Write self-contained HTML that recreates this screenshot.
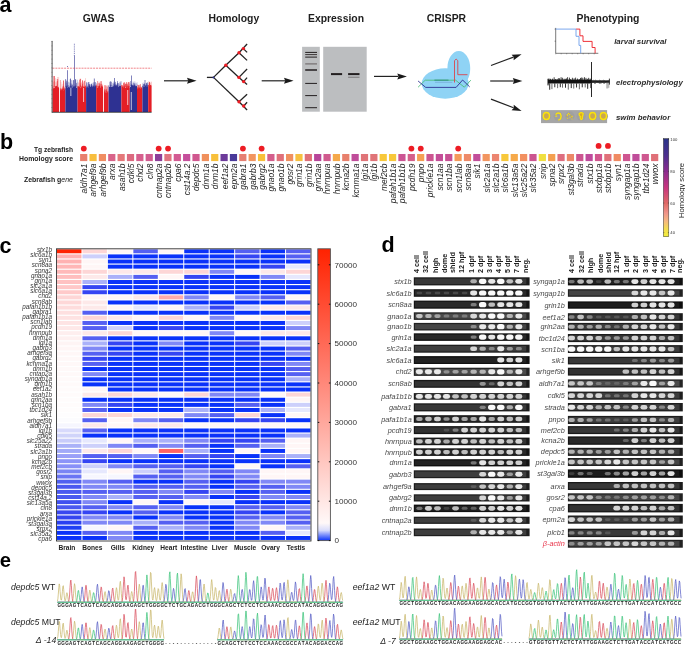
<!DOCTYPE html>
<html><head><meta charset="utf-8"><style>
html,body{margin:0;padding:0;background:#fff;}
body{width:685px;height:645px;overflow:hidden;}
svg{display:block;font-family:"Liberation Sans", sans-serif;will-change:transform;}
</style></head><body>
<svg width="685" height="645" viewBox="0 0 685 645">
<text x="-0.50" y="11.60" font-size="21.5" font-weight="bold" font-style="normal" fill="#000" text-anchor="start" >a</text>
<text x="0.00" y="148.60" font-size="21.5" font-weight="bold" font-style="normal" fill="#000" text-anchor="start" >b</text>
<text x="-0.50" y="252.60" font-size="21.5" font-weight="bold" font-style="normal" fill="#000" text-anchor="start" >c</text>
<text x="381.40" y="252.30" font-size="21.5" font-weight="bold" font-style="normal" fill="#000" text-anchor="start" >d</text>
<text x="-0.30" y="567.20" font-size="20.3" font-weight="bold" font-style="normal" fill="#000" text-anchor="start" >e</text>
<text x="98.50" y="21.70" font-size="10.4" font-weight="bold" font-style="normal" fill="#1e1e1e" text-anchor="middle" >GWAS</text>
<text x="233.80" y="21.70" font-size="10.4" font-weight="bold" font-style="normal" fill="#1e1e1e" text-anchor="middle" >Homology</text>
<text x="336.00" y="21.70" font-size="10.4" font-weight="bold" font-style="normal" fill="#1e1e1e" text-anchor="middle" >Expression</text>
<text x="446.50" y="21.70" font-size="10.4" font-weight="bold" font-style="normal" fill="#1e1e1e" text-anchor="middle" >CRISPR</text>
<text x="608.00" y="21.70" font-size="10.4" font-weight="bold" font-style="normal" fill="#1e1e1e" text-anchor="middle" >Phenotyping</text>
<line x1="164.00" y1="80.80" x2="188.00" y2="80.80" stroke="#222" stroke-width="1.2"/>
<polygon points="196.60,80.80 187.00,83.80 188.20,80.80 187.00,77.80" fill="#1a1a1a"/>
<line x1="261.70" y1="80.80" x2="285.00" y2="80.80" stroke="#222" stroke-width="1.2"/>
<polygon points="293.60,80.80 284.00,83.80 285.20,80.80 284.00,77.80" fill="#1a1a1a"/>
<line x1="374.00" y1="76.40" x2="398.30" y2="76.40" stroke="#222" stroke-width="1.2"/>
<polygon points="406.90,76.40 397.30,79.40 398.50,76.40 397.30,73.40" fill="#1a1a1a"/>
<line x1="491.00" y1="65.50" x2="513.53" y2="57.18" stroke="#222" stroke-width="1.2"/>
<polygon points="521.60,54.20 513.63,60.34 513.72,57.11 511.56,54.71" fill="#1a1a1a"/>
<line x1="490.20" y1="81.00" x2="513.80" y2="81.00" stroke="#222" stroke-width="1.2"/>
<polygon points="522.40,81.00 512.80,84.00 514.00,81.00 512.80,78.00" fill="#1a1a1a"/>
<line x1="491.00" y1="99.10" x2="513.58" y2="107.81" stroke="#222" stroke-width="1.2"/>
<polygon points="521.60,110.90 511.56,110.25 513.76,107.88 513.72,104.65" fill="#1a1a1a"/>
<rect x="52.60" y="80.75" width="0.45" height="6.75" fill="#f7a3a3"/>
<rect x="53.10" y="81.88" width="0.45" height="5.62" fill="#f7a3a3"/>
<rect x="53.60" y="85.70" width="0.45" height="1.80" fill="#f7a3a3"/>
<rect x="54.10" y="80.89" width="0.45" height="6.61" fill="#f7a3a3"/>
<rect x="54.60" y="81.33" width="0.45" height="6.17" fill="#f7a3a3"/>
<rect x="55.10" y="82.17" width="0.45" height="5.33" fill="#f7a3a3"/>
<rect x="55.60" y="77.94" width="0.45" height="9.56" fill="#f7a3a3"/>
<rect x="56.10" y="81.38" width="0.45" height="6.12" fill="#f7a3a3"/>
<rect x="56.60" y="82.61" width="0.45" height="4.89" fill="#f7a3a3"/>
<rect x="57.10" y="84.33" width="0.45" height="3.17" fill="#f7a3a3"/>
<rect x="57.60" y="76.99" width="0.45" height="10.51" fill="#f7a3a3"/>
<rect x="58.10" y="79.19" width="0.45" height="8.31" fill="#f7a3a3"/>
<rect x="58.60" y="76.95" width="0.45" height="10.55" fill="#f7a3a3"/>
<rect x="59.10" y="84.50" width="0.45" height="3.00" fill="#f7a3a3"/>
<rect x="53.05" y="76.00" width="0.4" height="11.50" fill="#e41e26"/>
<rect x="54.85" y="86.45" width="0.4" height="1.05" fill="#e41e26"/>
<rect x="55.75" y="85.87" width="0.4" height="1.63" fill="#e41e26"/>
<rect x="56.20" y="86.41" width="0.4" height="1.09" fill="#e41e26"/>
<rect x="57.10" y="80.96" width="0.4" height="6.54" fill="#e41e26"/>
<polygon points="52.60,112.00 52.60,86.67 53.07,86.13 53.54,88.29 54.01,88.29 54.49,87.82 54.96,87.42 55.43,86.25 55.90,85.99 56.37,86.17 56.84,85.51 57.31,87.60 57.79,86.50 58.26,87.84 58.73,86.46 59.20,88.17 59.20,112.00" fill="#e41e26"/>
<rect x="54.30" y="76.00" width="0.6" height="11.50" fill="#e41e26"/>
<rect x="56.90" y="79.00" width="0.6" height="8.50" fill="#e41e26"/>
<rect x="59.80" y="87.63" width="0.45" height="2.37" fill="#f7a3a3"/>
<rect x="60.30" y="80.00" width="0.45" height="10.00" fill="#f7a3a3"/>
<rect x="60.80" y="81.89" width="0.45" height="8.11" fill="#f7a3a3"/>
<rect x="61.30" y="88.19" width="0.45" height="1.81" fill="#f7a3a3"/>
<rect x="61.80" y="84.23" width="0.45" height="5.77" fill="#f7a3a3"/>
<rect x="62.30" y="88.82" width="0.45" height="1.18" fill="#f7a3a3"/>
<rect x="62.80" y="83.58" width="0.45" height="6.42" fill="#f7a3a3"/>
<rect x="63.30" y="80.66" width="0.45" height="9.34" fill="#f7a3a3"/>
<rect x="63.80" y="85.67" width="0.45" height="4.33" fill="#f7a3a3"/>
<rect x="64.30" y="87.01" width="0.45" height="2.99" fill="#f7a3a3"/>
<rect x="64.80" y="82.43" width="0.45" height="7.57" fill="#f7a3a3"/>
<rect x="65.30" y="80.78" width="0.45" height="9.22" fill="#f7a3a3"/>
<rect x="59.80" y="80.00" width="0.4" height="10.00" fill="#e41e26"/>
<rect x="60.70" y="88.15" width="0.4" height="1.85" fill="#e41e26"/>
<rect x="61.15" y="88.81" width="0.4" height="1.19" fill="#e41e26"/>
<rect x="62.05" y="86.54" width="0.4" height="3.46" fill="#e41e26"/>
<rect x="62.50" y="88.37" width="0.4" height="1.63" fill="#e41e26"/>
<rect x="63.40" y="85.90" width="0.4" height="4.10" fill="#e41e26"/>
<rect x="63.85" y="87.36" width="0.4" height="2.64" fill="#e41e26"/>
<rect x="64.30" y="88.06" width="0.4" height="1.94" fill="#e41e26"/>
<polygon points="59.80,112.00 59.80,88.71 60.27,90.45 60.73,88.43 61.20,88.98 61.67,90.36 62.13,89.73 62.60,88.10 63.07,90.77 63.53,88.44 64.00,88.57 64.47,90.12 64.93,88.79 65.40,88.69 65.40,112.00" fill="#e41e26"/>
<rect x="63.20" y="80.50" width="0.6" height="9.50" fill="#e41e26"/>
<rect x="65.40" y="79.51" width="0.45" height="7.49" fill="#9b9dcc"/>
<rect x="65.90" y="79.63" width="0.45" height="7.37" fill="#9b9dcc"/>
<rect x="66.40" y="83.08" width="0.45" height="3.92" fill="#9b9dcc"/>
<rect x="66.90" y="80.70" width="0.45" height="6.30" fill="#9b9dcc"/>
<rect x="67.40" y="83.21" width="0.45" height="3.79" fill="#9b9dcc"/>
<rect x="67.90" y="81.60" width="0.45" height="5.40" fill="#9b9dcc"/>
<rect x="68.40" y="82.17" width="0.45" height="4.83" fill="#9b9dcc"/>
<rect x="68.90" y="85.71" width="0.45" height="1.29" fill="#9b9dcc"/>
<rect x="69.40" y="82.39" width="0.45" height="4.61" fill="#9b9dcc"/>
<rect x="69.90" y="83.02" width="0.45" height="3.98" fill="#9b9dcc"/>
<rect x="70.40" y="85.07" width="0.45" height="1.93" fill="#9b9dcc"/>
<rect x="70.90" y="80.28" width="0.45" height="6.72" fill="#9b9dcc"/>
<rect x="71.40" y="80.08" width="0.45" height="6.92" fill="#9b9dcc"/>
<rect x="71.90" y="85.36" width="0.45" height="1.64" fill="#9b9dcc"/>
<rect x="72.40" y="84.72" width="0.45" height="2.28" fill="#9b9dcc"/>
<rect x="72.90" y="80.75" width="0.45" height="6.25" fill="#9b9dcc"/>
<rect x="73.40" y="80.33" width="0.45" height="6.67" fill="#9b9dcc"/>
<rect x="73.90" y="84.18" width="0.45" height="2.82" fill="#9b9dcc"/>
<rect x="74.40" y="85.58" width="0.45" height="1.42" fill="#9b9dcc"/>
<rect x="74.90" y="80.38" width="0.45" height="6.62" fill="#9b9dcc"/>
<rect x="75.40" y="85.65" width="0.45" height="1.35" fill="#9b9dcc"/>
<rect x="75.90" y="85.18" width="0.45" height="1.82" fill="#9b9dcc"/>
<rect x="76.40" y="83.22" width="0.45" height="3.78" fill="#9b9dcc"/>
<rect x="76.90" y="81.95" width="0.45" height="5.05" fill="#9b9dcc"/>
<rect x="77.40" y="79.73" width="0.45" height="7.27" fill="#9b9dcc"/>
<rect x="65.40" y="79.00" width="0.4" height="8.00" fill="#2e3192"/>
<rect x="65.85" y="82.34" width="0.4" height="4.66" fill="#2e3192"/>
<rect x="66.30" y="80.79" width="0.4" height="6.21" fill="#2e3192"/>
<rect x="67.20" y="85.42" width="0.4" height="1.58" fill="#2e3192"/>
<rect x="68.10" y="85.22" width="0.4" height="1.78" fill="#2e3192"/>
<rect x="69.90" y="79.00" width="0.4" height="8.00" fill="#2e3192"/>
<rect x="70.35" y="85.95" width="0.4" height="1.05" fill="#2e3192"/>
<rect x="70.80" y="84.23" width="0.4" height="2.77" fill="#2e3192"/>
<rect x="71.25" y="85.42" width="0.4" height="1.58" fill="#2e3192"/>
<rect x="71.70" y="83.45" width="0.4" height="3.55" fill="#2e3192"/>
<rect x="72.15" y="84.65" width="0.4" height="2.35" fill="#2e3192"/>
<rect x="74.85" y="85.89" width="0.4" height="1.11" fill="#2e3192"/>
<rect x="75.30" y="79.00" width="0.4" height="8.00" fill="#2e3192"/>
<rect x="76.65" y="82.97" width="0.4" height="4.03" fill="#2e3192"/>
<polygon points="65.40,112.00 65.40,85.76 65.85,87.80 66.30,85.03 66.76,86.44 67.21,87.01 67.66,87.50 68.11,87.01 68.56,86.91 69.01,87.18 69.47,87.55 69.92,85.86 70.37,86.86 70.82,87.50 71.27,87.41 71.73,86.05 72.18,87.17 72.63,87.39 73.08,86.52 73.53,86.67 73.99,85.95 74.44,86.55 74.89,86.63 75.34,85.04 75.79,86.72 76.24,87.78 76.70,87.44 77.15,86.98 77.60,85.97 77.60,112.00" fill="#2e3192"/>
<rect x="67.20" y="70.20" width="0.6" height="16.80" fill="#2e3192"/>
<rect x="70.30" y="78.50" width="0.6" height="8.50" fill="#2e3192"/>
<rect x="72.90" y="80.00" width="0.6" height="7.00" fill="#2e3192"/>
<rect x="74.00" y="56.00" width="0.6" height="31.00" fill="#2e3192"/>
<rect x="75.50" y="79.50" width="0.6" height="7.50" fill="#2e3192"/>
<rect x="77.60" y="84.25" width="0.45" height="3.25" fill="#f7a3a3"/>
<rect x="78.10" y="82.94" width="0.45" height="4.56" fill="#f7a3a3"/>
<rect x="78.60" y="81.74" width="0.45" height="5.76" fill="#f7a3a3"/>
<rect x="79.10" y="85.13" width="0.45" height="2.37" fill="#f7a3a3"/>
<rect x="79.60" y="78.71" width="0.45" height="8.79" fill="#f7a3a3"/>
<rect x="80.10" y="84.38" width="0.45" height="3.12" fill="#f7a3a3"/>
<rect x="80.60" y="78.25" width="0.45" height="9.25" fill="#f7a3a3"/>
<rect x="81.10" y="83.11" width="0.45" height="4.39" fill="#f7a3a3"/>
<rect x="81.60" y="82.09" width="0.45" height="5.41" fill="#f7a3a3"/>
<rect x="82.10" y="79.96" width="0.45" height="7.54" fill="#f7a3a3"/>
<rect x="82.60" y="83.94" width="0.45" height="3.56" fill="#f7a3a3"/>
<rect x="83.10" y="82.23" width="0.45" height="5.27" fill="#f7a3a3"/>
<rect x="83.60" y="83.22" width="0.45" height="4.28" fill="#f7a3a3"/>
<rect x="84.10" y="85.82" width="0.45" height="1.68" fill="#f7a3a3"/>
<rect x="84.60" y="80.17" width="0.45" height="7.33" fill="#f7a3a3"/>
<rect x="85.10" y="78.10" width="0.45" height="9.40" fill="#f7a3a3"/>
<rect x="85.60" y="80.56" width="0.45" height="6.94" fill="#f7a3a3"/>
<rect x="78.05" y="85.94" width="0.4" height="1.56" fill="#e41e26"/>
<rect x="79.40" y="79.83" width="0.4" height="7.67" fill="#e41e26"/>
<rect x="79.85" y="83.21" width="0.4" height="4.29" fill="#e41e26"/>
<rect x="80.30" y="84.81" width="0.4" height="2.69" fill="#e41e26"/>
<rect x="82.10" y="83.88" width="0.4" height="3.62" fill="#e41e26"/>
<rect x="82.55" y="86.06" width="0.4" height="1.44" fill="#e41e26"/>
<rect x="85.25" y="85.94" width="0.4" height="1.56" fill="#e41e26"/>
<polygon points="77.60,112.00 77.60,86.13 78.07,85.94 78.54,86.54 79.02,87.18 79.49,86.78 79.96,86.25 80.43,87.82 80.91,88.25 81.38,86.66 81.85,85.52 82.32,85.39 82.79,87.92 83.27,85.42 83.74,87.43 84.21,87.01 84.68,86.23 85.16,87.67 85.63,85.36 86.10,85.71 86.10,112.00" fill="#e41e26"/>
<rect x="80.20" y="79.00" width="0.6" height="8.50" fill="#e41e26"/>
<rect x="82.20" y="80.50" width="0.6" height="7.00" fill="#e41e26"/>
<rect x="83.90" y="81.00" width="0.6" height="6.50" fill="#e41e26"/>
<rect x="86.10" y="83.82" width="0.45" height="3.18" fill="#9b9dcc"/>
<rect x="86.60" y="82.10" width="0.45" height="4.90" fill="#9b9dcc"/>
<rect x="87.10" y="85.32" width="0.45" height="1.68" fill="#9b9dcc"/>
<rect x="87.60" y="82.95" width="0.45" height="4.05" fill="#9b9dcc"/>
<rect x="88.10" y="82.56" width="0.45" height="4.44" fill="#9b9dcc"/>
<rect x="88.60" y="82.19" width="0.45" height="4.81" fill="#9b9dcc"/>
<rect x="89.10" y="84.52" width="0.45" height="2.48" fill="#9b9dcc"/>
<rect x="89.60" y="83.79" width="0.45" height="3.21" fill="#9b9dcc"/>
<rect x="90.10" y="84.52" width="0.45" height="2.48" fill="#9b9dcc"/>
<rect x="90.60" y="84.62" width="0.45" height="2.38" fill="#9b9dcc"/>
<rect x="91.10" y="85.23" width="0.45" height="1.77" fill="#9b9dcc"/>
<rect x="91.60" y="85.83" width="0.45" height="1.17" fill="#9b9dcc"/>
<rect x="92.10" y="84.74" width="0.45" height="2.26" fill="#9b9dcc"/>
<rect x="92.60" y="82.80" width="0.45" height="4.20" fill="#9b9dcc"/>
<rect x="93.10" y="83.90" width="0.45" height="3.10" fill="#9b9dcc"/>
<rect x="93.60" y="82.71" width="0.45" height="4.29" fill="#9b9dcc"/>
<rect x="94.10" y="82.04" width="0.45" height="4.96" fill="#9b9dcc"/>
<rect x="94.60" y="83.89" width="0.45" height="3.11" fill="#9b9dcc"/>
<rect x="95.10" y="84.86" width="0.45" height="2.14" fill="#9b9dcc"/>
<rect x="95.60" y="82.72" width="0.45" height="4.28" fill="#9b9dcc"/>
<rect x="96.10" y="83.09" width="0.45" height="3.91" fill="#9b9dcc"/>
<rect x="86.10" y="82.41" width="0.4" height="4.59" fill="#2e3192"/>
<rect x="87.90" y="82.00" width="0.4" height="5.00" fill="#2e3192"/>
<rect x="88.80" y="82.00" width="0.4" height="5.00" fill="#2e3192"/>
<rect x="89.70" y="84.19" width="0.4" height="2.81" fill="#2e3192"/>
<rect x="91.05" y="83.48" width="0.4" height="3.52" fill="#2e3192"/>
<rect x="93.75" y="82.16" width="0.4" height="4.84" fill="#2e3192"/>
<rect x="95.55" y="82.00" width="0.4" height="5.00" fill="#2e3192"/>
<polygon points="86.10,112.00 86.10,87.73 86.56,86.41 87.02,87.17 87.48,85.76 87.94,87.53 88.40,87.37 88.85,85.85 89.31,85.05 89.77,86.12 90.23,86.45 90.69,87.10 91.15,86.26 91.61,84.89 92.07,87.23 92.53,84.99 92.99,87.20 93.45,85.32 93.90,85.81 94.36,87.16 94.82,85.22 95.28,85.25 95.74,86.35 96.20,86.97 96.20,112.00" fill="#2e3192"/>
<rect x="88.70" y="84.00" width="0.6" height="3.00" fill="#2e3192"/>
<rect x="91.20" y="84.00" width="0.6" height="3.00" fill="#2e3192"/>
<rect x="93.90" y="78.50" width="0.6" height="8.50" fill="#2e3192"/>
<rect x="96.20" y="85.20" width="0.45" height="1.80" fill="#f7a3a3"/>
<rect x="96.70" y="84.45" width="0.45" height="2.55" fill="#f7a3a3"/>
<rect x="97.20" y="85.73" width="0.45" height="1.27" fill="#f7a3a3"/>
<rect x="97.70" y="83.46" width="0.45" height="3.54" fill="#f7a3a3"/>
<rect x="98.20" y="85.75" width="0.45" height="1.25" fill="#f7a3a3"/>
<rect x="98.70" y="81.43" width="0.45" height="5.57" fill="#f7a3a3"/>
<rect x="99.20" y="82.11" width="0.45" height="4.89" fill="#f7a3a3"/>
<rect x="99.70" y="83.63" width="0.45" height="3.37" fill="#f7a3a3"/>
<rect x="100.20" y="82.45" width="0.45" height="4.55" fill="#f7a3a3"/>
<rect x="100.70" y="84.64" width="0.45" height="2.36" fill="#f7a3a3"/>
<rect x="101.20" y="84.19" width="0.45" height="2.81" fill="#f7a3a3"/>
<rect x="101.70" y="83.61" width="0.45" height="3.39" fill="#f7a3a3"/>
<rect x="102.20" y="85.22" width="0.45" height="1.78" fill="#f7a3a3"/>
<rect x="102.70" y="83.80" width="0.45" height="3.20" fill="#f7a3a3"/>
<rect x="96.20" y="84.56" width="0.4" height="2.44" fill="#e41e26"/>
<rect x="97.55" y="81.00" width="0.4" height="6.00" fill="#e41e26"/>
<rect x="99.35" y="83.70" width="0.4" height="3.30" fill="#e41e26"/>
<rect x="100.70" y="81.00" width="0.4" height="6.00" fill="#e41e26"/>
<rect x="101.60" y="81.16" width="0.4" height="5.84" fill="#e41e26"/>
<polygon points="96.20,112.00 96.20,85.00 96.67,86.42 97.13,86.04 97.60,87.67 98.07,87.57 98.53,85.61 99.00,86.22 99.47,85.18 99.93,86.10 100.40,87.25 100.87,87.50 101.33,86.23 101.80,85.75 102.27,85.37 102.73,86.65 103.20,87.58 103.20,112.00" fill="#e41e26"/>
<rect x="98.70" y="83.00" width="0.6" height="4.00" fill="#e41e26"/>
<rect x="100.70" y="84.00" width="0.6" height="3.00" fill="#e41e26"/>
<rect x="103.80" y="85.78" width="0.45" height="6.22" fill="#f7a3a3"/>
<rect x="104.30" y="89.68" width="0.45" height="2.32" fill="#f7a3a3"/>
<rect x="104.80" y="85.14" width="0.45" height="6.86" fill="#f7a3a3"/>
<rect x="105.30" y="86.16" width="0.45" height="5.84" fill="#f7a3a3"/>
<rect x="105.80" y="86.36" width="0.45" height="5.64" fill="#f7a3a3"/>
<rect x="106.30" y="89.12" width="0.45" height="2.88" fill="#f7a3a3"/>
<rect x="106.80" y="86.93" width="0.45" height="5.07" fill="#f7a3a3"/>
<rect x="107.30" y="87.13" width="0.45" height="4.87" fill="#f7a3a3"/>
<rect x="107.80" y="88.72" width="0.45" height="3.28" fill="#f7a3a3"/>
<rect x="108.30" y="85.63" width="0.45" height="6.37" fill="#f7a3a3"/>
<rect x="104.25" y="88.86" width="0.4" height="3.14" fill="#e41e26"/>
<rect x="104.70" y="90.34" width="0.4" height="1.66" fill="#e41e26"/>
<rect x="105.60" y="89.59" width="0.4" height="2.41" fill="#e41e26"/>
<rect x="106.05" y="88.74" width="0.4" height="3.26" fill="#e41e26"/>
<rect x="106.50" y="90.31" width="0.4" height="1.69" fill="#e41e26"/>
<polygon points="103.80,112.00 103.80,91.64 104.28,92.37 104.76,90.50 105.24,92.02 105.72,92.23 106.20,92.51 106.68,90.75 107.16,90.74 107.64,92.57 108.12,90.45 108.60,92.80 108.60,112.00" fill="#e41e26"/>
<rect x="104.70" y="85.00" width="0.6" height="7.00" fill="#e41e26"/>
<rect x="106.70" y="85.50" width="0.6" height="6.50" fill="#e41e26"/>
<rect x="108.60" y="84.99" width="0.45" height="1.51" fill="#9b9dcc"/>
<rect x="109.10" y="81.60" width="0.45" height="4.90" fill="#9b9dcc"/>
<rect x="109.60" y="82.08" width="0.45" height="4.42" fill="#9b9dcc"/>
<rect x="110.10" y="84.27" width="0.45" height="2.23" fill="#9b9dcc"/>
<rect x="110.60" y="82.17" width="0.45" height="4.33" fill="#9b9dcc"/>
<rect x="111.10" y="81.44" width="0.45" height="5.06" fill="#9b9dcc"/>
<rect x="111.60" y="84.74" width="0.45" height="1.76" fill="#9b9dcc"/>
<rect x="112.10" y="82.90" width="0.45" height="3.60" fill="#9b9dcc"/>
<rect x="112.60" y="84.55" width="0.45" height="1.95" fill="#9b9dcc"/>
<rect x="113.10" y="81.57" width="0.45" height="4.93" fill="#9b9dcc"/>
<rect x="113.60" y="82.81" width="0.45" height="3.69" fill="#9b9dcc"/>
<rect x="114.10" y="84.08" width="0.45" height="2.42" fill="#9b9dcc"/>
<rect x="114.60" y="81.08" width="0.45" height="5.42" fill="#9b9dcc"/>
<rect x="115.10" y="81.90" width="0.45" height="4.60" fill="#9b9dcc"/>
<rect x="115.60" y="84.07" width="0.45" height="2.43" fill="#9b9dcc"/>
<rect x="116.10" y="85.10" width="0.45" height="1.40" fill="#9b9dcc"/>
<rect x="116.60" y="85.36" width="0.45" height="1.14" fill="#9b9dcc"/>
<rect x="117.10" y="81.52" width="0.45" height="4.98" fill="#9b9dcc"/>
<rect x="117.60" y="83.28" width="0.45" height="3.22" fill="#9b9dcc"/>
<rect x="118.10" y="84.41" width="0.45" height="2.09" fill="#9b9dcc"/>
<rect x="118.60" y="83.26" width="0.45" height="3.24" fill="#9b9dcc"/>
<rect x="119.10" y="84.09" width="0.45" height="2.41" fill="#9b9dcc"/>
<rect x="119.60" y="81.85" width="0.45" height="4.65" fill="#9b9dcc"/>
<rect x="120.10" y="81.32" width="0.45" height="5.18" fill="#9b9dcc"/>
<rect x="120.60" y="81.48" width="0.45" height="5.02" fill="#9b9dcc"/>
<rect x="121.10" y="81.17" width="0.45" height="5.33" fill="#9b9dcc"/>
<rect x="109.95" y="84.89" width="0.4" height="1.61" fill="#2e3192"/>
<rect x="110.40" y="81.00" width="0.4" height="5.50" fill="#2e3192"/>
<rect x="111.75" y="85.31" width="0.4" height="1.19" fill="#2e3192"/>
<rect x="113.55" y="83.61" width="0.4" height="2.89" fill="#2e3192"/>
<rect x="114.45" y="82.74" width="0.4" height="3.76" fill="#2e3192"/>
<rect x="114.90" y="81.88" width="0.4" height="4.62" fill="#2e3192"/>
<rect x="115.80" y="83.68" width="0.4" height="2.82" fill="#2e3192"/>
<rect x="116.70" y="84.85" width="0.4" height="1.65" fill="#2e3192"/>
<rect x="117.15" y="83.34" width="0.4" height="3.16" fill="#2e3192"/>
<rect x="117.60" y="81.00" width="0.4" height="5.50" fill="#2e3192"/>
<rect x="119.85" y="82.75" width="0.4" height="3.75" fill="#2e3192"/>
<polygon points="108.60,112.00 108.60,85.07 109.06,87.03 109.51,86.53 109.97,86.63 110.43,86.74 110.89,85.52 111.34,86.99 111.80,86.94 112.26,86.38 112.71,86.60 113.17,86.60 113.63,85.52 114.09,86.47 114.54,84.51 115.00,85.33 115.46,85.71 115.91,84.33 116.37,85.37 116.83,86.22 117.29,86.17 117.74,85.00 118.20,87.13 118.66,86.30 119.11,85.31 119.57,86.28 120.03,86.01 120.49,85.90 120.94,85.47 121.40,87.30 121.40,112.00" fill="#2e3192"/>
<rect x="110.70" y="82.00" width="0.6" height="4.50" fill="#2e3192"/>
<rect x="114.30" y="78.00" width="0.6" height="8.50" fill="#2e3192"/>
<rect x="117.70" y="83.00" width="0.6" height="3.50" fill="#2e3192"/>
<rect x="121.40" y="84.57" width="0.45" height="2.43" fill="#f7a3a3"/>
<rect x="121.90" y="84.81" width="0.45" height="2.19" fill="#f7a3a3"/>
<rect x="122.40" y="85.05" width="0.45" height="1.95" fill="#f7a3a3"/>
<rect x="122.90" y="85.92" width="0.45" height="1.08" fill="#f7a3a3"/>
<rect x="123.40" y="82.09" width="0.45" height="4.91" fill="#f7a3a3"/>
<rect x="123.90" y="84.46" width="0.45" height="2.54" fill="#f7a3a3"/>
<rect x="124.40" y="84.96" width="0.45" height="2.04" fill="#f7a3a3"/>
<rect x="124.90" y="83.03" width="0.45" height="3.97" fill="#f7a3a3"/>
<rect x="125.40" y="83.61" width="0.45" height="3.39" fill="#f7a3a3"/>
<rect x="125.90" y="82.20" width="0.45" height="4.80" fill="#f7a3a3"/>
<rect x="126.40" y="82.78" width="0.45" height="4.22" fill="#f7a3a3"/>
<rect x="126.90" y="83.50" width="0.45" height="3.50" fill="#f7a3a3"/>
<rect x="127.40" y="82.39" width="0.45" height="4.61" fill="#f7a3a3"/>
<rect x="127.90" y="83.00" width="0.45" height="4.00" fill="#f7a3a3"/>
<rect x="128.40" y="85.62" width="0.45" height="1.38" fill="#f7a3a3"/>
<rect x="128.90" y="84.20" width="0.45" height="2.80" fill="#f7a3a3"/>
<rect x="129.40" y="84.03" width="0.45" height="2.97" fill="#f7a3a3"/>
<rect x="123.65" y="83.27" width="0.4" height="3.73" fill="#e41e26"/>
<rect x="124.55" y="82.00" width="0.4" height="5.00" fill="#e41e26"/>
<rect x="125.00" y="84.09" width="0.4" height="2.91" fill="#e41e26"/>
<rect x="125.45" y="83.95" width="0.4" height="3.05" fill="#e41e26"/>
<rect x="126.35" y="82.00" width="0.4" height="5.00" fill="#e41e26"/>
<rect x="126.80" y="83.76" width="0.4" height="3.24" fill="#e41e26"/>
<rect x="127.70" y="84.99" width="0.4" height="2.01" fill="#e41e26"/>
<rect x="129.05" y="82.22" width="0.4" height="4.78" fill="#e41e26"/>
<rect x="129.50" y="85.96" width="0.4" height="1.04" fill="#e41e26"/>
<polygon points="121.40,112.00 121.40,85.54 121.87,84.93 122.33,85.27 122.80,87.06 123.27,85.97 123.73,87.49 124.20,87.05 124.67,84.95 125.13,87.77 125.60,87.63 126.07,85.02 126.53,87.52 127.00,86.09 127.47,86.23 127.93,87.72 128.40,85.53 128.87,86.37 129.33,87.61 129.80,86.97 129.80,112.00" fill="#e41e26"/>
<rect x="123.70" y="83.00" width="0.6" height="4.00" fill="#e41e26"/>
<rect x="126.70" y="84.00" width="0.6" height="3.00" fill="#e41e26"/>
<rect x="128.20" y="82.00" width="0.6" height="5.00" fill="#e41e26"/>
<rect x="129.80" y="83.11" width="0.45" height="3.39" fill="#9b9dcc"/>
<rect x="130.30" y="85.40" width="0.45" height="1.10" fill="#9b9dcc"/>
<rect x="130.80" y="84.68" width="0.45" height="1.82" fill="#9b9dcc"/>
<rect x="131.30" y="83.72" width="0.45" height="2.78" fill="#9b9dcc"/>
<rect x="131.80" y="81.52" width="0.45" height="4.98" fill="#9b9dcc"/>
<rect x="132.30" y="83.81" width="0.45" height="2.69" fill="#9b9dcc"/>
<rect x="132.80" y="83.05" width="0.45" height="3.45" fill="#9b9dcc"/>
<rect x="133.30" y="81.92" width="0.45" height="4.58" fill="#9b9dcc"/>
<rect x="133.80" y="81.23" width="0.45" height="5.27" fill="#9b9dcc"/>
<rect x="134.30" y="83.38" width="0.45" height="3.12" fill="#9b9dcc"/>
<rect x="134.80" y="81.56" width="0.45" height="4.94" fill="#9b9dcc"/>
<rect x="135.30" y="82.99" width="0.45" height="3.51" fill="#9b9dcc"/>
<rect x="135.80" y="84.01" width="0.45" height="2.49" fill="#9b9dcc"/>
<rect x="136.30" y="83.05" width="0.45" height="3.45" fill="#9b9dcc"/>
<rect x="136.80" y="82.18" width="0.45" height="4.32" fill="#9b9dcc"/>
<rect x="130.25" y="81.00" width="0.4" height="5.50" fill="#2e3192"/>
<rect x="132.50" y="85.14" width="0.4" height="1.36" fill="#2e3192"/>
<rect x="134.30" y="84.55" width="0.4" height="1.95" fill="#2e3192"/>
<rect x="137.00" y="84.64" width="0.4" height="1.86" fill="#2e3192"/>
<polygon points="129.80,112.00 129.80,87.24 130.28,87.05 130.76,86.94 131.24,84.42 131.72,84.48 132.20,85.11 132.68,85.58 133.16,86.17 133.64,84.61 134.12,85.92 134.60,84.52 135.08,84.56 135.56,86.33 136.04,85.95 136.52,86.19 137.00,85.42 137.00,112.00" fill="#2e3192"/>
<rect x="131.20" y="75.50" width="0.6" height="11.00" fill="#2e3192"/>
<rect x="133.70" y="83.00" width="0.6" height="3.50" fill="#2e3192"/>
<rect x="137.00" y="85.91" width="0.45" height="3.09" fill="#f7a3a3"/>
<rect x="137.50" y="84.84" width="0.45" height="4.16" fill="#f7a3a3"/>
<rect x="138.00" y="85.37" width="0.45" height="3.63" fill="#f7a3a3"/>
<rect x="138.50" y="86.98" width="0.45" height="2.02" fill="#f7a3a3"/>
<rect x="139.00" y="87.35" width="0.45" height="1.65" fill="#f7a3a3"/>
<rect x="139.50" y="84.30" width="0.45" height="4.70" fill="#f7a3a3"/>
<rect x="140.00" y="84.48" width="0.45" height="4.52" fill="#f7a3a3"/>
<rect x="140.50" y="87.24" width="0.45" height="1.76" fill="#f7a3a3"/>
<rect x="141.00" y="86.49" width="0.45" height="2.51" fill="#f7a3a3"/>
<rect x="141.50" y="87.08" width="0.45" height="1.92" fill="#f7a3a3"/>
<rect x="142.00" y="84.85" width="0.45" height="4.15" fill="#f7a3a3"/>
<rect x="137.00" y="87.10" width="0.4" height="1.90" fill="#e41e26"/>
<rect x="137.90" y="84.82" width="0.4" height="4.18" fill="#e41e26"/>
<rect x="138.80" y="85.61" width="0.4" height="3.39" fill="#e41e26"/>
<rect x="140.15" y="86.62" width="0.4" height="2.38" fill="#e41e26"/>
<rect x="140.60" y="84.00" width="0.4" height="5.00" fill="#e41e26"/>
<rect x="141.05" y="87.74" width="0.4" height="1.26" fill="#e41e26"/>
<polygon points="137.00,112.00 137.00,87.70 137.45,89.13 137.90,87.03 138.35,87.44 138.80,88.79 139.25,87.05 139.70,87.71 140.15,88.97 140.60,88.88 141.05,87.65 141.50,87.23 141.95,87.87 142.40,88.98 142.40,112.00" fill="#e41e26"/>
<rect x="138.70" y="85.00" width="0.6" height="4.00" fill="#e41e26"/>
<rect x="142.40" y="83.28" width="0.45" height="3.22" fill="#9b9dcc"/>
<rect x="142.90" y="82.41" width="0.45" height="4.09" fill="#9b9dcc"/>
<rect x="143.40" y="84.48" width="0.45" height="2.02" fill="#9b9dcc"/>
<rect x="143.90" y="83.99" width="0.45" height="2.51" fill="#9b9dcc"/>
<rect x="144.40" y="85.21" width="0.45" height="1.29" fill="#9b9dcc"/>
<rect x="144.90" y="85.29" width="0.45" height="1.21" fill="#9b9dcc"/>
<rect x="145.40" y="85.20" width="0.45" height="1.30" fill="#9b9dcc"/>
<rect x="145.90" y="83.53" width="0.45" height="2.97" fill="#9b9dcc"/>
<rect x="146.40" y="84.81" width="0.45" height="1.69" fill="#9b9dcc"/>
<rect x="146.90" y="83.07" width="0.45" height="3.43" fill="#9b9dcc"/>
<rect x="147.40" y="83.11" width="0.45" height="3.39" fill="#9b9dcc"/>
<rect x="147.90" y="83.40" width="0.45" height="3.10" fill="#9b9dcc"/>
<rect x="143.30" y="84.15" width="0.4" height="2.35" fill="#2e3192"/>
<rect x="143.75" y="84.15" width="0.4" height="2.35" fill="#2e3192"/>
<rect x="144.20" y="84.03" width="0.4" height="2.47" fill="#2e3192"/>
<rect x="144.65" y="83.01" width="0.4" height="3.49" fill="#2e3192"/>
<rect x="146.90" y="82.00" width="0.4" height="4.50" fill="#2e3192"/>
<rect x="147.80" y="85.43" width="0.4" height="1.07" fill="#2e3192"/>
<polygon points="142.40,112.00 142.40,85.85 142.88,85.93 143.37,86.00 143.85,87.20 144.33,86.25 144.82,86.71 145.30,84.49 145.78,85.94 146.27,86.66 146.75,84.55 147.23,84.55 147.72,86.51 148.20,87.00 148.20,112.00" fill="#2e3192"/>
<rect x="144.70" y="80.00" width="0.6" height="6.50" fill="#2e3192"/>
<rect x="146.20" y="83.00" width="0.6" height="3.50" fill="#2e3192"/>
<rect x="148.20" y="81.25" width="0.45" height="3.75" fill="#f7a3a3"/>
<rect x="148.70" y="82.90" width="0.45" height="2.10" fill="#f7a3a3"/>
<rect x="149.20" y="81.43" width="0.45" height="3.57" fill="#f7a3a3"/>
<rect x="149.70" y="83.24" width="0.45" height="1.76" fill="#f7a3a3"/>
<rect x="150.20" y="82.95" width="0.45" height="2.05" fill="#f7a3a3"/>
<rect x="150.70" y="81.74" width="0.45" height="3.26" fill="#f7a3a3"/>
<rect x="151.20" y="81.66" width="0.45" height="3.34" fill="#f7a3a3"/>
<rect x="149.55" y="82.76" width="0.4" height="2.24" fill="#e41e26"/>
<polygon points="148.20,112.00 148.20,84.96 148.69,84.92 149.17,85.54 149.66,84.03 150.14,85.28 150.63,84.80 151.11,85.36 151.60,85.22 151.60,112.00" fill="#e41e26"/>
<rect x="149.20" y="82.00" width="0.6" height="3.00" fill="#e41e26"/>
<rect x="73.90" y="43.80" width="0.8" height="0.8" fill="#2e3192"/>
<rect x="73.90" y="45.70" width="0.8" height="0.8" fill="#2e3192"/>
<rect x="73.90" y="47.60" width="0.8" height="0.8" fill="#2e3192"/>
<rect x="73.90" y="49.50" width="0.8" height="0.8" fill="#2e3192"/>
<rect x="73.90" y="51.40" width="0.8" height="0.8" fill="#2e3192"/>
<rect x="73.90" y="53.30" width="0.8" height="0.8" fill="#2e3192"/>
<rect x="73.90" y="55.20" width="0.8" height="0.8" fill="#2e3192"/>
<rect x="67.10" y="66.0" width="0.8" height="0.8" fill="#2e3192"/>
<rect x="59.15" y="80" width="0.7" height="32" fill="#fff"/>
<rect x="103.15" y="84" width="0.7" height="28" fill="#fff"/>
<rect x="70.55" y="88" width="0.7" height="8" fill="#fff"/>
<rect x="83.35" y="88" width="0.7" height="14" fill="#fff"/>
<rect x="127.45" y="90" width="0.7" height="15" fill="#fff"/>
<rect x="130.85" y="92" width="0.7" height="18" fill="#fff"/>
<line x1="52.5" y1="68.2" x2="151.6" y2="68.2" stroke="#e8323a" stroke-width="0.6" stroke-dasharray="2.0,0.9"/>
<line x1="52.1" y1="40.9" x2="52.1" y2="112.3" stroke="#222" stroke-width="0.8"/>
<line x1="51.7" y1="112.3" x2="151.6" y2="112.3" stroke="#222" stroke-width="0.8"/>
<line x1="51.4" y1="41.50" x2="52.4" y2="41.50" stroke="#444" stroke-width="0.4"/>
<line x1="51.4" y1="45.90" x2="52.4" y2="45.90" stroke="#444" stroke-width="0.4"/>
<line x1="51.4" y1="50.30" x2="52.4" y2="50.30" stroke="#444" stroke-width="0.4"/>
<line x1="51.4" y1="54.70" x2="52.4" y2="54.70" stroke="#444" stroke-width="0.4"/>
<line x1="51.4" y1="59.10" x2="52.4" y2="59.10" stroke="#444" stroke-width="0.4"/>
<line x1="51.4" y1="63.50" x2="52.4" y2="63.50" stroke="#444" stroke-width="0.4"/>
<line x1="51.4" y1="67.90" x2="52.4" y2="67.90" stroke="#444" stroke-width="0.4"/>
<line x1="51.4" y1="72.30" x2="52.4" y2="72.30" stroke="#444" stroke-width="0.4"/>
<line x1="51.4" y1="76.70" x2="52.4" y2="76.70" stroke="#444" stroke-width="0.4"/>
<line x1="51.4" y1="81.10" x2="52.4" y2="81.10" stroke="#444" stroke-width="0.4"/>
<line x1="51.4" y1="85.50" x2="52.4" y2="85.50" stroke="#444" stroke-width="0.4"/>
<line x1="51.4" y1="89.90" x2="52.4" y2="89.90" stroke="#444" stroke-width="0.4"/>
<line x1="51.4" y1="94.30" x2="52.4" y2="94.30" stroke="#444" stroke-width="0.4"/>
<line x1="51.4" y1="98.70" x2="52.4" y2="98.70" stroke="#444" stroke-width="0.4"/>
<line x1="51.4" y1="103.10" x2="52.4" y2="103.10" stroke="#444" stroke-width="0.4"/>
<line x1="51.4" y1="107.50" x2="52.4" y2="107.50" stroke="#444" stroke-width="0.4"/>
<line x1="206.9" y1="77.4" x2="213.5" y2="77.4" stroke="#222" stroke-width="1.3" stroke-linecap="butt"/>
<line x1="213.5" y1="77.4" x2="225.8" y2="65.2" stroke="#222" stroke-width="1.3" stroke-linecap="butt"/>
<line x1="213.5" y1="77.4" x2="239.0" y2="101.7" stroke="#222" stroke-width="1.3" stroke-linecap="butt"/>
<line x1="225.8" y1="65.2" x2="239.0" y2="52.7" stroke="#222" stroke-width="1.3" stroke-linecap="butt"/>
<line x1="225.8" y1="65.2" x2="238.9" y2="77.4" stroke="#222" stroke-width="1.3" stroke-linecap="butt"/>
<line x1="239.0" y1="52.7" x2="247.1" y2="44.0" stroke="#222" stroke-width="1.3" stroke-linecap="butt"/>
<line x1="243.4" y1="48.6" x2="247.1" y2="52.4" stroke="#222" stroke-width="1.3" stroke-linecap="butt"/>
<line x1="239.0" y1="52.7" x2="247.1" y2="60.4" stroke="#222" stroke-width="1.3" stroke-linecap="butt"/>
<line x1="238.9" y1="77.4" x2="247.1" y2="69.0" stroke="#222" stroke-width="1.3" stroke-linecap="butt"/>
<line x1="238.9" y1="77.4" x2="247.1" y2="84.5" stroke="#222" stroke-width="1.3" stroke-linecap="butt"/>
<line x1="243.6" y1="81.6" x2="247.1" y2="77.6" stroke="#222" stroke-width="1.3" stroke-linecap="butt"/>
<line x1="239.0" y1="101.7" x2="247.1" y2="94.3" stroke="#222" stroke-width="1.3" stroke-linecap="butt"/>
<line x1="239.0" y1="101.7" x2="247.1" y2="110.0" stroke="#222" stroke-width="1.3" stroke-linecap="butt"/>
<line x1="243.7" y1="106.0" x2="247.1" y2="102.3" stroke="#222" stroke-width="1.3" stroke-linecap="butt"/>
<circle cx="225.8" cy="65.2" r="1.7" fill="#ec1c24"/>
<circle cx="239.0" cy="52.7" r="1.7" fill="#ec1c24"/>
<circle cx="243.4" cy="48.6" r="1.7" fill="#ec1c24"/>
<circle cx="238.9" cy="77.4" r="1.7" fill="#ec1c24"/>
<circle cx="243.6" cy="81.6" r="1.7" fill="#ec1c24"/>
<circle cx="239.0" cy="101.7" r="1.7" fill="#ec1c24"/>
<circle cx="243.7" cy="106.0" r="1.7" fill="#ec1c24"/>
<circle cx="213.5" cy="77.4" r="1.0" fill="#2e3192"/>
<rect x="302.1" y="46.8" width="17.7" height="64.9" fill="#bcbec0"/>
<rect x="323.2" y="46.8" width="43.5" height="64.9" fill="#bcbec0"/>
<rect x="305.2" y="51.90" width="11.8" height="1.0" fill="#231f20"/>
<rect x="305.2" y="54.10" width="11.8" height="1.0" fill="#3a3536"/>
<rect x="305.2" y="56.60" width="11.8" height="1.0" fill="#231f20"/>
<rect x="305.2" y="63.35" width="11.8" height="1.1" fill="#6d6869"/>
<rect x="305.2" y="69.25" width="11.8" height="1.5" fill="#231f20"/>
<rect x="305.2" y="82.90" width="11.8" height="1.0" fill="#231f20"/>
<rect x="305.2" y="95.10" width="11.8" height="1.0" fill="#231f20"/>
<rect x="305.2" y="107.20" width="11.8" height="1.0" fill="#231f20"/>
<rect x="331.0" y="73.1" width="11.1" height="2.0" fill="#231f20"/>
<rect x="348.1" y="73.1" width="11.4" height="2.0" fill="#231f20"/>
<rect x="348.1" y="76.8" width="11.4" height="0.7" fill="#5d5859"/>
<ellipse cx="445.2" cy="83.5" rx="23.5" ry="15.2" fill="#8fd3f5"/>
<ellipse cx="458.8" cy="68.5" rx="11.4" ry="17.6" fill="#8fd3f5"/>
<polyline points="418.1,87.2 425.2,80.2 455.6,80.2 464.3,87.2 470.8,80.2" fill="none" stroke="#4dbe7a" stroke-width="0.9"/>
<line x1="434.4" y1="80.2" x2="448.5" y2="80.2" stroke="#3a9a8a" stroke-width="1.2"/>
<polyline points="418.1,81.0 425.7,87.4 456.1,87.4 462.6,80.0 469.7,86.9" fill="none" stroke="#2e3192" stroke-width="0.9"/>
<line x1="435" y1="82.3" x2="452.3" y2="82.3" stroke="#5d7fc0" stroke-width="0.4"/>
<path d="M454.5,82.5 L454.5,60.6 Q456.15,57.6 457.8,60.6 L457.8,74.7 L467.5,74.7" fill="none" stroke="#d9454f" stroke-width="0.9"/>
<line x1="555.7" y1="27.9" x2="555.7" y2="53.3" stroke="#222" stroke-width="0.6"/>
<line x1="555.7" y1="53.3" x2="598.3" y2="53.3" stroke="#222" stroke-width="0.6"/>
<line x1="554.6" y1="29.1" x2="555.7" y2="29.1" stroke="#222" stroke-width="0.5"/>
<line x1="554.6" y1="41.2" x2="555.7" y2="41.2" stroke="#222" stroke-width="0.5"/>
<line x1="555.70" y1="53.3" x2="555.70" y2="54.3" stroke="#222" stroke-width="0.4"/>
<line x1="561.20" y1="53.3" x2="561.20" y2="54.3" stroke="#222" stroke-width="0.4"/>
<line x1="566.70" y1="53.3" x2="566.70" y2="54.3" stroke="#222" stroke-width="0.4"/>
<line x1="572.20" y1="53.3" x2="572.20" y2="54.3" stroke="#222" stroke-width="0.4"/>
<line x1="577.70" y1="53.3" x2="577.70" y2="54.3" stroke="#222" stroke-width="0.4"/>
<line x1="583.20" y1="53.3" x2="583.20" y2="54.3" stroke="#222" stroke-width="0.4"/>
<line x1="588.70" y1="53.3" x2="588.70" y2="54.3" stroke="#222" stroke-width="0.4"/>
<line x1="594.20" y1="53.3" x2="594.20" y2="54.3" stroke="#222" stroke-width="0.4"/>
<polyline points="576,29.1 579.9,29.1 579.9,35.8 583,35.8 583,41.4 592.1,41.4 592.1,47.5 595.1,47.5 595.1,53.3" fill="none" stroke="#ed1c24" stroke-width="0.9"/>
<polyline points="555.7,29.1 576,29.1 576,36.3 579,36.3 579,45.4 580.7,45.4 580.7,53.3" fill="none" stroke="#6d9eeb" stroke-width="0.9"/>
<rect x="548.0" y="79.6" width="43.5" height="3.9" fill="#111"/>
<rect x="591.5" y="80.4" width="18.1" height="2.4" fill="#151515"/>
<rect x="547.5" y="78.8" width="1.1" height="6.6" fill="#151515"/>
<rect x="548.60" y="78.45" width="0.8" height="1.55" fill="#1a1a1a"/>
<rect x="550.22" y="78.79" width="0.8" height="1.21" fill="#1a1a1a"/>
<rect x="551.98" y="78.68" width="0.8" height="1.32" fill="#1a1a1a"/>
<rect x="553.72" y="77.26" width="0.8" height="2.74" fill="#1a1a1a"/>
<rect x="555.15" y="79.09" width="0.8" height="0.91" fill="#1a1a1a"/>
<rect x="556.70" y="79.00" width="0.8" height="1.00" fill="#1a1a1a"/>
<rect x="557.88" y="78.14" width="0.8" height="1.86" fill="#1a1a1a"/>
<rect x="559.16" y="78.29" width="0.8" height="1.71" fill="#1a1a1a"/>
<rect x="560.66" y="77.23" width="0.8" height="2.77" fill="#1a1a1a"/>
<rect x="561.91" y="77.76" width="0.8" height="2.24" fill="#1a1a1a"/>
<rect x="563.65" y="78.73" width="0.8" height="1.27" fill="#1a1a1a"/>
<rect x="564.86" y="78.79" width="0.8" height="1.21" fill="#1a1a1a"/>
<rect x="566.06" y="78.43" width="0.8" height="1.57" fill="#1a1a1a"/>
<rect x="567.25" y="77.20" width="0.8" height="2.80" fill="#1a1a1a"/>
<rect x="568.96" y="77.62" width="0.8" height="2.38" fill="#1a1a1a"/>
<rect x="570.21" y="79.16" width="0.8" height="0.84" fill="#1a1a1a"/>
<rect x="571.92" y="77.78" width="0.8" height="2.22" fill="#1a1a1a"/>
<rect x="573.69" y="78.28" width="0.8" height="1.72" fill="#1a1a1a"/>
<rect x="575.27" y="77.61" width="0.8" height="2.39" fill="#1a1a1a"/>
<rect x="577.03" y="78.58" width="0.8" height="1.42" fill="#1a1a1a"/>
<rect x="578.80" y="78.99" width="0.8" height="1.01" fill="#1a1a1a"/>
<rect x="580.11" y="77.92" width="0.8" height="2.08" fill="#1a1a1a"/>
<rect x="581.33" y="77.49" width="0.8" height="2.51" fill="#1a1a1a"/>
<rect x="582.47" y="77.80" width="0.8" height="2.20" fill="#1a1a1a"/>
<rect x="584.00" y="77.21" width="0.8" height="2.79" fill="#1a1a1a"/>
<rect x="585.57" y="77.88" width="0.8" height="2.12" fill="#1a1a1a"/>
<rect x="586.89" y="78.84" width="0.8" height="1.16" fill="#1a1a1a"/>
<rect x="588.32" y="77.83" width="0.8" height="2.17" fill="#1a1a1a"/>
<rect x="589.76" y="78.61" width="0.8" height="1.39" fill="#1a1a1a"/>
<rect x="549.20" y="83.3" width="1.0" height="6.44" fill="#2a2a2a"/>
<rect x="551.42" y="83.3" width="1.0" height="5.85" fill="#6a6a6a"/>
<rect x="554.29" y="83.3" width="1.0" height="3.95" fill="#2a2a2a"/>
<rect x="557.12" y="83.3" width="1.0" height="4.85" fill="#6a6a6a"/>
<rect x="559.79" y="83.3" width="1.0" height="3.92" fill="#2a2a2a"/>
<rect x="562.02" y="83.3" width="1.0" height="4.37" fill="#6a6a6a"/>
<rect x="564.99" y="83.3" width="1.0" height="4.41" fill="#2a2a2a"/>
<rect x="567.79" y="83.3" width="1.0" height="6.32" fill="#6a6a6a"/>
<rect x="570.75" y="83.3" width="1.0" height="4.80" fill="#2a2a2a"/>
<rect x="573.23" y="83.3" width="1.0" height="5.26" fill="#6a6a6a"/>
<rect x="576.05" y="83.3" width="1.0" height="4.18" fill="#2a2a2a"/>
<rect x="578.85" y="83.3" width="1.0" height="5.97" fill="#6a6a6a"/>
<rect x="581.74" y="83.3" width="1.0" height="4.00" fill="#2a2a2a"/>
<rect x="584.69" y="83.3" width="1.0" height="4.14" fill="#6a6a6a"/>
<rect x="587.17" y="83.3" width="1.0" height="5.49" fill="#2a2a2a"/>
<rect x="590.10" y="83.3" width="1.0" height="4.78" fill="#6a6a6a"/>
<rect x="592.50" y="80.15" width="0.5" height="2.89" fill="#333"/>
<rect x="593.55" y="79.78" width="0.5" height="2.93" fill="#333"/>
<rect x="594.47" y="80.29" width="0.5" height="3.71" fill="#333"/>
<rect x="595.40" y="79.65" width="0.5" height="4.33" fill="#333"/>
<rect x="596.63" y="80.01" width="0.5" height="2.93" fill="#333"/>
<rect x="597.90" y="80.43" width="0.5" height="2.81" fill="#333"/>
<rect x="599.04" y="79.66" width="0.5" height="4.23" fill="#333"/>
<rect x="599.87" y="80.09" width="0.5" height="3.68" fill="#333"/>
<rect x="600.77" y="80.33" width="0.5" height="3.60" fill="#333"/>
<rect x="602.08" y="80.39" width="0.5" height="2.36" fill="#333"/>
<rect x="603.22" y="79.75" width="0.5" height="4.03" fill="#333"/>
<rect x="604.26" y="80.05" width="0.5" height="3.95" fill="#333"/>
<rect x="605.74" y="80.58" width="0.5" height="2.66" fill="#333"/>
<rect x="606.93" y="80.33" width="0.5" height="2.94" fill="#333"/>
<rect x="607.96" y="80.00" width="0.5" height="2.80" fill="#333"/>
<rect x="606.6" y="82.5" width="0.6" height="5.98" fill="#777"/>
<rect x="607.6" y="82.5" width="0.6" height="5.92" fill="#777"/>
<rect x="608.6" y="82.5" width="0.6" height="5.25" fill="#777"/>
<rect x="608.9" y="78.6" width="0.9" height="6.0" fill="#222"/>
<rect x="591.05" y="62.0" width="0.9" height="35.0" fill="#111"/>
<rect x="541" y="110.1" width="66.1" height="13.0" fill="#a6a6a6"/>
<circle cx="546.4" cy="116.2" r="4.6" fill="#a0a0a0"/>
<circle cx="558.2" cy="116.2" r="4.6" fill="#a0a0a0"/>
<circle cx="569.9" cy="116.2" r="4.6" fill="#a0a0a0"/>
<circle cx="581.2" cy="116.2" r="4.6" fill="#a0a0a0"/>
<circle cx="592.6" cy="116.2" r="4.6" fill="#a0a0a0"/>
<circle cx="603.4" cy="116.2" r="4.6" fill="#a0a0a0"/>
<ellipse cx="546.4" cy="116.0" rx="3.1" ry="3.5" fill="#c9a850" stroke="#fbe30a" stroke-width="1.5"/>
<ellipse cx="592.6" cy="116.0" rx="3.1" ry="3.5" fill="#c9a850" stroke="#fbe30a" stroke-width="1.5"/>
<ellipse cx="603.4" cy="116.0" rx="3.1" ry="3.5" fill="#c9a850" stroke="#fbe30a" stroke-width="1.5"/>
<path d="M555.6,114.6 Q557.5,111.8 560.3,113.6 Q562.0,116.2 560.6,118.8 Q559.2,120.2 558.4,119.4" fill="none" stroke="#fbe30a" stroke-width="1.4"/>
<path d="M555.4,116.4 L557.2,116.0" fill="none" stroke="#fbe30a" stroke-width="1.2"/>
<circle cx="567.98" cy="116.70" r="0.55" fill="#d9a826"/>
<circle cx="572.00" cy="118.94" r="0.55" fill="#fbe30a"/>
<circle cx="572.21" cy="116.30" r="0.55" fill="#fbe30a"/>
<circle cx="570.87" cy="115.40" r="0.55" fill="#d9a826"/>
<circle cx="567.45" cy="115.25" r="0.55" fill="#fbe30a"/>
<circle cx="571.82" cy="116.75" r="0.55" fill="#fbe30a"/>
<circle cx="569.27" cy="113.91" r="0.55" fill="#d9a826"/>
<circle cx="569.68" cy="114.67" r="0.55" fill="#fbe30a"/>
<circle cx="570.00" cy="117.61" r="0.55" fill="#fbe30a"/>
<circle cx="566.50" cy="116.06" r="0.55" fill="#d9a826"/>
<circle cx="567.36" cy="114.42" r="0.55" fill="#fbe30a"/>
<circle cx="567.71" cy="118.36" r="0.55" fill="#fbe30a"/>
<circle cx="571.31" cy="117.35" r="0.55" fill="#d9a826"/>
<circle cx="568.57" cy="113.38" r="0.55" fill="#fbe30a"/>
<path d="M579.0,113.8 Q581.0,111.6 583.2,113.4 Q583.0,115.6 582.2,117.0 Q583.0,119.0 581.0,119.6 Q579.6,118.4 580.4,116.6 Q579.0,115.4 579.0,113.8 Z" fill="#d9a826" stroke="#fbe30a" stroke-width="1.2"/>
<text x="614.20" y="44.10" font-size="7.85" font-weight="bold" font-style="italic" fill="#2a2a2a" text-anchor="start" >larval survival</text>
<text x="616.00" y="85.00" font-size="7.8" font-weight="bold" font-style="italic" fill="#2a2a2a" text-anchor="start" >electrophysiology</text>
<text x="616.00" y="120.00" font-size="7.8" font-weight="bold" font-style="italic" fill="#2a2a2a" text-anchor="start" >swim behavior</text>
<rect x="80.10" y="154.0" width="7.2" height="7.1" fill="#e8806e"/>
<circle cx="83.80" cy="148.6" r="2.9" fill="#ed1c24"/>
<text transform="translate(87.10,163.6) rotate(-90)" font-size="8.4" font-style="italic" fill="#222" text-anchor="end">aldh7a1</text>
<rect x="89.46" y="154.0" width="7.2" height="7.1" fill="#f8be3e"/>
<text transform="translate(96.46,163.6) rotate(-90)" font-size="8.4" font-style="italic" fill="#222" text-anchor="end">arhgef9a</text>
<rect x="98.82" y="154.0" width="7.2" height="7.1" fill="#f08d62"/>
<text transform="translate(105.82,163.6) rotate(-90)" font-size="8.4" font-style="italic" fill="#222" text-anchor="end">arhgef9b</text>
<rect x="108.18" y="154.0" width="7.2" height="7.1" fill="#d9648a"/>
<text transform="translate(115.18,163.6) rotate(-90)" font-size="8.4" font-style="italic" fill="#222" text-anchor="end">arxa</text>
<rect x="117.54" y="154.0" width="7.2" height="7.1" fill="#e4787a"/>
<text transform="translate(124.54,163.6) rotate(-90)" font-size="8.4" font-style="italic" fill="#222" text-anchor="end">asah1b</text>
<rect x="126.90" y="154.0" width="7.2" height="7.1" fill="#dc6a80"/>
<text transform="translate(133.90,163.6) rotate(-90)" font-size="8.4" font-style="italic" fill="#222" text-anchor="end">cdkl5</text>
<rect x="136.26" y="154.0" width="7.2" height="7.1" fill="#d65f8d"/>
<text transform="translate(143.26,163.6) rotate(-90)" font-size="8.4" font-style="italic" fill="#222" text-anchor="end">chd2</text>
<rect x="145.62" y="154.0" width="7.2" height="7.1" fill="#d25c90"/>
<text transform="translate(152.62,163.6) rotate(-90)" font-size="8.4" font-style="italic" fill="#222" text-anchor="end">cln8</text>
<rect x="154.98" y="154.0" width="7.2" height="7.1" fill="#8d3e9a"/>
<circle cx="158.68" cy="148.6" r="2.9" fill="#ed1c24"/>
<text transform="translate(161.98,163.6) rotate(-90)" font-size="8.4" font-style="italic" fill="#222" text-anchor="end">cntnap2a</text>
<rect x="164.34" y="154.0" width="7.2" height="7.1" fill="#e07480"/>
<circle cx="168.04" cy="148.6" r="2.9" fill="#ed1c24"/>
<text transform="translate(171.34,163.6) rotate(-90)" font-size="8.4" font-style="italic" fill="#222" text-anchor="end">cntnap2b</text>
<rect x="173.70" y="154.0" width="7.2" height="7.1" fill="#d35a92"/>
<text transform="translate(180.70,163.6) rotate(-90)" font-size="8.4" font-style="italic" fill="#222" text-anchor="end">cpa6</text>
<rect x="183.06" y="154.0" width="7.2" height="7.1" fill="#c54f9b"/>
<text transform="translate(190.06,163.6) rotate(-90)" font-size="8.4" font-style="italic" fill="#222" text-anchor="end">cst14a.2</text>
<rect x="192.42" y="154.0" width="7.2" height="7.1" fill="#d0578f"/>
<text transform="translate(199.42,163.6) rotate(-90)" font-size="8.4" font-style="italic" fill="#222" text-anchor="end">depdc5</text>
<rect x="201.78" y="154.0" width="7.2" height="7.1" fill="#f0905c"/>
<text transform="translate(208.78,163.6) rotate(-90)" font-size="8.4" font-style="italic" fill="#222" text-anchor="end">dnm1a</text>
<rect x="211.14" y="154.0" width="7.2" height="7.1" fill="#f8c03a"/>
<text transform="translate(218.14,163.6) rotate(-90)" font-size="8.4" font-style="italic" fill="#222" text-anchor="end">dnm1b</text>
<rect x="220.50" y="154.0" width="7.2" height="7.1" fill="#6c3a9a"/>
<text transform="translate(227.50,163.6) rotate(-90)" font-size="8.4" font-style="italic" fill="#222" text-anchor="end">eef1a2</text>
<rect x="229.86" y="154.0" width="7.2" height="7.1" fill="#4a3a9a"/>
<text transform="translate(236.86,163.6) rotate(-90)" font-size="8.4" font-style="italic" fill="#222" text-anchor="end">epm2a</text>
<rect x="239.22" y="154.0" width="7.2" height="7.1" fill="#e67f72"/>
<circle cx="242.92" cy="148.6" r="2.9" fill="#ed1c24"/>
<text transform="translate(246.22,163.6) rotate(-90)" font-size="8.4" font-style="italic" fill="#222" text-anchor="end">gabra1</text>
<rect x="248.58" y="154.0" width="7.2" height="7.1" fill="#f29560"/>
<text transform="translate(255.58,163.6) rotate(-90)" font-size="8.4" font-style="italic" fill="#222" text-anchor="end">gabrb3</text>
<rect x="257.94" y="154.0" width="7.2" height="7.1" fill="#f8c03a"/>
<circle cx="261.64" cy="148.6" r="2.9" fill="#ed1c24"/>
<text transform="translate(264.94,163.6) rotate(-90)" font-size="8.4" font-style="italic" fill="#222" text-anchor="end">gabrg2</text>
<rect x="267.30" y="154.0" width="7.2" height="7.1" fill="#d45e8c"/>
<text transform="translate(274.30,163.6) rotate(-90)" font-size="8.4" font-style="italic" fill="#222" text-anchor="end">gnao1a</text>
<rect x="276.66" y="154.0" width="7.2" height="7.1" fill="#e0707a"/>
<text transform="translate(283.66,163.6) rotate(-90)" font-size="8.4" font-style="italic" fill="#222" text-anchor="end">gnao1b</text>
<rect x="286.02" y="154.0" width="7.2" height="7.1" fill="#f09060"/>
<text transform="translate(293.02,163.6) rotate(-90)" font-size="8.4" font-style="italic" fill="#222" text-anchor="end">gosr2</text>
<rect x="295.38" y="154.0" width="7.2" height="7.1" fill="#f7c040"/>
<text transform="translate(302.38,163.6) rotate(-90)" font-size="8.4" font-style="italic" fill="#222" text-anchor="end">grin1a</text>
<rect x="304.74" y="154.0" width="7.2" height="7.1" fill="#e07078"/>
<text transform="translate(311.74,163.6) rotate(-90)" font-size="8.4" font-style="italic" fill="#222" text-anchor="end">grin1b</text>
<rect x="314.10" y="154.0" width="7.2" height="7.1" fill="#b8459a"/>
<text transform="translate(321.10,163.6) rotate(-90)" font-size="8.4" font-style="italic" fill="#222" text-anchor="end">grin2aa</text>
<rect x="323.46" y="154.0" width="7.2" height="7.1" fill="#d05a8e"/>
<text transform="translate(330.46,163.6) rotate(-90)" font-size="8.4" font-style="italic" fill="#222" text-anchor="end">hnrnpua</text>
<rect x="332.82" y="154.0" width="7.2" height="7.1" fill="#f5a84a"/>
<text transform="translate(339.82,163.6) rotate(-90)" font-size="8.4" font-style="italic" fill="#222" text-anchor="end">hnrnpub</text>
<rect x="342.18" y="154.0" width="7.2" height="7.1" fill="#e8806c"/>
<text transform="translate(349.18,163.6) rotate(-90)" font-size="8.4" font-style="italic" fill="#222" text-anchor="end">kcna2b</text>
<rect x="351.54" y="154.0" width="7.2" height="7.1" fill="#c04d9a"/>
<text transform="translate(358.54,163.6) rotate(-90)" font-size="8.4" font-style="italic" fill="#222" text-anchor="end">kcnma1a</text>
<rect x="360.90" y="154.0" width="7.2" height="7.1" fill="#e07478"/>
<text transform="translate(367.90,163.6) rotate(-90)" font-size="8.4" font-style="italic" fill="#222" text-anchor="end">lgi1a</text>
<rect x="370.26" y="154.0" width="7.2" height="7.1" fill="#e07478"/>
<text transform="translate(377.26,163.6) rotate(-90)" font-size="8.4" font-style="italic" fill="#222" text-anchor="end">lgi1b</text>
<rect x="379.62" y="154.0" width="7.2" height="7.1" fill="#f8c83a"/>
<text transform="translate(386.62,163.6) rotate(-90)" font-size="8.4" font-style="italic" fill="#222" text-anchor="end">mef2cb</text>
<rect x="388.98" y="154.0" width="7.2" height="7.1" fill="#f8c83a"/>
<text transform="translate(395.98,163.6) rotate(-90)" font-size="8.4" font-style="italic" fill="#222" text-anchor="end">pafah1b1a</text>
<rect x="398.34" y="154.0" width="7.2" height="7.1" fill="#cc5594"/>
<text transform="translate(405.34,163.6) rotate(-90)" font-size="8.4" font-style="italic" fill="#222" text-anchor="end">pafah1b1b</text>
<rect x="407.70" y="154.0" width="7.2" height="7.1" fill="#d5608a"/>
<circle cx="411.40" cy="148.6" r="2.9" fill="#ed1c24"/>
<text transform="translate(414.70,163.6) rotate(-90)" font-size="8.4" font-style="italic" fill="#222" text-anchor="end">pcdh19</text>
<rect x="417.06" y="154.0" width="7.2" height="7.1" fill="#f5a055"/>
<circle cx="420.76" cy="148.6" r="2.9" fill="#ed1c24"/>
<text transform="translate(424.06,163.6) rotate(-90)" font-size="8.4" font-style="italic" fill="#222" text-anchor="end">pnpo</text>
<rect x="426.42" y="154.0" width="7.2" height="7.1" fill="#cc5590"/>
<text transform="translate(433.42,163.6) rotate(-90)" font-size="8.4" font-style="italic" fill="#222" text-anchor="end">prickle1a</text>
<rect x="435.78" y="154.0" width="7.2" height="7.1" fill="#c44e98"/>
<text transform="translate(442.78,163.6) rotate(-90)" font-size="8.4" font-style="italic" fill="#222" text-anchor="end">scn1aa</text>
<rect x="445.14" y="154.0" width="7.2" height="7.1" fill="#c85094"/>
<text transform="translate(452.14,163.6) rotate(-90)" font-size="8.4" font-style="italic" fill="#222" text-anchor="end">scn1ba</text>
<rect x="454.50" y="154.0" width="7.2" height="7.1" fill="#f59a5a"/>
<circle cx="458.20" cy="148.6" r="2.9" fill="#ed1c24"/>
<text transform="translate(461.50,163.6) rotate(-90)" font-size="8.4" font-style="italic" fill="#222" text-anchor="end">scn1lab</text>
<rect x="463.86" y="154.0" width="7.2" height="7.1" fill="#ee8a68"/>
<text transform="translate(470.86,163.6) rotate(-90)" font-size="8.4" font-style="italic" fill="#222" text-anchor="end">scn8aa</text>
<rect x="473.22" y="154.0" width="7.2" height="7.1" fill="#c24e9a"/>
<text transform="translate(480.22,163.6) rotate(-90)" font-size="8.4" font-style="italic" fill="#222" text-anchor="end">sik1</text>
<rect x="482.58" y="154.0" width="7.2" height="7.1" fill="#f29560"/>
<text transform="translate(489.58,163.6) rotate(-90)" font-size="8.4" font-style="italic" fill="#222" text-anchor="end">slc2a1a</text>
<rect x="491.94" y="154.0" width="7.2" height="7.1" fill="#ec8570"/>
<text transform="translate(498.94,163.6) rotate(-90)" font-size="8.4" font-style="italic" fill="#222" text-anchor="end">slc2a1b</text>
<rect x="501.30" y="154.0" width="7.2" height="7.1" fill="#f8c83a"/>
<text transform="translate(508.30,163.6) rotate(-90)" font-size="8.4" font-style="italic" fill="#222" text-anchor="end">slc6a1b</text>
<rect x="510.66" y="154.0" width="7.2" height="7.1" fill="#f6aa4a"/>
<text transform="translate(517.66,163.6) rotate(-90)" font-size="8.4" font-style="italic" fill="#222" text-anchor="end">slc13a5a</text>
<rect x="520.02" y="154.0" width="7.2" height="7.1" fill="#f29060"/>
<text transform="translate(527.02,163.6) rotate(-90)" font-size="8.4" font-style="italic" fill="#222" text-anchor="end">slc25a22</text>
<rect x="529.38" y="154.0" width="7.2" height="7.1" fill="#cc5590"/>
<text transform="translate(536.38,163.6) rotate(-90)" font-size="8.4" font-style="italic" fill="#222" text-anchor="end">slc35a2</text>
<rect x="538.74" y="154.0" width="7.2" height="7.1" fill="#f0e040"/>
<text transform="translate(545.74,163.6) rotate(-90)" font-size="8.4" font-style="italic" fill="#222" text-anchor="end">snip</text>
<rect x="548.10" y="154.0" width="7.2" height="7.1" fill="#f4a050"/>
<text transform="translate(555.10,163.6) rotate(-90)" font-size="8.4" font-style="italic" fill="#222" text-anchor="end">spna2</text>
<rect x="557.46" y="154.0" width="7.2" height="7.1" fill="#de6e80"/>
<text transform="translate(564.46,163.6) rotate(-90)" font-size="8.4" font-style="italic" fill="#222" text-anchor="end">srpx2</text>
<rect x="566.82" y="154.0" width="7.2" height="7.1" fill="#ec8868"/>
<text transform="translate(573.82,163.6) rotate(-90)" font-size="8.4" font-style="italic" fill="#222" text-anchor="end">st3gal3b</text>
<rect x="576.18" y="154.0" width="7.2" height="7.1" fill="#cc5590"/>
<text transform="translate(583.18,163.6) rotate(-90)" font-size="8.4" font-style="italic" fill="#222" text-anchor="end">strada</text>
<rect x="585.54" y="154.0" width="7.2" height="7.1" fill="#bf4a9c"/>
<text transform="translate(592.54,163.6) rotate(-90)" font-size="8.4" font-style="italic" fill="#222" text-anchor="end">stx1b</text>
<rect x="594.90" y="154.0" width="7.2" height="7.1" fill="#d2568e"/>
<circle cx="598.60" cy="145.9" r="2.9" fill="#ed1c24"/>
<text transform="translate(601.90,163.6) rotate(-90)" font-size="8.4" font-style="italic" fill="#222" text-anchor="end">stxbp1a</text>
<rect x="604.26" y="154.0" width="7.2" height="7.1" fill="#e0707a"/>
<circle cx="607.96" cy="145.9" r="2.9" fill="#ed1c24"/>
<text transform="translate(611.26,163.6) rotate(-90)" font-size="8.4" font-style="italic" fill="#222" text-anchor="end">stxbp1b</text>
<rect x="613.62" y="154.0" width="7.2" height="7.1" fill="#f08a62"/>
<text transform="translate(620.62,163.6) rotate(-90)" font-size="8.4" font-style="italic" fill="#222" text-anchor="end">syn1</text>
<rect x="622.98" y="154.0" width="7.2" height="7.1" fill="#cf5690"/>
<text transform="translate(629.98,163.6) rotate(-90)" font-size="8.4" font-style="italic" fill="#222" text-anchor="end">syngap1a</text>
<rect x="632.34" y="154.0" width="7.2" height="7.1" fill="#c04d9a"/>
<text transform="translate(639.34,163.6) rotate(-90)" font-size="8.4" font-style="italic" fill="#222" text-anchor="end">syngap1b</text>
<rect x="641.70" y="154.0" width="7.2" height="7.1" fill="#cf5890"/>
<text transform="translate(648.70,163.6) rotate(-90)" font-size="8.4" font-style="italic" fill="#222" text-anchor="end">tbc1d24</text>
<rect x="651.06" y="154.0" width="7.2" height="7.1" fill="#e07078"/>
<text transform="translate(658.06,163.6) rotate(-90)" font-size="8.4" font-style="italic" fill="#222" text-anchor="end">wwox</text>
<text x="73.1" y="151.5" font-size="7.2" font-weight="bold" fill="#222" text-anchor="end" textLength="39.1" lengthAdjust="spacingAndGlyphs">Tg zebrafish</text>
<text x="73.1" y="160.5" font-size="7.2" font-weight="bold" fill="#222" text-anchor="end" textLength="54.1" lengthAdjust="spacingAndGlyphs">Homology score</text>
<text x="24.0" y="181.7" font-size="7.2" font-weight="bold" fill="#222" textLength="48.9" lengthAdjust="spacingAndGlyphs">Zebrafish g<tspan font-style="italic" font-weight="normal">ene</tspan></text>
<defs><linearGradient id="hgrad" x1="0" y1="0" x2="0" y2="1"><stop offset="0" stop-color="#2a3389"/><stop offset="0.17" stop-color="#4b2f8e"/><stop offset="0.33" stop-color="#8a2b8f"/><stop offset="0.5" stop-color="#c8357f"/><stop offset="0.66" stop-color="#e06a66"/><stop offset="0.76" stop-color="#f0948a"/><stop offset="0.84" stop-color="#f6b880"/><stop offset="0.92" stop-color="#f3dc50"/><stop offset="1" stop-color="#f2ef3a"/></linearGradient></defs>
<rect x="663.4" y="138.6" width="5.4" height="98.1" fill="url(#hgrad)" stroke="#333" stroke-width="0.5"/>
<line x1="663.4" y1="139.5" x2="664.3" y2="139.5" stroke="#222" stroke-width="0.5"/>
<line x1="667.9" y1="139.5" x2="668.8" y2="139.5" stroke="#222" stroke-width="0.5"/>
<text x="670.30" y="141.00" font-size="4.2" font-weight="normal" font-style="normal" fill="#333" text-anchor="start" >100</text>
<line x1="663.4" y1="171.3" x2="664.3" y2="171.3" stroke="#222" stroke-width="0.5"/>
<line x1="667.9" y1="171.3" x2="668.8" y2="171.3" stroke="#222" stroke-width="0.5"/>
<text x="670.30" y="172.80" font-size="4.2" font-weight="normal" font-style="normal" fill="#333" text-anchor="start" >80</text>
<line x1="663.4" y1="203.0" x2="664.3" y2="203.0" stroke="#222" stroke-width="0.5"/>
<line x1="667.9" y1="203.0" x2="668.8" y2="203.0" stroke="#222" stroke-width="0.5"/>
<text x="670.30" y="204.50" font-size="4.2" font-weight="normal" font-style="normal" fill="#333" text-anchor="start" >60</text>
<line x1="663.4" y1="232.6" x2="664.3" y2="232.6" stroke="#222" stroke-width="0.5"/>
<line x1="667.9" y1="232.6" x2="668.8" y2="232.6" stroke="#222" stroke-width="0.5"/>
<text x="670.30" y="234.10" font-size="4.2" font-weight="normal" font-style="normal" fill="#333" text-anchor="start" >40</text>
<text transform="translate(683.8,190.5) rotate(-90)" font-size="7.6" fill="#222" text-anchor="middle">Homology score</text>
<rect x="56.5" y="248.8" width="254.50" height="292.20" fill="#fff"/>
<rect x="57.00" y="249.30" width="24.45" height="3.97" fill="#ff2200"/>
<rect x="82.45" y="249.30" width="24.45" height="3.97" fill="#fdd6d6"/>
<rect x="107.90" y="249.30" width="24.45" height="3.97" fill="#fff6f6"/>
<rect x="133.35" y="249.30" width="24.45" height="3.97" fill="#5560f2"/>
<rect x="158.80" y="249.30" width="24.45" height="3.97" fill="#fff6f6"/>
<rect x="184.25" y="249.30" width="24.45" height="3.97" fill="#0a32fa"/>
<rect x="209.70" y="249.30" width="24.45" height="3.97" fill="#0a32fa"/>
<rect x="235.15" y="249.30" width="24.45" height="3.97" fill="#5560f2"/>
<rect x="260.60" y="249.30" width="24.45" height="3.97" fill="#0a32fa"/>
<rect x="286.05" y="249.30" width="24.45" height="3.97" fill="#5560f2"/>
<text x="52.00" y="251.90" font-size="6.3" font-weight="normal" font-style="italic" fill="#333" text-anchor="end" >stx1b</text>
<rect x="57.00" y="254.42" width="24.45" height="3.97" fill="#ffb0b0"/>
<rect x="82.45" y="254.42" width="24.45" height="3.97" fill="#cdd0fb"/>
<rect x="107.90" y="254.42" width="24.45" height="3.97" fill="#0a32fa"/>
<rect x="133.35" y="254.42" width="24.45" height="3.97" fill="#0a32fa"/>
<rect x="158.80" y="254.42" width="24.45" height="3.97" fill="#0a32fa"/>
<rect x="184.25" y="254.42" width="24.45" height="3.97" fill="#0a32fa"/>
<rect x="209.70" y="254.42" width="24.45" height="3.97" fill="#0a32fa"/>
<rect x="235.15" y="254.42" width="24.45" height="3.97" fill="#3545f3"/>
<rect x="260.60" y="254.42" width="24.45" height="3.97" fill="#0a32fa"/>
<rect x="286.05" y="254.42" width="24.45" height="3.97" fill="#5560f2"/>
<text x="52.00" y="257.07" font-size="6.3" font-weight="normal" font-style="italic" fill="#333" text-anchor="end" >slc6a1b</text>
<rect x="57.00" y="259.54" width="24.45" height="3.97" fill="#ffb2b2"/>
<rect x="82.45" y="259.54" width="24.45" height="3.97" fill="#fff6f6"/>
<rect x="107.90" y="259.54" width="24.45" height="3.97" fill="#0a32fa"/>
<rect x="133.35" y="259.54" width="24.45" height="3.97" fill="#0a32fa"/>
<rect x="158.80" y="259.54" width="24.45" height="3.97" fill="#0a32fa"/>
<rect x="184.25" y="259.54" width="24.45" height="3.97" fill="#0a32fa"/>
<rect x="209.70" y="259.54" width="24.45" height="3.97" fill="#0a32fa"/>
<rect x="235.15" y="259.54" width="24.45" height="3.97" fill="#0a32fa"/>
<rect x="260.60" y="259.54" width="24.45" height="3.97" fill="#0a32fa"/>
<rect x="286.05" y="259.54" width="24.45" height="3.97" fill="#0a32fa"/>
<text x="52.00" y="262.24" font-size="6.3" font-weight="normal" font-style="italic" fill="#333" text-anchor="end" >syn1</text>
<rect x="57.00" y="264.66" width="24.45" height="3.97" fill="#ffb6b6"/>
<rect x="82.45" y="264.66" width="24.45" height="3.97" fill="#fff6f6"/>
<rect x="107.90" y="264.66" width="24.45" height="3.97" fill="#0a32fa"/>
<rect x="133.35" y="264.66" width="24.45" height="3.97" fill="#0a32fa"/>
<rect x="158.80" y="264.66" width="24.45" height="3.97" fill="#0a32fa"/>
<rect x="184.25" y="264.66" width="24.45" height="3.97" fill="#0a32fa"/>
<rect x="209.70" y="264.66" width="24.45" height="3.97" fill="#0a32fa"/>
<rect x="235.15" y="264.66" width="24.45" height="3.97" fill="#0a32fa"/>
<rect x="260.60" y="264.66" width="24.45" height="3.97" fill="#3545f3"/>
<rect x="286.05" y="264.66" width="24.45" height="3.97" fill="#e6e8fd"/>
<text x="52.00" y="267.41" font-size="6.3" font-weight="normal" font-style="italic" fill="#333" text-anchor="end" >scn8aa</text>
<rect x="57.00" y="269.78" width="24.45" height="3.97" fill="#ffbaba"/>
<rect x="82.45" y="269.78" width="24.45" height="3.97" fill="#fdd6d6"/>
<rect x="107.90" y="269.78" width="24.45" height="3.97" fill="#fde9e9"/>
<rect x="133.35" y="269.78" width="24.45" height="3.97" fill="#fde9e9"/>
<rect x="158.80" y="269.78" width="24.45" height="3.97" fill="#fdd6d6"/>
<rect x="184.25" y="269.78" width="24.45" height="3.97" fill="#fdd6d6"/>
<rect x="209.70" y="269.78" width="24.45" height="3.97" fill="#8088f6"/>
<rect x="235.15" y="269.78" width="24.45" height="3.97" fill="#fff6f6"/>
<rect x="260.60" y="269.78" width="24.45" height="3.97" fill="#fde9e9"/>
<rect x="286.05" y="269.78" width="24.45" height="3.97" fill="#fdd6d6"/>
<text x="52.00" y="272.58" font-size="6.3" font-weight="normal" font-style="italic" fill="#333" text-anchor="end" >spna2</text>
<rect x="57.00" y="274.90" width="24.45" height="3.97" fill="#ffbebe"/>
<rect x="82.45" y="274.90" width="24.45" height="3.97" fill="#fde9e9"/>
<rect x="107.90" y="274.90" width="24.45" height="3.97" fill="#aab1f9"/>
<rect x="133.35" y="274.90" width="24.45" height="3.97" fill="#5560f2"/>
<rect x="158.80" y="274.90" width="24.45" height="3.97" fill="#fff6f6"/>
<rect x="184.25" y="274.90" width="24.45" height="3.97" fill="#3545f3"/>
<rect x="209.70" y="274.90" width="24.45" height="3.97" fill="#0a32fa"/>
<rect x="235.15" y="274.90" width="24.45" height="3.97" fill="#0a32fa"/>
<rect x="260.60" y="274.90" width="24.45" height="3.97" fill="#8088f6"/>
<rect x="286.05" y="274.90" width="24.45" height="3.97" fill="#e6e8fd"/>
<text x="52.00" y="277.75" font-size="6.3" font-weight="normal" font-style="italic" fill="#333" text-anchor="end" >gnao1a</text>
<rect x="57.00" y="280.02" width="24.45" height="3.97" fill="#ffc2c2"/>
<rect x="82.45" y="280.02" width="24.45" height="3.97" fill="#aab1f9"/>
<rect x="107.90" y="280.02" width="24.45" height="3.97" fill="#0a32fa"/>
<rect x="133.35" y="280.02" width="24.45" height="3.97" fill="#0a32fa"/>
<rect x="158.80" y="280.02" width="24.45" height="3.97" fill="#0a32fa"/>
<rect x="184.25" y="280.02" width="24.45" height="3.97" fill="#0a32fa"/>
<rect x="209.70" y="280.02" width="24.45" height="3.97" fill="#0a32fa"/>
<rect x="235.15" y="280.02" width="24.45" height="3.97" fill="#0a32fa"/>
<rect x="260.60" y="280.02" width="24.45" height="3.97" fill="#0a32fa"/>
<rect x="286.05" y="280.02" width="24.45" height="3.97" fill="#0a32fa"/>
<text x="52.00" y="282.92" font-size="6.3" font-weight="normal" font-style="italic" fill="#333" text-anchor="end" >grin1a</text>
<rect x="57.00" y="285.14" width="24.45" height="3.97" fill="#ffc8c8"/>
<rect x="82.45" y="285.14" width="24.45" height="3.97" fill="#3545f3"/>
<rect x="107.90" y="285.14" width="24.45" height="3.97" fill="#0a32fa"/>
<rect x="133.35" y="285.14" width="24.45" height="3.97" fill="#0a32fa"/>
<rect x="158.80" y="285.14" width="24.45" height="3.97" fill="#0a32fa"/>
<rect x="184.25" y="285.14" width="24.45" height="3.97" fill="#0a32fa"/>
<rect x="209.70" y="285.14" width="24.45" height="3.97" fill="#0a32fa"/>
<rect x="235.15" y="285.14" width="24.45" height="3.97" fill="#0a32fa"/>
<rect x="260.60" y="285.14" width="24.45" height="3.97" fill="#0a32fa"/>
<rect x="286.05" y="285.14" width="24.45" height="3.97" fill="#0a32fa"/>
<text x="52.00" y="288.09" font-size="6.3" font-weight="normal" font-style="italic" fill="#333" text-anchor="end" >slc2a1a</text>
<rect x="57.00" y="290.25" width="24.45" height="3.97" fill="#ffcaca"/>
<rect x="82.45" y="290.25" width="24.45" height="3.97" fill="#3545f3"/>
<rect x="107.90" y="290.25" width="24.45" height="3.97" fill="#0a32fa"/>
<rect x="133.35" y="290.25" width="24.45" height="3.97" fill="#0a32fa"/>
<rect x="158.80" y="290.25" width="24.45" height="3.97" fill="#0a32fa"/>
<rect x="184.25" y="290.25" width="24.45" height="3.97" fill="#0a32fa"/>
<rect x="209.70" y="290.25" width="24.45" height="3.97" fill="#0a32fa"/>
<rect x="235.15" y="290.25" width="24.45" height="3.97" fill="#0a32fa"/>
<rect x="260.60" y="290.25" width="24.45" height="3.97" fill="#0a32fa"/>
<rect x="286.05" y="290.25" width="24.45" height="3.97" fill="#0a32fa"/>
<text x="52.00" y="293.26" font-size="6.3" font-weight="normal" font-style="italic" fill="#333" text-anchor="end" >slc6a1a</text>
<rect x="57.00" y="295.37" width="24.45" height="3.97" fill="#fed6d6"/>
<rect x="82.45" y="295.37" width="24.45" height="3.97" fill="#fff6f6"/>
<rect x="107.90" y="295.37" width="24.45" height="3.97" fill="#fff6f6"/>
<rect x="133.35" y="295.37" width="24.45" height="3.97" fill="#fde9e9"/>
<rect x="158.80" y="295.37" width="24.45" height="3.97" fill="#ffaaaa"/>
<rect x="184.25" y="295.37" width="24.45" height="3.97" fill="#8088f6"/>
<rect x="209.70" y="295.37" width="24.45" height="3.97" fill="#fff6f6"/>
<rect x="235.15" y="295.37" width="24.45" height="3.97" fill="#8088f6"/>
<rect x="260.60" y="295.37" width="24.45" height="3.97" fill="#5560f2"/>
<rect x="286.05" y="295.37" width="24.45" height="3.97" fill="#fff6f6"/>
<text x="52.00" y="298.43" font-size="6.3" font-weight="normal" font-style="italic" fill="#333" text-anchor="end" >chd2</text>
<rect x="57.00" y="300.49" width="24.45" height="3.97" fill="#fed8d8"/>
<rect x="82.45" y="300.49" width="24.45" height="3.97" fill="#fde9e9"/>
<rect x="107.90" y="300.49" width="24.45" height="3.97" fill="#0a32fa"/>
<rect x="133.35" y="300.49" width="24.45" height="3.97" fill="#0a32fa"/>
<rect x="158.80" y="300.49" width="24.45" height="3.97" fill="#0a32fa"/>
<rect x="184.25" y="300.49" width="24.45" height="3.97" fill="#0a32fa"/>
<rect x="209.70" y="300.49" width="24.45" height="3.97" fill="#0a32fa"/>
<rect x="235.15" y="300.49" width="24.45" height="3.97" fill="#0a32fa"/>
<rect x="260.60" y="300.49" width="24.45" height="3.97" fill="#0a32fa"/>
<rect x="286.05" y="300.49" width="24.45" height="3.97" fill="#5560f2"/>
<text x="52.00" y="303.60" font-size="6.3" font-weight="normal" font-style="italic" fill="#333" text-anchor="end" >scn8ab</text>
<rect x="57.00" y="305.61" width="24.45" height="3.97" fill="#fedcdc"/>
<rect x="82.45" y="305.61" width="24.45" height="3.97" fill="#fde9e9"/>
<rect x="107.90" y="305.61" width="24.45" height="3.97" fill="#fff6f6"/>
<rect x="133.35" y="305.61" width="24.45" height="3.97" fill="#e6e8fd"/>
<rect x="158.80" y="305.61" width="24.45" height="3.97" fill="#fff6f6"/>
<rect x="184.25" y="305.61" width="24.45" height="3.97" fill="#aab1f9"/>
<rect x="209.70" y="305.61" width="24.45" height="3.97" fill="#3545f3"/>
<rect x="235.15" y="305.61" width="24.45" height="3.97" fill="#cdd0fb"/>
<rect x="260.60" y="305.61" width="24.45" height="3.97" fill="#fde9e9"/>
<rect x="286.05" y="305.61" width="24.45" height="3.97" fill="#fde9e9"/>
<text x="52.00" y="308.77" font-size="6.3" font-weight="normal" font-style="italic" fill="#333" text-anchor="end" >pafah1b1b</text>
<rect x="57.00" y="310.73" width="24.45" height="3.97" fill="#fee0e0"/>
<rect x="82.45" y="310.73" width="24.45" height="3.97" fill="#5560f2"/>
<rect x="107.90" y="310.73" width="24.45" height="3.97" fill="#0a32fa"/>
<rect x="133.35" y="310.73" width="24.45" height="3.97" fill="#0a32fa"/>
<rect x="158.80" y="310.73" width="24.45" height="3.97" fill="#0a32fa"/>
<rect x="184.25" y="310.73" width="24.45" height="3.97" fill="#0a32fa"/>
<rect x="209.70" y="310.73" width="24.45" height="3.97" fill="#0a32fa"/>
<rect x="235.15" y="310.73" width="24.45" height="3.97" fill="#0a32fa"/>
<rect x="260.60" y="310.73" width="24.45" height="3.97" fill="#0a32fa"/>
<rect x="286.05" y="310.73" width="24.45" height="3.97" fill="#0a32fa"/>
<text x="52.00" y="313.94" font-size="6.3" font-weight="normal" font-style="italic" fill="#333" text-anchor="end" >gabra1</text>
<rect x="57.00" y="315.85" width="24.45" height="3.97" fill="#fee2e2"/>
<rect x="82.45" y="315.85" width="24.45" height="3.97" fill="#fdd6d6"/>
<rect x="107.90" y="315.85" width="24.45" height="3.97" fill="#fde9e9"/>
<rect x="133.35" y="315.85" width="24.45" height="3.97" fill="#fff6f6"/>
<rect x="158.80" y="315.85" width="24.45" height="3.97" fill="#fdd6d6"/>
<rect x="184.25" y="315.85" width="24.45" height="3.97" fill="#fff6f6"/>
<rect x="209.70" y="315.85" width="24.45" height="3.97" fill="#8088f6"/>
<rect x="235.15" y="315.85" width="24.45" height="3.97" fill="#fff6f6"/>
<rect x="260.60" y="315.85" width="24.45" height="3.97" fill="#fde9e9"/>
<rect x="286.05" y="315.85" width="24.45" height="3.97" fill="#fdd6d6"/>
<text x="52.00" y="319.11" font-size="6.3" font-weight="normal" font-style="italic" fill="#333" text-anchor="end" >pafah1b1a</text>
<rect x="57.00" y="320.97" width="24.45" height="3.97" fill="#fee4e4"/>
<rect x="82.45" y="320.97" width="24.45" height="3.97" fill="#5560f2"/>
<rect x="107.90" y="320.97" width="24.45" height="3.97" fill="#0a32fa"/>
<rect x="133.35" y="320.97" width="24.45" height="3.97" fill="#0a32fa"/>
<rect x="158.80" y="320.97" width="24.45" height="3.97" fill="#0a32fa"/>
<rect x="184.25" y="320.97" width="24.45" height="3.97" fill="#0a32fa"/>
<rect x="209.70" y="320.97" width="24.45" height="3.97" fill="#0a32fa"/>
<rect x="235.15" y="320.97" width="24.45" height="3.97" fill="#0a32fa"/>
<rect x="260.60" y="320.97" width="24.45" height="3.97" fill="#0a32fa"/>
<rect x="286.05" y="320.97" width="24.45" height="3.97" fill="#cdd0fb"/>
<text x="52.00" y="324.28" font-size="6.3" font-weight="normal" font-style="italic" fill="#333" text-anchor="end" >scn1lab</text>
<rect x="57.00" y="326.09" width="24.45" height="3.97" fill="#fee8e8"/>
<rect x="82.45" y="326.09" width="24.45" height="3.97" fill="#5560f2"/>
<rect x="107.90" y="326.09" width="24.45" height="3.97" fill="#cdd0fb"/>
<rect x="133.35" y="326.09" width="24.45" height="3.97" fill="#0a32fa"/>
<rect x="158.80" y="326.09" width="24.45" height="3.97" fill="#3545f3"/>
<rect x="184.25" y="326.09" width="24.45" height="3.97" fill="#0a32fa"/>
<rect x="209.70" y="326.09" width="24.45" height="3.97" fill="#0a32fa"/>
<rect x="235.15" y="326.09" width="24.45" height="3.97" fill="#0a32fa"/>
<rect x="260.60" y="326.09" width="24.45" height="3.97" fill="#0a32fa"/>
<rect x="286.05" y="326.09" width="24.45" height="3.97" fill="#8088f6"/>
<text x="52.00" y="329.45" font-size="6.3" font-weight="normal" font-style="italic" fill="#333" text-anchor="end" >pcdh19</text>
<rect x="57.00" y="331.21" width="24.45" height="3.97" fill="#feeeee"/>
<rect x="82.45" y="331.21" width="24.45" height="3.97" fill="#fde9e9"/>
<rect x="107.90" y="331.21" width="24.45" height="3.97" fill="#fdd6d6"/>
<rect x="133.35" y="331.21" width="24.45" height="3.97" fill="#fff6f6"/>
<rect x="158.80" y="331.21" width="24.45" height="3.97" fill="#fff6f6"/>
<rect x="184.25" y="331.21" width="24.45" height="3.97" fill="#fff6f6"/>
<rect x="209.70" y="331.21" width="24.45" height="3.97" fill="#8088f6"/>
<rect x="235.15" y="331.21" width="24.45" height="3.97" fill="#fff6f6"/>
<rect x="260.60" y="331.21" width="24.45" height="3.97" fill="#fde9e9"/>
<rect x="286.05" y="331.21" width="24.45" height="3.97" fill="#fde9e9"/>
<text x="52.00" y="334.62" font-size="6.3" font-weight="normal" font-style="italic" fill="#333" text-anchor="end" >hnrnpub</text>
<rect x="57.00" y="336.33" width="24.45" height="3.97" fill="#fef0f0"/>
<rect x="82.45" y="336.33" width="24.45" height="3.97" fill="#5560f2"/>
<rect x="107.90" y="336.33" width="24.45" height="3.97" fill="#0a32fa"/>
<rect x="133.35" y="336.33" width="24.45" height="3.97" fill="#0a32fa"/>
<rect x="158.80" y="336.33" width="24.45" height="3.97" fill="#0a32fa"/>
<rect x="184.25" y="336.33" width="24.45" height="3.97" fill="#0a32fa"/>
<rect x="209.70" y="336.33" width="24.45" height="3.97" fill="#0a32fa"/>
<rect x="235.15" y="336.33" width="24.45" height="3.97" fill="#0a32fa"/>
<rect x="260.60" y="336.33" width="24.45" height="3.97" fill="#0a32fa"/>
<rect x="286.05" y="336.33" width="24.45" height="3.97" fill="#0a32fa"/>
<text x="52.00" y="339.79" font-size="6.3" font-weight="normal" font-style="italic" fill="#333" text-anchor="end" >dnm1a</text>
<rect x="57.00" y="341.45" width="24.45" height="3.97" fill="#fef4f4"/>
<rect x="82.45" y="341.45" width="24.45" height="3.97" fill="#aab1f9"/>
<rect x="107.90" y="341.45" width="24.45" height="3.97" fill="#3545f3"/>
<rect x="133.35" y="341.45" width="24.45" height="3.97" fill="#0a32fa"/>
<rect x="158.80" y="341.45" width="24.45" height="3.97" fill="#8088f6"/>
<rect x="184.25" y="341.45" width="24.45" height="3.97" fill="#0a32fa"/>
<rect x="209.70" y="341.45" width="24.45" height="3.97" fill="#0a32fa"/>
<rect x="235.15" y="341.45" width="24.45" height="3.97" fill="#3545f3"/>
<rect x="260.60" y="341.45" width="24.45" height="3.97" fill="#cdd0fb"/>
<rect x="286.05" y="341.45" width="24.45" height="3.97" fill="#cdd0fb"/>
<text x="52.00" y="344.96" font-size="6.3" font-weight="normal" font-style="italic" fill="#333" text-anchor="end" >lgi1a</text>
<rect x="57.00" y="346.57" width="24.45" height="3.97" fill="#fff6f6"/>
<rect x="82.45" y="346.57" width="24.45" height="3.97" fill="#8088f6"/>
<rect x="107.90" y="346.57" width="24.45" height="3.97" fill="#0a32fa"/>
<rect x="133.35" y="346.57" width="24.45" height="3.97" fill="#0a32fa"/>
<rect x="158.80" y="346.57" width="24.45" height="3.97" fill="#0a32fa"/>
<rect x="184.25" y="346.57" width="24.45" height="3.97" fill="#0a32fa"/>
<rect x="209.70" y="346.57" width="24.45" height="3.97" fill="#0a32fa"/>
<rect x="235.15" y="346.57" width="24.45" height="3.97" fill="#0a32fa"/>
<rect x="260.60" y="346.57" width="24.45" height="3.97" fill="#0a32fa"/>
<rect x="286.05" y="346.57" width="24.45" height="3.97" fill="#5560f2"/>
<text x="52.00" y="350.13" font-size="6.3" font-weight="normal" font-style="italic" fill="#333" text-anchor="end" >gabrb3</text>
<rect x="57.00" y="351.69" width="24.45" height="3.97" fill="#fff7f7"/>
<rect x="82.45" y="351.69" width="24.45" height="3.97" fill="#5560f2"/>
<rect x="107.90" y="351.69" width="24.45" height="3.97" fill="#3545f3"/>
<rect x="133.35" y="351.69" width="24.45" height="3.97" fill="#0a32fa"/>
<rect x="158.80" y="351.69" width="24.45" height="3.97" fill="#3545f3"/>
<rect x="184.25" y="351.69" width="24.45" height="3.97" fill="#0a32fa"/>
<rect x="209.70" y="351.69" width="24.45" height="3.97" fill="#0a32fa"/>
<rect x="235.15" y="351.69" width="24.45" height="3.97" fill="#0a32fa"/>
<rect x="260.60" y="351.69" width="24.45" height="3.97" fill="#0a32fa"/>
<rect x="286.05" y="351.69" width="24.45" height="3.97" fill="#8088f6"/>
<text x="52.00" y="355.30" font-size="6.3" font-weight="normal" font-style="italic" fill="#333" text-anchor="end" >arhgef9a</text>
<rect x="57.00" y="356.81" width="24.45" height="3.97" fill="#fff8f8"/>
<rect x="82.45" y="356.81" width="24.45" height="3.97" fill="#3545f3"/>
<rect x="107.90" y="356.81" width="24.45" height="3.97" fill="#0a32fa"/>
<rect x="133.35" y="356.81" width="24.45" height="3.97" fill="#0a32fa"/>
<rect x="158.80" y="356.81" width="24.45" height="3.97" fill="#0a32fa"/>
<rect x="184.25" y="356.81" width="24.45" height="3.97" fill="#0a32fa"/>
<rect x="209.70" y="356.81" width="24.45" height="3.97" fill="#0a32fa"/>
<rect x="235.15" y="356.81" width="24.45" height="3.97" fill="#0a32fa"/>
<rect x="260.60" y="356.81" width="24.45" height="3.97" fill="#0a32fa"/>
<rect x="286.05" y="356.81" width="24.45" height="3.97" fill="#0a32fa"/>
<text x="52.00" y="360.47" font-size="6.3" font-weight="normal" font-style="italic" fill="#333" text-anchor="end" >gabrg2</text>
<rect x="57.00" y="361.92" width="24.45" height="3.97" fill="#fff8f8"/>
<rect x="82.45" y="361.92" width="24.45" height="3.97" fill="#5560f2"/>
<rect x="107.90" y="361.92" width="24.45" height="3.97" fill="#0a32fa"/>
<rect x="133.35" y="361.92" width="24.45" height="3.97" fill="#0a32fa"/>
<rect x="158.80" y="361.92" width="24.45" height="3.97" fill="#0a32fa"/>
<rect x="184.25" y="361.92" width="24.45" height="3.97" fill="#0a32fa"/>
<rect x="209.70" y="361.92" width="24.45" height="3.97" fill="#0a32fa"/>
<rect x="235.15" y="361.92" width="24.45" height="3.97" fill="#0a32fa"/>
<rect x="260.60" y="361.92" width="24.45" height="3.97" fill="#3545f3"/>
<rect x="286.05" y="361.92" width="24.45" height="3.97" fill="#8088f6"/>
<text x="52.00" y="365.64" font-size="6.3" font-weight="normal" font-style="italic" fill="#333" text-anchor="end" >kcnma1a</text>
<rect x="57.00" y="367.04" width="24.45" height="3.97" fill="#fff9f9"/>
<rect x="82.45" y="367.04" width="24.45" height="3.97" fill="#0a32fa"/>
<rect x="107.90" y="367.04" width="24.45" height="3.97" fill="#0a32fa"/>
<rect x="133.35" y="367.04" width="24.45" height="3.97" fill="#0a32fa"/>
<rect x="158.80" y="367.04" width="24.45" height="3.97" fill="#0a32fa"/>
<rect x="184.25" y="367.04" width="24.45" height="3.97" fill="#0a32fa"/>
<rect x="209.70" y="367.04" width="24.45" height="3.97" fill="#0a32fa"/>
<rect x="235.15" y="367.04" width="24.45" height="3.97" fill="#0a32fa"/>
<rect x="260.60" y="367.04" width="24.45" height="3.97" fill="#0a32fa"/>
<rect x="286.05" y="367.04" width="24.45" height="3.97" fill="#5560f2"/>
<text x="52.00" y="370.81" font-size="6.3" font-weight="normal" font-style="italic" fill="#333" text-anchor="end" >dnm1b</text>
<rect x="57.00" y="372.16" width="24.45" height="3.97" fill="#fff9f9"/>
<rect x="82.45" y="372.16" width="24.45" height="3.97" fill="#8088f6"/>
<rect x="107.90" y="372.16" width="24.45" height="3.97" fill="#0a32fa"/>
<rect x="133.35" y="372.16" width="24.45" height="3.97" fill="#0a32fa"/>
<rect x="158.80" y="372.16" width="24.45" height="3.97" fill="#0a32fa"/>
<rect x="184.25" y="372.16" width="24.45" height="3.97" fill="#0a32fa"/>
<rect x="209.70" y="372.16" width="24.45" height="3.97" fill="#0a32fa"/>
<rect x="235.15" y="372.16" width="24.45" height="3.97" fill="#0a32fa"/>
<rect x="260.60" y="372.16" width="24.45" height="3.97" fill="#0a32fa"/>
<rect x="286.05" y="372.16" width="24.45" height="3.97" fill="#5560f2"/>
<text x="52.00" y="375.98" font-size="6.3" font-weight="normal" font-style="italic" fill="#333" text-anchor="end" >cntap2a</text>
<rect x="57.00" y="377.28" width="24.45" height="3.97" fill="#fffafa"/>
<rect x="82.45" y="377.28" width="24.45" height="3.97" fill="#0a32fa"/>
<rect x="107.90" y="377.28" width="24.45" height="3.97" fill="#0a32fa"/>
<rect x="133.35" y="377.28" width="24.45" height="3.97" fill="#0a32fa"/>
<rect x="158.80" y="377.28" width="24.45" height="3.97" fill="#0a32fa"/>
<rect x="184.25" y="377.28" width="24.45" height="3.97" fill="#0a32fa"/>
<rect x="209.70" y="377.28" width="24.45" height="3.97" fill="#0a32fa"/>
<rect x="235.15" y="377.28" width="24.45" height="3.97" fill="#0a32fa"/>
<rect x="260.60" y="377.28" width="24.45" height="3.97" fill="#0a32fa"/>
<rect x="286.05" y="377.28" width="24.45" height="3.97" fill="#aab1f9"/>
<text x="52.00" y="381.15" font-size="6.3" font-weight="normal" font-style="italic" fill="#333" text-anchor="end" >syngap1a</text>
<rect x="57.00" y="382.40" width="24.45" height="3.97" fill="#fffafa"/>
<rect x="82.45" y="382.40" width="24.45" height="3.97" fill="#0a32fa"/>
<rect x="107.90" y="382.40" width="24.45" height="3.97" fill="#0a32fa"/>
<rect x="133.35" y="382.40" width="24.45" height="3.97" fill="#0a32fa"/>
<rect x="158.80" y="382.40" width="24.45" height="3.97" fill="#0a32fa"/>
<rect x="184.25" y="382.40" width="24.45" height="3.97" fill="#0a32fa"/>
<rect x="209.70" y="382.40" width="24.45" height="3.97" fill="#0a32fa"/>
<rect x="235.15" y="382.40" width="24.45" height="3.97" fill="#0a32fa"/>
<rect x="260.60" y="382.40" width="24.45" height="3.97" fill="#0a32fa"/>
<rect x="286.05" y="382.40" width="24.45" height="3.97" fill="#0a32fa"/>
<text x="52.00" y="386.32" font-size="6.3" font-weight="normal" font-style="italic" fill="#333" text-anchor="end" >grin1b</text>
<rect x="57.00" y="387.52" width="24.45" height="3.97" fill="#fffbfb"/>
<rect x="82.45" y="387.52" width="24.45" height="3.97" fill="#fff6f6"/>
<rect x="107.90" y="387.52" width="24.45" height="3.97" fill="#0a32fa"/>
<rect x="133.35" y="387.52" width="24.45" height="3.97" fill="#0a32fa"/>
<rect x="158.80" y="387.52" width="24.45" height="3.97" fill="#0a32fa"/>
<rect x="184.25" y="387.52" width="24.45" height="3.97" fill="#0a32fa"/>
<rect x="209.70" y="387.52" width="24.45" height="3.97" fill="#0a32fa"/>
<rect x="235.15" y="387.52" width="24.45" height="3.97" fill="#0a32fa"/>
<rect x="260.60" y="387.52" width="24.45" height="3.97" fill="#0a32fa"/>
<rect x="286.05" y="387.52" width="24.45" height="3.97" fill="#0a32fa"/>
<text x="52.00" y="391.49" font-size="6.3" font-weight="normal" font-style="italic" fill="#333" text-anchor="end" >eef1a2</text>
<rect x="57.00" y="392.64" width="24.45" height="3.97" fill="#fffbfb"/>
<rect x="82.45" y="392.64" width="24.45" height="3.97" fill="#fde9e9"/>
<rect x="107.90" y="392.64" width="24.45" height="3.97" fill="#fdd6d6"/>
<rect x="133.35" y="392.64" width="24.45" height="3.97" fill="#fde9e9"/>
<rect x="158.80" y="392.64" width="24.45" height="3.97" fill="#fff6f6"/>
<rect x="184.25" y="392.64" width="24.45" height="3.97" fill="#fdd6d6"/>
<rect x="209.70" y="392.64" width="24.45" height="3.97" fill="#8088f6"/>
<rect x="235.15" y="392.64" width="24.45" height="3.97" fill="#8088f6"/>
<rect x="260.60" y="392.64" width="24.45" height="3.97" fill="#fff6f6"/>
<rect x="286.05" y="392.64" width="24.45" height="3.97" fill="#fdd6d6"/>
<text x="52.00" y="396.66" font-size="6.3" font-weight="normal" font-style="italic" fill="#333" text-anchor="end" >asah1b</text>
<rect x="57.00" y="397.76" width="24.45" height="3.97" fill="#fffcfc"/>
<rect x="82.45" y="397.76" width="24.45" height="3.97" fill="#0a32fa"/>
<rect x="107.90" y="397.76" width="24.45" height="3.97" fill="#0a32fa"/>
<rect x="133.35" y="397.76" width="24.45" height="3.97" fill="#0a32fa"/>
<rect x="158.80" y="397.76" width="24.45" height="3.97" fill="#0a32fa"/>
<rect x="184.25" y="397.76" width="24.45" height="3.97" fill="#0a32fa"/>
<rect x="209.70" y="397.76" width="24.45" height="3.97" fill="#0a32fa"/>
<rect x="235.15" y="397.76" width="24.45" height="3.97" fill="#0a32fa"/>
<rect x="260.60" y="397.76" width="24.45" height="3.97" fill="#0a32fa"/>
<rect x="286.05" y="397.76" width="24.45" height="3.97" fill="#fff6f6"/>
<text x="52.00" y="401.83" font-size="6.3" font-weight="normal" font-style="italic" fill="#333" text-anchor="end" >grin2aa</text>
<rect x="57.00" y="402.88" width="24.45" height="3.97" fill="#fffcfc"/>
<rect x="82.45" y="402.88" width="24.45" height="3.97" fill="#8088f6"/>
<rect x="107.90" y="402.88" width="24.45" height="3.97" fill="#3545f3"/>
<rect x="133.35" y="402.88" width="24.45" height="3.97" fill="#0a32fa"/>
<rect x="158.80" y="402.88" width="24.45" height="3.97" fill="#0a32fa"/>
<rect x="184.25" y="402.88" width="24.45" height="3.97" fill="#0a32fa"/>
<rect x="209.70" y="402.88" width="24.45" height="3.97" fill="#0a32fa"/>
<rect x="235.15" y="402.88" width="24.45" height="3.97" fill="#5560f2"/>
<rect x="260.60" y="402.88" width="24.45" height="3.97" fill="#0a32fa"/>
<rect x="286.05" y="402.88" width="24.45" height="3.97" fill="#cdd0fb"/>
<text x="52.00" y="407.00" font-size="6.3" font-weight="normal" font-style="italic" fill="#333" text-anchor="end" >scn1ba</text>
<rect x="57.00" y="408.00" width="24.45" height="3.97" fill="#fffdfd"/>
<rect x="82.45" y="408.00" width="24.45" height="3.97" fill="#5560f2"/>
<rect x="107.90" y="408.00" width="24.45" height="3.97" fill="#0a32fa"/>
<rect x="133.35" y="408.00" width="24.45" height="3.97" fill="#0a32fa"/>
<rect x="158.80" y="408.00" width="24.45" height="3.97" fill="#0a32fa"/>
<rect x="184.25" y="408.00" width="24.45" height="3.97" fill="#aab1f9"/>
<rect x="209.70" y="408.00" width="24.45" height="3.97" fill="#0a32fa"/>
<rect x="235.15" y="408.00" width="24.45" height="3.97" fill="#0a32fa"/>
<rect x="260.60" y="408.00" width="24.45" height="3.97" fill="#aab1f9"/>
<rect x="286.05" y="408.00" width="24.45" height="3.97" fill="#e6e8fd"/>
<text x="52.00" y="412.17" font-size="6.3" font-weight="normal" font-style="italic" fill="#333" text-anchor="end" >tbc1d24</text>
<rect x="57.00" y="413.12" width="24.45" height="3.97" fill="#fefdfe"/>
<rect x="82.45" y="413.12" width="24.45" height="3.97" fill="#fdd6d6"/>
<rect x="107.90" y="413.12" width="24.45" height="3.97" fill="#fdd6d6"/>
<rect x="133.35" y="413.12" width="24.45" height="3.97" fill="#fde9e9"/>
<rect x="158.80" y="413.12" width="24.45" height="3.97" fill="#fde9e9"/>
<rect x="184.25" y="413.12" width="24.45" height="3.97" fill="#8088f6"/>
<rect x="209.70" y="413.12" width="24.45" height="3.97" fill="#5560f2"/>
<rect x="235.15" y="413.12" width="24.45" height="3.97" fill="#fdd6d6"/>
<rect x="260.60" y="413.12" width="24.45" height="3.97" fill="#0a32fa"/>
<rect x="286.05" y="413.12" width="24.45" height="3.97" fill="#fff6f6"/>
<text x="52.00" y="417.34" font-size="6.3" font-weight="normal" font-style="italic" fill="#333" text-anchor="end" >sik1</text>
<rect x="57.00" y="418.24" width="24.45" height="3.97" fill="#fcfcfe"/>
<rect x="82.45" y="418.24" width="24.45" height="3.97" fill="#5560f2"/>
<rect x="107.90" y="418.24" width="24.45" height="3.97" fill="#fff6f6"/>
<rect x="133.35" y="418.24" width="24.45" height="3.97" fill="#8088f6"/>
<rect x="158.80" y="418.24" width="24.45" height="3.97" fill="#5560f2"/>
<rect x="184.25" y="418.24" width="24.45" height="3.97" fill="#0a32fa"/>
<rect x="209.70" y="418.24" width="24.45" height="3.97" fill="#0a32fa"/>
<rect x="235.15" y="418.24" width="24.45" height="3.97" fill="#3545f3"/>
<rect x="260.60" y="418.24" width="24.45" height="3.97" fill="#3545f3"/>
<rect x="286.05" y="418.24" width="24.45" height="3.97" fill="#0a32fa"/>
<text x="52.00" y="422.51" font-size="6.3" font-weight="normal" font-style="italic" fill="#333" text-anchor="end" >arhgef9b</text>
<rect x="57.00" y="423.36" width="24.45" height="3.97" fill="#f6f6fe"/>
<rect x="82.45" y="423.36" width="24.45" height="3.97" fill="#fde9e9"/>
<rect x="107.90" y="423.36" width="24.45" height="3.97" fill="#fff6f6"/>
<rect x="133.35" y="423.36" width="24.45" height="3.97" fill="#fde9e9"/>
<rect x="158.80" y="423.36" width="24.45" height="3.97" fill="#fde9e9"/>
<rect x="184.25" y="423.36" width="24.45" height="3.97" fill="#fff6f6"/>
<rect x="209.70" y="423.36" width="24.45" height="3.97" fill="#fff6f6"/>
<rect x="235.15" y="423.36" width="24.45" height="3.97" fill="#fff6f6"/>
<rect x="260.60" y="423.36" width="24.45" height="3.97" fill="#fff6f6"/>
<rect x="286.05" y="423.36" width="24.45" height="3.97" fill="#fff6f6"/>
<text x="52.00" y="427.68" font-size="6.3" font-weight="normal" font-style="italic" fill="#333" text-anchor="end" >aldh7a1</text>
<rect x="57.00" y="428.48" width="24.45" height="3.97" fill="#d8dafc"/>
<rect x="82.45" y="428.48" width="24.45" height="3.97" fill="#5560f2"/>
<rect x="107.90" y="428.48" width="24.45" height="3.97" fill="#0a32fa"/>
<rect x="133.35" y="428.48" width="24.45" height="3.97" fill="#0a32fa"/>
<rect x="158.80" y="428.48" width="24.45" height="3.97" fill="#0a32fa"/>
<rect x="184.25" y="428.48" width="24.45" height="3.97" fill="#0a32fa"/>
<rect x="209.70" y="428.48" width="24.45" height="3.97" fill="#0a32fa"/>
<rect x="235.15" y="428.48" width="24.45" height="3.97" fill="#0a32fa"/>
<rect x="260.60" y="428.48" width="24.45" height="3.97" fill="#0a32fa"/>
<rect x="286.05" y="428.48" width="24.45" height="3.97" fill="#0a32fa"/>
<text x="52.00" y="432.85" font-size="6.3" font-weight="normal" font-style="italic" fill="#333" text-anchor="end" >lgi1b</text>
<rect x="57.00" y="433.59" width="24.45" height="3.97" fill="#d0d4fa"/>
<rect x="82.45" y="433.59" width="24.45" height="3.97" fill="#0a32fa"/>
<rect x="107.90" y="433.59" width="24.45" height="3.97" fill="#0a32fa"/>
<rect x="133.35" y="433.59" width="24.45" height="3.97" fill="#0a32fa"/>
<rect x="158.80" y="433.59" width="24.45" height="3.97" fill="#0a32fa"/>
<rect x="184.25" y="433.59" width="24.45" height="3.97" fill="#0a32fa"/>
<rect x="209.70" y="433.59" width="24.45" height="3.97" fill="#0a32fa"/>
<rect x="235.15" y="433.59" width="24.45" height="3.97" fill="#0a32fa"/>
<rect x="260.60" y="433.59" width="24.45" height="3.97" fill="#0a32fa"/>
<rect x="286.05" y="433.59" width="24.45" height="3.97" fill="#aab1f9"/>
<text x="52.00" y="438.02" font-size="6.3" font-weight="normal" font-style="italic" fill="#333" text-anchor="end" >cdkl5</text>
<rect x="57.00" y="438.71" width="24.45" height="3.97" fill="#c8ccfa"/>
<rect x="82.45" y="438.71" width="24.45" height="3.97" fill="#e6e8fd"/>
<rect x="107.90" y="438.71" width="24.45" height="3.97" fill="#fff6f6"/>
<rect x="133.35" y="438.71" width="24.45" height="3.97" fill="#aab1f9"/>
<rect x="158.80" y="438.71" width="24.45" height="3.97" fill="#aab1f9"/>
<rect x="184.25" y="438.71" width="24.45" height="3.97" fill="#8088f6"/>
<rect x="209.70" y="438.71" width="24.45" height="3.97" fill="#3545f3"/>
<rect x="235.15" y="438.71" width="24.45" height="3.97" fill="#3545f3"/>
<rect x="260.60" y="438.71" width="24.45" height="3.97" fill="#5560f2"/>
<rect x="286.05" y="438.71" width="24.45" height="3.97" fill="#fff6f6"/>
<text x="52.00" y="443.19" font-size="6.3" font-weight="normal" font-style="italic" fill="#333" text-anchor="end" >slc25a22</text>
<rect x="57.00" y="443.83" width="24.45" height="3.97" fill="#aab2f8"/>
<rect x="82.45" y="443.83" width="24.45" height="3.97" fill="#cdd0fb"/>
<rect x="107.90" y="443.83" width="24.45" height="3.97" fill="#8088f6"/>
<rect x="133.35" y="443.83" width="24.45" height="3.97" fill="#5560f2"/>
<rect x="158.80" y="443.83" width="24.45" height="3.97" fill="#8088f6"/>
<rect x="184.25" y="443.83" width="24.45" height="3.97" fill="#5560f2"/>
<rect x="209.70" y="443.83" width="24.45" height="3.97" fill="#0a32fa"/>
<rect x="235.15" y="443.83" width="24.45" height="3.97" fill="#5560f2"/>
<rect x="260.60" y="443.83" width="24.45" height="3.97" fill="#aab1f9"/>
<rect x="286.05" y="443.83" width="24.45" height="3.97" fill="#fff6f6"/>
<text x="52.00" y="448.36" font-size="6.3" font-weight="normal" font-style="italic" fill="#333" text-anchor="end" >strada</text>
<rect x="57.00" y="448.95" width="24.45" height="3.97" fill="#a2aaf8"/>
<rect x="82.45" y="448.95" width="24.45" height="3.97" fill="#fde9e9"/>
<rect x="107.90" y="448.95" width="24.45" height="3.97" fill="#fdd6d6"/>
<rect x="133.35" y="448.95" width="24.45" height="3.97" fill="#fff6f6"/>
<rect x="158.80" y="448.95" width="24.45" height="3.97" fill="#ff6464"/>
<rect x="184.25" y="448.95" width="24.45" height="3.97" fill="#aab1f9"/>
<rect x="209.70" y="448.95" width="24.45" height="3.97" fill="#0a32fa"/>
<rect x="235.15" y="448.95" width="24.45" height="3.97" fill="#fff6f6"/>
<rect x="260.60" y="448.95" width="24.45" height="3.97" fill="#0a32fa"/>
<rect x="286.05" y="448.95" width="24.45" height="3.97" fill="#fff6f6"/>
<text x="52.00" y="453.53" font-size="6.3" font-weight="normal" font-style="italic" fill="#333" text-anchor="end" >slc2a1b</text>
<rect x="57.00" y="454.07" width="24.45" height="3.97" fill="#9aa0f8"/>
<rect x="82.45" y="454.07" width="24.45" height="3.97" fill="#5560f2"/>
<rect x="107.90" y="454.07" width="24.45" height="3.97" fill="#5560f2"/>
<rect x="133.35" y="454.07" width="24.45" height="3.97" fill="#8088f6"/>
<rect x="158.80" y="454.07" width="24.45" height="3.97" fill="#0a32fa"/>
<rect x="184.25" y="454.07" width="24.45" height="3.97" fill="#5560f2"/>
<rect x="209.70" y="454.07" width="24.45" height="3.97" fill="#3545f3"/>
<rect x="235.15" y="454.07" width="24.45" height="3.97" fill="#0a32fa"/>
<rect x="260.60" y="454.07" width="24.45" height="3.97" fill="#8088f6"/>
<rect x="286.05" y="454.07" width="24.45" height="3.97" fill="#aab1f9"/>
<text x="52.00" y="458.70" font-size="6.3" font-weight="normal" font-style="italic" fill="#333" text-anchor="end" >pnpo</text>
<rect x="57.00" y="459.19" width="24.45" height="3.97" fill="#8c94f8"/>
<rect x="82.45" y="459.19" width="24.45" height="3.97" fill="#3545f3"/>
<rect x="107.90" y="459.19" width="24.45" height="3.97" fill="#0a32fa"/>
<rect x="133.35" y="459.19" width="24.45" height="3.97" fill="#0a32fa"/>
<rect x="158.80" y="459.19" width="24.45" height="3.97" fill="#0a32fa"/>
<rect x="184.25" y="459.19" width="24.45" height="3.97" fill="#0a32fa"/>
<rect x="209.70" y="459.19" width="24.45" height="3.97" fill="#0a32fa"/>
<rect x="235.15" y="459.19" width="24.45" height="3.97" fill="#0a32fa"/>
<rect x="260.60" y="459.19" width="24.45" height="3.97" fill="#0a32fa"/>
<rect x="286.05" y="459.19" width="24.45" height="3.97" fill="#0a32fa"/>
<text x="52.00" y="463.87" font-size="6.3" font-weight="normal" font-style="italic" fill="#333" text-anchor="end" >kcna2b</text>
<rect x="57.00" y="464.31" width="24.45" height="3.97" fill="#8890f8"/>
<rect x="82.45" y="464.31" width="24.45" height="3.97" fill="#cdd0fb"/>
<rect x="107.90" y="464.31" width="24.45" height="3.97" fill="#8088f6"/>
<rect x="133.35" y="464.31" width="24.45" height="3.97" fill="#5560f2"/>
<rect x="158.80" y="464.31" width="24.45" height="3.97" fill="#5560f2"/>
<rect x="184.25" y="464.31" width="24.45" height="3.97" fill="#3545f3"/>
<rect x="209.70" y="464.31" width="24.45" height="3.97" fill="#0a32fa"/>
<rect x="235.15" y="464.31" width="24.45" height="3.97" fill="#fff6f6"/>
<rect x="260.60" y="464.31" width="24.45" height="3.97" fill="#0a32fa"/>
<rect x="286.05" y="464.31" width="24.45" height="3.97" fill="#5560f2"/>
<text x="52.00" y="469.04" font-size="6.3" font-weight="normal" font-style="italic" fill="#333" text-anchor="end" >mef2cb</text>
<rect x="57.00" y="469.43" width="24.45" height="3.97" fill="#7a85f4"/>
<rect x="82.45" y="469.43" width="24.45" height="3.97" fill="#e6e8fd"/>
<rect x="107.90" y="469.43" width="24.45" height="3.97" fill="#fff6f6"/>
<rect x="133.35" y="469.43" width="24.45" height="3.97" fill="#cdd0fb"/>
<rect x="158.80" y="469.43" width="24.45" height="3.97" fill="#5560f2"/>
<rect x="184.25" y="469.43" width="24.45" height="3.97" fill="#8088f6"/>
<rect x="209.70" y="469.43" width="24.45" height="3.97" fill="#5560f2"/>
<rect x="235.15" y="469.43" width="24.45" height="3.97" fill="#8088f6"/>
<rect x="260.60" y="469.43" width="24.45" height="3.97" fill="#fff6f6"/>
<rect x="286.05" y="469.43" width="24.45" height="3.97" fill="#fff6f6"/>
<text x="52.00" y="474.21" font-size="6.3" font-weight="normal" font-style="italic" fill="#333" text-anchor="end" >gosr2</text>
<rect x="57.00" y="474.55" width="24.45" height="3.97" fill="#6a75f4"/>
<rect x="82.45" y="474.55" width="24.45" height="3.97" fill="#f6f6fe"/>
<rect x="107.90" y="474.55" width="24.45" height="3.97" fill="#f6f6fe"/>
<rect x="133.35" y="474.55" width="24.45" height="3.97" fill="#5560f2"/>
<rect x="158.80" y="474.55" width="24.45" height="3.97" fill="#5560f2"/>
<rect x="184.25" y="474.55" width="24.45" height="3.97" fill="#8088f6"/>
<rect x="209.70" y="474.55" width="24.45" height="3.97" fill="#3545f3"/>
<rect x="235.15" y="474.55" width="24.45" height="3.97" fill="#8088f6"/>
<rect x="260.60" y="474.55" width="24.45" height="3.97" fill="#fff6f6"/>
<rect x="286.05" y="474.55" width="24.45" height="3.97" fill="#fff6f6"/>
<text x="52.00" y="479.38" font-size="6.3" font-weight="normal" font-style="italic" fill="#333" text-anchor="end" >snip</text>
<rect x="57.00" y="479.67" width="24.45" height="3.97" fill="#5060f0"/>
<rect x="82.45" y="479.67" width="24.45" height="3.97" fill="#8088f6"/>
<rect x="107.90" y="479.67" width="24.45" height="3.97" fill="#5560f2"/>
<rect x="133.35" y="479.67" width="24.45" height="3.97" fill="#0a32fa"/>
<rect x="158.80" y="479.67" width="24.45" height="3.97" fill="#0a32fa"/>
<rect x="184.25" y="479.67" width="24.45" height="3.97" fill="#5560f2"/>
<rect x="209.70" y="479.67" width="24.45" height="3.97" fill="#0a32fa"/>
<rect x="235.15" y="479.67" width="24.45" height="3.97" fill="#3545f3"/>
<rect x="260.60" y="479.67" width="24.45" height="3.97" fill="#8088f6"/>
<rect x="286.05" y="479.67" width="24.45" height="3.97" fill="#8088f6"/>
<text x="52.00" y="484.55" font-size="6.3" font-weight="normal" font-style="italic" fill="#333" text-anchor="end" >wwox</text>
<rect x="57.00" y="484.79" width="24.45" height="3.97" fill="#4a58f0"/>
<rect x="82.45" y="484.79" width="24.45" height="3.97" fill="#8088f6"/>
<rect x="107.90" y="484.79" width="24.45" height="3.97" fill="#8088f6"/>
<rect x="133.35" y="484.79" width="24.45" height="3.97" fill="#5560f2"/>
<rect x="158.80" y="484.79" width="24.45" height="3.97" fill="#5560f2"/>
<rect x="184.25" y="484.79" width="24.45" height="3.97" fill="#5560f2"/>
<rect x="209.70" y="484.79" width="24.45" height="3.97" fill="#0a32fa"/>
<rect x="235.15" y="484.79" width="24.45" height="3.97" fill="#5560f2"/>
<rect x="260.60" y="484.79" width="24.45" height="3.97" fill="#5560f2"/>
<rect x="286.05" y="484.79" width="24.45" height="3.97" fill="#8088f6"/>
<text x="52.00" y="489.72" font-size="6.3" font-weight="normal" font-style="italic" fill="#333" text-anchor="end" >depdc5</text>
<rect x="57.00" y="489.91" width="24.45" height="3.97" fill="#4a58f0"/>
<rect x="82.45" y="489.91" width="24.45" height="3.97" fill="#5560f2"/>
<rect x="107.90" y="489.91" width="24.45" height="3.97" fill="#5560f2"/>
<rect x="133.35" y="489.91" width="24.45" height="3.97" fill="#5560f2"/>
<rect x="158.80" y="489.91" width="24.45" height="3.97" fill="#8088f6"/>
<rect x="184.25" y="489.91" width="24.45" height="3.97" fill="#3545f3"/>
<rect x="209.70" y="489.91" width="24.45" height="3.97" fill="#8088f6"/>
<rect x="235.15" y="489.91" width="24.45" height="3.97" fill="#0a32fa"/>
<rect x="260.60" y="489.91" width="24.45" height="3.97" fill="#5560f2"/>
<rect x="286.05" y="489.91" width="24.45" height="3.97" fill="#0a32fa"/>
<text x="52.00" y="494.89" font-size="6.3" font-weight="normal" font-style="italic" fill="#333" text-anchor="end" >st3gal3b</text>
<rect x="57.00" y="495.03" width="24.45" height="3.97" fill="#4a58f0"/>
<rect x="82.45" y="495.03" width="24.45" height="3.97" fill="#8088f6"/>
<rect x="107.90" y="495.03" width="24.45" height="3.97" fill="#aab1f9"/>
<rect x="133.35" y="495.03" width="24.45" height="3.97" fill="#5560f2"/>
<rect x="158.80" y="495.03" width="24.45" height="3.97" fill="#5560f2"/>
<rect x="184.25" y="495.03" width="24.45" height="3.97" fill="#8088f6"/>
<rect x="209.70" y="495.03" width="24.45" height="3.97" fill="#0a32fa"/>
<rect x="235.15" y="495.03" width="24.45" height="3.97" fill="#3545f3"/>
<rect x="260.60" y="495.03" width="24.45" height="3.97" fill="#8088f6"/>
<rect x="286.05" y="495.03" width="24.45" height="3.97" fill="#8088f6"/>
<text x="52.00" y="500.06" font-size="6.3" font-weight="normal" font-style="italic" fill="#333" text-anchor="end" >cst14a.2</text>
<rect x="57.00" y="500.15" width="24.45" height="3.97" fill="#4050f0"/>
<rect x="82.45" y="500.15" width="24.45" height="3.97" fill="#8088f6"/>
<rect x="107.90" y="500.15" width="24.45" height="3.97" fill="#0a32fa"/>
<rect x="133.35" y="500.15" width="24.45" height="3.97" fill="#fff6f6"/>
<rect x="158.80" y="500.15" width="24.45" height="3.97" fill="#0a32fa"/>
<rect x="184.25" y="500.15" width="24.45" height="3.97" fill="#fff6f6"/>
<rect x="209.70" y="500.15" width="24.45" height="3.97" fill="#e6e8fd"/>
<rect x="235.15" y="500.15" width="24.45" height="3.97" fill="#0a32fa"/>
<rect x="260.60" y="500.15" width="24.45" height="3.97" fill="#0a32fa"/>
<rect x="286.05" y="500.15" width="24.45" height="3.97" fill="#0a32fa"/>
<text x="52.00" y="505.23" font-size="6.3" font-weight="normal" font-style="italic" fill="#333" text-anchor="end" >slc13a5a</text>
<rect x="57.00" y="505.26" width="24.45" height="3.97" fill="#4a58f0"/>
<rect x="82.45" y="505.26" width="24.45" height="3.97" fill="#5560f2"/>
<rect x="107.90" y="505.26" width="24.45" height="3.97" fill="#8088f6"/>
<rect x="133.35" y="505.26" width="24.45" height="3.97" fill="#5560f2"/>
<rect x="158.80" y="505.26" width="24.45" height="3.97" fill="#8088f6"/>
<rect x="184.25" y="505.26" width="24.45" height="3.97" fill="#0a32fa"/>
<rect x="209.70" y="505.26" width="24.45" height="3.97" fill="#0a32fa"/>
<rect x="235.15" y="505.26" width="24.45" height="3.97" fill="#5560f2"/>
<rect x="260.60" y="505.26" width="24.45" height="3.97" fill="#5560f2"/>
<rect x="286.05" y="505.26" width="24.45" height="3.97" fill="#8088f6"/>
<text x="52.00" y="510.40" font-size="6.3" font-weight="normal" font-style="italic" fill="#333" text-anchor="end" >cln8</text>
<rect x="57.00" y="510.38" width="24.45" height="3.97" fill="#3a48f0"/>
<rect x="82.45" y="510.38" width="24.45" height="3.97" fill="#3545f3"/>
<rect x="107.90" y="510.38" width="24.45" height="3.97" fill="#0a32fa"/>
<rect x="133.35" y="510.38" width="24.45" height="3.97" fill="#5560f2"/>
<rect x="158.80" y="510.38" width="24.45" height="3.97" fill="#0a32fa"/>
<rect x="184.25" y="510.38" width="24.45" height="3.97" fill="#0a32fa"/>
<rect x="209.70" y="510.38" width="24.45" height="3.97" fill="#0a32fa"/>
<rect x="235.15" y="510.38" width="24.45" height="3.97" fill="#3545f3"/>
<rect x="260.60" y="510.38" width="24.45" height="3.97" fill="#0a32fa"/>
<rect x="286.05" y="510.38" width="24.45" height="3.97" fill="#5560f2"/>
<text x="52.00" y="515.57" font-size="6.3" font-weight="normal" font-style="italic" fill="#333" text-anchor="end" >arxa</text>
<rect x="57.00" y="515.50" width="24.45" height="3.97" fill="#3545f0"/>
<rect x="82.45" y="515.50" width="24.45" height="3.97" fill="#8088f6"/>
<rect x="107.90" y="515.50" width="24.45" height="3.97" fill="#8088f6"/>
<rect x="133.35" y="515.50" width="24.45" height="3.97" fill="#0a32fa"/>
<rect x="158.80" y="515.50" width="24.45" height="3.97" fill="#8088f6"/>
<rect x="184.25" y="515.50" width="24.45" height="3.97" fill="#0a32fa"/>
<rect x="209.70" y="515.50" width="24.45" height="3.97" fill="#0a32fa"/>
<rect x="235.15" y="515.50" width="24.45" height="3.97" fill="#5560f2"/>
<rect x="260.60" y="515.50" width="24.45" height="3.97" fill="#8088f6"/>
<rect x="286.05" y="515.50" width="24.45" height="3.97" fill="#5560f2"/>
<text x="52.00" y="520.74" font-size="6.3" font-weight="normal" font-style="italic" fill="#333" text-anchor="end" >prickle1a</text>
<rect x="57.00" y="520.62" width="24.45" height="3.97" fill="#2a40f2"/>
<rect x="82.45" y="520.62" width="24.45" height="3.97" fill="#8088f6"/>
<rect x="107.90" y="520.62" width="24.45" height="3.97" fill="#8088f6"/>
<rect x="133.35" y="520.62" width="24.45" height="3.97" fill="#aab1f9"/>
<rect x="158.80" y="520.62" width="24.45" height="3.97" fill="#5560f2"/>
<rect x="184.25" y="520.62" width="24.45" height="3.97" fill="#5560f2"/>
<rect x="209.70" y="520.62" width="24.45" height="3.97" fill="#0a32fa"/>
<rect x="235.15" y="520.62" width="24.45" height="3.97" fill="#8088f6"/>
<rect x="260.60" y="520.62" width="24.45" height="3.97" fill="#8088f6"/>
<rect x="286.05" y="520.62" width="24.45" height="3.97" fill="#5560f2"/>
<text x="52.00" y="525.91" font-size="6.3" font-weight="normal" font-style="italic" fill="#333" text-anchor="end" >st3gal3a</text>
<rect x="57.00" y="525.74" width="24.45" height="3.97" fill="#2040f4"/>
<rect x="82.45" y="525.74" width="24.45" height="3.97" fill="#f6f6fe"/>
<rect x="107.90" y="525.74" width="24.45" height="3.97" fill="#fff6f6"/>
<rect x="133.35" y="525.74" width="24.45" height="3.97" fill="#5560f2"/>
<rect x="158.80" y="525.74" width="24.45" height="3.97" fill="#aab1f9"/>
<rect x="184.25" y="525.74" width="24.45" height="3.97" fill="#8088f6"/>
<rect x="209.70" y="525.74" width="24.45" height="3.97" fill="#0a32fa"/>
<rect x="235.15" y="525.74" width="24.45" height="3.97" fill="#8088f6"/>
<rect x="260.60" y="525.74" width="24.45" height="3.97" fill="#fff6f6"/>
<rect x="286.05" y="525.74" width="24.45" height="3.97" fill="#aab1f9"/>
<text x="52.00" y="531.08" font-size="6.3" font-weight="normal" font-style="italic" fill="#333" text-anchor="end" >srpx2</text>
<rect x="57.00" y="530.86" width="24.45" height="3.97" fill="#0a32fa"/>
<rect x="82.45" y="530.86" width="24.45" height="3.97" fill="#5560f2"/>
<rect x="107.90" y="530.86" width="24.45" height="3.97" fill="#8088f6"/>
<rect x="133.35" y="530.86" width="24.45" height="3.97" fill="#0a32fa"/>
<rect x="158.80" y="530.86" width="24.45" height="3.97" fill="#0a32fa"/>
<rect x="184.25" y="530.86" width="24.45" height="3.97" fill="#0a32fa"/>
<rect x="209.70" y="530.86" width="24.45" height="3.97" fill="#0a32fa"/>
<rect x="235.15" y="530.86" width="24.45" height="3.97" fill="#0a32fa"/>
<rect x="260.60" y="530.86" width="24.45" height="3.97" fill="#5560f2"/>
<rect x="286.05" y="530.86" width="24.45" height="3.97" fill="#e6e8fd"/>
<text x="52.00" y="536.25" font-size="6.3" font-weight="normal" font-style="italic" fill="#333" text-anchor="end" >slc35a2</text>
<rect x="57.00" y="535.98" width="24.45" height="3.97" fill="#0a32fa"/>
<rect x="82.45" y="535.98" width="24.45" height="3.97" fill="#0a32fa"/>
<rect x="107.90" y="535.98" width="24.45" height="3.97" fill="#8088f6"/>
<rect x="133.35" y="535.98" width="24.45" height="3.97" fill="#0a32fa"/>
<rect x="158.80" y="535.98" width="24.45" height="3.97" fill="#0a32fa"/>
<rect x="184.25" y="535.98" width="24.45" height="3.97" fill="#0a32fa"/>
<rect x="209.70" y="535.98" width="24.45" height="3.97" fill="#0a32fa"/>
<rect x="235.15" y="535.98" width="24.45" height="3.97" fill="#0a32fa"/>
<rect x="260.60" y="535.98" width="24.45" height="3.97" fill="#0a32fa"/>
<rect x="286.05" y="535.98" width="24.45" height="3.97" fill="#0a32fa"/>
<text x="52.00" y="541.42" font-size="6.3" font-weight="normal" font-style="italic" fill="#333" text-anchor="end" >cpa6</text>
<rect x="56.5" y="248.8" width="254.50" height="292.20" fill="none" stroke="#333" stroke-width="0.9"/>
<text x="66.92" y="549.80" font-size="6.6" font-weight="bold" font-style="normal" fill="#222" text-anchor="middle" >Brain</text>
<text x="92.38" y="549.80" font-size="6.6" font-weight="bold" font-style="normal" fill="#222" text-anchor="middle" >Bones</text>
<text x="117.83" y="549.80" font-size="6.6" font-weight="bold" font-style="normal" fill="#222" text-anchor="middle" >Gills</text>
<text x="143.27" y="549.80" font-size="6.6" font-weight="bold" font-style="normal" fill="#222" text-anchor="middle" >Kidney</text>
<text x="168.72" y="549.80" font-size="6.6" font-weight="bold" font-style="normal" fill="#222" text-anchor="middle" >Heart</text>
<text x="194.17" y="549.80" font-size="6.6" font-weight="bold" font-style="normal" fill="#222" text-anchor="middle" >Intestine</text>
<text x="219.62" y="549.80" font-size="6.6" font-weight="bold" font-style="normal" fill="#222" text-anchor="middle" >Liver</text>
<text x="245.07" y="549.80" font-size="6.6" font-weight="bold" font-style="normal" fill="#222" text-anchor="middle" >Muscle</text>
<text x="270.52" y="549.80" font-size="6.6" font-weight="bold" font-style="normal" fill="#222" text-anchor="middle" >Ovary</text>
<text x="295.97" y="549.80" font-size="6.6" font-weight="bold" font-style="normal" fill="#222" text-anchor="middle" >Testis</text>
<defs><linearGradient id="cgrad" x1="0" y1="0" x2="0" y2="1"><stop offset="0" stop-color="#ff2200"/><stop offset="0.4" stop-color="#ff7a6a"/><stop offset="0.7" stop-color="#ffc0b8"/><stop offset="0.94" stop-color="#fff8f8"/><stop offset="0.965" stop-color="#d8dcfc"/><stop offset="1" stop-color="#0a32fa"/></linearGradient></defs>
<rect x="317.8" y="248.8" width="12.6" height="291.8" fill="url(#cgrad)" stroke="#555" stroke-width="0.9"/>
<line x1="317.8" y1="540.60" x2="319.3" y2="540.60" stroke="#111" stroke-width="1"/>
<line x1="328.9" y1="540.60" x2="330.4" y2="540.60" stroke="#111" stroke-width="1"/>
<text x="334.60" y="543.30" font-size="8.1" font-weight="normal" font-style="normal" fill="#333" text-anchor="start" >0</text>
<line x1="317.8" y1="501.20" x2="319.3" y2="501.20" stroke="#111" stroke-width="1"/>
<line x1="328.9" y1="501.20" x2="330.4" y2="501.20" stroke="#111" stroke-width="1"/>
<text x="334.60" y="503.90" font-size="8.1" font-weight="normal" font-style="normal" fill="#333" text-anchor="start" >10000</text>
<line x1="317.8" y1="461.80" x2="319.3" y2="461.80" stroke="#111" stroke-width="1"/>
<line x1="328.9" y1="461.80" x2="330.4" y2="461.80" stroke="#111" stroke-width="1"/>
<text x="334.60" y="464.50" font-size="8.1" font-weight="normal" font-style="normal" fill="#333" text-anchor="start" >20000</text>
<line x1="317.8" y1="422.40" x2="319.3" y2="422.40" stroke="#111" stroke-width="1"/>
<line x1="328.9" y1="422.40" x2="330.4" y2="422.40" stroke="#111" stroke-width="1"/>
<text x="334.60" y="425.10" font-size="8.1" font-weight="normal" font-style="normal" fill="#333" text-anchor="start" >30000</text>
<line x1="317.8" y1="383.00" x2="319.3" y2="383.00" stroke="#111" stroke-width="1"/>
<line x1="328.9" y1="383.00" x2="330.4" y2="383.00" stroke="#111" stroke-width="1"/>
<text x="334.60" y="385.70" font-size="8.1" font-weight="normal" font-style="normal" fill="#333" text-anchor="start" >40000</text>
<line x1="317.8" y1="343.60" x2="319.3" y2="343.60" stroke="#111" stroke-width="1"/>
<line x1="328.9" y1="343.60" x2="330.4" y2="343.60" stroke="#111" stroke-width="1"/>
<text x="334.60" y="346.30" font-size="8.1" font-weight="normal" font-style="normal" fill="#333" text-anchor="start" >50000</text>
<line x1="317.8" y1="304.20" x2="319.3" y2="304.20" stroke="#111" stroke-width="1"/>
<line x1="328.9" y1="304.20" x2="330.4" y2="304.20" stroke="#111" stroke-width="1"/>
<text x="334.60" y="306.90" font-size="8.1" font-weight="normal" font-style="normal" fill="#333" text-anchor="start" >60000</text>
<line x1="317.8" y1="264.80" x2="319.3" y2="264.80" stroke="#111" stroke-width="1"/>
<line x1="328.9" y1="264.80" x2="330.4" y2="264.80" stroke="#111" stroke-width="1"/>
<text x="334.60" y="267.50" font-size="8.1" font-weight="normal" font-style="normal" fill="#333" text-anchor="start" >70000</text>
<defs><filter id="gb" x="-50%" y="-80%" width="200%" height="260%"><feGaussianBlur stdDeviation="0.7"/></filter><filter id="gb2" x="-20%" y="-50%" width="140%" height="200%"><feGaussianBlur stdDeviation="0.35"/></filter></defs>
<rect x="413.8" y="277.3" width="115.80" height="8.10" fill="rgb(27,27,27)"/>
<rect x="415.0" y="278.60" width="111.30" height="5.50" fill="rgb(55,55,55)" filter="url(#gb2)"/>
<rect x="470.38" y="279.37" width="6.51" height="3.96" rx="1.98" fill="rgb(173,173,173)" filter="url(#gb)"/>
<rect x="478.98" y="278.75" width="7.40" height="5.20" rx="2.60" fill="rgb(250,250,250)" filter="url(#gb)"/>
<rect x="488.13" y="278.91" width="7.18" height="4.89" rx="2.44" fill="rgb(231,231,231)" filter="url(#gb)"/>
<rect x="497.06" y="278.75" width="7.40" height="5.20" rx="2.60" fill="rgb(250,250,250)" filter="url(#gb)"/>
<rect x="506.43" y="279.22" width="6.73" height="4.27" rx="2.13" fill="rgb(193,193,193)" filter="url(#gb)"/>
<rect x="515.25" y="278.91" width="7.18" height="4.89" rx="2.44" fill="rgb(231,231,231)" filter="url(#gb)"/>
<text x="411.70" y="283.85" font-size="7.3" font-weight="normal" font-style="italic" fill="#4a4a4a" text-anchor="end" >stx1b</text>
<rect x="413.8" y="289.2" width="115.80" height="7.60" fill="rgb(20,20,20)"/>
<rect x="415.0" y="290.50" width="111.30" height="5.00" fill="rgb(41,41,41)" filter="url(#gb2)"/>
<rect x="416.59" y="291.64" width="5.62" height="2.71" rx="1.36" fill="rgb(73,73,73)" filter="url(#gb)"/>
<rect x="425.63" y="291.64" width="5.62" height="2.71" rx="1.36" fill="rgb(73,73,73)" filter="url(#gb)"/>
<rect x="434.67" y="291.64" width="5.62" height="2.71" rx="1.36" fill="rgb(73,73,73)" filter="url(#gb)"/>
<rect x="443.71" y="291.64" width="5.62" height="2.71" rx="1.36" fill="rgb(73,73,73)" filter="url(#gb)"/>
<rect x="452.75" y="291.64" width="5.62" height="2.71" rx="1.36" fill="rgb(73,73,73)" filter="url(#gb)"/>
<rect x="461.79" y="291.64" width="5.62" height="2.71" rx="1.36" fill="rgb(73,73,73)" filter="url(#gb)"/>
<rect x="470.05" y="290.56" width="7.18" height="4.89" rx="2.44" fill="rgb(230,230,230)" filter="url(#gb)"/>
<rect x="478.98" y="290.40" width="7.40" height="5.20" rx="2.60" fill="rgb(250,250,250)" filter="url(#gb)"/>
<rect x="488.02" y="290.40" width="7.40" height="5.20" rx="2.60" fill="rgb(250,250,250)" filter="url(#gb)"/>
<rect x="497.06" y="290.40" width="7.40" height="5.20" rx="2.60" fill="rgb(250,250,250)" filter="url(#gb)"/>
<rect x="506.10" y="290.40" width="7.40" height="5.20" rx="2.60" fill="rgb(250,250,250)" filter="url(#gb)"/>
<rect x="515.14" y="290.40" width="7.40" height="5.20" rx="2.60" fill="rgb(250,250,250)" filter="url(#gb)"/>
<text x="411.70" y="295.50" font-size="7.3" font-weight="normal" font-style="italic" fill="#4a4a4a" text-anchor="end" >slc6a1b</text>
<rect x="413.8" y="300.6" width="115.80" height="8.10" fill="rgb(20,20,20)"/>
<rect x="415.0" y="301.90" width="111.30" height="5.50" fill="rgb(41,41,41)" filter="url(#gb2)"/>
<rect x="470.61" y="302.98" width="6.07" height="3.33" rx="1.67" fill="rgb(123,123,123)" filter="url(#gb)"/>
<rect x="478.98" y="302.05" width="7.40" height="5.20" rx="2.60" fill="rgb(250,250,250)" filter="url(#gb)"/>
<rect x="488.35" y="302.52" width="6.73" height="4.27" rx="2.13" fill="rgb(189,189,189)" filter="url(#gb)"/>
<rect x="497.17" y="302.21" width="7.18" height="4.89" rx="2.44" fill="rgb(230,230,230)" filter="url(#gb)"/>
<rect x="506.21" y="302.21" width="7.18" height="4.89" rx="2.44" fill="rgb(230,230,230)" filter="url(#gb)"/>
<rect x="515.25" y="302.21" width="7.18" height="4.89" rx="2.44" fill="rgb(230,230,230)" filter="url(#gb)"/>
<text x="411.70" y="307.15" font-size="7.3" font-weight="normal" font-style="italic" fill="#4a4a4a" text-anchor="end" >scn8aa</text>
<rect x="413.8" y="312.3" width="115.80" height="7.60" fill="rgb(37,37,37)"/>
<rect x="415.0" y="313.60" width="111.30" height="5.00" fill="rgb(75,75,75)" filter="url(#gb2)"/>
<rect x="416.03" y="313.97" width="6.73" height="4.27" rx="2.13" fill="rgb(198,198,198)" filter="url(#gb)"/>
<rect x="425.18" y="314.12" width="6.51" height="3.96" rx="1.98" fill="rgb(181,181,181)" filter="url(#gb)"/>
<rect x="434.34" y="314.28" width="6.29" height="3.64" rx="1.82" fill="rgb(162,162,162)" filter="url(#gb)"/>
<rect x="443.60" y="314.59" width="5.84" height="3.02" rx="1.51" fill="rgb(123,123,123)" filter="url(#gb)"/>
<rect x="452.64" y="314.59" width="5.84" height="3.02" rx="1.51" fill="rgb(123,123,123)" filter="url(#gb)"/>
<rect x="461.68" y="314.59" width="5.84" height="3.02" rx="1.51" fill="rgb(123,123,123)" filter="url(#gb)"/>
<rect x="470.16" y="313.81" width="6.96" height="4.58" rx="2.29" fill="rgb(216,216,216)" filter="url(#gb)"/>
<rect x="479.09" y="313.66" width="7.18" height="4.89" rx="2.44" fill="rgb(233,233,233)" filter="url(#gb)"/>
<rect x="488.02" y="313.50" width="7.40" height="5.20" rx="2.60" fill="rgb(250,250,250)" filter="url(#gb)"/>
<rect x="497.06" y="313.50" width="7.40" height="5.20" rx="2.60" fill="rgb(250,250,250)" filter="url(#gb)"/>
<rect x="506.54" y="314.12" width="6.51" height="3.96" rx="1.98" fill="rgb(181,181,181)" filter="url(#gb)"/>
<rect x="515.25" y="313.66" width="7.18" height="4.89" rx="2.44" fill="rgb(233,233,233)" filter="url(#gb)"/>
<text x="411.70" y="318.60" font-size="7.3" font-weight="normal" font-style="italic" fill="#4a4a4a" text-anchor="end" >gnao1a</text>
<rect x="413.8" y="322.9" width="115.80" height="7.60" fill="rgb(34,34,34)"/>
<rect x="415.0" y="324.20" width="111.30" height="5.00" fill="rgb(69,69,69)" filter="url(#gb2)"/>
<rect x="470.61" y="325.03" width="6.07" height="3.33" rx="1.67" fill="rgb(140,140,140)" filter="url(#gb)"/>
<rect x="479.09" y="324.26" width="7.18" height="4.89" rx="2.44" fill="rgb(232,232,232)" filter="url(#gb)"/>
<rect x="488.13" y="324.26" width="7.18" height="4.89" rx="2.44" fill="rgb(232,232,232)" filter="url(#gb)"/>
<rect x="497.06" y="324.10" width="7.40" height="5.20" rx="2.60" fill="rgb(250,250,250)" filter="url(#gb)"/>
<rect x="506.54" y="324.72" width="6.51" height="3.96" rx="1.98" fill="rgb(178,178,178)" filter="url(#gb)"/>
<rect x="515.25" y="324.26" width="7.18" height="4.89" rx="2.44" fill="rgb(232,232,232)" filter="url(#gb)"/>
<text x="411.70" y="329.20" font-size="7.3" font-weight="normal" font-style="italic" fill="#4a4a4a" text-anchor="end" >gnao1b</text>
<rect x="413.8" y="333.3" width="115.80" height="7.60" fill="rgb(20,20,20)"/>
<rect x="415.0" y="334.60" width="111.30" height="5.00" fill="rgb(41,41,41)" filter="url(#gb2)"/>
<rect x="470.61" y="335.43" width="6.07" height="3.33" rx="1.67" fill="rgb(123,123,123)" filter="url(#gb)"/>
<rect x="478.98" y="334.50" width="7.40" height="5.20" rx="2.60" fill="rgb(250,250,250)" filter="url(#gb)"/>
<rect x="488.13" y="334.66" width="7.18" height="4.89" rx="2.44" fill="rgb(230,230,230)" filter="url(#gb)"/>
<rect x="497.06" y="334.50" width="7.40" height="5.20" rx="2.60" fill="rgb(250,250,250)" filter="url(#gb)"/>
<rect x="506.10" y="334.50" width="7.40" height="5.20" rx="2.60" fill="rgb(250,250,250)" filter="url(#gb)"/>
<rect x="515.14" y="334.50" width="7.40" height="5.20" rx="2.60" fill="rgb(250,250,250)" filter="url(#gb)"/>
<text x="411.70" y="339.60" font-size="7.3" font-weight="normal" font-style="italic" fill="#4a4a4a" text-anchor="end" >grin1a</text>
<rect x="413.8" y="344.7" width="115.80" height="8.00" fill="rgb(30,30,30)"/>
<rect x="415.0" y="346.00" width="111.30" height="5.40" fill="rgb(62,62,62)" filter="url(#gb2)"/>
<rect x="470.16" y="346.41" width="6.96" height="4.58" rx="2.29" fill="rgb(213,213,213)" filter="url(#gb)"/>
<rect x="479.42" y="346.72" width="6.51" height="3.96" rx="1.98" fill="rgb(176,176,176)" filter="url(#gb)"/>
<rect x="488.69" y="347.03" width="6.07" height="3.33" rx="1.67" fill="rgb(135,135,135)" filter="url(#gb)"/>
<rect x="497.17" y="346.26" width="7.18" height="4.89" rx="2.44" fill="rgb(232,232,232)" filter="url(#gb)"/>
<rect x="506.66" y="346.88" width="6.29" height="3.64" rx="1.82" fill="rgb(156,156,156)" filter="url(#gb)"/>
<rect x="515.81" y="347.03" width="6.07" height="3.33" rx="1.67" fill="rgb(135,135,135)" filter="url(#gb)"/>
<text x="411.70" y="351.20" font-size="7.3" font-weight="normal" font-style="italic" fill="#4a4a4a" text-anchor="end" >slc2a1a</text>
<rect x="413.8" y="356.1" width="115.80" height="7.90" fill="rgb(17,17,17)"/>
<rect x="415.0" y="357.40" width="111.30" height="5.30" fill="rgb(34,34,34)" filter="url(#gb2)"/>
<rect x="497.17" y="357.61" width="7.18" height="4.89" rx="2.44" fill="rgb(229,229,229)" filter="url(#gb)"/>
<rect x="506.32" y="357.76" width="6.96" height="4.58" rx="2.29" fill="rgb(208,208,208)" filter="url(#gb)"/>
<rect x="515.25" y="357.61" width="7.18" height="4.89" rx="2.44" fill="rgb(229,229,229)" filter="url(#gb)"/>
<text x="411.70" y="362.55" font-size="7.3" font-weight="normal" font-style="italic" fill="#4a4a4a" text-anchor="end" >slc6a1a</text>
<rect x="413.8" y="367.7" width="115.80" height="8.20" fill="rgb(37,37,37)"/>
<rect x="415.0" y="369.00" width="111.30" height="5.60" fill="rgb(75,75,75)" filter="url(#gb2)"/>
<rect x="415.81" y="369.36" width="7.18" height="4.89" rx="2.44" fill="rgb(233,233,233)" filter="url(#gb)"/>
<rect x="424.85" y="369.36" width="7.18" height="4.89" rx="2.44" fill="rgb(233,233,233)" filter="url(#gb)"/>
<rect x="433.89" y="369.36" width="7.18" height="4.89" rx="2.44" fill="rgb(233,233,233)" filter="url(#gb)"/>
<rect x="443.49" y="370.13" width="6.07" height="3.33" rx="1.67" fill="rgb(143,143,143)" filter="url(#gb)"/>
<rect x="452.42" y="369.98" width="6.29" height="3.64" rx="1.82" fill="rgb(162,162,162)" filter="url(#gb)"/>
<rect x="461.46" y="369.98" width="6.29" height="3.64" rx="1.82" fill="rgb(162,162,162)" filter="url(#gb)"/>
<rect x="470.38" y="369.82" width="6.51" height="3.96" rx="1.98" fill="rgb(181,181,181)" filter="url(#gb)"/>
<rect x="479.42" y="369.82" width="6.51" height="3.96" rx="1.98" fill="rgb(181,181,181)" filter="url(#gb)"/>
<rect x="488.13" y="369.36" width="7.18" height="4.89" rx="2.44" fill="rgb(233,233,233)" filter="url(#gb)"/>
<rect x="497.06" y="369.20" width="7.40" height="5.20" rx="2.60" fill="rgb(250,250,250)" filter="url(#gb)"/>
<rect x="506.54" y="369.82" width="6.51" height="3.96" rx="1.98" fill="rgb(181,181,181)" filter="url(#gb)"/>
<rect x="515.25" y="369.36" width="7.18" height="4.89" rx="2.44" fill="rgb(233,233,233)" filter="url(#gb)"/>
<text x="411.70" y="374.30" font-size="7.3" font-weight="normal" font-style="italic" fill="#4a4a4a" text-anchor="end" >chd2</text>
<rect x="413.8" y="379.9" width="115.80" height="7.90" fill="rgb(23,23,23)"/>
<rect x="415.0" y="381.20" width="111.30" height="5.30" fill="rgb(48,48,48)" filter="url(#gb2)"/>
<rect x="479.54" y="382.03" width="6.29" height="3.64" rx="1.82" fill="rgb(149,149,149)" filter="url(#gb)"/>
<rect x="488.80" y="382.34" width="5.84" height="3.02" rx="1.51" fill="rgb(104,104,104)" filter="url(#gb)"/>
<rect x="497.28" y="381.56" width="6.96" height="4.58" rx="2.29" fill="rgb(211,211,211)" filter="url(#gb)"/>
<rect x="506.43" y="381.72" width="6.73" height="4.27" rx="2.13" fill="rgb(191,191,191)" filter="url(#gb)"/>
<rect x="515.36" y="381.56" width="6.96" height="4.58" rx="2.29" fill="rgb(211,211,211)" filter="url(#gb)"/>
<text x="411.70" y="386.35" font-size="7.3" font-weight="normal" font-style="italic" fill="#4a4a4a" text-anchor="end" >scn8ab</text>
<rect x="413.8" y="393.1" width="115.80" height="6.60" fill="rgb(27,27,27)"/>
<rect x="415.0" y="394.40" width="111.30" height="4.00" fill="rgb(55,55,55)" filter="url(#gb2)"/>
<rect x="415.81" y="393.96" width="7.18" height="4.89" rx="2.44" fill="rgb(231,231,231)" filter="url(#gb)"/>
<rect x="424.85" y="393.96" width="7.18" height="4.89" rx="2.44" fill="rgb(231,231,231)" filter="url(#gb)"/>
<rect x="433.89" y="393.96" width="7.18" height="4.89" rx="2.44" fill="rgb(231,231,231)" filter="url(#gb)"/>
<rect x="442.93" y="393.96" width="7.18" height="4.89" rx="2.44" fill="rgb(231,231,231)" filter="url(#gb)"/>
<rect x="452.19" y="394.27" width="6.73" height="4.27" rx="2.13" fill="rgb(193,193,193)" filter="url(#gb)"/>
<rect x="461.23" y="394.27" width="6.73" height="4.27" rx="2.13" fill="rgb(193,193,193)" filter="url(#gb)"/>
<rect x="470.16" y="394.11" width="6.96" height="4.58" rx="2.29" fill="rgb(212,212,212)" filter="url(#gb)"/>
<rect x="479.20" y="394.11" width="6.96" height="4.58" rx="2.29" fill="rgb(212,212,212)" filter="url(#gb)"/>
<rect x="488.24" y="394.11" width="6.96" height="4.58" rx="2.29" fill="rgb(212,212,212)" filter="url(#gb)"/>
<rect x="497.28" y="394.11" width="6.96" height="4.58" rx="2.29" fill="rgb(212,212,212)" filter="url(#gb)"/>
<rect x="506.32" y="394.11" width="6.96" height="4.58" rx="2.29" fill="rgb(212,212,212)" filter="url(#gb)"/>
<rect x="515.36" y="394.11" width="6.96" height="4.58" rx="2.29" fill="rgb(212,212,212)" filter="url(#gb)"/>
<text x="411.70" y="398.90" font-size="7.3" font-weight="normal" font-style="italic" fill="#4a4a4a" text-anchor="end" >pafa1b1b</text>
<rect x="413.8" y="403.3" width="115.80" height="8.10" fill="rgb(27,27,27)"/>
<rect x="415.0" y="404.60" width="111.30" height="5.50" fill="rgb(55,55,55)" filter="url(#gb2)"/>
<rect x="479.65" y="405.68" width="6.07" height="3.33" rx="1.67" fill="rgb(131,131,131)" filter="url(#gb)"/>
<rect x="488.02" y="404.75" width="7.40" height="5.20" rx="2.60" fill="rgb(250,250,250)" filter="url(#gb)"/>
<rect x="497.06" y="404.75" width="7.40" height="5.20" rx="2.60" fill="rgb(250,250,250)" filter="url(#gb)"/>
<rect x="506.54" y="405.37" width="6.51" height="3.96" rx="1.98" fill="rgb(173,173,173)" filter="url(#gb)"/>
<rect x="515.14" y="404.75" width="7.40" height="5.20" rx="2.60" fill="rgb(250,250,250)" filter="url(#gb)"/>
<text x="411.70" y="409.85" font-size="7.3" font-weight="normal" font-style="italic" fill="#4a4a4a" text-anchor="end" >gabra1</text>
<rect x="413.8" y="415.2" width="115.80" height="7.60" fill="rgb(20,20,20)"/>
<rect x="415.0" y="416.50" width="111.30" height="5.00" fill="rgb(41,41,41)" filter="url(#gb2)"/>
<rect x="416.14" y="417.02" width="6.51" height="3.96" rx="1.98" fill="rgb(167,167,167)" filter="url(#gb)"/>
<rect x="425.07" y="416.87" width="6.73" height="4.27" rx="2.13" fill="rgb(189,189,189)" filter="url(#gb)"/>
<rect x="434.00" y="416.71" width="6.96" height="4.58" rx="2.29" fill="rgb(209,209,209)" filter="url(#gb)"/>
<rect x="443.38" y="417.18" width="6.29" height="3.64" rx="1.82" fill="rgb(145,145,145)" filter="url(#gb)"/>
<rect x="452.08" y="416.71" width="6.96" height="4.58" rx="2.29" fill="rgb(209,209,209)" filter="url(#gb)"/>
<rect x="461.34" y="417.02" width="6.51" height="3.96" rx="1.98" fill="rgb(167,167,167)" filter="url(#gb)"/>
<rect x="470.38" y="417.02" width="6.51" height="3.96" rx="1.98" fill="rgb(167,167,167)" filter="url(#gb)"/>
<rect x="479.09" y="416.56" width="7.18" height="4.89" rx="2.44" fill="rgb(230,230,230)" filter="url(#gb)"/>
<rect x="488.46" y="417.02" width="6.51" height="3.96" rx="1.98" fill="rgb(167,167,167)" filter="url(#gb)"/>
<rect x="497.28" y="416.71" width="6.96" height="4.58" rx="2.29" fill="rgb(209,209,209)" filter="url(#gb)"/>
<rect x="506.43" y="416.87" width="6.73" height="4.27" rx="2.13" fill="rgb(189,189,189)" filter="url(#gb)"/>
<rect x="515.36" y="416.71" width="6.96" height="4.58" rx="2.29" fill="rgb(209,209,209)" filter="url(#gb)"/>
<text x="411.70" y="421.50" font-size="7.3" font-weight="normal" font-style="italic" fill="#4a4a4a" text-anchor="end" >pafa1b1a</text>
<rect x="413.8" y="426.1" width="115.80" height="8.00" fill="rgb(23,23,23)"/>
<rect x="415.0" y="427.40" width="111.30" height="5.40" fill="rgb(48,48,48)" filter="url(#gb2)"/>
<rect x="443.71" y="428.74" width="5.62" height="2.71" rx="1.36" fill="rgb(79,79,79)" filter="url(#gb)"/>
<rect x="452.53" y="428.43" width="6.07" height="3.33" rx="1.67" fill="rgb(127,127,127)" filter="url(#gb)"/>
<rect x="461.12" y="427.81" width="6.96" height="4.58" rx="2.29" fill="rgb(211,211,211)" filter="url(#gb)"/>
<rect x="470.16" y="427.81" width="6.96" height="4.58" rx="2.29" fill="rgb(211,211,211)" filter="url(#gb)"/>
<rect x="479.20" y="427.81" width="6.96" height="4.58" rx="2.29" fill="rgb(211,211,211)" filter="url(#gb)"/>
<rect x="488.24" y="427.81" width="6.96" height="4.58" rx="2.29" fill="rgb(211,211,211)" filter="url(#gb)"/>
<rect x="497.28" y="427.81" width="6.96" height="4.58" rx="2.29" fill="rgb(211,211,211)" filter="url(#gb)"/>
<rect x="506.43" y="427.97" width="6.73" height="4.27" rx="2.13" fill="rgb(191,191,191)" filter="url(#gb)"/>
<rect x="515.47" y="427.97" width="6.73" height="4.27" rx="2.13" fill="rgb(191,191,191)" filter="url(#gb)"/>
<text x="411.70" y="432.60" font-size="7.3" font-weight="normal" font-style="italic" fill="#4a4a4a" text-anchor="end" >pcdh19</text>
<rect x="413.8" y="437.6" width="115.80" height="7.60" fill="rgb(23,23,23)"/>
<rect x="415.0" y="438.90" width="111.30" height="5.00" fill="rgb(48,48,48)" filter="url(#gb2)"/>
<rect x="416.03" y="439.27" width="6.73" height="4.27" rx="2.13" fill="rgb(191,191,191)" filter="url(#gb)"/>
<rect x="424.96" y="439.11" width="6.96" height="4.58" rx="2.29" fill="rgb(211,211,211)" filter="url(#gb)"/>
<rect x="434.00" y="439.11" width="6.96" height="4.58" rx="2.29" fill="rgb(211,211,211)" filter="url(#gb)"/>
<rect x="443.26" y="439.42" width="6.51" height="3.96" rx="1.98" fill="rgb(170,170,170)" filter="url(#gb)"/>
<rect x="452.08" y="439.11" width="6.96" height="4.58" rx="2.29" fill="rgb(211,211,211)" filter="url(#gb)"/>
<rect x="461.12" y="439.11" width="6.96" height="4.58" rx="2.29" fill="rgb(211,211,211)" filter="url(#gb)"/>
<rect x="470.27" y="439.27" width="6.73" height="4.27" rx="2.13" fill="rgb(191,191,191)" filter="url(#gb)"/>
<rect x="479.20" y="439.11" width="6.96" height="4.58" rx="2.29" fill="rgb(211,211,211)" filter="url(#gb)"/>
<rect x="488.35" y="439.27" width="6.73" height="4.27" rx="2.13" fill="rgb(191,191,191)" filter="url(#gb)"/>
<rect x="497.28" y="439.11" width="6.96" height="4.58" rx="2.29" fill="rgb(211,211,211)" filter="url(#gb)"/>
<rect x="506.43" y="439.27" width="6.73" height="4.27" rx="2.13" fill="rgb(191,191,191)" filter="url(#gb)"/>
<rect x="515.36" y="439.11" width="6.96" height="4.58" rx="2.29" fill="rgb(211,211,211)" filter="url(#gb)"/>
<text x="411.70" y="443.90" font-size="7.3" font-weight="normal" font-style="italic" fill="#4a4a4a" text-anchor="end" >hnrnpua</text>
<rect x="413.8" y="448.3" width="115.80" height="7.60" fill="rgb(20,20,20)"/>
<rect x="415.0" y="449.60" width="111.30" height="5.00" fill="rgb(41,41,41)" filter="url(#gb2)"/>
<rect x="415.92" y="449.81" width="6.96" height="4.58" rx="2.29" fill="rgb(209,209,209)" filter="url(#gb)"/>
<rect x="424.96" y="449.81" width="6.96" height="4.58" rx="2.29" fill="rgb(209,209,209)" filter="url(#gb)"/>
<rect x="434.00" y="449.81" width="6.96" height="4.58" rx="2.29" fill="rgb(209,209,209)" filter="url(#gb)"/>
<rect x="443.15" y="449.97" width="6.73" height="4.27" rx="2.13" fill="rgb(189,189,189)" filter="url(#gb)"/>
<rect x="452.08" y="449.81" width="6.96" height="4.58" rx="2.29" fill="rgb(209,209,209)" filter="url(#gb)"/>
<rect x="461.23" y="449.97" width="6.73" height="4.27" rx="2.13" fill="rgb(189,189,189)" filter="url(#gb)"/>
<rect x="470.16" y="449.81" width="6.96" height="4.58" rx="2.29" fill="rgb(209,209,209)" filter="url(#gb)"/>
<rect x="479.20" y="449.81" width="6.96" height="4.58" rx="2.29" fill="rgb(209,209,209)" filter="url(#gb)"/>
<rect x="488.24" y="449.81" width="6.96" height="4.58" rx="2.29" fill="rgb(209,209,209)" filter="url(#gb)"/>
<rect x="497.39" y="449.97" width="6.73" height="4.27" rx="2.13" fill="rgb(189,189,189)" filter="url(#gb)"/>
<rect x="506.32" y="449.81" width="6.96" height="4.58" rx="2.29" fill="rgb(209,209,209)" filter="url(#gb)"/>
<rect x="515.36" y="449.81" width="6.96" height="4.58" rx="2.29" fill="rgb(209,209,209)" filter="url(#gb)"/>
<text x="411.70" y="454.60" font-size="7.3" font-weight="normal" font-style="italic" fill="#4a4a4a" text-anchor="end" >hnrnpub</text>
<rect x="413.8" y="459.2" width="115.80" height="7.20" fill="rgb(17,17,17)"/>
<rect x="415.0" y="460.50" width="111.30" height="4.60" fill="rgb(34,34,34)" filter="url(#gb2)"/>
<rect x="470.61" y="461.13" width="6.07" height="3.33" rx="1.67" fill="rgb(118,118,118)" filter="url(#gb)"/>
<rect x="479.09" y="460.36" width="7.18" height="4.89" rx="2.44" fill="rgb(229,229,229)" filter="url(#gb)"/>
<rect x="488.24" y="460.51" width="6.96" height="4.58" rx="2.29" fill="rgb(208,208,208)" filter="url(#gb)"/>
<rect x="497.28" y="460.51" width="6.96" height="4.58" rx="2.29" fill="rgb(208,208,208)" filter="url(#gb)"/>
<rect x="506.32" y="460.51" width="6.96" height="4.58" rx="2.29" fill="rgb(208,208,208)" filter="url(#gb)"/>
<rect x="515.36" y="460.51" width="6.96" height="4.58" rx="2.29" fill="rgb(208,208,208)" filter="url(#gb)"/>
<text x="411.70" y="465.30" font-size="7.3" font-weight="normal" font-style="italic" fill="#4a4a4a" text-anchor="end" >dnm1a</text>
<rect x="413.8" y="470.3" width="115.80" height="7.90" fill="rgb(30,30,30)"/>
<rect x="415.0" y="471.60" width="111.30" height="5.30" fill="rgb(62,62,62)" filter="url(#gb2)"/>
<rect x="479.20" y="471.96" width="6.96" height="4.58" rx="2.29" fill="rgb(213,213,213)" filter="url(#gb)"/>
<rect x="488.02" y="471.65" width="7.40" height="5.20" rx="2.60" fill="rgb(250,250,250)" filter="url(#gb)"/>
<rect x="497.17" y="471.81" width="7.18" height="4.89" rx="2.44" fill="rgb(232,232,232)" filter="url(#gb)"/>
<rect x="506.66" y="472.43" width="6.29" height="3.64" rx="1.82" fill="rgb(156,156,156)" filter="url(#gb)"/>
<rect x="515.25" y="471.81" width="7.18" height="4.89" rx="2.44" fill="rgb(232,232,232)" filter="url(#gb)"/>
<text x="411.70" y="476.75" font-size="7.3" font-weight="normal" font-style="italic" fill="#4a4a4a" text-anchor="end" >gabrb3</text>
<rect x="413.8" y="483.1" width="115.80" height="7.00" fill="rgb(30,30,30)"/>
<rect x="415.0" y="484.40" width="111.30" height="4.40" fill="rgb(62,62,62)" filter="url(#gb2)"/>
<rect x="470.83" y="485.24" width="5.62" height="2.71" rx="1.36" fill="rgb(91,91,91)" filter="url(#gb)"/>
<rect x="479.31" y="484.47" width="6.73" height="4.27" rx="2.13" fill="rgb(195,195,195)" filter="url(#gb)"/>
<rect x="488.24" y="484.31" width="6.96" height="4.58" rx="2.29" fill="rgb(213,213,213)" filter="url(#gb)"/>
<rect x="497.17" y="484.16" width="7.18" height="4.89" rx="2.44" fill="rgb(232,232,232)" filter="url(#gb)"/>
<rect x="506.54" y="484.62" width="6.51" height="3.96" rx="1.98" fill="rgb(176,176,176)" filter="url(#gb)"/>
<rect x="515.25" y="484.16" width="7.18" height="4.89" rx="2.44" fill="rgb(232,232,232)" filter="url(#gb)"/>
<text x="411.70" y="489.10" font-size="7.3" font-weight="normal" font-style="italic" fill="#4a4a4a" text-anchor="end" >arhgef9a</text>
<rect x="413.8" y="494.3" width="115.80" height="7.20" fill="rgb(30,30,30)"/>
<rect x="415.0" y="495.60" width="111.30" height="4.60" fill="rgb(62,62,62)" filter="url(#gb2)"/>
<rect x="479.20" y="495.61" width="6.96" height="4.58" rx="2.29" fill="rgb(213,213,213)" filter="url(#gb)"/>
<rect x="488.02" y="495.30" width="7.40" height="5.20" rx="2.60" fill="rgb(250,250,250)" filter="url(#gb)"/>
<rect x="497.17" y="495.46" width="7.18" height="4.89" rx="2.44" fill="rgb(232,232,232)" filter="url(#gb)"/>
<rect x="506.66" y="496.08" width="6.29" height="3.64" rx="1.82" fill="rgb(156,156,156)" filter="url(#gb)"/>
<rect x="515.25" y="495.46" width="7.18" height="4.89" rx="2.44" fill="rgb(232,232,232)" filter="url(#gb)"/>
<text x="411.70" y="500.40" font-size="7.3" font-weight="normal" font-style="italic" fill="#4a4a4a" text-anchor="end" >gabrg2</text>
<rect x="413.8" y="504.6" width="115.80" height="7.50" fill="rgb(17,17,17)"/>
<rect x="415.0" y="505.90" width="111.30" height="4.90" fill="rgb(34,34,34)" filter="url(#gb2)"/>
<rect x="416.37" y="506.68" width="6.07" height="3.33" rx="1.67" fill="rgb(118,118,118)" filter="url(#gb)"/>
<rect x="424.96" y="506.06" width="6.96" height="4.58" rx="2.29" fill="rgb(208,208,208)" filter="url(#gb)"/>
<rect x="434.11" y="506.22" width="6.73" height="4.27" rx="2.13" fill="rgb(187,187,187)" filter="url(#gb)"/>
<rect x="443.71" y="506.99" width="5.62" height="2.71" rx="1.36" fill="rgb(67,67,67)" filter="url(#gb)"/>
<rect x="452.19" y="506.22" width="6.73" height="4.27" rx="2.13" fill="rgb(187,187,187)" filter="url(#gb)"/>
<rect x="461.68" y="506.84" width="5.84" height="3.02" rx="1.51" fill="rgb(94,94,94)" filter="url(#gb)"/>
<rect x="470.72" y="506.84" width="5.84" height="3.02" rx="1.51" fill="rgb(94,94,94)" filter="url(#gb)"/>
<rect x="479.20" y="506.06" width="6.96" height="4.58" rx="2.29" fill="rgb(208,208,208)" filter="url(#gb)"/>
<rect x="488.24" y="506.06" width="6.96" height="4.58" rx="2.29" fill="rgb(208,208,208)" filter="url(#gb)"/>
<rect x="497.17" y="505.91" width="7.18" height="4.89" rx="2.44" fill="rgb(229,229,229)" filter="url(#gb)"/>
<rect x="506.32" y="506.06" width="6.96" height="4.58" rx="2.29" fill="rgb(208,208,208)" filter="url(#gb)"/>
<rect x="515.25" y="505.91" width="7.18" height="4.89" rx="2.44" fill="rgb(229,229,229)" filter="url(#gb)"/>
<text x="411.70" y="510.85" font-size="7.3" font-weight="normal" font-style="italic" fill="#4a4a4a" text-anchor="end" >dnm1b</text>
<rect x="413.8" y="516.7" width="115.80" height="7.20" fill="rgb(30,30,30)"/>
<rect x="415.0" y="518.00" width="111.30" height="4.60" fill="rgb(62,62,62)" filter="url(#gb2)"/>
<rect x="470.83" y="518.94" width="5.62" height="2.71" rx="1.36" fill="rgb(91,91,91)" filter="url(#gb)"/>
<rect x="479.20" y="518.01" width="6.96" height="4.58" rx="2.29" fill="rgb(213,213,213)" filter="url(#gb)"/>
<rect x="488.13" y="517.86" width="7.18" height="4.89" rx="2.44" fill="rgb(232,232,232)" filter="url(#gb)"/>
<rect x="497.17" y="517.86" width="7.18" height="4.89" rx="2.44" fill="rgb(232,232,232)" filter="url(#gb)"/>
<rect x="506.43" y="518.17" width="6.73" height="4.27" rx="2.13" fill="rgb(195,195,195)" filter="url(#gb)"/>
<rect x="515.25" y="517.86" width="7.18" height="4.89" rx="2.44" fill="rgb(232,232,232)" filter="url(#gb)"/>
<text x="411.70" y="522.80" font-size="7.3" font-weight="normal" font-style="italic" fill="#4a4a4a" text-anchor="end" >cntnap2a</text>
<rect x="413.8" y="528.5" width="115.80" height="7.70" fill="rgb(30,30,30)"/>
<rect x="415.0" y="529.80" width="111.30" height="5.10" fill="rgb(62,62,62)" filter="url(#gb2)"/>
<rect x="470.38" y="530.37" width="6.51" height="3.96" rx="1.98" fill="rgb(176,176,176)" filter="url(#gb)"/>
<rect x="479.09" y="529.91" width="7.18" height="4.89" rx="2.44" fill="rgb(232,232,232)" filter="url(#gb)"/>
<rect x="488.13" y="529.91" width="7.18" height="4.89" rx="2.44" fill="rgb(232,232,232)" filter="url(#gb)"/>
<rect x="497.17" y="529.91" width="7.18" height="4.89" rx="2.44" fill="rgb(232,232,232)" filter="url(#gb)"/>
<rect x="506.66" y="530.53" width="6.29" height="3.64" rx="1.82" fill="rgb(156,156,156)" filter="url(#gb)"/>
<rect x="515.25" y="529.91" width="7.18" height="4.89" rx="2.44" fill="rgb(232,232,232)" filter="url(#gb)"/>
<text x="411.70" y="534.85" font-size="7.3" font-weight="normal" font-style="italic" fill="#4a4a4a" text-anchor="end" >cntnap2b</text>
<text transform="translate(418.90,273.0) rotate(-90)" font-size="7.2" font-weight="bold" fill="#222">4 cell</text>
<text transform="translate(428.40,273.0) rotate(-90)" font-size="7.2" font-weight="bold" fill="#222">32 cell</text>
<text transform="translate(437.90,273.0) rotate(-90)" font-size="7.2" font-weight="bold" fill="#222">high</text>
<text transform="translate(446.90,273.0) rotate(-90)" font-size="7.2" font-weight="bold" fill="#222">dome</text>
<text transform="translate(455.00,273.0) rotate(-90)" font-size="7.2" font-weight="bold" fill="#222">shield</text>
<text transform="translate(464.00,273.0) rotate(-90)" font-size="7.2" font-weight="bold" fill="#222">12 hpf</text>
<text transform="translate(473.60,273.0) rotate(-90)" font-size="7.2" font-weight="bold" fill="#222">1 dpf</text>
<text transform="translate(482.90,273.0) rotate(-90)" font-size="7.2" font-weight="bold" fill="#222">2 dpf</text>
<text transform="translate(492.10,273.0) rotate(-90)" font-size="7.2" font-weight="bold" fill="#222">3 dpf</text>
<text transform="translate(501.30,273.0) rotate(-90)" font-size="7.2" font-weight="bold" fill="#222">4 dpf</text>
<text transform="translate(510.30,273.0) rotate(-90)" font-size="7.2" font-weight="bold" fill="#222">5 dpf</text>
<text transform="translate(519.10,273.0) rotate(-90)" font-size="7.2" font-weight="bold" fill="#222">7 dpf</text>
<text transform="translate(527.90,273.0) rotate(-90)" font-size="7.2" font-weight="bold" fill="#222">neg.</text>
<rect x="567.9" y="277.8" width="114.90" height="7.60" fill="rgb(17,17,17)"/>
<rect x="569.1" y="279.10" width="110.40" height="5.00" fill="rgb(34,34,34)" filter="url(#gb2)"/>
<rect x="568.57" y="279.93" width="6.07" height="3.33" rx="1.67" fill="rgb(118,118,118)" filter="url(#gb)"/>
<rect x="577.27" y="279.47" width="6.73" height="4.27" rx="2.13" fill="rgb(187,187,187)" filter="url(#gb)"/>
<rect x="586.31" y="279.47" width="6.73" height="4.27" rx="2.13" fill="rgb(187,187,187)" filter="url(#gb)"/>
<rect x="595.91" y="280.24" width="5.62" height="2.71" rx="1.36" fill="rgb(67,67,67)" filter="url(#gb)"/>
<rect x="604.39" y="279.47" width="6.73" height="4.27" rx="2.13" fill="rgb(187,187,187)" filter="url(#gb)"/>
<rect x="613.77" y="279.93" width="6.07" height="3.33" rx="1.67" fill="rgb(118,118,118)" filter="url(#gb)"/>
<rect x="622.81" y="279.93" width="6.07" height="3.33" rx="1.67" fill="rgb(118,118,118)" filter="url(#gb)"/>
<rect x="631.29" y="279.16" width="7.18" height="4.89" rx="2.44" fill="rgb(229,229,229)" filter="url(#gb)"/>
<rect x="640.44" y="279.31" width="6.96" height="4.58" rx="2.29" fill="rgb(208,208,208)" filter="url(#gb)"/>
<rect x="649.37" y="279.16" width="7.18" height="4.89" rx="2.44" fill="rgb(229,229,229)" filter="url(#gb)"/>
<rect x="658.41" y="279.16" width="7.18" height="4.89" rx="2.44" fill="rgb(229,229,229)" filter="url(#gb)"/>
<rect x="667.45" y="279.16" width="7.18" height="4.89" rx="2.44" fill="rgb(229,229,229)" filter="url(#gb)"/>
<text x="564.80" y="284.10" font-size="7.3" font-weight="normal" font-style="italic" fill="#4a4a4a" text-anchor="end" >syngap1a</text>
<rect x="567.9" y="289.2" width="114.90" height="7.60" fill="rgb(34,34,34)"/>
<rect x="569.1" y="290.50" width="110.40" height="5.00" fill="rgb(69,69,69)" filter="url(#gb2)"/>
<rect x="631.40" y="290.71" width="6.96" height="4.58" rx="2.29" fill="rgb(215,215,215)" filter="url(#gb)"/>
<rect x="640.33" y="290.56" width="7.18" height="4.89" rx="2.44" fill="rgb(232,232,232)" filter="url(#gb)"/>
<rect x="649.37" y="290.56" width="7.18" height="4.89" rx="2.44" fill="rgb(232,232,232)" filter="url(#gb)"/>
<rect x="658.63" y="290.87" width="6.73" height="4.27" rx="2.13" fill="rgb(197,197,197)" filter="url(#gb)"/>
<rect x="667.45" y="290.56" width="7.18" height="4.89" rx="2.44" fill="rgb(232,232,232)" filter="url(#gb)"/>
<text x="564.80" y="295.50" font-size="7.3" font-weight="normal" font-style="italic" fill="#4a4a4a" text-anchor="end" >syngap1b</text>
<rect x="567.9" y="301.4" width="114.90" height="7.30" fill="rgb(13,13,13)"/>
<rect x="569.1" y="302.70" width="110.40" height="4.70" fill="rgb(27,27,27)" filter="url(#gb2)"/>
<rect x="631.40" y="302.76" width="6.96" height="4.58" rx="2.29" fill="rgb(207,207,207)" filter="url(#gb)"/>
<rect x="640.44" y="302.76" width="6.96" height="4.58" rx="2.29" fill="rgb(207,207,207)" filter="url(#gb)"/>
<rect x="649.37" y="302.61" width="7.18" height="4.89" rx="2.44" fill="rgb(228,228,228)" filter="url(#gb)"/>
<rect x="658.41" y="302.61" width="7.18" height="4.89" rx="2.44" fill="rgb(228,228,228)" filter="url(#gb)"/>
<rect x="667.45" y="302.61" width="7.18" height="4.89" rx="2.44" fill="rgb(228,228,228)" filter="url(#gb)"/>
<text x="564.80" y="307.55" font-size="7.3" font-weight="normal" font-style="italic" fill="#4a4a4a" text-anchor="end" >grin1b</text>
<rect x="567.9" y="313.2" width="114.90" height="7.60" fill="rgb(27,27,27)"/>
<rect x="569.1" y="314.50" width="110.40" height="5.00" fill="rgb(55,55,55)" filter="url(#gb2)"/>
<rect x="568.57" y="315.33" width="6.07" height="3.33" rx="1.67" fill="rgb(131,131,131)" filter="url(#gb)"/>
<rect x="577.27" y="314.87" width="6.73" height="4.27" rx="2.13" fill="rgb(193,193,193)" filter="url(#gb)"/>
<rect x="586.65" y="315.33" width="6.07" height="3.33" rx="1.67" fill="rgb(131,131,131)" filter="url(#gb)"/>
<rect x="595.91" y="315.64" width="5.62" height="2.71" rx="1.36" fill="rgb(85,85,85)" filter="url(#gb)"/>
<rect x="604.95" y="315.64" width="5.62" height="2.71" rx="1.36" fill="rgb(85,85,85)" filter="url(#gb)"/>
<rect x="613.99" y="315.64" width="5.62" height="2.71" rx="1.36" fill="rgb(85,85,85)" filter="url(#gb)"/>
<rect x="623.03" y="315.64" width="5.62" height="2.71" rx="1.36" fill="rgb(85,85,85)" filter="url(#gb)"/>
<rect x="631.62" y="315.02" width="6.51" height="3.96" rx="1.98" fill="rgb(173,173,173)" filter="url(#gb)"/>
<rect x="640.55" y="314.87" width="6.73" height="4.27" rx="2.13" fill="rgb(193,193,193)" filter="url(#gb)"/>
<rect x="649.37" y="314.56" width="7.18" height="4.89" rx="2.44" fill="rgb(231,231,231)" filter="url(#gb)"/>
<rect x="658.52" y="314.71" width="6.96" height="4.58" rx="2.29" fill="rgb(212,212,212)" filter="url(#gb)"/>
<rect x="667.56" y="314.71" width="6.96" height="4.58" rx="2.29" fill="rgb(212,212,212)" filter="url(#gb)"/>
<text x="564.80" y="319.50" font-size="7.3" font-weight="normal" font-style="italic" fill="#4a4a4a" text-anchor="end" >eef1a2</text>
<rect x="567.9" y="322.9" width="114.90" height="7.60" fill="rgb(30,30,30)"/>
<rect x="569.1" y="324.20" width="110.40" height="5.00" fill="rgb(62,62,62)" filter="url(#gb2)"/>
<rect x="568.34" y="324.72" width="6.51" height="3.96" rx="1.98" fill="rgb(176,176,176)" filter="url(#gb)"/>
<rect x="577.38" y="324.72" width="6.51" height="3.96" rx="1.98" fill="rgb(176,176,176)" filter="url(#gb)"/>
<rect x="586.54" y="324.88" width="6.29" height="3.64" rx="1.82" fill="rgb(156,156,156)" filter="url(#gb)"/>
<rect x="595.46" y="324.72" width="6.51" height="3.96" rx="1.98" fill="rgb(176,176,176)" filter="url(#gb)"/>
<rect x="604.73" y="325.03" width="6.07" height="3.33" rx="1.67" fill="rgb(135,135,135)" filter="url(#gb)"/>
<rect x="613.88" y="325.19" width="5.84" height="3.02" rx="1.51" fill="rgb(114,114,114)" filter="url(#gb)"/>
<rect x="622.58" y="324.72" width="6.51" height="3.96" rx="1.98" fill="rgb(176,176,176)" filter="url(#gb)"/>
<rect x="631.40" y="324.41" width="6.96" height="4.58" rx="2.29" fill="rgb(213,213,213)" filter="url(#gb)"/>
<rect x="640.44" y="324.41" width="6.96" height="4.58" rx="2.29" fill="rgb(213,213,213)" filter="url(#gb)"/>
<rect x="649.37" y="324.26" width="7.18" height="4.89" rx="2.44" fill="rgb(232,232,232)" filter="url(#gb)"/>
<rect x="658.63" y="324.57" width="6.73" height="4.27" rx="2.13" fill="rgb(195,195,195)" filter="url(#gb)"/>
<rect x="667.45" y="324.26" width="7.18" height="4.89" rx="2.44" fill="rgb(232,232,232)" filter="url(#gb)"/>
<text x="564.80" y="329.20" font-size="7.3" font-weight="normal" font-style="italic" fill="#4a4a4a" text-anchor="end" >grin2aa</text>
<rect x="567.9" y="334.0" width="114.90" height="8.10" fill="rgb(27,27,27)"/>
<rect x="569.1" y="335.30" width="110.40" height="5.50" fill="rgb(55,55,55)" filter="url(#gb2)"/>
<rect x="568.12" y="335.76" width="6.96" height="4.58" rx="2.29" fill="rgb(212,212,212)" filter="url(#gb)"/>
<rect x="577.16" y="335.76" width="6.96" height="4.58" rx="2.29" fill="rgb(212,212,212)" filter="url(#gb)"/>
<rect x="586.20" y="335.76" width="6.96" height="4.58" rx="2.29" fill="rgb(212,212,212)" filter="url(#gb)"/>
<rect x="595.35" y="335.92" width="6.73" height="4.27" rx="2.13" fill="rgb(193,193,193)" filter="url(#gb)"/>
<rect x="604.62" y="336.23" width="6.29" height="3.64" rx="1.82" fill="rgb(152,152,152)" filter="url(#gb)"/>
<rect x="613.66" y="336.23" width="6.29" height="3.64" rx="1.82" fill="rgb(152,152,152)" filter="url(#gb)"/>
<rect x="622.70" y="336.23" width="6.29" height="3.64" rx="1.82" fill="rgb(152,152,152)" filter="url(#gb)"/>
<rect x="631.40" y="335.76" width="6.96" height="4.58" rx="2.29" fill="rgb(212,212,212)" filter="url(#gb)"/>
<rect x="640.44" y="335.76" width="6.96" height="4.58" rx="2.29" fill="rgb(212,212,212)" filter="url(#gb)"/>
<rect x="649.48" y="335.76" width="6.96" height="4.58" rx="2.29" fill="rgb(212,212,212)" filter="url(#gb)"/>
<rect x="658.74" y="336.07" width="6.51" height="3.96" rx="1.98" fill="rgb(173,173,173)" filter="url(#gb)"/>
<rect x="667.67" y="335.92" width="6.73" height="4.27" rx="2.13" fill="rgb(193,193,193)" filter="url(#gb)"/>
<text x="564.80" y="340.55" font-size="7.3" font-weight="normal" font-style="italic" fill="#4a4a4a" text-anchor="end" >tbc1d24</text>
<rect x="567.9" y="345.1" width="114.90" height="7.90" fill="rgb(30,30,30)"/>
<rect x="569.1" y="346.40" width="110.40" height="5.30" fill="rgb(62,62,62)" filter="url(#gb2)"/>
<rect x="567.90" y="346.45" width="7.40" height="5.20" rx="2.60" fill="rgb(250,250,250)" filter="url(#gb)"/>
<rect x="576.94" y="346.45" width="7.40" height="5.20" rx="2.60" fill="rgb(250,250,250)" filter="url(#gb)"/>
<rect x="585.98" y="346.45" width="7.40" height="5.20" rx="2.60" fill="rgb(250,250,250)" filter="url(#gb)"/>
<rect x="595.02" y="346.45" width="7.40" height="5.20" rx="2.60" fill="rgb(250,250,250)" filter="url(#gb)"/>
<rect x="604.06" y="346.45" width="7.40" height="5.20" rx="2.60" fill="rgb(250,250,250)" filter="url(#gb)"/>
<rect x="613.43" y="346.92" width="6.73" height="4.27" rx="2.13" fill="rgb(195,195,195)" filter="url(#gb)"/>
<rect x="622.25" y="346.61" width="7.18" height="4.89" rx="2.44" fill="rgb(232,232,232)" filter="url(#gb)"/>
<rect x="631.29" y="346.61" width="7.18" height="4.89" rx="2.44" fill="rgb(232,232,232)" filter="url(#gb)"/>
<rect x="640.33" y="346.61" width="7.18" height="4.89" rx="2.44" fill="rgb(232,232,232)" filter="url(#gb)"/>
<rect x="649.37" y="346.61" width="7.18" height="4.89" rx="2.44" fill="rgb(232,232,232)" filter="url(#gb)"/>
<rect x="658.41" y="346.61" width="7.18" height="4.89" rx="2.44" fill="rgb(232,232,232)" filter="url(#gb)"/>
<rect x="667.67" y="346.92" width="6.73" height="4.27" rx="2.13" fill="rgb(195,195,195)" filter="url(#gb)"/>
<text x="564.80" y="351.55" font-size="7.3" font-weight="normal" font-style="italic" fill="#4a4a4a" text-anchor="end" >scn1ba</text>
<rect x="567.9" y="356.8" width="114.90" height="7.60" fill="rgb(27,27,27)"/>
<rect x="569.1" y="358.10" width="110.40" height="5.00" fill="rgb(55,55,55)" filter="url(#gb2)"/>
<rect x="631.96" y="359.09" width="5.84" height="3.02" rx="1.51" fill="rgb(109,109,109)" filter="url(#gb)"/>
<rect x="640.89" y="358.93" width="6.07" height="3.33" rx="1.67" fill="rgb(131,131,131)" filter="url(#gb)"/>
<rect x="649.82" y="358.78" width="6.29" height="3.64" rx="1.82" fill="rgb(152,152,152)" filter="url(#gb)"/>
<rect x="658.97" y="358.93" width="6.07" height="3.33" rx="1.67" fill="rgb(131,131,131)" filter="url(#gb)"/>
<rect x="667.90" y="358.78" width="6.29" height="3.64" rx="1.82" fill="rgb(152,152,152)" filter="url(#gb)"/>
<text x="564.80" y="363.10" font-size="7.3" font-weight="normal" font-style="italic" fill="#4a4a4a" text-anchor="end" >sik1</text>
<rect x="567.9" y="367.7" width="114.90" height="7.90" fill="rgb(23,23,23)"/>
<rect x="569.1" y="369.00" width="110.40" height="5.30" fill="rgb(48,48,48)" filter="url(#gb2)"/>
<rect x="622.47" y="369.52" width="6.73" height="4.27" rx="2.13" fill="rgb(191,191,191)" filter="url(#gb)"/>
<rect x="631.51" y="369.52" width="6.73" height="4.27" rx="2.13" fill="rgb(191,191,191)" filter="url(#gb)"/>
<rect x="640.55" y="369.52" width="6.73" height="4.27" rx="2.13" fill="rgb(191,191,191)" filter="url(#gb)"/>
<rect x="649.48" y="369.36" width="6.96" height="4.58" rx="2.29" fill="rgb(211,211,211)" filter="url(#gb)"/>
<rect x="658.63" y="369.52" width="6.73" height="4.27" rx="2.13" fill="rgb(191,191,191)" filter="url(#gb)"/>
<rect x="667.56" y="369.36" width="6.96" height="4.58" rx="2.29" fill="rgb(211,211,211)" filter="url(#gb)"/>
<text x="564.80" y="374.15" font-size="7.3" font-weight="normal" font-style="italic" fill="#4a4a4a" text-anchor="end" >arhgef9b</text>
<rect x="567.9" y="379.4" width="114.90" height="8.10" fill="rgb(37,37,37)"/>
<rect x="569.1" y="380.70" width="110.40" height="5.50" fill="rgb(75,75,75)" filter="url(#gb2)"/>
<rect x="568.23" y="381.32" width="6.73" height="4.27" rx="2.13" fill="rgb(198,198,198)" filter="url(#gb)"/>
<rect x="577.27" y="381.32" width="6.73" height="4.27" rx="2.13" fill="rgb(198,198,198)" filter="url(#gb)"/>
<rect x="586.31" y="381.32" width="6.73" height="4.27" rx="2.13" fill="rgb(198,198,198)" filter="url(#gb)"/>
<rect x="595.80" y="381.94" width="5.84" height="3.02" rx="1.51" fill="rgb(123,123,123)" filter="url(#gb)"/>
<rect x="604.95" y="382.09" width="5.62" height="2.71" rx="1.36" fill="rgb(102,102,102)" filter="url(#gb)"/>
<rect x="613.99" y="382.09" width="5.62" height="2.71" rx="1.36" fill="rgb(102,102,102)" filter="url(#gb)"/>
<rect x="622.92" y="381.94" width="5.84" height="3.02" rx="1.51" fill="rgb(123,123,123)" filter="url(#gb)"/>
<rect x="631.74" y="381.63" width="6.29" height="3.64" rx="1.82" fill="rgb(162,162,162)" filter="url(#gb)"/>
<rect x="640.33" y="381.01" width="7.18" height="4.89" rx="2.44" fill="rgb(233,233,233)" filter="url(#gb)"/>
<rect x="649.26" y="380.85" width="7.40" height="5.20" rx="2.60" fill="rgb(250,250,250)" filter="url(#gb)"/>
<rect x="658.86" y="381.63" width="6.29" height="3.64" rx="1.82" fill="rgb(162,162,162)" filter="url(#gb)"/>
<rect x="667.45" y="381.01" width="7.18" height="4.89" rx="2.44" fill="rgb(233,233,233)" filter="url(#gb)"/>
<text x="564.80" y="385.95" font-size="7.3" font-weight="normal" font-style="italic" fill="#4a4a4a" text-anchor="end" >aldh7a1</text>
<rect x="567.9" y="391.6" width="114.90" height="8.10" fill="rgb(30,30,30)"/>
<rect x="569.1" y="392.90" width="110.40" height="5.50" fill="rgb(62,62,62)" filter="url(#gb2)"/>
<rect x="568.12" y="393.36" width="6.96" height="4.58" rx="2.29" fill="rgb(213,213,213)" filter="url(#gb)"/>
<rect x="577.16" y="393.36" width="6.96" height="4.58" rx="2.29" fill="rgb(213,213,213)" filter="url(#gb)"/>
<rect x="586.20" y="393.36" width="6.96" height="4.58" rx="2.29" fill="rgb(213,213,213)" filter="url(#gb)"/>
<rect x="595.24" y="393.36" width="6.96" height="4.58" rx="2.29" fill="rgb(213,213,213)" filter="url(#gb)"/>
<rect x="604.84" y="394.14" width="5.84" height="3.02" rx="1.51" fill="rgb(114,114,114)" filter="url(#gb)"/>
<rect x="613.88" y="394.14" width="5.84" height="3.02" rx="1.51" fill="rgb(114,114,114)" filter="url(#gb)"/>
<rect x="622.92" y="394.14" width="5.84" height="3.02" rx="1.51" fill="rgb(114,114,114)" filter="url(#gb)"/>
<rect x="631.40" y="393.36" width="6.96" height="4.58" rx="2.29" fill="rgb(213,213,213)" filter="url(#gb)"/>
<rect x="640.33" y="393.21" width="7.18" height="4.89" rx="2.44" fill="rgb(232,232,232)" filter="url(#gb)"/>
<rect x="649.37" y="393.21" width="7.18" height="4.89" rx="2.44" fill="rgb(232,232,232)" filter="url(#gb)"/>
<rect x="658.52" y="393.36" width="6.96" height="4.58" rx="2.29" fill="rgb(213,213,213)" filter="url(#gb)"/>
<rect x="667.56" y="393.36" width="6.96" height="4.58" rx="2.29" fill="rgb(213,213,213)" filter="url(#gb)"/>
<text x="564.80" y="398.15" font-size="7.3" font-weight="normal" font-style="italic" fill="#4a4a4a" text-anchor="end" >cdkl5</text>
<rect x="567.9" y="403.0" width="114.90" height="8.40" fill="rgb(30,30,30)"/>
<rect x="569.1" y="404.30" width="110.40" height="5.80" fill="rgb(62,62,62)" filter="url(#gb2)"/>
<rect x="568.01" y="404.76" width="7.18" height="4.89" rx="2.44" fill="rgb(232,232,232)" filter="url(#gb)"/>
<rect x="577.16" y="404.91" width="6.96" height="4.58" rx="2.29" fill="rgb(213,213,213)" filter="url(#gb)"/>
<rect x="586.20" y="404.91" width="6.96" height="4.58" rx="2.29" fill="rgb(213,213,213)" filter="url(#gb)"/>
<rect x="595.46" y="405.22" width="6.51" height="3.96" rx="1.98" fill="rgb(176,176,176)" filter="url(#gb)"/>
<rect x="604.39" y="405.07" width="6.73" height="4.27" rx="2.13" fill="rgb(195,195,195)" filter="url(#gb)"/>
<rect x="613.43" y="405.07" width="6.73" height="4.27" rx="2.13" fill="rgb(195,195,195)" filter="url(#gb)"/>
<rect x="622.81" y="405.53" width="6.07" height="3.33" rx="1.67" fill="rgb(135,135,135)" filter="url(#gb)"/>
<rect x="631.40" y="404.91" width="6.96" height="4.58" rx="2.29" fill="rgb(213,213,213)" filter="url(#gb)"/>
<rect x="640.44" y="404.91" width="6.96" height="4.58" rx="2.29" fill="rgb(213,213,213)" filter="url(#gb)"/>
<rect x="649.48" y="404.91" width="6.96" height="4.58" rx="2.29" fill="rgb(213,213,213)" filter="url(#gb)"/>
<rect x="658.97" y="405.53" width="6.07" height="3.33" rx="1.67" fill="rgb(135,135,135)" filter="url(#gb)"/>
<rect x="667.56" y="404.91" width="6.96" height="4.58" rx="2.29" fill="rgb(213,213,213)" filter="url(#gb)"/>
<text x="564.80" y="409.70" font-size="7.3" font-weight="normal" font-style="italic" fill="#4a4a4a" text-anchor="end" >strada</text>
<rect x="567.9" y="415.9" width="114.90" height="8.10" fill="rgb(30,30,30)"/>
<rect x="569.1" y="417.20" width="110.40" height="5.50" fill="rgb(62,62,62)" filter="url(#gb2)"/>
<rect x="568.34" y="417.97" width="6.51" height="3.96" rx="1.98" fill="rgb(176,176,176)" filter="url(#gb)"/>
<rect x="577.38" y="417.97" width="6.51" height="3.96" rx="1.98" fill="rgb(176,176,176)" filter="url(#gb)"/>
<rect x="586.54" y="418.13" width="6.29" height="3.64" rx="1.82" fill="rgb(156,156,156)" filter="url(#gb)"/>
<rect x="595.80" y="418.44" width="5.84" height="3.02" rx="1.51" fill="rgb(114,114,114)" filter="url(#gb)"/>
<rect x="604.84" y="418.44" width="5.84" height="3.02" rx="1.51" fill="rgb(114,114,114)" filter="url(#gb)"/>
<rect x="613.99" y="418.59" width="5.62" height="2.71" rx="1.36" fill="rgb(91,91,91)" filter="url(#gb)"/>
<rect x="623.03" y="418.59" width="5.62" height="2.71" rx="1.36" fill="rgb(91,91,91)" filter="url(#gb)"/>
<rect x="631.74" y="418.13" width="6.29" height="3.64" rx="1.82" fill="rgb(156,156,156)" filter="url(#gb)"/>
<rect x="640.55" y="417.82" width="6.73" height="4.27" rx="2.13" fill="rgb(195,195,195)" filter="url(#gb)"/>
<rect x="649.59" y="417.82" width="6.73" height="4.27" rx="2.13" fill="rgb(195,195,195)" filter="url(#gb)"/>
<rect x="658.97" y="418.28" width="6.07" height="3.33" rx="1.67" fill="rgb(135,135,135)" filter="url(#gb)"/>
<rect x="667.78" y="417.97" width="6.51" height="3.96" rx="1.98" fill="rgb(176,176,176)" filter="url(#gb)"/>
<text x="564.80" y="422.45" font-size="7.3" font-weight="normal" font-style="italic" fill="#4a4a4a" text-anchor="end" >pnpo</text>
<rect x="567.9" y="426.1" width="114.90" height="8.00" fill="rgb(27,27,27)"/>
<rect x="569.1" y="427.40" width="110.40" height="5.40" fill="rgb(55,55,55)" filter="url(#gb2)"/>
<rect x="613.88" y="428.59" width="5.84" height="3.02" rx="1.51" fill="rgb(109,109,109)" filter="url(#gb)"/>
<rect x="622.81" y="428.43" width="6.07" height="3.33" rx="1.67" fill="rgb(131,131,131)" filter="url(#gb)"/>
<rect x="631.62" y="428.12" width="6.51" height="3.96" rx="1.98" fill="rgb(173,173,173)" filter="url(#gb)"/>
<rect x="640.44" y="427.81" width="6.96" height="4.58" rx="2.29" fill="rgb(212,212,212)" filter="url(#gb)"/>
<rect x="649.37" y="427.66" width="7.18" height="4.89" rx="2.44" fill="rgb(231,231,231)" filter="url(#gb)"/>
<rect x="658.63" y="427.97" width="6.73" height="4.27" rx="2.13" fill="rgb(193,193,193)" filter="url(#gb)"/>
<rect x="667.45" y="427.66" width="7.18" height="4.89" rx="2.44" fill="rgb(231,231,231)" filter="url(#gb)"/>
<text x="564.80" y="432.60" font-size="7.3" font-weight="normal" font-style="italic" fill="#4a4a4a" text-anchor="end" >mef2cb</text>
<rect x="567.9" y="436.4" width="114.90" height="8.40" fill="rgb(20,20,20)"/>
<rect x="569.1" y="437.70" width="110.40" height="5.80" fill="rgb(41,41,41)" filter="url(#gb2)"/>
<rect x="622.92" y="439.09" width="5.84" height="3.02" rx="1.51" fill="rgb(99,99,99)" filter="url(#gb)"/>
<rect x="631.40" y="438.31" width="6.96" height="4.58" rx="2.29" fill="rgb(209,209,209)" filter="url(#gb)"/>
<rect x="640.89" y="438.93" width="6.07" height="3.33" rx="1.67" fill="rgb(123,123,123)" filter="url(#gb)"/>
<rect x="649.48" y="438.31" width="6.96" height="4.58" rx="2.29" fill="rgb(209,209,209)" filter="url(#gb)"/>
<rect x="658.63" y="438.47" width="6.73" height="4.27" rx="2.13" fill="rgb(189,189,189)" filter="url(#gb)"/>
<rect x="667.56" y="438.31" width="6.96" height="4.58" rx="2.29" fill="rgb(209,209,209)" filter="url(#gb)"/>
<text x="564.80" y="443.10" font-size="7.3" font-weight="normal" font-style="italic" fill="#4a4a4a" text-anchor="end" >kcna2b</text>
<rect x="567.9" y="447.8" width="114.90" height="8.10" fill="rgb(30,30,30)"/>
<rect x="569.1" y="449.10" width="110.40" height="5.50" fill="rgb(62,62,62)" filter="url(#gb2)"/>
<rect x="568.34" y="449.87" width="6.51" height="3.96" rx="1.98" fill="rgb(176,176,176)" filter="url(#gb)"/>
<rect x="577.38" y="449.87" width="6.51" height="3.96" rx="1.98" fill="rgb(176,176,176)" filter="url(#gb)"/>
<rect x="586.42" y="449.87" width="6.51" height="3.96" rx="1.98" fill="rgb(176,176,176)" filter="url(#gb)"/>
<rect x="595.58" y="450.03" width="6.29" height="3.64" rx="1.82" fill="rgb(156,156,156)" filter="url(#gb)"/>
<rect x="604.62" y="450.03" width="6.29" height="3.64" rx="1.82" fill="rgb(156,156,156)" filter="url(#gb)"/>
<rect x="613.43" y="449.72" width="6.73" height="4.27" rx="2.13" fill="rgb(195,195,195)" filter="url(#gb)"/>
<rect x="622.58" y="449.87" width="6.51" height="3.96" rx="1.98" fill="rgb(176,176,176)" filter="url(#gb)"/>
<rect x="631.51" y="449.72" width="6.73" height="4.27" rx="2.13" fill="rgb(195,195,195)" filter="url(#gb)"/>
<rect x="640.55" y="449.72" width="6.73" height="4.27" rx="2.13" fill="rgb(195,195,195)" filter="url(#gb)"/>
<rect x="649.59" y="449.72" width="6.73" height="4.27" rx="2.13" fill="rgb(195,195,195)" filter="url(#gb)"/>
<rect x="658.74" y="449.87" width="6.51" height="3.96" rx="1.98" fill="rgb(176,176,176)" filter="url(#gb)"/>
<rect x="667.78" y="449.87" width="6.51" height="3.96" rx="1.98" fill="rgb(176,176,176)" filter="url(#gb)"/>
<text x="564.80" y="454.35" font-size="7.3" font-weight="normal" font-style="italic" fill="#4a4a4a" text-anchor="end" >depdc5</text>
<rect x="567.9" y="458.0" width="114.90" height="8.00" fill="rgb(34,34,34)"/>
<rect x="569.1" y="459.30" width="110.40" height="5.40" fill="rgb(69,69,69)" filter="url(#gb2)"/>
<rect x="568.23" y="459.87" width="6.73" height="4.27" rx="2.13" fill="rgb(197,197,197)" filter="url(#gb)"/>
<rect x="577.27" y="459.87" width="6.73" height="4.27" rx="2.13" fill="rgb(197,197,197)" filter="url(#gb)"/>
<rect x="586.31" y="459.87" width="6.73" height="4.27" rx="2.13" fill="rgb(197,197,197)" filter="url(#gb)"/>
<rect x="595.35" y="459.87" width="6.73" height="4.27" rx="2.13" fill="rgb(197,197,197)" filter="url(#gb)"/>
<rect x="604.28" y="459.71" width="6.96" height="4.58" rx="2.29" fill="rgb(215,215,215)" filter="url(#gb)"/>
<rect x="613.21" y="459.56" width="7.18" height="4.89" rx="2.44" fill="rgb(232,232,232)" filter="url(#gb)"/>
<rect x="622.47" y="459.87" width="6.73" height="4.27" rx="2.13" fill="rgb(197,197,197)" filter="url(#gb)"/>
<rect x="631.51" y="459.87" width="6.73" height="4.27" rx="2.13" fill="rgb(197,197,197)" filter="url(#gb)"/>
<rect x="640.55" y="459.87" width="6.73" height="4.27" rx="2.13" fill="rgb(197,197,197)" filter="url(#gb)"/>
<rect x="649.59" y="459.87" width="6.73" height="4.27" rx="2.13" fill="rgb(197,197,197)" filter="url(#gb)"/>
<rect x="658.86" y="460.18" width="6.29" height="3.64" rx="1.82" fill="rgb(159,159,159)" filter="url(#gb)"/>
<rect x="667.67" y="459.87" width="6.73" height="4.27" rx="2.13" fill="rgb(197,197,197)" filter="url(#gb)"/>
<text x="564.80" y="464.50" font-size="7.3" font-weight="normal" font-style="italic" fill="#4a4a4a" text-anchor="end" >prickle1a</text>
<rect x="567.9" y="469.4" width="114.90" height="8.40" fill="rgb(13,13,13)"/>
<rect x="569.1" y="470.70" width="110.40" height="5.80" fill="rgb(27,27,27)" filter="url(#gb2)"/>
<rect x="568.79" y="472.24" width="5.62" height="2.71" rx="1.36" fill="rgb(61,61,61)" filter="url(#gb)"/>
<rect x="577.61" y="471.93" width="6.07" height="3.33" rx="1.67" fill="rgb(114,114,114)" filter="url(#gb)"/>
<rect x="586.76" y="472.09" width="5.84" height="3.02" rx="1.51" fill="rgb(89,89,89)" filter="url(#gb)"/>
<rect x="604.73" y="471.93" width="6.07" height="3.33" rx="1.67" fill="rgb(114,114,114)" filter="url(#gb)"/>
<rect x="613.66" y="471.78" width="6.29" height="3.64" rx="1.82" fill="rgb(138,138,138)" filter="url(#gb)"/>
<rect x="622.58" y="471.62" width="6.51" height="3.96" rx="1.98" fill="rgb(162,162,162)" filter="url(#gb)"/>
<rect x="631.40" y="471.31" width="6.96" height="4.58" rx="2.29" fill="rgb(207,207,207)" filter="url(#gb)"/>
<rect x="640.66" y="471.62" width="6.51" height="3.96" rx="1.98" fill="rgb(162,162,162)" filter="url(#gb)"/>
<rect x="649.48" y="471.31" width="6.96" height="4.58" rx="2.29" fill="rgb(207,207,207)" filter="url(#gb)"/>
<rect x="658.74" y="471.62" width="6.51" height="3.96" rx="1.98" fill="rgb(162,162,162)" filter="url(#gb)"/>
<rect x="667.45" y="471.16" width="7.18" height="4.89" rx="2.44" fill="rgb(228,228,228)" filter="url(#gb)"/>
<text x="564.80" y="476.10" font-size="7.3" font-weight="normal" font-style="italic" fill="#4a4a4a" text-anchor="end" >st3gal3b</text>
<rect x="567.9" y="482.0" width="114.90" height="8.00" fill="rgb(27,27,27)"/>
<rect x="569.1" y="483.30" width="110.40" height="5.40" fill="rgb(55,55,55)" filter="url(#gb2)"/>
<rect x="613.54" y="484.02" width="6.51" height="3.96" rx="1.98" fill="rgb(173,173,173)" filter="url(#gb)"/>
<rect x="622.47" y="483.87" width="6.73" height="4.27" rx="2.13" fill="rgb(193,193,193)" filter="url(#gb)"/>
<rect x="631.51" y="483.87" width="6.73" height="4.27" rx="2.13" fill="rgb(193,193,193)" filter="url(#gb)"/>
<rect x="640.55" y="483.87" width="6.73" height="4.27" rx="2.13" fill="rgb(193,193,193)" filter="url(#gb)"/>
<rect x="649.59" y="483.87" width="6.73" height="4.27" rx="2.13" fill="rgb(193,193,193)" filter="url(#gb)"/>
<rect x="658.63" y="483.87" width="6.73" height="4.27" rx="2.13" fill="rgb(193,193,193)" filter="url(#gb)"/>
<rect x="667.67" y="483.87" width="6.73" height="4.27" rx="2.13" fill="rgb(193,193,193)" filter="url(#gb)"/>
<text x="564.80" y="488.50" font-size="7.3" font-weight="normal" font-style="italic" fill="#4a4a4a" text-anchor="end" >arxa</text>
<rect x="567.9" y="493.3" width="114.90" height="8.10" fill="rgb(34,34,34)"/>
<rect x="569.1" y="494.60" width="110.40" height="5.50" fill="rgb(69,69,69)" filter="url(#gb2)"/>
<rect x="568.23" y="495.22" width="6.73" height="4.27" rx="2.13" fill="rgb(197,197,197)" filter="url(#gb)"/>
<rect x="577.27" y="495.22" width="6.73" height="4.27" rx="2.13" fill="rgb(197,197,197)" filter="url(#gb)"/>
<rect x="586.31" y="495.22" width="6.73" height="4.27" rx="2.13" fill="rgb(197,197,197)" filter="url(#gb)"/>
<rect x="595.69" y="495.68" width="6.07" height="3.33" rx="1.67" fill="rgb(140,140,140)" filter="url(#gb)"/>
<rect x="604.84" y="495.84" width="5.84" height="3.02" rx="1.51" fill="rgb(119,119,119)" filter="url(#gb)"/>
<rect x="613.88" y="495.84" width="5.84" height="3.02" rx="1.51" fill="rgb(119,119,119)" filter="url(#gb)"/>
<rect x="622.81" y="495.68" width="6.07" height="3.33" rx="1.67" fill="rgb(140,140,140)" filter="url(#gb)"/>
<rect x="631.74" y="495.53" width="6.29" height="3.64" rx="1.82" fill="rgb(159,159,159)" filter="url(#gb)"/>
<rect x="640.78" y="495.53" width="6.29" height="3.64" rx="1.82" fill="rgb(159,159,159)" filter="url(#gb)"/>
<rect x="649.82" y="495.53" width="6.29" height="3.64" rx="1.82" fill="rgb(159,159,159)" filter="url(#gb)"/>
<rect x="658.97" y="495.68" width="6.07" height="3.33" rx="1.67" fill="rgb(140,140,140)" filter="url(#gb)"/>
<rect x="667.78" y="495.37" width="6.51" height="3.96" rx="1.98" fill="rgb(178,178,178)" filter="url(#gb)"/>
<text x="564.80" y="499.85" font-size="7.3" font-weight="normal" font-style="italic" fill="#4a4a4a" text-anchor="end" >gosr2</text>
<rect x="567.9" y="503.9" width="114.90" height="8.50" fill="rgb(23,23,23)"/>
<rect x="569.1" y="505.20" width="110.40" height="5.90" fill="rgb(48,48,48)" filter="url(#gb2)"/>
<rect x="613.32" y="505.86" width="6.96" height="4.58" rx="2.29" fill="rgb(211,211,211)" filter="url(#gb)"/>
<rect x="622.36" y="505.86" width="6.96" height="4.58" rx="2.29" fill="rgb(211,211,211)" filter="url(#gb)"/>
<rect x="631.40" y="505.86" width="6.96" height="4.58" rx="2.29" fill="rgb(211,211,211)" filter="url(#gb)"/>
<rect x="640.55" y="506.02" width="6.73" height="4.27" rx="2.13" fill="rgb(191,191,191)" filter="url(#gb)"/>
<rect x="649.48" y="505.86" width="6.96" height="4.58" rx="2.29" fill="rgb(211,211,211)" filter="url(#gb)"/>
<rect x="658.74" y="506.17" width="6.51" height="3.96" rx="1.98" fill="rgb(170,170,170)" filter="url(#gb)"/>
<rect x="667.67" y="506.02" width="6.73" height="4.27" rx="2.13" fill="rgb(191,191,191)" filter="url(#gb)"/>
<text x="564.80" y="510.65" font-size="7.3" font-weight="normal" font-style="italic" fill="#4a4a4a" text-anchor="end" >cpa6</text>
<rect x="567.9" y="515.5" width="114.90" height="8.20" fill="rgb(30,30,30)"/>
<rect x="569.1" y="516.80" width="110.40" height="5.60" fill="rgb(62,62,62)" filter="url(#gb2)"/>
<rect x="568.12" y="517.31" width="6.96" height="4.58" rx="2.29" fill="rgb(213,213,213)" filter="url(#gb)"/>
<rect x="577.27" y="517.47" width="6.73" height="4.27" rx="2.13" fill="rgb(195,195,195)" filter="url(#gb)"/>
<rect x="586.31" y="517.47" width="6.73" height="4.27" rx="2.13" fill="rgb(195,195,195)" filter="url(#gb)"/>
<rect x="595.35" y="517.47" width="6.73" height="4.27" rx="2.13" fill="rgb(195,195,195)" filter="url(#gb)"/>
<rect x="604.95" y="518.24" width="5.62" height="2.71" rx="1.36" fill="rgb(91,91,91)" filter="url(#gb)"/>
<rect x="613.99" y="518.24" width="5.62" height="2.71" rx="1.36" fill="rgb(91,91,91)" filter="url(#gb)"/>
<rect x="623.03" y="518.24" width="5.62" height="2.71" rx="1.36" fill="rgb(91,91,91)" filter="url(#gb)"/>
<rect x="631.74" y="517.78" width="6.29" height="3.64" rx="1.82" fill="rgb(156,156,156)" filter="url(#gb)"/>
<rect x="640.78" y="517.78" width="6.29" height="3.64" rx="1.82" fill="rgb(156,156,156)" filter="url(#gb)"/>
<rect x="649.59" y="517.47" width="6.73" height="4.27" rx="2.13" fill="rgb(195,195,195)" filter="url(#gb)"/>
<rect x="658.86" y="517.78" width="6.29" height="3.64" rx="1.82" fill="rgb(156,156,156)" filter="url(#gb)"/>
<rect x="667.78" y="517.62" width="6.51" height="3.96" rx="1.98" fill="rgb(176,176,176)" filter="url(#gb)"/>
<text x="564.80" y="522.10" font-size="7.3" font-weight="normal" font-style="italic" fill="#4a4a4a" text-anchor="end" >epm2a</text>
<rect x="567.9" y="528.7" width="114.90" height="8.40" fill="rgb(27,27,27)"/>
<rect x="569.1" y="530.00" width="110.40" height="5.80" fill="rgb(55,55,55)" filter="url(#gb2)"/>
<rect x="568.57" y="531.23" width="6.07" height="3.33" rx="1.67" fill="rgb(131,131,131)" filter="url(#gb)"/>
<rect x="577.61" y="531.23" width="6.07" height="3.33" rx="1.67" fill="rgb(131,131,131)" filter="url(#gb)"/>
<rect x="586.65" y="531.23" width="6.07" height="3.33" rx="1.67" fill="rgb(131,131,131)" filter="url(#gb)"/>
<rect x="595.69" y="531.23" width="6.07" height="3.33" rx="1.67" fill="rgb(131,131,131)" filter="url(#gb)"/>
<rect x="604.95" y="531.54" width="5.62" height="2.71" rx="1.36" fill="rgb(85,85,85)" filter="url(#gb)"/>
<rect x="631.74" y="531.08" width="6.29" height="3.64" rx="1.82" fill="rgb(152,152,152)" filter="url(#gb)"/>
<rect x="640.44" y="530.61" width="6.96" height="4.58" rx="2.29" fill="rgb(212,212,212)" filter="url(#gb)"/>
<rect x="649.48" y="530.61" width="6.96" height="4.58" rx="2.29" fill="rgb(212,212,212)" filter="url(#gb)"/>
<rect x="658.74" y="530.92" width="6.51" height="3.96" rx="1.98" fill="rgb(173,173,173)" filter="url(#gb)"/>
<rect x="667.45" y="530.46" width="7.18" height="4.89" rx="2.44" fill="rgb(231,231,231)" filter="url(#gb)"/>
<text x="564.80" y="535.40" font-size="7.3" font-weight="normal" font-style="italic" fill="#4a4a4a" text-anchor="end" >plcb1</text>
<rect x="567.9" y="539.8" width="114.90" height="7.90" fill="rgb(34,34,34)"/>
<rect x="569.1" y="541.10" width="110.40" height="5.30" fill="rgb(69,69,69)" filter="url(#gb2)"/>
<rect x="568.57" y="542.08" width="6.07" height="3.33" rx="1.67" fill="rgb(140,140,140)" filter="url(#gb)"/>
<rect x="577.50" y="541.93" width="6.29" height="3.64" rx="1.82" fill="rgb(159,159,159)" filter="url(#gb)"/>
<rect x="586.54" y="541.93" width="6.29" height="3.64" rx="1.82" fill="rgb(159,159,159)" filter="url(#gb)"/>
<rect x="595.58" y="541.93" width="6.29" height="3.64" rx="1.82" fill="rgb(159,159,159)" filter="url(#gb)"/>
<rect x="604.39" y="541.62" width="6.73" height="4.27" rx="2.13" fill="rgb(197,197,197)" filter="url(#gb)"/>
<rect x="613.43" y="541.62" width="6.73" height="4.27" rx="2.13" fill="rgb(197,197,197)" filter="url(#gb)"/>
<rect x="622.47" y="541.62" width="6.73" height="4.27" rx="2.13" fill="rgb(197,197,197)" filter="url(#gb)"/>
<rect x="631.40" y="541.46" width="6.96" height="4.58" rx="2.29" fill="rgb(215,215,215)" filter="url(#gb)"/>
<rect x="640.55" y="541.62" width="6.73" height="4.27" rx="2.13" fill="rgb(197,197,197)" filter="url(#gb)"/>
<rect x="649.59" y="541.62" width="6.73" height="4.27" rx="2.13" fill="rgb(197,197,197)" filter="url(#gb)"/>
<rect x="658.74" y="541.77" width="6.51" height="3.96" rx="1.98" fill="rgb(178,178,178)" filter="url(#gb)"/>
<rect x="667.78" y="541.77" width="6.51" height="3.96" rx="1.98" fill="rgb(178,178,178)" filter="url(#gb)"/>
<text x="564.80" y="546.25" font-size="7.3" font-weight="normal" font-style="italic" fill="#e8344a" text-anchor="end" >&#946;-actin</text>
<text transform="translate(574.30,273.0) rotate(-90)" font-size="7.2" font-weight="bold" fill="#222">4 cell</text>
<text transform="translate(583.60,273.0) rotate(-90)" font-size="7.2" font-weight="bold" fill="#222">32 cell</text>
<text transform="translate(593.20,273.0) rotate(-90)" font-size="7.2" font-weight="bold" fill="#222">high</text>
<text transform="translate(602.70,273.0) rotate(-90)" font-size="7.2" font-weight="bold" fill="#222">dome</text>
<text transform="translate(610.60,273.0) rotate(-90)" font-size="7.2" font-weight="bold" fill="#222">shield</text>
<text transform="translate(619.40,273.0) rotate(-90)" font-size="7.2" font-weight="bold" fill="#222">12 hpf</text>
<text transform="translate(628.80,273.0) rotate(-90)" font-size="7.2" font-weight="bold" fill="#222">1 dpf</text>
<text transform="translate(637.90,273.0) rotate(-90)" font-size="7.2" font-weight="bold" fill="#222">2 dpf</text>
<text transform="translate(647.70,273.0) rotate(-90)" font-size="7.2" font-weight="bold" fill="#222">3 dpf</text>
<text transform="translate(656.90,273.0) rotate(-90)" font-size="7.2" font-weight="bold" fill="#222">4 dpf</text>
<text transform="translate(666.00,273.0) rotate(-90)" font-size="7.2" font-weight="bold" fill="#222">5 dpf</text>
<text transform="translate(675.10,273.0) rotate(-90)" font-size="7.2" font-weight="bold" fill="#222">7 dpf</text>
<text transform="translate(682.00,273.0) rotate(-90)" font-size="7.2" font-weight="bold" fill="#222">neg.</text>
<polyline points="57.4,601.2 57.9,598.9 58.3,594.1 58.8,587.8 59.2,583.9 59.7,585.5 60.1,591.3 60.6,597.0 61.0,600.0 61.5,600.0 61.9,597.1 62.4,591.7 62.8,586.7 63.3,585.7 63.7,589.6 64.2,595.3 64.6,599.4 65.1,600.9 65.5,600.2 66.0,597.8 66.4,594.6 66.9,592.7 67.3,593.8 67.8,596.8 68.2,599.7 68.7,601.4 69.1,602.0 69.6,602.2 70.0,602.2 70.5,602.2 70.9,602.2 71.4,602.2 71.8,602.2 72.3,602.0 72.7,601.1 73.2,598.4 73.6,593.3 74.1,587.0 74.5,583.7 75.0,586.1 75.4,592.1 75.9,597.7 76.3,600.7 76.8,601.9 77.2,602.1 77.7,602.2 78.1,602.2 78.6,602.2 79.0,602.2 79.5,602.2 79.9,602.2 80.4,602.2 80.8,602.2 81.3,602.2 81.7,602.2 82.2,602.2 82.6,602.2 83.1,602.2 83.5,602.2 84.0,602.2 84.4,602.2 84.9,602.2 85.3,602.2 85.8,602.2 86.2,602.2 86.7,602.2 87.1,602.2 87.6,602.0 88.0,601.3 88.5,599.4 88.9,595.8 89.4,591.8 89.8,590.1 90.3,592.1 90.7,596.2 91.2,599.6 91.6,601.4 92.1,602.0 92.5,602.2 93.0,602.2 93.4,602.2 93.9,602.2 94.3,602.2 94.8,602.2 95.2,602.2 95.7,602.2 96.1,602.2 96.6,602.2 97.0,602.2 97.5,602.2 97.9,602.2 98.4,602.2 98.8,602.2 99.3,602.2 99.7,602.2 100.2,602.2 100.6,602.2 101.1,602.2 101.5,602.2 102.0,602.2 102.4,602.2 102.9,602.0 103.3,601.3 103.8,599.4 104.2,596.0 104.7,592.6 105.1,591.6 105.6,593.7 106.0,597.3 106.5,600.2 106.9,601.6 107.4,602.1 107.8,602.2 108.3,602.2 108.7,602.2 109.2,602.2 109.6,602.2 110.1,602.2 110.5,602.2 111.0,602.2 111.4,602.2 111.9,602.2 112.3,602.2 112.8,602.2 113.2,602.2 113.7,602.2 114.1,602.0 114.6,601.4 115.0,599.6 115.5,595.8 115.9,590.8 116.4,587.7 116.8,589.0 117.3,593.6 117.7,598.1 118.2,600.3 118.6,599.7 119.1,595.8 119.5,589.0 120.0,582.6 120.4,581.3 120.9,586.3 121.3,593.5 121.8,598.8 122.2,601.2 122.7,602.0 123.1,602.2 123.6,602.2 124.0,602.2 124.5,602.2 124.9,602.2 125.4,602.2 125.8,602.2 126.3,602.2 126.7,602.2 127.2,602.2 127.6,602.2 128.1,602.2 128.5,602.2 129.0,602.2 129.4,602.1 129.9,601.5 130.3,600.0 130.8,597.0 131.2,593.4 131.7,591.5 132.1,592.9 132.6,596.4 133.0,599.6 133.5,601.4 133.9,602.0 134.4,602.2 134.8,602.2 135.3,602.2 135.7,602.2 136.2,602.2 136.6,602.2 137.1,601.9 137.5,601.0 138.0,598.3 138.4,593.1 138.9,587.1 139.3,584.2 139.8,586.8 140.2,592.8 140.7,598.1 141.1,600.9 141.6,601.9 142.0,602.2 142.5,602.2 142.9,602.2 143.4,602.2 143.8,602.2 144.3,602.2 144.7,602.2 145.2,602.2 145.6,602.2 146.0,602.2 146.5,602.2 146.9,602.2 147.4,602.2 147.8,602.2 148.3,602.0 148.7,601.0 149.2,597.8 149.6,590.6 150.1,580.3 150.5,572.4 151.0,573.2 151.4,581.9 151.9,592.0 152.3,598.3 152.8,600.1 153.2,598.4 153.7,594.1 154.1,589.4 154.6,587.6 155.0,590.3 155.5,595.2 155.9,599.2 156.4,600.7 156.8,599.9 157.3,596.7 157.7,592.0 158.2,588.6 158.6,589.2 159.1,593.3 159.5,597.8 160.0,600.3 160.4,600.1 160.9,596.9 161.3,590.9 161.8,584.6 162.2,582.6 162.7,586.6 163.1,593.3 163.6,598.5 164.0,601.1 164.5,602.0 164.9,602.2 165.4,602.2 165.8,602.2 166.3,602.2 166.7,602.2 167.2,602.2 167.6,602.2 168.1,602.2 168.5,602.2 169.0,602.2 169.4,602.2 169.9,602.2 170.3,602.2 170.8,602.2 171.2,602.2 171.7,602.2 172.1,602.2 172.6,602.2 173.0,602.2 173.5,602.2 173.9,602.2 174.4,602.2 174.8,602.2 175.3,602.2 175.7,602.2 176.2,602.2 176.6,602.2 177.1,602.2 177.5,602.2 178.0,602.2 178.4,602.1 178.9,601.9 179.3,600.6 179.8,596.8 180.2,589.0 180.7,579.4 181.1,573.8 181.6,576.9 182.0,586.0 182.5,594.8 182.9,599.8 183.4,601.6 183.8,602.1 184.3,602.2 184.7,602.2 185.2,602.2 185.6,602.2 186.1,602.2 186.5,602.2 187.0,602.2 187.4,602.2 187.9,602.2 188.3,602.2 188.8,602.2 189.2,602.2 189.7,602.2 190.1,602.1 190.6,601.9 191.0,600.9 191.5,598.6 191.9,595.0 192.4,592.0 192.8,591.8 193.3,594.6 193.7,598.2 194.2,600.7 194.6,601.8 195.1,602.1 195.5,602.2 196.0,602.2 196.4,602.2 196.9,602.2 197.3,602.2 197.8,602.2 198.2,602.2 198.7,602.2 199.1,602.2 199.6,602.2 200.0,602.2 200.5,602.2 200.9,602.2 201.4,602.2 201.8,601.9 202.3,600.9 202.7,597.9 203.2,592.6 203.6,586.6 204.1,584.0 204.5,587.0 205.0,593.1 205.4,598.3 205.9,601.0 206.3,601.9 206.8,602.2 207.2,602.2 207.7,602.2 208.1,602.2 208.6,602.2 209.0,602.1 209.5,601.8 209.9,600.4 210.4,596.6 210.8,589.7 211.3,582.4 211.7,579.6 212.2,583.8 212.6,591.4 213.1,597.6 213.5,600.2 214.0,599.6 214.4,596.2 214.9,591.1 215.3,587.5 215.8,588.2 216.2,592.6 216.7,597.5 217.1,600.3 217.6,600.8 218.0,599.0 218.5,595.5 218.9,591.7 219.4,590.6 219.8,592.9 220.3,596.9 220.7,600.0 221.2,601.6 221.6,602.1 222.1,602.2 222.5,602.2 223.0,602.2 223.4,602.2 223.9,602.2 224.3,602.2 224.8,602.2 225.2,602.2 225.7,602.2 226.1,602.2 226.6,602.2 227.0,602.2 227.5,602.2 227.9,602.2 228.4,602.1 228.8,601.5 229.3,599.9 229.7,596.4 230.2,592.0 230.6,589.2 231.1,590.4 231.5,594.5 232.0,598.6 232.4,601.0 232.9,601.9 233.3,602.1 233.8,602.2 234.2,602.2 234.7,602.2 235.1,602.2 235.6,602.2 236.0,602.2 236.5,602.2 236.9,602.2 237.4,602.2 237.8,602.2 238.3,602.2 238.7,602.2 239.2,602.2 239.6,602.2 240.1,602.2 240.5,602.2 241.0,602.2 241.4,602.2 241.9,602.2 242.3,602.2 242.8,602.2 243.2,602.2 243.7,602.2 244.1,602.2 244.6,602.2 245.0,602.2 245.5,602.2 245.9,602.2 246.4,602.2 246.8,602.2 247.3,602.2 247.7,602.2 248.2,602.2 248.6,602.2 249.1,602.2 249.5,602.2 250.0,602.2 250.4,602.2 250.9,602.2 251.3,602.2 251.8,602.2 252.2,602.2 252.7,602.2 253.1,602.2 253.6,602.2 254.0,602.2 254.5,602.2 254.9,602.2 255.4,602.2 255.8,602.2 256.3,602.2 256.7,602.2 257.2,602.2 257.6,602.2 258.1,602.2 258.5,602.2 259.0,602.2 259.4,602.2 259.9,602.2 260.3,602.2 260.8,602.2 261.2,602.2 261.7,602.2 262.1,602.2 262.6,602.2 263.0,602.2 263.5,602.2 263.9,602.2 264.4,602.2 264.8,602.2 265.3,602.2 265.7,602.2 266.2,602.2 266.6,602.2 267.1,602.2 267.5,602.2 268.0,602.2 268.4,602.2 268.9,602.2 269.3,602.2 269.8,602.2 270.2,602.2 270.7,602.2 271.1,602.2 271.6,602.2 272.0,602.2 272.5,602.2 272.9,602.2 273.4,602.2 273.8,602.2 274.3,602.2 274.7,602.2 275.2,602.2 275.6,602.2 276.1,602.2 276.5,602.2 277.0,602.2 277.4,602.2 277.9,602.2 278.3,602.2 278.8,602.2 279.2,602.2 279.7,602.2 280.1,602.2 280.6,602.2 281.0,602.2 281.5,602.2 281.9,602.2 282.4,602.2 282.8,602.2 283.3,602.2 283.7,602.2 284.2,602.2 284.6,602.2 285.1,602.2 285.5,602.0 286.0,601.0 286.4,598.2 286.9,592.3 287.3,584.6 287.8,579.8 288.2,581.8 288.7,588.8 289.1,595.9 289.6,600.1 290.0,601.7 290.5,602.1 290.9,602.2 291.4,602.2 291.8,602.2 292.3,602.2 292.7,602.2 293.2,602.2 293.6,602.2 294.1,602.2 294.5,602.2 295.0,602.2 295.4,602.2 295.9,602.2 296.3,602.2 296.8,602.2 297.2,602.2 297.7,602.2 298.1,602.2 298.6,602.2 299.0,602.2 299.5,602.2 299.9,602.2 300.4,602.2 300.8,602.2 301.3,602.2 301.7,602.2 302.2,602.2 302.6,602.2 303.1,602.2 303.5,602.2 304.0,602.2 304.4,602.2 304.9,602.2 305.3,602.2 305.8,602.2 306.2,602.2 306.7,602.2 307.1,602.2 307.6,602.2 308.0,602.2 308.5,602.2 308.9,602.2 309.4,602.2 309.8,602.2 310.3,602.2 310.7,602.2 311.2,602.2 311.6,602.2 312.1,602.2 312.5,602.2 313.0,602.2 313.4,602.2 313.9,602.2 314.3,602.2 314.8,602.2 315.2,602.2 315.7,602.2 316.1,601.9 316.6,601.0 317.0,598.4 317.5,593.7 317.9,588.4 318.4,586.1 318.8,588.8 319.3,594.1 319.7,598.6 320.2,600.4 320.6,599.2 321.1,594.7 321.5,588.1 322.0,583.1 322.4,583.6 322.9,589.2 323.3,595.7 323.8,599.9 324.2,601.6 324.7,602.1 325.1,602.2 325.6,602.2 326.0,602.2 326.5,602.2 326.9,602.2 327.4,602.2 327.8,602.2 328.3,602.2 328.7,602.2 329.2,602.2 329.6,602.2 330.1,602.2 330.5,602.2 331.0,602.2 331.4,602.2 331.9,602.2 332.3,602.2 332.8,602.2 333.2,602.2 333.7,602.2 334.1,602.2 334.6,602.2 335.0,602.2 335.5,602.2 335.9,602.2 336.4,602.2 336.8,602.2 337.3,602.2 337.7,602.2 338.2,602.2 338.6,602.2 339.1,602.0 339.5,601.3 340.0,599.4 340.4,596.3 340.9,593.3 341.3,592.5 341.8,594.6 342.2,598.0 342.7,600.5" fill="none" stroke="#c9b86e" stroke-width="0.75" stroke-linejoin="round"/>
<polyline points="57.4,602.2 57.9,602.2 58.3,602.2 58.8,602.2 59.2,602.2 59.7,602.2 60.1,602.2 60.6,602.2 61.0,602.2 61.5,602.2 61.9,602.2 62.4,602.2 62.8,602.2 63.3,602.2 63.7,602.2 64.2,602.2 64.6,602.2 65.1,602.2 65.5,602.2 66.0,602.2 66.4,602.2 66.9,602.2 67.3,602.2 67.8,602.2 68.2,602.1 68.7,601.6 69.1,599.7 69.6,595.0 70.0,587.6 70.5,581.0 70.9,580.1 71.4,585.7 71.8,593.4 72.3,598.8 72.7,601.3 73.2,602.0 73.6,602.2 74.1,602.2 74.5,602.2 75.0,602.2 75.4,602.2 75.9,602.2 76.3,602.2 76.8,602.2 77.2,602.2 77.7,602.2 78.1,602.2 78.6,602.2 79.0,602.2 79.5,602.2 79.9,602.2 80.4,602.2 80.8,602.2 81.3,602.2 81.7,602.2 82.2,602.2 82.6,602.2 83.1,602.2 83.5,602.1 84.0,601.6 84.4,599.9 84.9,596.0 85.3,590.1 85.8,585.4 86.2,585.4 86.7,590.2 87.1,596.1 87.6,600.0 88.0,601.6 88.5,602.1 88.9,602.2 89.4,602.2 89.8,602.2 90.3,602.2 90.7,602.2 91.2,602.2 91.6,602.2 92.1,602.2 92.5,602.2 93.0,602.2 93.4,602.2 93.9,602.2 94.3,602.2 94.8,602.2 95.2,602.2 95.7,602.2 96.1,602.2 96.6,602.2 97.0,602.2 97.5,602.2 97.9,602.2 98.4,602.2 98.8,602.1 99.3,601.5 99.7,599.8 100.2,596.0 100.6,590.7 101.1,586.9 101.5,587.6 102.0,592.3 102.4,597.3 102.9,600.5 103.3,601.8 103.8,602.1 104.2,602.2 104.7,602.2 105.1,602.2 105.6,602.2 106.0,602.2 106.5,602.2 106.9,602.2 107.4,602.2 107.8,602.2 108.3,602.2 108.7,602.2 109.2,602.2 109.6,602.2 110.1,602.1 110.5,601.9 111.0,600.8 111.4,598.2 111.9,593.7 112.3,589.3 112.8,588.1 113.2,591.2 113.7,596.1 114.1,599.7 114.6,601.5 115.0,602.1 115.5,602.2 115.9,602.2 116.4,602.2 116.8,602.2 117.3,602.2 117.7,602.2 118.2,602.2 118.6,602.2 119.1,602.2 119.5,602.2 120.0,602.2 120.4,602.2 120.9,602.2 121.3,602.2 121.8,601.9 122.2,600.8 122.7,597.3 123.1,590.4 123.6,581.8 124.0,576.8 124.5,579.6 124.9,587.7 125.4,595.5 125.8,599.5 126.3,599.7 126.7,596.5 127.2,590.9 127.6,585.8 128.1,585.1 128.5,589.4 129.0,595.4 129.4,599.6 129.9,601.5 130.3,602.1 130.8,602.2 131.2,602.2 131.7,602.2 132.1,602.2 132.6,602.2 133.0,602.0 133.5,601.2 133.9,598.3 134.4,591.5 134.8,581.0 135.3,572.1 135.7,571.5 136.2,579.8 136.6,590.5 137.1,597.8 137.5,601.0 138.0,602.0 138.4,602.2 138.9,602.2 139.3,602.2 139.8,602.2 140.2,602.2 140.7,602.2 141.1,602.2 141.6,602.2 142.0,602.2 142.5,602.2 142.9,602.2 143.4,602.2 143.8,602.2 144.3,602.2 144.7,602.2 145.2,602.2 145.6,602.2 146.0,602.2 146.5,602.2 146.9,602.2 147.4,602.2 147.8,602.2 148.3,602.2 148.7,602.2 149.2,602.2 149.6,602.2 150.1,602.2 150.5,602.2 151.0,602.2 151.4,602.2 151.9,602.2 152.3,602.2 152.8,602.2 153.2,602.2 153.7,602.2 154.1,602.2 154.6,602.2 155.0,602.2 155.5,602.2 155.9,602.2 156.4,602.2 156.8,602.2 157.3,602.2 157.7,602.2 158.2,602.2 158.6,602.2 159.1,602.2 159.5,602.2 160.0,602.2 160.4,602.2 160.9,602.2 161.3,602.2 161.8,602.2 162.2,602.2 162.7,602.2 163.1,602.2 163.6,602.2 164.0,602.2 164.5,602.2 164.9,602.2 165.4,602.2 165.8,602.2 166.3,602.2 166.7,602.2 167.2,602.2 167.6,602.2 168.1,602.2 168.5,602.2 169.0,602.2 169.4,602.2 169.9,602.2 170.3,602.2 170.8,602.2 171.2,602.2 171.7,602.2 172.1,602.2 172.6,602.2 173.0,602.2 173.5,602.2 173.9,602.2 174.4,602.2 174.8,602.2 175.3,602.2 175.7,602.2 176.2,602.2 176.6,602.2 177.1,602.2 177.5,602.2 178.0,602.2 178.4,602.2 178.9,602.2 179.3,602.2 179.8,602.2 180.2,602.2 180.7,602.2 181.1,602.2 181.6,602.2 182.0,602.2 182.5,602.2 182.9,602.2 183.4,602.2 183.8,602.2 184.3,602.2 184.7,602.2 185.2,602.2 185.6,602.2 186.1,602.2 186.5,602.0 187.0,601.5 187.4,599.8 187.9,596.5 188.3,592.6 188.8,590.5 189.2,592.0 189.7,595.8 190.1,599.3 190.6,601.3 191.0,602.0 191.5,602.2 191.9,602.2 192.4,602.2 192.8,602.2 193.3,602.2 193.7,602.1 194.2,601.8 194.6,600.4 195.1,596.4 195.5,588.9 196.0,580.1 196.4,575.9 196.9,579.8 197.3,588.5 197.8,596.2 198.2,600.3 198.7,601.8 199.1,602.1 199.6,602.2 200.0,602.2 200.5,602.2 200.9,602.2 201.4,602.2 201.8,602.2 202.3,602.2 202.7,602.2 203.2,602.2 203.6,602.2 204.1,602.2 204.5,602.2 205.0,602.2 205.4,602.2 205.9,602.2 206.3,602.2 206.8,602.2 207.2,602.2 207.7,602.2 208.1,602.2 208.6,602.2 209.0,602.2 209.5,602.2 209.9,602.2 210.4,602.2 210.8,602.2 211.3,602.2 211.7,602.2 212.2,602.2 212.6,602.2 213.1,602.2 213.5,602.2 214.0,602.2 214.4,602.2 214.9,602.2 215.3,602.2 215.8,602.2 216.2,602.2 216.7,602.2 217.1,602.2 217.6,602.2 218.0,602.2 218.5,602.2 218.9,602.2 219.4,602.2 219.8,602.2 220.3,602.2 220.7,602.2 221.2,602.2 221.6,602.2 222.1,602.2 222.5,602.2 223.0,602.2 223.4,602.2 223.9,602.2 224.3,602.1 224.8,601.9 225.2,600.9 225.7,598.5 226.1,594.4 226.6,590.3 227.0,589.2 227.5,592.1 227.9,596.5 228.4,599.9 228.8,601.5 229.3,602.1 229.7,602.2 230.2,602.2 230.6,602.2 231.1,602.2 231.5,602.2 232.0,602.2 232.4,602.2 232.9,602.2 233.3,602.2 233.8,602.2 234.2,602.2 234.7,602.2 235.1,602.2 235.6,602.2 236.0,602.2 236.5,602.2 236.9,602.2 237.4,602.2 237.8,602.2 238.3,602.2 238.7,602.2 239.2,602.2 239.6,602.2 240.1,602.2 240.5,602.2 241.0,602.2 241.4,602.2 241.9,602.2 242.3,602.2 242.8,602.2 243.2,602.2 243.7,602.2 244.1,602.2 244.6,602.2 245.0,602.2 245.5,602.2 245.9,602.2 246.4,602.2 246.8,602.2 247.3,602.2 247.7,602.2 248.2,602.2 248.6,602.2 249.1,602.2 249.5,602.2 250.0,602.2 250.4,602.2 250.9,602.2 251.3,602.2 251.8,602.2 252.2,602.2 252.7,602.2 253.1,602.2 253.6,602.2 254.0,602.2 254.5,602.2 254.9,602.2 255.4,602.2 255.8,602.2 256.3,602.2 256.7,602.2 257.2,602.2 257.6,602.2 258.1,602.2 258.5,602.2 259.0,602.2 259.4,602.2 259.9,602.2 260.3,602.2 260.8,602.2 261.2,602.2 261.7,602.2 262.1,602.2 262.6,602.2 263.0,602.2 263.5,602.2 263.9,602.2 264.4,602.2 264.8,602.2 265.3,602.2 265.7,602.2 266.2,602.2 266.6,601.9 267.1,601.0 267.5,598.4 268.0,593.8 268.4,588.8 268.9,586.9 269.3,589.7 269.8,594.9 270.2,599.0 270.7,600.7 271.1,599.8 271.6,596.5 272.0,591.7 272.5,588.3 272.9,588.9 273.4,593.1 273.8,597.7 274.3,600.3 274.7,600.5 275.2,598.3 275.6,593.8 276.1,589.2 276.5,587.7 277.0,590.6 277.4,595.6 277.9,599.5 278.3,601.4 278.8,602.0 279.2,602.2 279.7,602.2 280.1,602.2 280.6,602.2 281.0,602.2 281.5,602.2 281.9,602.2 282.4,602.2 282.8,602.2 283.3,602.2 283.7,602.2 284.2,602.2 284.6,602.2 285.1,602.2 285.5,602.2 286.0,602.2 286.4,602.2 286.9,602.2 287.3,602.2 287.8,602.2 288.2,602.2 288.7,602.2 289.1,602.2 289.6,602.2 290.0,602.2 290.5,602.2 290.9,602.2 291.4,602.2 291.8,602.2 292.3,602.2 292.7,602.2 293.2,602.2 293.6,602.2 294.1,602.2 294.5,602.2 295.0,602.2 295.4,602.2 295.9,602.2 296.3,602.2 296.8,602.1 297.2,601.8 297.7,600.6 298.1,597.8 298.6,593.2 299.0,589.2 299.5,588.6 299.9,592.1 300.4,596.8 300.8,600.1 301.3,601.6 301.7,602.1 302.2,602.2 302.6,602.2 303.1,602.2 303.5,602.2 304.0,602.2 304.4,602.1 304.9,601.7 305.3,600.2 305.8,596.5 306.2,591.0 306.7,586.2 307.1,585.9 307.6,590.3 308.0,596.0 308.5,599.9 308.9,601.6 309.4,602.1 309.8,602.2 310.3,602.2 310.7,602.2 311.2,602.2 311.6,602.2 312.1,602.1 312.5,601.7 313.0,600.5 313.4,597.5 313.9,593.1 314.3,589.6 314.8,589.7 315.2,593.2 315.7,597.6 316.1,600.5 316.6,601.8 317.0,602.1 317.5,602.2 317.9,602.2 318.4,602.2 318.8,602.2 319.3,602.2 319.7,602.2 320.2,602.2 320.6,602.2 321.1,602.2 321.5,602.2 322.0,602.2 322.4,602.2 322.9,602.2 323.3,602.1 323.8,601.8 324.2,600.4 324.7,596.7 325.1,590.1 325.6,583.0 326.0,580.3 326.5,584.4 326.9,591.8 327.4,597.8 327.8,600.9 328.3,601.9 328.7,602.2 329.2,602.2 329.6,602.2 330.1,602.2 330.5,602.2 331.0,602.2 331.4,602.2 331.9,602.2 332.3,602.2 332.8,602.2 333.2,602.2 333.7,602.2 334.1,602.2 334.6,602.2 335.0,602.1 335.5,601.5 335.9,599.6 336.4,595.7 336.8,590.4 337.3,586.8 337.7,587.9 338.2,592.6 338.6,597.6 339.1,600.6 339.5,601.8 340.0,602.1 340.4,602.2 340.9,602.2 341.3,602.2 341.8,602.2 342.2,602.2 342.7,602.2" fill="none" stroke="#d9505f" stroke-width="0.75" stroke-linejoin="round"/>
<polyline points="57.4,602.2 57.9,602.2 58.3,602.2 58.8,602.2 59.2,602.2 59.7,602.2 60.1,602.2 60.6,602.2 61.0,602.2 61.5,602.2 61.9,602.2 62.4,602.2 62.8,602.2 63.3,602.2 63.7,602.2 64.2,602.2 64.6,602.2 65.1,602.2 65.5,602.2 66.0,602.2 66.4,602.2 66.9,602.2 67.3,602.2 67.8,602.2 68.2,602.2 68.7,602.2 69.1,602.2 69.6,602.2 70.0,602.2 70.5,602.2 70.9,602.2 71.4,602.2 71.8,602.2 72.3,602.2 72.7,602.2 73.2,602.2 73.6,602.2 74.1,602.2 74.5,602.2 75.0,602.2 75.4,602.2 75.9,602.2 76.3,602.2 76.8,602.2 77.2,602.2 77.7,602.2 78.1,602.2 78.6,602.2 79.0,602.2 79.5,602.2 79.9,602.0 80.4,601.2 80.8,598.9 81.3,594.5 81.7,589.3 82.2,586.9 82.6,589.2 83.1,594.2 83.5,598.7 84.0,601.1 84.4,602.0 84.9,602.2 85.3,602.2 85.8,602.2 86.2,602.2 86.7,602.2 87.1,602.2 87.6,602.2 88.0,602.2 88.5,602.2 88.9,602.2 89.4,602.2 89.8,602.2 90.3,602.2 90.7,602.2 91.2,602.2 91.6,602.2 92.1,602.2 92.5,602.2 93.0,602.2 93.4,602.2 93.9,602.2 94.3,602.2 94.8,602.1 95.2,601.9 95.7,600.7 96.1,597.7 96.6,592.3 97.0,586.4 97.5,584.2 97.9,587.5 98.4,593.6 98.8,598.6 99.3,601.1 99.7,602.0 100.2,602.2 100.6,602.2 101.1,602.2 101.5,602.2 102.0,602.2 102.4,602.2 102.9,602.2 103.3,602.2 103.8,602.2 104.2,602.2 104.7,602.2 105.1,602.2 105.6,602.2 106.0,602.2 106.5,602.1 106.9,601.7 107.4,600.3 107.8,597.3 108.3,593.3 108.7,590.7 109.2,591.4 109.6,595.0 110.1,598.8 110.5,601.0 111.0,601.9 111.4,602.1 111.9,602.2 112.3,602.2 112.8,602.2 113.2,602.2 113.7,602.2 114.1,602.2 114.6,602.2 115.0,602.2 115.5,602.2 115.9,602.2 116.4,602.2 116.8,602.2 117.3,602.2 117.7,602.2 118.2,602.2 118.6,602.2 119.1,602.2 119.5,602.2 120.0,602.2 120.4,602.2 120.9,602.2 121.3,602.2 121.8,602.2 122.2,602.2 122.7,602.2 123.1,602.2 123.6,602.2 124.0,602.2 124.5,602.2 124.9,602.2 125.4,602.2 125.8,602.2 126.3,602.2 126.7,602.2 127.2,602.2 127.6,602.2 128.1,602.2 128.5,602.2 129.0,602.2 129.4,602.2 129.9,602.2 130.3,602.2 130.8,602.2 131.2,602.2 131.7,602.2 132.1,602.2 132.6,602.2 133.0,602.2 133.5,602.2 133.9,602.2 134.4,602.2 134.8,602.2 135.3,602.2 135.7,602.2 136.2,602.2 136.6,602.2 137.1,602.2 137.5,602.2 138.0,602.2 138.4,602.2 138.9,602.2 139.3,602.2 139.8,602.2 140.2,602.2 140.7,602.1 141.1,601.6 141.6,599.9 142.0,596.0 142.5,590.1 142.9,585.4 143.4,585.4 143.8,590.2 144.3,596.1 144.7,600.0 145.2,601.6 145.6,602.1 146.0,602.2 146.5,602.2 146.9,602.2 147.4,602.2 147.8,602.2 148.3,602.2 148.7,602.2 149.2,602.2 149.6,602.2 150.1,602.2 150.5,602.2 151.0,602.2 151.4,602.2 151.9,602.2 152.3,602.2 152.8,602.2 153.2,602.2 153.7,602.2 154.1,602.2 154.6,602.2 155.0,602.2 155.5,602.2 155.9,602.2 156.4,602.2 156.8,602.2 157.3,602.2 157.7,602.2 158.2,602.2 158.6,602.2 159.1,602.2 159.5,602.2 160.0,602.2 160.4,602.2 160.9,602.2 161.3,602.2 161.8,602.2 162.2,602.2 162.7,602.2 163.1,602.2 163.6,602.0 164.0,601.3 164.5,599.2 164.9,594.6 165.4,588.4 165.8,584.3 166.3,585.5 166.7,591.0 167.2,596.8 167.6,600.4 168.1,601.7 168.5,602.1 169.0,602.2 169.4,602.2 169.9,602.2 170.3,602.2 170.8,602.2 171.2,602.1 171.7,601.5 172.1,599.7 172.6,596.1 173.0,591.4 173.5,588.4 173.9,589.6 174.4,594.0 174.8,598.4 175.3,600.9 175.7,601.9 176.2,602.1 176.6,602.2 177.1,602.2 177.5,602.2 178.0,602.2 178.4,602.2 178.9,602.2 179.3,602.2 179.8,602.2 180.2,602.2 180.7,602.2 181.1,602.2 181.6,602.2 182.0,602.2 182.5,602.1 182.9,601.8 183.4,600.6 183.8,597.8 184.3,593.2 184.7,589.2 185.2,588.6 185.6,592.1 186.1,596.8 186.5,600.1 187.0,601.6 187.4,602.1 187.9,602.2 188.3,602.2 188.8,602.2 189.2,602.2 189.7,602.2 190.1,602.2 190.6,602.2 191.0,602.2 191.5,602.2 191.9,602.2 192.4,602.2 192.8,602.2 193.3,602.2 193.7,602.2 194.2,602.2 194.6,602.2 195.1,602.2 195.5,602.2 196.0,602.2 196.4,602.2 196.9,602.2 197.3,602.2 197.8,602.0 198.2,601.4 198.7,599.1 199.1,593.9 199.6,586.0 200.0,579.7 200.5,579.8 200.9,586.2 201.4,594.0 201.8,599.2 202.3,601.4 202.7,602.1 203.2,602.2 203.6,602.2 204.1,602.2 204.5,602.2 205.0,602.2 205.4,602.2 205.9,602.2 206.3,602.2 206.8,602.2 207.2,602.2 207.7,602.2 208.1,602.2 208.6,602.2 209.0,602.2 209.5,602.2 209.9,602.2 210.4,602.2 210.8,602.2 211.3,602.2 211.7,602.2 212.2,602.2 212.6,602.2 213.1,602.2 213.5,602.2 214.0,602.2 214.4,602.2 214.9,602.2 215.3,602.2 215.8,602.2 216.2,602.2 216.7,602.2 217.1,602.2 217.6,602.2 218.0,602.2 218.5,602.2 218.9,602.2 219.4,602.2 219.8,602.2 220.3,602.2 220.7,602.0 221.2,601.3 221.6,598.9 222.1,593.8 222.5,587.0 223.0,582.5 223.4,583.8 223.9,589.9 224.3,596.3 224.8,600.2 225.2,601.7 225.7,602.1 226.1,602.2 226.6,602.2 227.0,602.2 227.5,602.2 227.9,602.2 228.4,602.2 228.8,602.2 229.3,602.2 229.7,602.2 230.2,602.2 230.6,602.2 231.1,602.2 231.5,602.2 232.0,602.2 232.4,602.0 232.9,601.3 233.3,599.6 233.8,596.7 234.2,594.1 234.7,593.5 235.1,595.6 235.6,598.6 236.0,600.8 236.5,601.8 236.9,602.1 237.4,602.2 237.8,602.2 238.3,602.2 238.7,602.2 239.2,602.2 239.6,602.1 240.1,601.8 240.5,600.7 241.0,598.0 241.4,593.7 241.9,589.9 242.3,589.4 242.8,592.6 243.2,597.1 243.7,600.2 244.1,601.7 244.6,602.1 245.0,602.2 245.5,602.2 245.9,602.2 246.4,602.2 246.8,602.2 247.3,602.1 247.7,601.8 248.2,600.6 248.6,597.8 249.1,593.4 249.5,589.8 250.0,589.5 250.4,592.9 250.9,597.3 251.3,600.1 251.8,600.3 252.2,597.4 252.7,591.3 253.1,584.1 253.6,580.7 254.0,583.9 254.5,591.0 254.9,597.3 255.4,600.7 255.8,601.9 256.3,602.1 256.7,602.2 257.2,602.2 257.6,602.2 258.1,602.2 258.5,602.2 259.0,601.9 259.4,601.1 259.9,598.6 260.3,594.1 260.8,589.1 261.2,586.9 261.7,589.4 262.1,594.5 262.6,598.7 263.0,600.2 263.5,598.4 263.9,592.8 264.4,584.5 264.8,578.1 265.3,578.7 265.7,585.8 266.2,594.0 266.6,599.3 267.1,601.4 267.5,602.1 268.0,602.2 268.4,602.2 268.9,602.2 269.3,602.2 269.8,602.2 270.2,602.2 270.7,602.2 271.1,602.2 271.6,602.2 272.0,602.2 272.5,602.2 272.9,602.2 273.4,602.2 273.8,602.2 274.3,602.2 274.7,602.2 275.2,602.2 275.6,602.2 276.1,602.2 276.5,602.2 277.0,602.2 277.4,602.2 277.9,602.0 278.3,601.3 278.8,599.0 279.2,594.1 279.7,587.5 280.1,583.1 280.6,584.4 281.0,590.3 281.5,596.4 281.9,599.8 282.4,599.8 282.8,596.5 283.3,590.2 283.7,584.0 284.2,582.4 284.6,586.7 285.1,593.6 285.5,598.7 286.0,601.2 286.4,602.0 286.9,602.2 287.3,602.2 287.8,602.2 288.2,602.2 288.7,602.2 289.1,602.2 289.6,601.9 290.0,601.1 290.5,599.1 290.9,595.9 291.4,592.8 291.8,592.2 292.3,594.5 292.7,598.0 293.2,600.3 293.6,600.6 294.1,598.2 294.5,592.8 295.0,585.9 295.4,581.9 295.9,584.1 296.3,590.6 296.8,596.9 297.2,600.5 297.7,601.8 298.1,602.1 298.6,602.2 299.0,602.2 299.5,602.2 299.9,602.2 300.4,602.2 300.8,602.2 301.3,602.2 301.7,602.2 302.2,602.2 302.6,602.2 303.1,602.2 303.5,602.2 304.0,602.2 304.4,602.2 304.9,602.2 305.3,602.2 305.8,602.2 306.2,602.2 306.7,602.2 307.1,602.2 307.6,602.2 308.0,602.1 308.5,601.8 308.9,600.4 309.4,596.4 309.8,588.7 310.3,579.8 310.7,575.5 311.2,579.4 311.6,588.3 312.1,596.1 312.5,600.3 313.0,601.8 313.4,602.1 313.9,602.2 314.3,602.2 314.8,602.2 315.2,602.2 315.7,602.2 316.1,602.2 316.6,602.2 317.0,602.2 317.5,602.2 317.9,602.2 318.4,602.2 318.8,602.2 319.3,602.2 319.7,602.2 320.2,602.2 320.6,602.2 321.1,602.2 321.5,602.2 322.0,602.2 322.4,602.2 322.9,602.2 323.3,602.2 323.8,602.2 324.2,602.2 324.7,602.2 325.1,602.2 325.6,602.2 326.0,602.2 326.5,602.2 326.9,602.2 327.4,602.0 327.8,601.4 328.3,599.2 328.7,594.5 329.2,587.9 329.6,583.2 330.1,584.1 330.5,589.8 331.0,596.0 331.4,599.5 331.9,599.4 332.3,595.2 332.8,587.3 333.2,579.1 333.7,576.5 334.1,581.7 334.6,590.5 335.0,597.4 335.5,600.8 335.9,601.9 336.4,602.2 336.8,602.2 337.3,602.2 337.7,602.2 338.2,602.2 338.6,602.2 339.1,602.2 339.5,602.2 340.0,602.2 340.4,602.2 340.9,602.2 341.3,602.2 341.8,602.2 342.2,602.2 342.7,602.2" fill="none" stroke="#5a60c6" stroke-width="0.75" stroke-linejoin="round"/>
<polyline points="57.4,602.2 57.9,602.2 58.3,602.2 58.8,602.2 59.2,602.2 59.7,602.2 60.1,602.2 60.6,602.2 61.0,602.2 61.5,602.2 61.9,602.2 62.4,602.2 62.8,602.2 63.3,602.2 63.7,602.2 64.2,602.2 64.6,602.2 65.1,602.2 65.5,602.2 66.0,602.2 66.4,602.2 66.9,602.2 67.3,602.2 67.8,602.2 68.2,602.2 68.7,602.2 69.1,602.2 69.6,602.2 70.0,602.2 70.5,602.2 70.9,602.2 71.4,602.2 71.8,602.2 72.3,602.2 72.7,602.2 73.2,602.2 73.6,602.2 74.1,602.2 74.5,602.2 75.0,602.2 75.4,602.2 75.9,602.1 76.3,601.8 76.8,600.7 77.2,598.1 77.7,594.1 78.1,590.7 78.6,590.5 79.0,593.6 79.5,597.7 79.9,600.5 80.4,601.7 80.8,602.1 81.3,602.2 81.7,602.2 82.2,602.2 82.6,602.2 83.1,602.2 83.5,602.2 84.0,602.2 84.4,602.2 84.9,602.2 85.3,602.2 85.8,602.2 86.2,602.2 86.7,602.2 87.1,602.2 87.6,602.2 88.0,602.2 88.5,602.2 88.9,602.2 89.4,602.2 89.8,602.2 90.3,602.2 90.7,602.2 91.2,602.1 91.6,601.8 92.1,600.8 92.5,598.5 93.0,595.2 93.4,592.7 93.9,592.9 94.3,595.7 94.8,599.0 95.2,601.0 95.7,601.9 96.1,602.1 96.6,602.2 97.0,602.2 97.5,602.2 97.9,602.2 98.4,602.2 98.8,602.2 99.3,602.2 99.7,602.2 100.2,602.2 100.6,602.2 101.1,602.2 101.5,602.2 102.0,602.2 102.4,602.2 102.9,602.2 103.3,602.2 103.8,602.2 104.2,602.2 104.7,602.2 105.1,602.2 105.6,602.2 106.0,602.2 106.5,602.2 106.9,602.2 107.4,602.2 107.8,602.2 108.3,602.2 108.7,602.2 109.2,602.2 109.6,602.2 110.1,602.2 110.5,602.2 111.0,602.2 111.4,602.2 111.9,602.2 112.3,602.2 112.8,602.2 113.2,602.2 113.7,602.2 114.1,602.2 114.6,602.2 115.0,602.2 115.5,602.2 115.9,602.2 116.4,602.2 116.8,602.2 117.3,602.2 117.7,602.2 118.2,602.2 118.6,602.2 119.1,602.2 119.5,602.2 120.0,602.2 120.4,602.2 120.9,602.2 121.3,602.2 121.8,602.2 122.2,602.2 122.7,602.2 123.1,602.2 123.6,602.2 124.0,602.2 124.5,602.2 124.9,602.2 125.4,602.2 125.8,602.2 126.3,602.2 126.7,602.2 127.2,602.2 127.6,602.2 128.1,602.2 128.5,602.2 129.0,602.2 129.4,602.2 129.9,602.2 130.3,602.2 130.8,602.2 131.2,602.2 131.7,602.2 132.1,602.2 132.6,602.2 133.0,602.2 133.5,602.2 133.9,602.2 134.4,602.2 134.8,602.2 135.3,602.2 135.7,602.2 136.2,602.2 136.6,602.2 137.1,602.2 137.5,602.2 138.0,602.2 138.4,602.2 138.9,602.2 139.3,602.2 139.8,602.2 140.2,602.2 140.7,602.2 141.1,602.2 141.6,602.2 142.0,602.2 142.5,602.2 142.9,602.2 143.4,602.2 143.8,602.2 144.3,602.1 144.7,601.7 145.2,600.2 145.6,595.8 146.0,587.8 146.5,578.7 146.9,574.9 147.4,579.4 147.8,588.6 148.3,596.4 148.7,600.4 149.2,601.8 149.6,602.1 150.1,602.2 150.5,602.2 151.0,602.2 151.4,602.2 151.9,602.2 152.3,602.2 152.8,602.2 153.2,602.2 153.7,602.2 154.1,602.2 154.6,602.2 155.0,602.2 155.5,602.2 155.9,602.2 156.4,602.2 156.8,602.2 157.3,602.2 157.7,602.2 158.2,602.2 158.6,602.2 159.1,602.2 159.5,602.2 160.0,602.2 160.4,602.2 160.9,602.2 161.3,602.2 161.8,602.2 162.2,602.2 162.7,602.2 163.1,602.2 163.6,602.2 164.0,602.2 164.5,602.2 164.9,602.2 165.4,602.2 165.8,602.2 166.3,602.2 166.7,602.2 167.2,602.1 167.6,601.5 168.1,599.3 168.5,593.5 169.0,583.8 169.4,574.3 169.9,571.8 170.3,578.5 170.8,588.9 171.2,596.9 171.7,600.7 172.1,601.9 172.6,602.2 173.0,602.2 173.5,602.2 173.9,602.2 174.4,602.2 174.8,602.1 175.3,601.4 175.7,599.1 176.2,593.3 176.6,583.8 177.1,574.8 177.5,573.1 178.0,580.0 178.4,590.0 178.9,597.4 179.3,600.9 179.8,601.9 180.2,602.2 180.7,602.2 181.1,602.2 181.6,602.2 182.0,602.2 182.5,602.2 182.9,602.2 183.4,602.2 183.8,602.2 184.3,602.2 184.7,602.2 185.2,602.2 185.6,602.2 186.1,602.2 186.5,602.2 187.0,602.2 187.4,602.2 187.9,602.2 188.3,602.2 188.8,602.2 189.2,602.2 189.7,602.2 190.1,602.2 190.6,602.2 191.0,602.2 191.5,602.2 191.9,602.2 192.4,602.2 192.8,602.2 193.3,602.2 193.7,602.2 194.2,602.2 194.6,602.2 195.1,602.2 195.5,602.2 196.0,602.2 196.4,602.2 196.9,602.2 197.3,602.2 197.8,602.2 198.2,602.2 198.7,602.2 199.1,602.2 199.6,602.2 200.0,602.2 200.5,602.2 200.9,602.2 201.4,602.2 201.8,602.2 202.3,602.2 202.7,602.2 203.2,602.2 203.6,602.2 204.1,602.2 204.5,602.2 205.0,602.2 205.4,602.1 205.9,601.8 206.3,600.8 206.8,598.6 207.2,595.4 207.7,593.0 208.1,593.2 208.6,595.9 209.0,599.1 209.5,601.1 209.9,601.9 210.4,602.1 210.8,602.2 211.3,602.2 211.7,602.2 212.2,602.2 212.6,602.2 213.1,602.2 213.5,602.2 214.0,602.2 214.4,602.2 214.9,602.2 215.3,602.2 215.8,602.2 216.2,602.2 216.7,602.2 217.1,602.2 217.6,602.2 218.0,602.2 218.5,602.2 218.9,602.2 219.4,602.2 219.8,602.2 220.3,602.2 220.7,602.2 221.2,602.2 221.6,602.2 222.1,602.2 222.5,602.2 223.0,602.2 223.4,602.2 223.9,602.2 224.3,602.2 224.8,602.2 225.2,602.2 225.7,602.2 226.1,602.2 226.6,602.2 227.0,602.2 227.5,602.2 227.9,602.2 228.4,602.2 228.8,602.2 229.3,602.2 229.7,602.2 230.2,602.2 230.6,602.2 231.1,602.2 231.5,602.2 232.0,602.2 232.4,602.2 232.9,602.2 233.3,602.2 233.8,602.2 234.2,602.2 234.7,602.2 235.1,602.2 235.6,602.2 236.0,601.9 236.5,600.7 236.9,597.1 237.4,589.9 237.8,580.8 238.3,575.6 238.7,578.5 239.2,587.0 239.6,595.3 240.1,599.9 240.5,601.7 241.0,602.1 241.4,602.2 241.9,602.2 242.3,602.2 242.8,602.2 243.2,602.1 243.7,601.8 244.1,600.3 244.6,596.1 245.0,587.7 245.5,577.7 245.9,572.3 246.4,576.2 246.8,585.9 247.3,594.9 247.7,599.9 248.2,601.7 248.6,602.1 249.1,602.2 249.5,602.2 250.0,602.2 250.4,602.2 250.9,602.2 251.3,602.2 251.8,602.2 252.2,602.2 252.7,602.2 253.1,602.2 253.6,602.2 254.0,602.2 254.5,602.2 254.9,602.0 255.4,601.3 255.8,598.7 256.3,592.7 256.7,583.7 257.2,576.5 257.6,576.6 258.1,583.9 258.5,592.9 259.0,598.8 259.4,601.3 259.9,602.0 260.3,602.2 260.8,602.2 261.2,602.2 261.7,602.2 262.1,602.2 262.6,602.2 263.0,602.2 263.5,602.2 263.9,602.2 264.4,602.2 264.8,602.2 265.3,602.2 265.7,602.2 266.2,602.2 266.6,602.2 267.1,602.2 267.5,602.2 268.0,602.2 268.4,602.2 268.9,602.2 269.3,602.2 269.8,602.2 270.2,602.2 270.7,602.2 271.1,602.2 271.6,602.2 272.0,602.2 272.5,602.2 272.9,602.2 273.4,602.2 273.8,602.2 274.3,602.2 274.7,602.2 275.2,602.2 275.6,602.2 276.1,602.2 276.5,602.2 277.0,602.2 277.4,602.2 277.9,602.2 278.3,602.2 278.8,602.2 279.2,602.2 279.7,602.2 280.1,602.2 280.6,602.2 281.0,602.2 281.5,602.2 281.9,602.2 282.4,602.2 282.8,602.2 283.3,602.2 283.7,602.2 284.2,602.2 284.6,602.2 285.1,602.2 285.5,602.2 286.0,602.2 286.4,602.2 286.9,602.2 287.3,602.2 287.8,602.2 288.2,602.2 288.7,602.2 289.1,602.2 289.6,602.2 290.0,602.2 290.5,602.2 290.9,602.2 291.4,602.2 291.8,602.2 292.3,602.2 292.7,602.2 293.2,602.2 293.6,602.2 294.1,602.2 294.5,602.2 295.0,602.2 295.4,602.2 295.9,602.2 296.3,602.2 296.8,602.2 297.2,602.2 297.7,602.2 298.1,602.2 298.6,602.2 299.0,602.2 299.5,602.2 299.9,602.2 300.4,602.1 300.8,601.8 301.3,600.4 301.7,596.4 302.2,588.4 302.6,578.8 303.1,573.7 303.5,577.4 304.0,586.7 304.4,595.2 304.9,600.0 305.3,601.7 305.8,602.1 306.2,602.2 306.7,602.2 307.1,602.2 307.6,602.2 308.0,602.2 308.5,602.2 308.9,602.2 309.4,602.2 309.8,602.2 310.3,602.2 310.7,602.2 311.2,602.2 311.6,602.2 312.1,602.2 312.5,602.2 313.0,602.2 313.4,602.2 313.9,602.2 314.3,602.2 314.8,602.2 315.2,602.2 315.7,602.2 316.1,602.2 316.6,602.2 317.0,602.2 317.5,602.2 317.9,602.2 318.4,602.2 318.8,602.2 319.3,602.2 319.7,602.2 320.2,602.2 320.6,602.2 321.1,602.2 321.5,602.2 322.0,602.2 322.4,602.2 322.9,602.2 323.3,602.2 323.8,602.2 324.2,602.2 324.7,602.2 325.1,602.2 325.6,602.2 326.0,602.2 326.5,602.2 326.9,602.2 327.4,602.2 327.8,602.2 328.3,602.2 328.7,602.2 329.2,602.2 329.6,602.2 330.1,602.2 330.5,602.2 331.0,602.2 331.4,602.2 331.9,602.2 332.3,602.2 332.8,602.2 333.2,602.2 333.7,602.2 334.1,602.2 334.6,602.2 335.0,602.2 335.5,602.2 335.9,602.2 336.4,602.2 336.8,602.2 337.3,602.2 337.7,602.2 338.2,602.2 338.6,602.2 339.1,602.2 339.5,602.2 340.0,602.2 340.4,602.2 340.9,602.2 341.3,602.2 341.8,602.2 342.2,602.2 342.7,602.2" fill="none" stroke="#3fc47c" stroke-width="0.75" stroke-linejoin="round"/>
<line x1="57.40" y1="602.40" x2="343.14" y2="602.40" stroke="#5ccf8e" stroke-width="0.8"/>
<text x="59.30" y="607.10" font-size="4.6" font-weight="bold" fill="#222" text-anchor="middle">G</text>
<text x="63.11" y="607.10" font-size="4.6" font-weight="bold" fill="#222" text-anchor="middle">G</text>
<text x="66.92" y="607.10" font-size="4.6" font-weight="bold" fill="#222" text-anchor="middle">G</text>
<text x="70.73" y="607.10" font-size="4.6" font-weight="bold" fill="#222" text-anchor="middle">A</text>
<text x="74.54" y="607.10" font-size="4.6" font-weight="bold" fill="#222" text-anchor="middle">G</text>
<text x="78.35" y="607.10" font-size="4.6" font-weight="bold" fill="#222" text-anchor="middle">T</text>
<text x="82.16" y="607.10" font-size="4.6" font-weight="bold" fill="#222" text-anchor="middle">C</text>
<text x="85.97" y="607.10" font-size="4.6" font-weight="bold" fill="#222" text-anchor="middle">A</text>
<text x="89.78" y="607.10" font-size="4.6" font-weight="bold" fill="#222" text-anchor="middle">G</text>
<text x="93.59" y="607.10" font-size="4.6" font-weight="bold" fill="#222" text-anchor="middle">T</text>
<text x="97.40" y="607.10" font-size="4.6" font-weight="bold" fill="#222" text-anchor="middle">C</text>
<text x="101.21" y="607.10" font-size="4.6" font-weight="bold" fill="#222" text-anchor="middle">A</text>
<text x="105.02" y="607.10" font-size="4.6" font-weight="bold" fill="#222" text-anchor="middle">G</text>
<text x="108.83" y="607.10" font-size="4.6" font-weight="bold" fill="#222" text-anchor="middle">C</text>
<text x="112.64" y="607.10" font-size="4.6" font-weight="bold" fill="#222" text-anchor="middle">A</text>
<text x="116.45" y="607.10" font-size="4.6" font-weight="bold" fill="#222" text-anchor="middle">G</text>
<text x="120.26" y="607.10" font-size="4.6" font-weight="bold" fill="#222" text-anchor="middle">G</text>
<text x="124.07" y="607.10" font-size="4.6" font-weight="bold" fill="#222" text-anchor="middle">A</text>
<text x="127.88" y="607.10" font-size="4.6" font-weight="bold" fill="#222" text-anchor="middle">A</text>
<text x="131.69" y="607.10" font-size="4.6" font-weight="bold" fill="#222" text-anchor="middle">G</text>
<text x="135.50" y="607.10" font-size="4.6" font-weight="bold" fill="#222" text-anchor="middle">A</text>
<text x="139.31" y="607.10" font-size="4.6" font-weight="bold" fill="#222" text-anchor="middle">G</text>
<text x="143.12" y="607.10" font-size="4.6" font-weight="bold" fill="#222" text-anchor="middle">C</text>
<text x="146.93" y="607.10" font-size="4.6" font-weight="bold" fill="#222" text-anchor="middle">T</text>
<text x="150.74" y="607.10" font-size="4.6" font-weight="bold" fill="#222" text-anchor="middle">G</text>
<text x="154.55" y="607.10" font-size="4.6" font-weight="bold" fill="#222" text-anchor="middle">G</text>
<text x="158.36" y="607.10" font-size="4.6" font-weight="bold" fill="#222" text-anchor="middle">G</text>
<text x="162.17" y="607.10" font-size="4.6" font-weight="bold" fill="#222" text-anchor="middle">G</text>
<text x="165.98" y="607.10" font-size="4.6" font-weight="bold" fill="#222" text-anchor="middle">C</text>
<text x="169.79" y="607.10" font-size="4.6" font-weight="bold" fill="#222" text-anchor="middle">T</text>
<text x="173.60" y="607.10" font-size="4.6" font-weight="bold" fill="#222" text-anchor="middle">C</text>
<text x="177.41" y="607.10" font-size="4.6" font-weight="bold" fill="#222" text-anchor="middle">T</text>
<text x="181.22" y="607.10" font-size="4.6" font-weight="bold" fill="#222" text-anchor="middle">G</text>
<text x="185.03" y="607.10" font-size="4.6" font-weight="bold" fill="#222" text-anchor="middle">C</text>
<text x="188.84" y="607.10" font-size="4.6" font-weight="bold" fill="#222" text-anchor="middle">A</text>
<text x="192.65" y="607.10" font-size="4.6" font-weight="bold" fill="#222" text-anchor="middle">G</text>
<text x="196.46" y="607.10" font-size="4.6" font-weight="bold" fill="#222" text-anchor="middle">A</text>
<text x="200.27" y="607.10" font-size="4.6" font-weight="bold" fill="#222" text-anchor="middle">C</text>
<text x="204.08" y="607.10" font-size="4.6" font-weight="bold" fill="#222" text-anchor="middle">G</text>
<text x="207.89" y="607.10" font-size="4.6" font-weight="bold" fill="#222" text-anchor="middle">T</text>
<text x="211.70" y="607.10" font-size="4.6" font-weight="bold" fill="#222" text-anchor="middle">G</text>
<text x="215.51" y="607.10" font-size="4.6" font-weight="bold" fill="#222" text-anchor="middle">G</text>
<text x="219.32" y="607.10" font-size="4.6" font-weight="bold" fill="#222" text-anchor="middle">G</text>
<text x="223.13" y="607.10" font-size="4.6" font-weight="bold" fill="#222" text-anchor="middle">C</text>
<text x="226.94" y="607.10" font-size="4.6" font-weight="bold" fill="#222" text-anchor="middle">A</text>
<text x="230.75" y="607.10" font-size="4.6" font-weight="bold" fill="#222" text-anchor="middle">G</text>
<text x="234.56" y="607.10" font-size="4.6" font-weight="bold" fill="#222" text-anchor="middle">C</text>
<text x="238.37" y="607.10" font-size="4.6" font-weight="bold" fill="#222" text-anchor="middle">T</text>
<text x="242.18" y="607.10" font-size="4.6" font-weight="bold" fill="#222" text-anchor="middle">C</text>
<text x="245.99" y="607.10" font-size="4.6" font-weight="bold" fill="#222" text-anchor="middle">T</text>
<text x="249.80" y="607.10" font-size="4.6" font-weight="bold" fill="#222" text-anchor="middle">C</text>
<text x="253.61" y="607.10" font-size="4.6" font-weight="bold" fill="#222" text-anchor="middle">C</text>
<text x="257.42" y="607.10" font-size="4.6" font-weight="bold" fill="#222" text-anchor="middle">T</text>
<text x="261.23" y="607.10" font-size="4.6" font-weight="bold" fill="#222" text-anchor="middle">C</text>
<text x="265.04" y="607.10" font-size="4.6" font-weight="bold" fill="#222" text-anchor="middle">C</text>
<text x="268.85" y="607.10" font-size="4.6" font-weight="bold" fill="#222" text-anchor="middle">A</text>
<text x="272.66" y="607.10" font-size="4.6" font-weight="bold" fill="#222" text-anchor="middle">A</text>
<text x="276.47" y="607.10" font-size="4.6" font-weight="bold" fill="#222" text-anchor="middle">A</text>
<text x="280.28" y="607.10" font-size="4.6" font-weight="bold" fill="#222" text-anchor="middle">C</text>
<text x="284.09" y="607.10" font-size="4.6" font-weight="bold" fill="#222" text-anchor="middle">C</text>
<text x="287.90" y="607.10" font-size="4.6" font-weight="bold" fill="#222" text-anchor="middle">G</text>
<text x="291.71" y="607.10" font-size="4.6" font-weight="bold" fill="#222" text-anchor="middle">C</text>
<text x="295.52" y="607.10" font-size="4.6" font-weight="bold" fill="#222" text-anchor="middle">C</text>
<text x="299.33" y="607.10" font-size="4.6" font-weight="bold" fill="#222" text-anchor="middle">A</text>
<text x="303.14" y="607.10" font-size="4.6" font-weight="bold" fill="#222" text-anchor="middle">T</text>
<text x="306.95" y="607.10" font-size="4.6" font-weight="bold" fill="#222" text-anchor="middle">A</text>
<text x="310.76" y="607.10" font-size="4.6" font-weight="bold" fill="#222" text-anchor="middle">C</text>
<text x="314.57" y="607.10" font-size="4.6" font-weight="bold" fill="#222" text-anchor="middle">A</text>
<text x="318.38" y="607.10" font-size="4.6" font-weight="bold" fill="#222" text-anchor="middle">G</text>
<text x="322.19" y="607.10" font-size="4.6" font-weight="bold" fill="#222" text-anchor="middle">G</text>
<text x="326.00" y="607.10" font-size="4.6" font-weight="bold" fill="#222" text-anchor="middle">A</text>
<text x="329.81" y="607.10" font-size="4.6" font-weight="bold" fill="#222" text-anchor="middle">C</text>
<text x="333.62" y="607.10" font-size="4.6" font-weight="bold" fill="#222" text-anchor="middle">C</text>
<text x="337.43" y="607.10" font-size="4.6" font-weight="bold" fill="#222" text-anchor="middle">A</text>
<text x="341.24" y="607.10" font-size="4.6" font-weight="bold" fill="#222" text-anchor="middle">G</text>
<polyline points="57.4,638.7 57.9,636.4 58.3,631.6 58.8,625.3 59.2,621.4 59.7,623.0 60.1,628.8 60.6,634.5 61.0,637.5 61.5,637.5 61.9,634.6 62.4,629.2 62.8,624.2 63.3,623.2 63.7,627.1 64.2,632.8 64.6,636.9 65.1,638.4 65.5,637.7 66.0,635.3 66.4,632.1 66.9,630.2 67.3,631.3 67.8,634.3 68.2,637.2 68.7,638.9 69.1,639.5 69.6,639.7 70.0,639.7 70.5,639.7 70.9,639.7 71.4,639.7 71.8,639.7 72.3,639.5 72.7,638.6 73.2,635.9 73.6,630.8 74.1,624.5 74.5,621.2 75.0,623.6 75.4,629.6 75.9,635.2 76.3,638.2 76.8,639.4 77.2,639.6 77.7,639.7 78.1,639.7 78.6,639.7 79.0,639.7 79.5,639.7 79.9,639.7 80.4,639.7 80.8,639.7 81.3,639.7 81.7,639.7 82.2,639.7 82.6,639.7 83.1,639.7 83.5,639.7 84.0,639.7 84.4,639.7 84.9,639.7 85.3,639.7 85.8,639.7 86.2,639.7 86.7,639.7 87.1,639.7 87.6,639.5 88.0,638.8 88.5,636.9 88.9,633.3 89.4,629.3 89.8,627.6 90.3,629.6 90.7,633.7 91.2,637.1 91.6,638.9 92.1,639.5 92.5,639.7 93.0,639.7 93.4,639.7 93.9,639.7 94.3,639.7 94.8,639.7 95.2,639.7 95.7,639.7 96.1,639.7 96.6,639.7 97.0,639.7 97.5,639.7 97.9,639.7 98.4,639.7 98.8,639.7 99.3,639.7 99.7,639.7 100.2,639.7 100.6,639.7 101.1,639.7 101.5,639.7 102.0,639.7 102.4,639.7 102.9,639.5 103.3,638.8 103.8,636.9 104.2,633.5 104.7,630.1 105.1,629.1 105.6,631.2 106.0,634.8 106.5,637.7 106.9,639.1 107.4,639.6 107.8,639.7 108.3,639.7 108.7,639.7 109.2,639.7 109.6,639.7 110.1,639.7 110.5,639.7 111.0,639.7 111.4,639.7 111.9,639.7 112.3,639.7 112.8,639.7 113.2,639.7 113.7,639.7 114.1,639.5 114.6,638.9 115.0,637.1 115.5,633.3 115.9,628.3 116.4,625.2 116.8,626.5 117.3,631.1 117.7,635.6 118.2,637.8 118.6,637.2 119.1,633.3 119.5,626.5 120.0,620.1 120.4,618.8 120.9,623.8 121.3,631.0 121.8,636.3 122.2,638.7 122.7,639.5 123.1,639.7 123.6,639.7 124.0,639.7 124.5,639.7 124.9,639.7 125.4,639.7 125.8,639.7 126.3,639.7 126.7,639.7 127.2,639.7 127.6,639.7 128.1,639.7 128.5,639.7 129.0,639.7 129.4,639.6 129.9,639.0 130.3,637.5 130.8,634.5 131.2,630.9 131.7,629.0 132.1,630.4 132.6,633.9 133.0,637.1 133.5,638.9 133.9,639.5 134.4,639.7 134.8,639.7 135.3,639.7 135.7,639.7 136.2,639.7 136.6,639.7 137.1,639.4 137.5,638.5 138.0,635.8 138.4,630.6 138.9,624.6 139.3,621.7 139.8,624.3 140.2,630.3 140.7,635.6 141.1,638.4 141.6,639.4 142.0,639.7 142.5,639.7 142.9,639.7 143.4,639.7 143.8,639.7 144.3,639.7 144.7,639.7 145.2,639.7 145.6,639.7 146.0,639.7 146.5,639.7 146.9,639.7 147.4,639.7 147.8,639.7 148.3,639.5 148.7,638.5 149.2,635.3 149.6,628.1 150.1,617.8 150.5,609.9 151.0,610.7 151.4,619.4 151.9,629.5 152.3,635.8 152.8,637.6 153.2,635.9 153.7,631.6 154.1,626.9 154.6,625.1 155.0,627.8 155.5,632.7 155.9,636.7 156.4,638.2 156.8,637.4 157.3,634.2 157.7,629.5 158.2,626.1 158.6,626.7 159.1,630.8 159.5,635.3 160.0,637.8 160.4,637.6 160.9,634.4 161.3,628.4 161.8,622.1 162.2,620.1 162.7,624.1 163.1,630.8 163.6,636.0 164.0,638.6" fill="none" stroke="#c9b86e" stroke-width="0.75" stroke-linejoin="round"/>
<polyline points="57.4,639.7 57.9,639.7 58.3,639.7 58.8,639.7 59.2,639.7 59.7,639.7 60.1,639.7 60.6,639.7 61.0,639.7 61.5,639.7 61.9,639.7 62.4,639.7 62.8,639.7 63.3,639.7 63.7,639.7 64.2,639.7 64.6,639.7 65.1,639.7 65.5,639.7 66.0,639.7 66.4,639.7 66.9,639.7 67.3,639.7 67.8,639.7 68.2,639.6 68.7,639.1 69.1,637.2 69.6,632.5 70.0,625.1 70.5,618.5 70.9,617.6 71.4,623.2 71.8,630.9 72.3,636.3 72.7,638.8 73.2,639.5 73.6,639.7 74.1,639.7 74.5,639.7 75.0,639.7 75.4,639.7 75.9,639.7 76.3,639.7 76.8,639.7 77.2,639.7 77.7,639.7 78.1,639.7 78.6,639.7 79.0,639.7 79.5,639.7 79.9,639.7 80.4,639.7 80.8,639.7 81.3,639.7 81.7,639.7 82.2,639.7 82.6,639.7 83.1,639.7 83.5,639.6 84.0,639.1 84.4,637.4 84.9,633.5 85.3,627.6 85.8,622.9 86.2,622.9 86.7,627.7 87.1,633.6 87.6,637.5 88.0,639.1 88.5,639.6 88.9,639.7 89.4,639.7 89.8,639.7 90.3,639.7 90.7,639.7 91.2,639.7 91.6,639.7 92.1,639.7 92.5,639.7 93.0,639.7 93.4,639.7 93.9,639.7 94.3,639.7 94.8,639.7 95.2,639.7 95.7,639.7 96.1,639.7 96.6,639.7 97.0,639.7 97.5,639.7 97.9,639.7 98.4,639.7 98.8,639.6 99.3,639.0 99.7,637.3 100.2,633.5 100.6,628.2 101.1,624.4 101.5,625.1 102.0,629.8 102.4,634.8 102.9,638.0 103.3,639.3 103.8,639.6 104.2,639.7 104.7,639.7 105.1,639.7 105.6,639.7 106.0,639.7 106.5,639.7 106.9,639.7 107.4,639.7 107.8,639.7 108.3,639.7 108.7,639.7 109.2,639.7 109.6,639.7 110.1,639.6 110.5,639.4 111.0,638.3 111.4,635.7 111.9,631.2 112.3,626.8 112.8,625.6 113.2,628.7 113.7,633.6 114.1,637.2 114.6,639.0 115.0,639.6 115.5,639.7 115.9,639.7 116.4,639.7 116.8,639.7 117.3,639.7 117.7,639.7 118.2,639.7 118.6,639.7 119.1,639.7 119.5,639.7 120.0,639.7 120.4,639.7 120.9,639.7 121.3,639.7 121.8,639.4 122.2,638.3 122.7,634.8 123.1,627.9 123.6,619.3 124.0,614.3 124.5,617.1 124.9,625.2 125.4,633.0 125.8,637.0 126.3,637.2 126.7,634.0 127.2,628.4 127.6,623.3 128.1,622.6 128.5,626.9 129.0,632.9 129.4,637.1 129.9,639.0 130.3,639.6 130.8,639.7 131.2,639.7 131.7,639.7 132.1,639.7 132.6,639.7 133.0,639.5 133.5,638.7 133.9,635.8 134.4,629.0 134.8,618.5 135.3,609.6 135.7,609.0 136.2,617.3 136.6,628.0 137.1,635.3 137.5,638.5 138.0,639.5 138.4,639.7 138.9,639.7 139.3,639.7 139.8,639.7 140.2,639.7 140.7,639.7 141.1,639.7 141.6,639.7 142.0,639.7 142.5,639.7 142.9,639.7 143.4,639.7 143.8,639.7 144.3,639.7 144.7,639.7 145.2,639.7 145.6,639.7 146.0,639.7 146.5,639.7 146.9,639.7 147.4,639.7 147.8,639.7 148.3,639.7 148.7,639.7 149.2,639.7 149.6,639.7 150.1,639.7 150.5,639.7 151.0,639.7 151.4,639.7 151.9,639.7 152.3,639.7 152.8,639.7 153.2,639.7 153.7,639.7 154.1,639.7 154.6,639.7 155.0,639.7 155.5,639.7 155.9,639.7 156.4,639.7 156.8,639.7 157.3,639.7 157.7,639.7 158.2,639.7 158.6,639.7 159.1,639.7 159.5,639.7 160.0,639.7 160.4,639.7 160.9,639.7 161.3,639.7 161.8,639.7 162.2,639.7 162.7,639.7 163.1,639.7 163.6,639.7 164.0,639.7" fill="none" stroke="#d9505f" stroke-width="0.75" stroke-linejoin="round"/>
<polyline points="57.4,639.7 57.9,639.7 58.3,639.7 58.8,639.7 59.2,639.7 59.7,639.7 60.1,639.7 60.6,639.7 61.0,639.7 61.5,639.7 61.9,639.7 62.4,639.7 62.8,639.7 63.3,639.7 63.7,639.7 64.2,639.7 64.6,639.7 65.1,639.7 65.5,639.7 66.0,639.7 66.4,639.7 66.9,639.7 67.3,639.7 67.8,639.7 68.2,639.7 68.7,639.7 69.1,639.7 69.6,639.7 70.0,639.7 70.5,639.7 70.9,639.7 71.4,639.7 71.8,639.7 72.3,639.7 72.7,639.7 73.2,639.7 73.6,639.7 74.1,639.7 74.5,639.7 75.0,639.7 75.4,639.7 75.9,639.7 76.3,639.7 76.8,639.7 77.2,639.7 77.7,639.7 78.1,639.7 78.6,639.7 79.0,639.7 79.5,639.7 79.9,639.5 80.4,638.7 80.8,636.4 81.3,632.0 81.7,626.8 82.2,624.4 82.6,626.7 83.1,631.7 83.5,636.2 84.0,638.6 84.4,639.5 84.9,639.7 85.3,639.7 85.8,639.7 86.2,639.7 86.7,639.7 87.1,639.7 87.6,639.7 88.0,639.7 88.5,639.7 88.9,639.7 89.4,639.7 89.8,639.7 90.3,639.7 90.7,639.7 91.2,639.7 91.6,639.7 92.1,639.7 92.5,639.7 93.0,639.7 93.4,639.7 93.9,639.7 94.3,639.7 94.8,639.6 95.2,639.4 95.7,638.2 96.1,635.2 96.6,629.8 97.0,623.9 97.5,621.7 97.9,625.0 98.4,631.1 98.8,636.1 99.3,638.6 99.7,639.5 100.2,639.7 100.6,639.7 101.1,639.7 101.5,639.7 102.0,639.7 102.4,639.7 102.9,639.7 103.3,639.7 103.8,639.7 104.2,639.7 104.7,639.7 105.1,639.7 105.6,639.7 106.0,639.7 106.5,639.6 106.9,639.2 107.4,637.8 107.8,634.8 108.3,630.8 108.7,628.2 109.2,628.9 109.6,632.5 110.1,636.3 110.5,638.5 111.0,639.4 111.4,639.6 111.9,639.7 112.3,639.7 112.8,639.7 113.2,639.7 113.7,639.7 114.1,639.7 114.6,639.7 115.0,639.7 115.5,639.7 115.9,639.7 116.4,639.7 116.8,639.7 117.3,639.7 117.7,639.7 118.2,639.7 118.6,639.7 119.1,639.7 119.5,639.7 120.0,639.7 120.4,639.7 120.9,639.7 121.3,639.7 121.8,639.7 122.2,639.7 122.7,639.7 123.1,639.7 123.6,639.7 124.0,639.7 124.5,639.7 124.9,639.7 125.4,639.7 125.8,639.7 126.3,639.7 126.7,639.7 127.2,639.7 127.6,639.7 128.1,639.7 128.5,639.7 129.0,639.7 129.4,639.7 129.9,639.7 130.3,639.7 130.8,639.7 131.2,639.7 131.7,639.7 132.1,639.7 132.6,639.7 133.0,639.7 133.5,639.7 133.9,639.7 134.4,639.7 134.8,639.7 135.3,639.7 135.7,639.7 136.2,639.7 136.6,639.7 137.1,639.7 137.5,639.7 138.0,639.7 138.4,639.7 138.9,639.7 139.3,639.7 139.8,639.7 140.2,639.7 140.7,639.6 141.1,639.1 141.6,637.4 142.0,633.5 142.5,627.6 142.9,622.9 143.4,622.9 143.8,627.7 144.3,633.6 144.7,637.5 145.2,639.1 145.6,639.6 146.0,639.7 146.5,639.7 146.9,639.7 147.4,639.7 147.8,639.7 148.3,639.7 148.7,639.7 149.2,639.7 149.6,639.7 150.1,639.7 150.5,639.7 151.0,639.7 151.4,639.7 151.9,639.7 152.3,639.7 152.8,639.7 153.2,639.7 153.7,639.7 154.1,639.7 154.6,639.7 155.0,639.7 155.5,639.7 155.9,639.7 156.4,639.7 156.8,639.7 157.3,639.7 157.7,639.7 158.2,639.7 158.6,639.7 159.1,639.7 159.5,639.7 160.0,639.7 160.4,639.7 160.9,639.7 161.3,639.7 161.8,639.7 162.2,639.7 162.7,639.7 163.1,639.7 163.6,639.7 164.0,639.7" fill="none" stroke="#5a60c6" stroke-width="0.75" stroke-linejoin="round"/>
<polyline points="57.4,639.7 57.9,639.7 58.3,639.7 58.8,639.7 59.2,639.7 59.7,639.7 60.1,639.7 60.6,639.7 61.0,639.7 61.5,639.7 61.9,639.7 62.4,639.7 62.8,639.7 63.3,639.7 63.7,639.7 64.2,639.7 64.6,639.7 65.1,639.7 65.5,639.7 66.0,639.7 66.4,639.7 66.9,639.7 67.3,639.7 67.8,639.7 68.2,639.7 68.7,639.7 69.1,639.7 69.6,639.7 70.0,639.7 70.5,639.7 70.9,639.7 71.4,639.7 71.8,639.7 72.3,639.7 72.7,639.7 73.2,639.7 73.6,639.7 74.1,639.7 74.5,639.7 75.0,639.7 75.4,639.7 75.9,639.6 76.3,639.3 76.8,638.2 77.2,635.6 77.7,631.6 78.1,628.2 78.6,628.0 79.0,631.1 79.5,635.2 79.9,638.0 80.4,639.2 80.8,639.6 81.3,639.7 81.7,639.7 82.2,639.7 82.6,639.7 83.1,639.7 83.5,639.7 84.0,639.7 84.4,639.7 84.9,639.7 85.3,639.7 85.8,639.7 86.2,639.7 86.7,639.7 87.1,639.7 87.6,639.7 88.0,639.7 88.5,639.7 88.9,639.7 89.4,639.7 89.8,639.7 90.3,639.7 90.7,639.7 91.2,639.6 91.6,639.3 92.1,638.3 92.5,636.0 93.0,632.7 93.4,630.2 93.9,630.4 94.3,633.2 94.8,636.5 95.2,638.5 95.7,639.4 96.1,639.6 96.6,639.7 97.0,639.7 97.5,639.7 97.9,639.7 98.4,639.7 98.8,639.7 99.3,639.7 99.7,639.7 100.2,639.7 100.6,639.7 101.1,639.7 101.5,639.7 102.0,639.7 102.4,639.7 102.9,639.7 103.3,639.7 103.8,639.7 104.2,639.7 104.7,639.7 105.1,639.7 105.6,639.7 106.0,639.7 106.5,639.7 106.9,639.7 107.4,639.7 107.8,639.7 108.3,639.7 108.7,639.7 109.2,639.7 109.6,639.7 110.1,639.7 110.5,639.7 111.0,639.7 111.4,639.7 111.9,639.7 112.3,639.7 112.8,639.7 113.2,639.7 113.7,639.7 114.1,639.7 114.6,639.7 115.0,639.7 115.5,639.7 115.9,639.7 116.4,639.7 116.8,639.7 117.3,639.7 117.7,639.7 118.2,639.7 118.6,639.7 119.1,639.7 119.5,639.7 120.0,639.7 120.4,639.7 120.9,639.7 121.3,639.7 121.8,639.7 122.2,639.7 122.7,639.7 123.1,639.7 123.6,639.7 124.0,639.7 124.5,639.7 124.9,639.7 125.4,639.7 125.8,639.7 126.3,639.7 126.7,639.7 127.2,639.7 127.6,639.7 128.1,639.7 128.5,639.7 129.0,639.7 129.4,639.7 129.9,639.7 130.3,639.7 130.8,639.7 131.2,639.7 131.7,639.7 132.1,639.7 132.6,639.7 133.0,639.7 133.5,639.7 133.9,639.7 134.4,639.7 134.8,639.7 135.3,639.7 135.7,639.7 136.2,639.7 136.6,639.7 137.1,639.7 137.5,639.7 138.0,639.7 138.4,639.7 138.9,639.7 139.3,639.7 139.8,639.7 140.2,639.7 140.7,639.7 141.1,639.7 141.6,639.7 142.0,639.7 142.5,639.7 142.9,639.7 143.4,639.7 143.8,639.7 144.3,639.6 144.7,639.2 145.2,637.7 145.6,633.3 146.0,625.3 146.5,616.2 146.9,612.4 147.4,616.9 147.8,626.1 148.3,633.9 148.7,637.9 149.2,639.3 149.6,639.6 150.1,639.7 150.5,639.7 151.0,639.7 151.4,639.7 151.9,639.7 152.3,639.7 152.8,639.7 153.2,639.7 153.7,639.7 154.1,639.7 154.6,639.7 155.0,639.7 155.5,639.7 155.9,639.7 156.4,639.7 156.8,639.7 157.3,639.7 157.7,639.7 158.2,639.7 158.6,639.7 159.1,639.7 159.5,639.7 160.0,639.7 160.4,639.7 160.9,639.7 161.3,639.7 161.8,639.7 162.2,639.7 162.7,639.7 163.1,639.7 163.6,639.7 164.0,639.7" fill="none" stroke="#3fc47c" stroke-width="0.75" stroke-linejoin="round"/>
<line x1="57.40" y1="639.90" x2="164.07" y2="639.90" stroke="#5ccf8e" stroke-width="0.8"/>
<polyline points="217.4,639.1 217.9,637.6 218.3,634.6 218.8,630.6 219.2,628.1 219.7,629.1 220.1,632.8 220.6,636.5 221.0,638.6 221.5,639.4 221.9,639.7 222.4,639.7 222.8,639.7 223.3,639.7 223.7,639.7 224.2,639.7 224.6,639.7 225.1,639.7 225.5,639.7 226.0,639.7 226.4,639.7 226.9,639.7 227.3,639.7 227.8,639.7 228.2,639.6 228.7,639.3 229.1,638.2 229.6,635.5 230.0,631.2 230.5,627.4 230.9,626.9 231.4,630.1 231.8,634.6 232.3,637.7 232.7,639.2 233.2,639.6 233.6,639.7 234.1,639.7 234.5,639.7 235.0,639.7 235.4,639.7 235.9,639.7 236.3,639.7 236.8,639.7 237.2,639.7 237.7,639.7 238.1,639.7 238.6,639.7 239.0,639.7 239.5,639.7 239.9,639.7 240.4,639.7 240.8,639.7 241.3,639.7 241.7,639.7 242.2,639.7 242.6,639.7 243.1,639.7 243.5,639.7 244.0,639.7 244.4,639.7 244.9,639.7 245.3,639.7 245.8,639.7 246.2,639.7 246.7,639.7 247.1,639.7 247.6,639.7 248.0,639.7 248.5,639.7 248.9,639.7 249.4,639.7 249.8,639.7 250.3,639.7 250.7,639.7 251.2,639.7 251.6,639.7 252.1,639.7 252.5,639.7 253.0,639.7 253.4,639.7 253.9,639.7 254.3,639.7 254.8,639.7 255.2,639.7 255.7,639.7 256.1,639.7 256.6,639.7 257.0,639.7 257.5,639.7 257.9,639.7 258.4,639.7 258.8,639.7 259.3,639.7 259.7,639.7 260.2,639.7 260.6,639.7 261.1,639.7 261.5,639.7 262.0,639.7 262.4,639.7 262.9,639.7 263.3,639.7 263.8,639.7 264.2,639.7 264.7,639.7 265.1,639.7 265.6,639.7 266.0,639.7 266.5,639.7 266.9,639.7 267.4,639.7 267.8,639.7 268.3,639.7 268.7,639.7 269.2,639.7 269.6,639.7 270.1,639.7 270.5,639.7 271.0,639.7 271.4,639.7 271.9,639.7 272.3,639.7 272.8,639.7 273.2,639.7 273.7,639.7 274.1,639.7 274.6,639.7 275.0,639.7 275.5,639.7 275.9,639.7 276.4,639.7 276.8,639.7 277.3,639.7 277.7,639.7 278.2,639.7 278.6,639.7 279.1,639.7 279.5,639.7 280.0,639.7 280.4,639.7 280.9,639.7 281.3,639.7 281.8,639.7 282.2,639.7 282.7,639.7 283.1,639.7 283.6,639.7 284.0,639.7 284.5,639.7 284.9,639.7 285.4,639.6 285.8,639.1 286.3,637.2 286.7,632.5 287.2,625.1 287.6,618.5 288.1,617.6 288.5,623.2 289.0,630.9 289.4,636.3 289.9,638.8 290.3,639.5 290.8,639.7 291.2,639.7 291.7,639.7 292.1,639.7 292.6,639.7 293.0,639.7 293.5,639.7 293.9,639.7 294.4,639.7 294.8,639.7 295.3,639.7 295.7,639.7 296.2,639.7 296.6,639.7 297.1,639.7 297.5,639.7 298.0,639.7 298.4,639.7 298.9,639.7 299.3,639.7 299.8,639.7 300.2,639.7 300.7,639.7 301.1,639.7 301.6,639.7 302.0,639.7 302.5,639.7 302.9,639.7 303.4,639.7 303.8,639.7 304.3,639.7 304.7,639.7 305.2,639.7 305.6,639.7 306.1,639.7 306.5,639.7 307.0,639.7 307.4,639.7 307.9,639.7 308.3,639.7 308.8,639.7 309.2,639.7 309.7,639.7 310.1,639.7 310.6,639.7 311.0,639.7 311.5,639.7 311.9,639.7 312.4,639.7 312.8,639.7 313.3,639.7 313.7,639.7 314.2,639.7 314.6,639.7 315.1,639.7 315.5,639.7 316.0,639.6 316.4,639.0 316.9,637.2 317.3,633.3 317.8,627.8 318.2,623.9 318.7,624.7 319.1,629.4 319.6,634.6 320.0,637.5 320.5,637.5 320.9,634.4 321.4,628.4 321.8,622.1 322.3,620.1 322.7,624.1 323.2,630.8 323.6,636.0 324.1,638.6 324.5,639.5 325.0,639.7 325.4,639.7 325.9,639.7 326.3,639.7 326.8,639.7 327.2,639.7 327.7,639.7 328.1,639.7 328.6,639.7 329.0,639.7 329.5,639.7 329.9,639.7 330.4,639.7 330.8,639.7 331.3,639.7 331.7,639.7 332.2,639.7 332.6,639.7 333.1,639.7 333.5,639.7 334.0,639.7 334.4,639.7 334.9,639.7 335.3,639.7 335.8,639.7 336.2,639.7 336.7,639.7 337.1,639.7 337.6,639.7 338.0,639.7 338.5,639.7 338.9,639.6 339.4,639.1 339.8,637.8 340.3,635.2 340.7,631.9 341.2,629.9 341.6,631.0 342.1,634.1 342.5,637.2 343.0,638.9" fill="none" stroke="#c9b86e" stroke-width="0.75" stroke-linejoin="round"/>
<polyline points="217.4,639.7 217.9,639.7 218.3,639.7 218.8,639.7 219.2,639.7 219.7,639.7 220.1,639.7 220.6,639.7 221.0,639.7 221.5,639.7 221.9,639.7 222.4,639.7 222.8,639.7 223.3,639.7 223.7,639.7 224.2,639.7 224.6,639.5 225.1,639.0 225.5,637.2 226.0,633.7 226.4,629.2 226.9,626.7 227.3,628.1 227.8,632.3 228.2,636.3 228.7,638.6 229.1,639.4 229.6,639.7 230.0,639.7 230.5,639.7 230.9,639.7 231.4,639.7 231.8,639.7 232.3,639.7 232.7,639.7 233.2,639.7 233.6,639.7 234.1,639.7 234.5,639.7 235.0,639.7 235.4,639.7 235.9,639.7 236.3,639.7 236.8,639.7 237.2,639.7 237.7,639.7 238.1,639.7 238.6,639.7 239.0,639.7 239.5,639.7 239.9,639.7 240.4,639.7 240.8,639.7 241.3,639.7 241.7,639.7 242.2,639.7 242.6,639.7 243.1,639.7 243.5,639.7 244.0,639.7 244.4,639.7 244.9,639.7 245.3,639.7 245.8,639.7 246.2,639.7 246.7,639.7 247.1,639.7 247.6,639.7 248.0,639.7 248.5,639.7 248.9,639.7 249.4,639.7 249.8,639.7 250.3,639.7 250.7,639.7 251.2,639.7 251.6,639.7 252.1,639.7 252.5,639.7 253.0,639.7 253.4,639.7 253.9,639.7 254.3,639.7 254.8,639.7 255.2,639.7 255.7,639.7 256.1,639.7 256.6,639.7 257.0,639.7 257.5,639.7 257.9,639.7 258.4,639.7 258.8,639.7 259.3,639.7 259.7,639.7 260.2,639.7 260.6,639.7 261.1,639.7 261.5,639.7 262.0,639.7 262.4,639.7 262.9,639.7 263.3,639.7 263.8,639.7 264.2,639.7 264.7,639.7 265.1,639.7 265.6,639.7 266.0,639.7 266.5,639.6 266.9,639.0 267.4,637.2 267.8,633.3 268.3,628.1 268.7,624.6 269.2,625.6 269.6,630.3 270.1,635.1 270.5,637.8 271.0,638.0 271.4,635.6 271.9,631.2 272.3,626.8 272.8,625.6 273.2,628.7 273.7,633.5 274.1,637.1 274.6,638.2 275.0,637.0 275.5,633.3 275.9,628.3 276.4,625.2 276.8,626.5 277.3,631.1 277.7,635.7 278.2,638.3 278.6,639.4 279.1,639.6 279.5,639.7 280.0,639.7 280.4,639.7 280.9,639.7 281.3,639.7 281.8,639.7 282.2,639.7 282.7,639.7 283.1,639.7 283.6,639.7 284.0,639.7 284.5,639.7 284.9,639.7 285.4,639.7 285.8,639.7 286.3,639.7 286.7,639.7 287.2,639.7 287.6,639.7 288.1,639.7 288.5,639.7 289.0,639.7 289.4,639.7 289.9,639.7 290.3,639.7 290.8,639.7 291.2,639.7 291.7,639.7 292.1,639.7 292.6,639.7 293.0,639.7 293.5,639.7 293.9,639.7 294.4,639.7 294.8,639.7 295.3,639.7 295.7,639.7 296.2,639.7 296.6,639.7 297.1,639.5 297.5,638.8 298.0,636.7 298.4,632.7 298.9,628.0 299.3,625.8 299.8,627.8 300.2,632.5 300.7,636.5 301.1,638.7 301.6,639.5 302.0,639.7 302.5,639.7 302.9,639.7 303.4,639.7 303.8,639.7 304.3,639.7 304.7,639.4 305.2,638.5 305.6,635.8 306.1,630.8 306.5,625.3 307.0,622.9 307.4,625.7 307.9,631.3 308.3,636.1 308.8,638.6 309.2,639.5 309.7,639.7 310.1,639.7 310.6,639.7 311.0,639.7 311.5,639.7 311.9,639.7 312.4,639.5 312.8,638.6 313.3,636.4 313.7,632.5 314.2,628.2 314.6,626.6 315.1,629.0 315.5,633.5 316.0,637.1 316.4,638.9 316.9,639.5 317.3,639.7 317.8,639.7 318.2,639.7 318.7,639.7 319.1,639.7 319.6,639.7 320.0,639.7 320.5,639.7 320.9,639.7 321.4,639.7 321.8,639.7 322.3,639.7 322.7,639.7 323.2,639.7 323.6,639.5 324.1,638.7 324.5,636.1 325.0,630.5 325.4,623.1 325.9,618.1 326.3,619.6 326.8,626.2 327.2,633.3 327.7,637.5 328.1,639.2 328.6,639.6 329.0,639.7 329.5,639.7 329.9,639.7 330.4,639.7 330.8,639.7 331.3,639.7 331.7,639.7 332.2,639.7 332.6,639.7 333.1,639.7 333.5,639.7 334.0,639.7 334.4,639.7 334.9,639.6 335.3,639.3 335.8,638.1 336.2,635.0 336.7,630.0 337.1,625.3 337.6,624.3 338.0,628.0 338.5,633.3 338.9,637.2 339.4,639.0 339.8,639.6 340.3,639.7 340.7,639.7 341.2,639.7 341.6,639.7 342.1,639.7 342.5,639.7 343.0,639.7" fill="none" stroke="#d9505f" stroke-width="0.75" stroke-linejoin="round"/>
<polyline points="217.4,639.7 217.9,639.7 218.3,639.7 218.8,639.7 219.2,639.7 219.7,639.7 220.1,639.7 220.6,639.6 221.0,639.2 221.5,637.6 221.9,633.7 222.4,627.3 222.8,621.2 223.3,620.0 223.7,624.7 224.2,631.5 224.6,636.5 225.1,638.8 225.5,639.5 226.0,639.7 226.4,639.7 226.9,639.7 227.3,639.7 227.8,639.7 228.2,639.7 228.7,639.7 229.1,639.7 229.6,639.7 230.0,639.7 230.5,639.7 230.9,639.7 231.4,639.7 231.8,639.7 232.3,639.6 232.7,639.2 233.2,637.9 233.6,635.4 234.1,632.5 234.5,630.9 235.0,632.0 235.4,634.9 235.9,637.6 236.3,639.0 236.8,639.5 237.2,639.7 237.7,639.7 238.1,639.7 238.6,639.7 239.0,639.7 239.5,639.7 239.9,639.5 240.4,638.8 240.8,636.8 241.3,633.1 241.7,628.7 242.2,626.6 242.6,628.5 243.1,632.9 243.5,636.7 244.0,638.8 244.4,639.5 244.9,639.7 245.3,639.7 245.8,639.7 246.2,639.7 246.7,639.7 247.1,639.7 247.6,639.5 248.0,638.7 248.5,636.6 248.9,632.8 249.4,628.4 249.8,626.6 250.3,628.8 250.7,633.1 251.2,636.7 251.6,638.0 252.1,636.4 252.5,631.6 253.0,624.3 253.4,618.8 253.9,619.4 254.3,625.5 254.8,632.6 255.2,637.1 255.7,639.0 256.1,639.6 256.6,639.7 257.0,639.7 257.5,639.7 257.9,639.7 258.4,639.7 258.8,639.6 259.3,639.0 259.7,637.4 260.2,633.6 260.6,628.4 261.1,624.7 261.5,625.4 262.0,629.9 262.4,634.8 262.9,637.5 263.3,637.1 263.8,633.0 264.2,625.4 264.7,617.5 265.1,615.0 265.6,620.0 266.0,628.4 266.5,635.1 266.9,638.3 267.4,639.4 267.8,639.7 268.3,639.7 268.7,639.7 269.2,639.7 269.6,639.7 270.1,639.7 270.5,639.7 271.0,639.7 271.4,639.7 271.9,639.7 272.3,639.7 272.8,639.7 273.2,639.7 273.7,639.7 274.1,639.7 274.6,639.7 275.0,639.7 275.5,639.7 275.9,639.7 276.4,639.7 276.8,639.7 277.3,639.7 277.7,639.6 278.2,639.2 278.6,637.7 279.1,633.9 279.5,627.6 280.0,621.8 280.4,620.6 280.9,625.1 281.3,631.7 281.8,636.3 282.2,637.7 282.7,635.7 283.1,630.4 283.6,623.7 284.0,619.8 284.5,621.9 284.9,628.3 285.4,634.5 285.8,638.0 286.3,639.3 286.7,639.6 287.2,639.7 287.6,639.7 288.1,639.7 288.5,639.7 289.0,639.7 289.4,639.6 289.9,639.1 290.3,637.6 290.8,634.8 291.2,631.3 291.7,629.5 292.1,630.8 292.6,634.1 293.0,637.1 293.5,638.3 293.9,637.0 294.4,632.8 294.8,626.1 295.3,620.3 295.7,620.0 296.2,625.3 296.6,632.2 297.1,636.9 297.5,638.9 298.0,639.6 298.4,639.7 298.9,639.7 299.3,639.7 299.8,639.7 300.2,639.7 300.7,639.7 301.1,639.7 301.6,639.7 302.0,639.7 302.5,639.7 302.9,639.7 303.4,639.7 303.8,639.7 304.3,639.7 304.7,639.7 305.2,639.7 305.6,639.7 306.1,639.7 306.5,639.7 307.0,639.7 307.4,639.7 307.9,639.7 308.3,639.5 308.8,638.7 309.2,635.9 309.7,629.6 310.1,620.6 310.6,613.8 311.0,614.4 311.5,622.1 311.9,630.9 312.4,636.5 312.8,638.9 313.3,639.5 313.7,639.7 314.2,639.7 314.6,639.7 315.1,639.7 315.5,639.7 316.0,639.7 316.4,639.7 316.9,639.7 317.3,639.7 317.8,639.7 318.2,639.7 318.7,639.7 319.1,639.7 319.6,639.7 320.0,639.7 320.5,639.7 320.9,639.7 321.4,639.7 321.8,639.7 322.3,639.7 322.7,639.7 323.2,639.7 323.6,639.7 324.1,639.7 324.5,639.7 325.0,639.7 325.4,639.7 325.9,639.7 326.3,639.7 326.8,639.7 327.2,639.6 327.7,639.2 328.1,637.8 328.6,634.2 329.0,628.1 329.5,622.1 329.9,620.5 330.4,624.7 330.8,631.3 331.3,636.1 331.7,637.4 332.2,634.9 332.6,628.3 333.1,619.6 333.5,614.1 334.0,616.4 334.4,624.5 334.9,632.6 335.3,637.3 335.8,639.1 336.2,639.6 336.7,639.7 337.1,639.7 337.6,639.7 338.0,639.7 338.5,639.7 338.9,639.7 339.4,639.7 339.8,639.7 340.3,639.7 340.7,639.7 341.2,639.7 341.6,639.7 342.1,639.7 342.5,639.7 343.0,639.7" fill="none" stroke="#5a60c6" stroke-width="0.75" stroke-linejoin="round"/>
<polyline points="217.4,639.7 217.9,639.7 218.3,639.7 218.8,639.7 219.2,639.7 219.7,639.7 220.1,639.7 220.6,639.7 221.0,639.7 221.5,639.7 221.9,639.7 222.4,639.7 222.8,639.7 223.3,639.7 223.7,639.7 224.2,639.7 224.6,639.7 225.1,639.7 225.5,639.7 226.0,639.7 226.4,639.7 226.9,639.7 227.3,639.7 227.8,639.7 228.2,639.7 228.7,639.7 229.1,639.7 229.6,639.7 230.0,639.7 230.5,639.7 230.9,639.7 231.4,639.7 231.8,639.7 232.3,639.7 232.7,639.7 233.2,639.7 233.6,639.7 234.1,639.7 234.5,639.7 235.0,639.7 235.4,639.7 235.9,639.5 236.3,638.9 236.8,636.4 237.2,630.7 237.7,621.9 238.1,614.3 238.6,613.9 239.0,620.8 239.5,629.8 239.9,636.0 240.4,638.7 240.8,639.5 241.3,639.7 241.7,639.7 242.2,639.7 242.6,639.7 243.1,639.7 243.5,639.5 244.0,638.7 244.4,635.8 244.9,629.0 245.3,619.0 245.8,611.0 246.2,611.1 246.7,619.3 247.1,629.2 247.6,635.9 248.0,638.7 248.5,639.5 248.9,639.7 249.4,639.7 249.8,639.7 250.3,639.7 250.7,639.7 251.2,639.7 251.6,639.7 252.1,639.7 252.5,639.7 253.0,639.7 253.4,639.7 253.9,639.7 254.3,639.7 254.8,639.6 255.2,639.2 255.7,637.5 256.1,633.0 256.6,625.0 257.0,616.3 257.5,613.1 257.9,618.0 258.4,627.0 258.8,634.4 259.3,638.1 259.7,639.4 260.2,639.6 260.6,639.7 261.1,639.7 261.5,639.7 262.0,639.7 262.4,639.7 262.9,639.7 263.3,639.7 263.8,639.7 264.2,639.7 264.7,639.7 265.1,639.7 265.6,639.7 266.0,639.7 266.5,639.7 266.9,639.7 267.4,639.7 267.8,639.7 268.3,639.7 268.7,639.7 269.2,639.7 269.6,639.7 270.1,639.7 270.5,639.7 271.0,639.7 271.4,639.7 271.9,639.7 272.3,639.7 272.8,639.7 273.2,639.7 273.7,639.7 274.1,639.7 274.6,639.7 275.0,639.7 275.5,639.7 275.9,639.7 276.4,639.7 276.8,639.7 277.3,639.7 277.7,639.7 278.2,639.7 278.6,639.7 279.1,639.7 279.5,639.7 280.0,639.7 280.4,639.7 280.9,639.7 281.3,639.7 281.8,639.7 282.2,639.7 282.7,639.7 283.1,639.7 283.6,639.7 284.0,639.7 284.5,639.7 284.9,639.7 285.4,639.7 285.8,639.7 286.3,639.7 286.7,639.7 287.2,639.7 287.6,639.7 288.1,639.7 288.5,639.7 289.0,639.7 289.4,639.7 289.9,639.7 290.3,639.7 290.8,639.7 291.2,639.7 291.7,639.7 292.1,639.7 292.6,639.7 293.0,639.7 293.5,639.7 293.9,639.7 294.4,639.7 294.8,639.7 295.3,639.7 295.7,639.7 296.2,639.7 296.6,639.7 297.1,639.7 297.5,639.7 298.0,639.7 298.4,639.7 298.9,639.7 299.3,639.7 299.8,639.7 300.2,639.7 300.7,639.5 301.1,638.7 301.6,635.9 302.0,629.5 302.5,620.0 302.9,612.3 303.4,612.4 303.8,620.2 304.3,629.7 304.7,636.0 305.2,638.7 305.6,639.5 306.1,639.7 306.5,639.7 307.0,639.7 307.4,639.7 307.9,639.7 308.3,639.7 308.8,639.7 309.2,639.7 309.7,639.7 310.1,639.7 310.6,639.7 311.0,639.7 311.5,639.7 311.9,639.7 312.4,639.7 312.8,639.7 313.3,639.7 313.7,639.7 314.2,639.7 314.6,639.7 315.1,639.7 315.5,639.7 316.0,639.7 316.4,639.7 316.9,639.7 317.3,639.7 317.8,639.7 318.2,639.7 318.7,639.7 319.1,639.7 319.6,639.7 320.0,639.7 320.5,639.7 320.9,639.7 321.4,639.7 321.8,639.7 322.3,639.7 322.7,639.7 323.2,639.7 323.6,639.7 324.1,639.7 324.5,639.7 325.0,639.7 325.4,639.7 325.9,639.7 326.3,639.7 326.8,639.7 327.2,639.7 327.7,639.7 328.1,639.7 328.6,639.7 329.0,639.7 329.5,639.7 329.9,639.7 330.4,639.7 330.8,639.7 331.3,639.7 331.7,639.7 332.2,639.7 332.6,639.7 333.1,639.7 333.5,639.7 334.0,639.7 334.4,639.7 334.9,639.7 335.3,639.7 335.8,639.7 336.2,639.7 336.7,639.7 337.1,639.7 337.6,639.7 338.0,639.7 338.5,639.7 338.9,639.7 339.4,639.7 339.8,639.7 340.3,639.7 340.7,639.7 341.2,639.7 341.6,639.7 342.1,639.7 342.5,639.7 343.0,639.7" fill="none" stroke="#3fc47c" stroke-width="0.75" stroke-linejoin="round"/>
<line x1="217.42" y1="639.90" x2="343.14" y2="639.90" stroke="#5ccf8e" stroke-width="0.8"/>
<text x="59.30" y="644.60" font-size="4.6" font-weight="bold" fill="#222" text-anchor="middle">G</text>
<text x="63.11" y="644.60" font-size="4.6" font-weight="bold" fill="#222" text-anchor="middle">G</text>
<text x="66.92" y="644.60" font-size="4.6" font-weight="bold" fill="#222" text-anchor="middle">G</text>
<text x="70.73" y="644.60" font-size="4.6" font-weight="bold" fill="#222" text-anchor="middle">A</text>
<text x="74.54" y="644.60" font-size="4.6" font-weight="bold" fill="#222" text-anchor="middle">G</text>
<text x="78.35" y="644.60" font-size="4.6" font-weight="bold" fill="#222" text-anchor="middle">T</text>
<text x="82.16" y="644.60" font-size="4.6" font-weight="bold" fill="#222" text-anchor="middle">C</text>
<text x="85.97" y="644.60" font-size="4.6" font-weight="bold" fill="#222" text-anchor="middle">A</text>
<text x="89.78" y="644.60" font-size="4.6" font-weight="bold" fill="#222" text-anchor="middle">G</text>
<text x="93.59" y="644.60" font-size="4.6" font-weight="bold" fill="#222" text-anchor="middle">T</text>
<text x="97.40" y="644.60" font-size="4.6" font-weight="bold" fill="#222" text-anchor="middle">C</text>
<text x="101.21" y="644.60" font-size="4.6" font-weight="bold" fill="#222" text-anchor="middle">A</text>
<text x="105.02" y="644.60" font-size="4.6" font-weight="bold" fill="#222" text-anchor="middle">G</text>
<text x="108.83" y="644.60" font-size="4.6" font-weight="bold" fill="#222" text-anchor="middle">C</text>
<text x="112.64" y="644.60" font-size="4.6" font-weight="bold" fill="#222" text-anchor="middle">A</text>
<text x="116.45" y="644.60" font-size="4.6" font-weight="bold" fill="#222" text-anchor="middle">G</text>
<text x="120.26" y="644.60" font-size="4.6" font-weight="bold" fill="#222" text-anchor="middle">G</text>
<text x="124.07" y="644.60" font-size="4.6" font-weight="bold" fill="#222" text-anchor="middle">A</text>
<text x="127.88" y="644.60" font-size="4.6" font-weight="bold" fill="#222" text-anchor="middle">A</text>
<text x="131.69" y="644.60" font-size="4.6" font-weight="bold" fill="#222" text-anchor="middle">G</text>
<text x="135.50" y="644.60" font-size="4.6" font-weight="bold" fill="#222" text-anchor="middle">A</text>
<text x="139.31" y="644.60" font-size="4.6" font-weight="bold" fill="#222" text-anchor="middle">G</text>
<text x="143.12" y="644.60" font-size="4.6" font-weight="bold" fill="#222" text-anchor="middle">C</text>
<text x="146.93" y="644.60" font-size="4.6" font-weight="bold" fill="#222" text-anchor="middle">T</text>
<text x="150.74" y="644.60" font-size="4.6" font-weight="bold" fill="#222" text-anchor="middle">G</text>
<text x="154.55" y="644.60" font-size="4.6" font-weight="bold" fill="#222" text-anchor="middle">G</text>
<text x="158.36" y="644.60" font-size="4.6" font-weight="bold" fill="#222" text-anchor="middle">G</text>
<text x="162.17" y="644.60" font-size="4.6" font-weight="bold" fill="#222" text-anchor="middle">G</text>
<text x="165.98" y="644.60" font-size="4.6" font-weight="bold" fill="#222" text-anchor="middle">-</text>
<text x="169.79" y="644.60" font-size="4.6" font-weight="bold" fill="#222" text-anchor="middle">-</text>
<text x="173.60" y="644.60" font-size="4.6" font-weight="bold" fill="#222" text-anchor="middle">-</text>
<text x="177.41" y="644.60" font-size="4.6" font-weight="bold" fill="#222" text-anchor="middle">-</text>
<text x="181.22" y="644.60" font-size="4.6" font-weight="bold" fill="#222" text-anchor="middle">-</text>
<text x="185.03" y="644.60" font-size="4.6" font-weight="bold" fill="#222" text-anchor="middle">-</text>
<text x="188.84" y="644.60" font-size="4.6" font-weight="bold" fill="#222" text-anchor="middle">-</text>
<text x="192.65" y="644.60" font-size="4.6" font-weight="bold" fill="#222" text-anchor="middle">-</text>
<text x="196.46" y="644.60" font-size="4.6" font-weight="bold" fill="#222" text-anchor="middle">-</text>
<text x="200.27" y="644.60" font-size="4.6" font-weight="bold" fill="#222" text-anchor="middle">-</text>
<text x="204.08" y="644.60" font-size="4.6" font-weight="bold" fill="#222" text-anchor="middle">-</text>
<text x="207.89" y="644.60" font-size="4.6" font-weight="bold" fill="#222" text-anchor="middle">-</text>
<text x="211.70" y="644.60" font-size="4.6" font-weight="bold" fill="#222" text-anchor="middle">-</text>
<text x="215.51" y="644.60" font-size="4.6" font-weight="bold" fill="#222" text-anchor="middle">-</text>
<text x="219.32" y="644.60" font-size="4.6" font-weight="bold" fill="#222" text-anchor="middle">G</text>
<text x="223.13" y="644.60" font-size="4.6" font-weight="bold" fill="#222" text-anchor="middle">C</text>
<text x="226.94" y="644.60" font-size="4.6" font-weight="bold" fill="#222" text-anchor="middle">A</text>
<text x="230.75" y="644.60" font-size="4.6" font-weight="bold" fill="#222" text-anchor="middle">G</text>
<text x="234.56" y="644.60" font-size="4.6" font-weight="bold" fill="#222" text-anchor="middle">C</text>
<text x="238.37" y="644.60" font-size="4.6" font-weight="bold" fill="#222" text-anchor="middle">T</text>
<text x="242.18" y="644.60" font-size="4.6" font-weight="bold" fill="#222" text-anchor="middle">C</text>
<text x="245.99" y="644.60" font-size="4.6" font-weight="bold" fill="#222" text-anchor="middle">T</text>
<text x="249.80" y="644.60" font-size="4.6" font-weight="bold" fill="#222" text-anchor="middle">C</text>
<text x="253.61" y="644.60" font-size="4.6" font-weight="bold" fill="#222" text-anchor="middle">C</text>
<text x="257.42" y="644.60" font-size="4.6" font-weight="bold" fill="#222" text-anchor="middle">T</text>
<text x="261.23" y="644.60" font-size="4.6" font-weight="bold" fill="#222" text-anchor="middle">C</text>
<text x="265.04" y="644.60" font-size="4.6" font-weight="bold" fill="#222" text-anchor="middle">C</text>
<text x="268.85" y="644.60" font-size="4.6" font-weight="bold" fill="#222" text-anchor="middle">A</text>
<text x="272.66" y="644.60" font-size="4.6" font-weight="bold" fill="#222" text-anchor="middle">A</text>
<text x="276.47" y="644.60" font-size="4.6" font-weight="bold" fill="#222" text-anchor="middle">A</text>
<text x="280.28" y="644.60" font-size="4.6" font-weight="bold" fill="#222" text-anchor="middle">C</text>
<text x="284.09" y="644.60" font-size="4.6" font-weight="bold" fill="#222" text-anchor="middle">C</text>
<text x="287.90" y="644.60" font-size="4.6" font-weight="bold" fill="#222" text-anchor="middle">G</text>
<text x="291.71" y="644.60" font-size="4.6" font-weight="bold" fill="#222" text-anchor="middle">C</text>
<text x="295.52" y="644.60" font-size="4.6" font-weight="bold" fill="#222" text-anchor="middle">C</text>
<text x="299.33" y="644.60" font-size="4.6" font-weight="bold" fill="#222" text-anchor="middle">A</text>
<text x="303.14" y="644.60" font-size="4.6" font-weight="bold" fill="#222" text-anchor="middle">T</text>
<text x="306.95" y="644.60" font-size="4.6" font-weight="bold" fill="#222" text-anchor="middle">A</text>
<text x="310.76" y="644.60" font-size="4.6" font-weight="bold" fill="#222" text-anchor="middle">C</text>
<text x="314.57" y="644.60" font-size="4.6" font-weight="bold" fill="#222" text-anchor="middle">A</text>
<text x="318.38" y="644.60" font-size="4.6" font-weight="bold" fill="#222" text-anchor="middle">G</text>
<text x="322.19" y="644.60" font-size="4.6" font-weight="bold" fill="#222" text-anchor="middle">G</text>
<text x="326.00" y="644.60" font-size="4.6" font-weight="bold" fill="#222" text-anchor="middle">A</text>
<text x="329.81" y="644.60" font-size="4.6" font-weight="bold" fill="#222" text-anchor="middle">C</text>
<text x="333.62" y="644.60" font-size="4.6" font-weight="bold" fill="#222" text-anchor="middle">C</text>
<text x="337.43" y="644.60" font-size="4.6" font-weight="bold" fill="#222" text-anchor="middle">A</text>
<text x="341.24" y="644.60" font-size="4.6" font-weight="bold" fill="#222" text-anchor="middle">G</text>
<polyline points="399.4,599.4 399.9,597.1 400.3,592.4 400.8,586.3 401.2,582.4 401.6,584.0 402.1,589.6 402.5,595.2 403.0,598.0 403.4,597.4 403.9,592.9 404.3,585.1 404.8,577.8 405.2,576.3 405.7,582.0 406.1,590.3 406.6,596.4 407.0,599.2 407.5,600.1 407.9,600.3 408.4,600.3 408.8,600.3 409.3,600.3 409.7,600.3 410.2,600.3 410.6,600.3 411.1,600.3 411.5,600.3 412.0,600.3 412.4,600.3 412.9,600.3 413.3,600.3 413.8,600.3 414.2,600.0 414.7,598.9 415.1,595.5 415.6,589.0 416.0,581.1 416.5,576.9 416.9,579.9 417.4,587.5 417.8,594.5 418.3,598.1 418.7,598.5 419.2,596.5 419.6,592.8 420.1,589.7 420.5,589.5 421.0,592.4 421.4,596.2 421.9,598.7 422.3,599.9 422.8,600.2 423.2,600.3 423.7,600.3 424.1,600.3 424.6,600.3 425.0,600.3 425.5,600.3 425.9,600.3 426.4,600.3 426.8,600.3 427.3,600.3 427.7,600.3 428.2,600.3 428.6,600.3 429.1,600.3 429.5,600.1 430.0,599.5 430.4,597.9 430.9,594.9 431.3,591.5 431.8,590.1 432.2,591.8 432.7,595.2 433.1,598.1 433.6,599.6 434.0,600.2 434.5,600.3 434.9,600.3 435.4,600.3 435.8,600.3 436.3,600.3 436.7,600.3 437.2,600.3 437.6,600.3 438.1,600.3 438.5,600.3 439.0,600.3 439.4,600.3 439.9,600.3 440.3,600.3 440.8,600.1 441.2,599.3 441.7,596.8 442.1,591.3 442.6,583.7 443.0,578.2 443.5,579.2 443.9,585.9 444.4,593.2 444.8,597.6 445.3,598.6 445.7,596.9 446.2,593.1 446.6,589.2 447.1,588.0 447.5,590.5 448.0,594.7 448.4,598.0 448.9,599.6 449.3,600.2 449.8,600.3 450.2,600.3 450.7,600.3 451.1,600.3 451.6,600.3 452.0,600.3 452.5,600.3 452.9,600.3 453.4,600.3 453.8,600.3 454.3,600.3 454.7,600.3 455.2,600.3 455.6,600.3 456.1,600.3 456.5,600.3 457.0,600.3 457.4,600.3 457.9,600.3 458.3,600.3 458.8,600.3 459.2,600.3 459.7,600.2 460.1,599.9 460.6,598.8 461.0,595.9 461.5,591.2 461.9,586.8 462.4,585.9 462.8,589.3 463.3,594.3 463.7,597.7 464.2,598.7 464.6,596.9 465.1,592.4 465.5,586.6 466.0,583.3 466.4,585.1 466.9,590.6 467.3,595.9 467.8,598.8 468.2,600.0 468.7,600.2 469.1,600.3 469.6,600.3 470.0,600.3 470.5,600.3 470.9,600.3 471.4,600.3 471.8,600.3 472.3,600.3 472.7,600.3 473.2,600.3 473.6,600.3 474.1,600.3 474.5,600.3 475.0,600.2 475.4,599.9 475.9,598.8 476.3,596.0 476.8,591.8 477.2,588.2 477.7,588.0 478.1,591.3 478.6,595.5 479.0,598.2 479.5,598.2 479.9,595.1 480.4,588.4 480.8,580.6 481.3,576.9 481.7,580.3 482.2,588.1 482.6,595.0 483.1,598.6 483.5,599.9 484.0,600.2 484.4,600.3 484.9,600.3 485.3,600.3 485.8,600.3 486.2,600.3 486.7,600.1 487.1,599.5 487.6,597.7 488.0,594.4 488.5,590.7 488.9,589.1 489.4,591.0 489.8,594.7 490.3,597.9 490.7,599.6 491.2,600.1 491.6,600.3 492.1,600.3 492.5,600.3 493.0,600.3 493.4,600.3 493.9,600.3 494.3,600.3 494.8,600.3 495.2,600.3 495.7,600.3 496.1,600.3 496.6,600.3 497.0,600.3 497.5,600.3 497.9,600.3 498.4,600.3 498.8,600.3 499.3,600.3 499.7,600.3 500.2,600.3 500.6,600.3 501.1,600.3 501.5,600.3 502.0,600.3 502.4,600.3 502.9,600.3 503.3,600.3 503.8,600.3 504.2,600.3 504.7,600.3 505.1,600.3 505.6,600.3 506.0,600.3 506.5,600.3 506.9,600.3 507.4,600.3 507.8,600.3 508.3,600.3 508.7,600.3 509.2,600.3 509.6,600.3 510.1,600.3 510.5,600.3 511.0,600.3 511.4,600.3 511.9,600.3 512.3,600.3 512.8,600.3 513.2,600.0 513.7,599.0 514.1,595.9 514.6,589.4 515.0,581.0 515.5,575.7 515.9,577.9 516.4,585.6 516.8,593.4 517.3,598.0 517.7,599.7 518.2,600.2 518.6,600.3 519.1,600.3 519.5,600.3 520.0,600.3 520.4,600.3 520.9,600.3 521.3,600.3 521.8,600.3 522.2,600.3 522.7,600.3 523.1,600.3 523.6,600.3 524.0,600.3 524.5,600.2 524.9,599.8 525.4,598.2 525.8,594.5 526.3,588.6 526.7,583.2 527.2,582.5 527.6,587.0 528.1,593.2 528.5,597.4 529.0,598.9 529.4,597.9 529.9,595.0 530.3,591.3 530.8,589.4 531.2,590.8 531.7,594.4 532.1,597.6 532.6,599.4 533.0,600.1 533.5,600.3 533.9,600.3 534.4,600.3 534.8,600.3 535.3,600.3 535.7,600.3 536.2,600.0 536.6,599.1 537.1,596.6 537.5,591.6 538.0,585.9 538.4,583.2 538.9,585.7 539.3,591.4 539.8,596.3 540.2,598.6 540.7,598.3 541.2,595.6 541.6,591.2 542.1,587.7 542.5,587.8 543.0,591.3 543.4,595.7 543.9,598.6 544.3,599.9 544.8,600.2 545.2,600.3 545.7,600.3 546.1,600.3 546.6,600.3 547.0,600.3 547.5,600.1 547.9,599.5 548.4,597.3 548.8,592.3 549.3,585.2 549.7,579.7 550.2,580.2 550.6,586.3 551.1,593.3 551.5,597.8 552.0,599.7 552.4,600.2 552.9,600.3 553.3,600.3 553.8,600.3 554.2,600.3 554.7,600.3 555.1,600.3 555.6,600.3 556.0,600.3 556.5,600.3 556.9,600.3 557.4,600.3 557.8,600.3 558.3,600.3 558.7,600.3 559.2,600.3 559.6,600.3 560.1,600.3 560.5,600.3 561.0,600.3 561.4,600.3 561.9,600.3 562.3,600.3 562.8,600.3 563.2,600.3 563.7,600.3 564.1,600.3 564.6,600.3 565.0,600.3 565.5,600.3 565.9,600.3 566.4,600.3 566.8,600.3 567.3,600.3 567.7,600.3 568.2,600.3 568.6,600.3 569.1,600.3 569.5,600.3 570.0,600.3 570.4,600.3 570.9,600.3 571.3,600.3 571.8,600.3 572.2,600.3 572.7,600.3 573.1,600.3 573.6,600.3 574.0,600.3 574.5,600.3 574.9,600.3 575.4,600.3 575.8,600.3 576.3,600.3 576.7,600.3 577.2,600.3 577.6,600.3 578.1,600.3 578.5,600.3 579.0,600.3 579.4,600.3 579.9,600.3 580.3,600.3 580.8,600.3 581.2,600.3 581.7,600.3 582.1,600.3 582.6,600.3 583.0,600.3 583.5,600.3 583.9,600.3 584.4,600.3 584.8,600.3 585.3,600.3 585.7,600.3 586.2,600.3 586.6,600.3 587.1,600.3 587.5,600.3 588.0,600.3 588.4,600.3 588.9,600.3 589.3,600.1 589.8,599.5 590.2,597.2 590.7,591.6 591.1,583.1 591.6,575.8 592.0,575.3 592.5,582.1 592.9,590.7 593.4,596.6 593.8,598.8 594.3,598.3 594.7,596.1 595.2,593.3 595.6,592.0 596.1,593.2 596.5,596.0 597.0,598.4 597.4,599.7 597.9,600.2 598.3,600.3 598.8,600.3 599.2,600.3 599.7,600.3 600.1,600.3 600.6,600.3 601.0,600.3 601.5,600.3 601.9,600.3 602.4,600.3 602.8,600.3 603.3,600.3 603.7,600.3 604.2,600.3 604.6,600.2 605.1,599.8 605.5,598.4 606.0,595.2 606.4,590.6 606.9,587.1 607.3,587.4 607.8,591.3 608.2,595.8 608.7,598.7 609.1,599.9 609.6,600.2 610.0,600.3 610.5,600.3 610.9,600.3 611.4,600.3 611.8,600.3 612.3,600.3 612.7,600.3 613.2,600.3 613.6,600.3 614.1,600.3 614.5,600.3 615.0,600.3 615.4,600.3 615.9,600.3 616.3,600.3 616.8,600.3 617.2,600.3 617.7,600.3 618.1,600.3 618.6,600.3 619.0,600.3 619.5,600.3 619.9,600.3 620.4,600.3 620.8,600.3 621.3,600.3 621.7,600.3 622.2,600.3 622.6,600.3 623.1,600.3 623.5,600.3 624.0,600.3 624.4,600.3 624.9,600.3 625.3,600.3 625.8,600.3 626.2,600.3 626.7,600.3 627.1,600.3 627.6,600.1 628.0,599.2 628.5,596.5 628.9,590.8 629.4,583.5 629.8,579.0 630.3,580.9 630.7,587.6 631.2,594.3 631.6,598.3 632.1,599.8 632.5,600.2 633.0,600.3 633.4,600.3 633.9,600.3 634.3,600.3 634.8,600.3 635.2,600.3 635.7,600.3 636.1,600.3 636.6,600.3 637.0,600.3 637.5,600.3 637.9,600.3 638.4,600.3 638.8,600.3 639.3,600.3 639.7,600.3 640.2,600.3 640.6,600.3 641.1,600.3 641.5,600.3 642.0,600.3 642.4,600.3 642.9,600.3 643.3,600.3 643.8,600.3 644.2,600.3 644.7,600.3 645.1,600.3 645.6,600.3 646.0,600.3 646.5,600.3 646.9,600.3 647.4,600.3 647.8,600.3 648.3,600.3 648.7,600.3 649.2,600.3 649.6,600.3 650.1,600.3 650.5,600.3 651.0,600.3 651.4,600.3 651.9,600.3 652.3,600.3 652.8,600.3 653.2,600.3 653.7,600.3 654.1,600.3 654.6,600.3 655.0,600.3 655.5,600.3 655.9,600.3 656.4,600.3 656.8,600.3 657.3,600.3 657.7,600.3 658.2,600.3 658.6,600.3 659.1,600.3 659.5,600.3 660.0,600.3 660.4,600.3 660.9,600.3 661.3,600.3 661.8,600.3 662.2,600.3 662.7,600.3 663.1,600.3 663.6,600.3 664.0,600.3 664.5,600.3 664.9,600.3 665.4,600.3 665.8,600.3 666.3,600.3 666.7,600.3 667.2,600.3 667.6,600.3 668.1,600.3 668.5,600.3 669.0,600.3 669.4,600.1 669.9,599.4 670.3,596.9 670.8,591.4 671.2,583.9 671.7,578.5 672.1,579.5 672.6,586.1 673.0,593.3 673.5,597.9 673.9,599.7 674.4,600.2 674.8,600.3 675.3,600.3 675.7,600.3 676.2,600.3 676.6,600.3 677.1,600.3 677.5,600.3 678.0,600.3 678.4,600.3 678.9,600.3 679.3,600.3 679.8,600.3 680.2,600.3 680.7,600.3 681.1,600.3" fill="none" stroke="#c9b86e" stroke-width="0.75" stroke-linejoin="round"/>
<polyline points="399.4,600.3 399.9,600.3 400.3,600.3 400.8,600.3 401.2,600.3 401.6,600.3 402.1,600.3 402.5,600.3 403.0,600.3 403.4,600.3 403.9,600.3 404.3,600.3 404.8,600.3 405.2,600.3 405.7,600.3 406.1,600.3 406.6,600.3 407.0,600.3 407.5,600.3 407.9,600.3 408.4,600.3 408.8,600.3 409.3,600.3 409.7,600.3 410.2,600.3 410.6,600.3 411.1,600.3 411.5,600.3 412.0,600.3 412.4,600.3 412.9,600.3 413.3,600.3 413.8,600.3 414.2,600.3 414.7,600.3 415.1,600.3 415.6,600.3 416.0,600.3 416.5,600.3 416.9,600.3 417.4,600.3 417.8,600.3 418.3,600.3 418.7,600.3 419.2,600.3 419.6,600.3 420.1,600.3 420.5,600.3 421.0,600.3 421.4,600.3 421.9,600.0 422.3,599.0 422.8,596.3 423.2,590.9 423.7,584.8 424.1,581.8 424.6,584.5 425.0,590.6 425.5,596.0 425.9,598.4 426.4,597.7 426.8,594.0 427.3,588.2 427.7,583.5 428.2,583.5 428.6,588.3 429.1,594.2 429.5,598.1 430.0,599.7 430.4,600.2 430.9,600.3 431.3,600.3 431.8,600.3 432.2,600.3 432.7,600.3 433.1,600.3 433.6,600.3 434.0,600.3 434.5,600.3 434.9,600.3 435.4,600.3 435.8,600.3 436.3,600.3 436.7,600.3 437.2,600.3 437.6,600.3 438.1,600.3 438.5,600.3 439.0,600.3 439.4,600.3 439.9,600.3 440.3,600.3 440.8,600.3 441.2,600.3 441.7,600.3 442.1,600.3 442.6,600.3 443.0,600.3 443.5,600.3 443.9,600.3 444.4,600.3 444.8,600.3 445.3,600.3 445.7,600.3 446.2,600.3 446.6,600.3 447.1,600.3 447.5,600.3 448.0,600.3 448.4,600.1 448.9,599.5 449.3,597.3 449.8,592.8 450.2,586.6 450.7,582.5 451.1,583.8 451.6,589.2 452.0,595.0 452.5,598.5 452.9,599.9 453.4,600.2 453.8,600.3 454.3,600.3 454.7,600.3 455.2,600.3 455.6,600.3 456.1,600.1 456.5,599.6 457.0,597.8 457.4,594.1 457.9,589.2 458.3,586.2 458.8,587.5 459.2,591.9 459.7,596.4 460.1,599.0 460.6,600.0 461.0,600.2 461.5,600.3 461.9,600.3 462.4,600.3 462.8,600.3 463.3,600.3 463.7,600.3 464.2,600.3 464.6,600.3 465.1,600.3 465.5,600.3 466.0,600.3 466.4,600.3 466.9,600.3 467.3,600.2 467.8,599.6 468.2,597.7 468.7,593.0 469.1,585.5 469.6,578.8 470.0,577.9 470.5,583.6 470.9,591.3 471.4,596.6 471.8,598.3 472.3,596.6 472.7,592.0 473.2,586.3 473.6,583.2 474.1,585.4 474.5,591.0 475.0,596.1 475.4,599.0 475.9,600.0 476.3,600.2 476.8,600.3 477.2,600.3 477.7,600.3 478.1,600.3 478.6,600.3 479.0,600.3 479.5,600.3 479.9,600.3 480.4,600.3 480.8,600.3 481.3,600.3 481.7,600.3 482.2,600.3 482.6,600.1 483.1,599.5 483.5,597.2 484.0,591.8 484.4,583.8 484.9,577.4 485.3,577.5 485.8,584.0 486.2,592.0 486.7,597.2 487.1,599.5 487.6,600.1 488.0,600.3 488.5,600.3 488.9,600.3 489.4,600.3 489.8,600.3 490.3,600.3 490.7,600.3 491.2,600.3 491.6,600.3 492.1,600.3 492.5,600.3 493.0,600.3 493.4,600.3 493.9,600.3 494.3,600.0 494.8,599.1 495.2,596.5 495.7,591.8 496.1,586.8 496.6,584.9 497.0,587.8 497.5,593.0 497.9,597.2 498.4,599.4 498.8,600.1 499.3,600.3 499.7,600.3 500.2,600.3 500.6,600.3 501.1,600.3 501.5,600.3 502.0,600.3 502.4,600.3 502.9,600.3 503.3,600.3 503.8,600.3 504.2,600.3 504.7,600.3 505.1,600.3 505.6,600.1 506.0,599.4 506.5,597.2 506.9,592.6 507.4,586.3 507.8,582.1 508.3,583.3 508.7,588.9 509.2,594.9 509.6,598.4 510.1,599.8 510.5,600.2 511.0,600.3 511.4,600.3 511.9,600.3 512.3,600.3 512.8,600.3 513.2,600.3 513.7,600.3 514.1,600.3 514.6,600.3 515.0,600.3 515.5,600.3 515.9,600.3 516.4,600.3 516.8,600.3 517.3,600.3 517.7,600.3 518.2,600.3 518.6,600.3 519.1,600.3 519.5,600.3 520.0,600.3 520.4,600.3 520.9,600.3 521.3,600.3 521.8,600.3 522.2,600.3 522.7,600.3 523.1,600.3 523.6,600.3 524.0,600.3 524.5,600.3 524.9,600.3 525.4,600.3 525.8,600.3 526.3,600.3 526.7,600.3 527.2,600.3 527.6,600.3 528.1,600.3 528.5,600.3 529.0,600.3 529.4,600.3 529.9,600.3 530.3,600.3 530.8,600.3 531.2,600.3 531.7,600.3 532.1,600.3 532.6,600.3 533.0,600.3 533.5,600.3 533.9,600.3 534.4,600.3 534.8,600.3 535.3,600.3 535.7,600.3 536.2,600.3 536.6,600.3 537.1,600.3 537.5,600.3 538.0,600.3 538.4,600.3 538.9,600.3 539.3,600.3 539.8,600.3 540.2,600.3 540.7,600.3 541.2,600.3 541.6,600.3 542.1,600.3 542.5,600.3 543.0,600.3 543.4,600.3 543.9,600.3 544.3,600.3 544.8,600.3 545.2,600.3 545.7,600.3 546.1,600.3 546.6,600.3 547.0,600.3 547.5,600.3 547.9,600.3 548.4,600.3 548.8,600.3 549.3,600.3 549.7,600.3 550.2,600.3 550.6,600.3 551.1,600.3 551.5,600.3 552.0,600.3 552.4,600.3 552.9,600.3 553.3,600.3 553.8,600.3 554.2,600.3 554.7,600.3 555.1,600.3 555.6,600.3 556.0,600.3 556.5,600.3 556.9,600.3 557.4,600.3 557.8,600.3 558.3,600.3 558.7,600.2 559.2,599.9 559.6,598.8 560.1,595.8 560.5,590.5 561.0,585.0 561.4,583.3 561.9,586.7 562.3,592.5 562.8,597.1 563.2,599.4 563.7,600.1 564.1,600.3 564.6,600.3 565.0,600.3 565.5,600.3 565.9,600.3 566.4,600.3 566.8,600.3 567.3,600.3 567.7,600.3 568.2,600.3 568.6,600.3 569.1,600.3 569.5,600.3 570.0,600.3 570.4,600.3 570.9,600.3 571.3,600.3 571.8,600.3 572.2,600.3 572.7,600.3 573.1,600.3 573.6,600.3 574.0,600.3 574.5,600.3 574.9,600.3 575.4,600.3 575.8,600.3 576.3,600.3 576.7,600.3 577.2,600.3 577.6,600.3 578.1,600.0 578.5,599.0 579.0,595.8 579.4,589.5 579.9,581.6 580.3,577.0 580.8,579.5 581.2,587.0 581.7,594.2 582.1,598.3 582.6,599.8 583.0,600.2 583.5,600.3 583.9,600.3 584.4,600.3 584.8,600.3 585.3,600.3 585.7,600.3 586.2,600.3 586.6,600.3 587.1,600.3 587.5,600.3 588.0,600.3 588.4,600.3 588.9,600.3 589.3,600.3 589.8,600.3 590.2,600.3 590.7,600.3 591.1,600.3 591.6,600.3 592.0,600.3 592.5,600.3 592.9,600.3 593.4,600.3 593.8,600.3 594.3,600.3 594.7,600.3 595.2,600.3 595.6,600.3 596.1,600.3 596.5,600.3 597.0,600.2 597.4,599.6 597.9,597.7 598.3,593.3 598.8,586.7 599.2,581.4 599.7,581.4 600.1,586.8 600.6,593.4 601.0,597.5 601.5,598.4 601.9,596.2 602.4,591.2 602.8,585.6 603.3,583.2 603.7,586.0 604.2,591.8 604.6,596.6 605.1,599.2 605.5,600.1 606.0,600.3 606.4,600.3 606.9,600.3 607.3,600.3 607.8,600.3 608.2,600.3 608.7,600.3 609.1,600.3 609.6,600.3 610.0,600.3 610.5,600.3 610.9,600.3 611.4,600.3 611.8,600.3 612.3,600.3 612.7,600.3 613.2,600.3 613.6,600.3 614.1,600.3 614.5,600.3 615.0,600.3 615.4,600.3 615.9,600.3 616.3,600.3 616.8,600.3 617.2,600.3 617.7,600.3 618.1,600.3 618.6,600.3 619.0,600.3 619.5,600.3 619.9,600.3 620.4,600.3 620.8,600.3 621.3,600.3 621.7,600.3 622.2,600.3 622.6,600.3 623.1,600.3 623.5,600.3 624.0,600.3 624.4,600.3 624.9,600.3 625.3,600.3 625.8,600.3 626.2,600.3 626.7,600.3 627.1,600.3 627.6,600.3 628.0,600.3 628.5,600.3 628.9,600.3 629.4,600.3 629.8,600.3 630.3,600.3 630.7,600.3 631.2,600.2 631.6,599.9 632.1,598.5 632.5,595.2 633.0,589.7 633.4,584.5 633.9,583.5 634.3,587.5 634.8,593.3 635.2,597.5 635.7,599.5 636.1,600.1 636.6,600.3 637.0,600.3 637.5,600.3 637.9,600.3 638.4,600.3 638.8,600.2 639.3,599.8 639.7,598.4 640.2,595.0 640.6,589.7 641.1,584.8 641.5,584.2 642.0,588.3 642.4,593.9 642.9,597.8 643.3,599.6 643.8,600.2 644.2,600.3 644.7,600.3 645.1,600.3 645.6,600.3 646.0,600.3 646.5,600.3 646.9,600.3 647.4,600.3 647.8,600.3 648.3,600.3 648.7,600.3 649.2,600.3 649.6,600.3 650.1,600.3 650.5,600.0 651.0,598.9 651.4,595.7 651.9,589.7 652.3,582.7 652.8,579.4 653.2,582.5 653.7,589.4 654.1,595.5 654.6,598.8 655.0,600.0 655.5,600.2 655.9,600.3 656.4,600.3 656.8,600.3 657.3,600.3 657.7,600.3 658.2,600.3 658.6,600.3 659.1,600.3 659.5,600.3 660.0,600.3 660.4,600.3 660.9,600.3 661.3,600.3 661.8,600.2 662.2,599.6 662.7,597.8 663.1,593.7 663.6,587.8 664.0,583.3 664.5,583.7 664.9,588.7 665.4,594.5 665.8,598.2 666.3,599.8 666.7,600.2 667.2,600.3 667.6,600.3 668.1,600.3 668.5,600.3 669.0,600.3 669.4,600.3 669.9,600.3 670.3,600.3 670.8,600.3 671.2,600.3 671.7,600.3 672.1,600.3 672.6,600.3 673.0,600.3 673.5,600.3 673.9,600.3 674.4,600.3 674.8,600.3 675.3,600.3 675.7,600.3 676.2,600.3 676.6,600.3 677.1,600.3 677.5,600.3 678.0,600.3 678.4,600.3 678.9,600.3 679.3,600.3 679.8,600.3 680.2,600.3 680.7,600.3 681.1,600.3" fill="none" stroke="#d9505f" stroke-width="0.75" stroke-linejoin="round"/>
<polyline points="399.4,600.3 399.9,600.3 400.3,600.3 400.8,600.3 401.2,600.3 401.6,600.3 402.1,600.3 402.5,600.3 403.0,600.3 403.4,600.3 403.9,600.3 404.3,600.3 404.8,600.3 405.2,600.3 405.7,600.3 406.1,600.3 406.6,600.1 407.0,599.5 407.5,597.7 407.9,594.0 408.4,589.4 408.8,586.8 409.3,588.2 409.7,592.6 410.2,596.8 410.6,599.1 411.1,600.0 411.5,600.3 412.0,600.3 412.4,600.3 412.9,600.3 413.3,600.3 413.8,600.3 414.2,600.3 414.7,600.3 415.1,600.3 415.6,600.3 416.0,600.3 416.5,600.3 416.9,600.3 417.4,600.3 417.8,600.3 418.3,600.3 418.7,600.3 419.2,600.3 419.6,600.3 420.1,600.3 420.5,600.3 421.0,600.3 421.4,600.3 421.9,600.3 422.3,600.3 422.8,600.3 423.2,600.3 423.7,600.3 424.1,600.3 424.6,600.3 425.0,600.3 425.5,600.3 425.9,600.3 426.4,600.3 426.8,600.3 427.3,600.3 427.7,600.3 428.2,600.3 428.6,600.3 429.1,600.3 429.5,600.3 430.0,600.3 430.4,600.3 430.9,600.3 431.3,600.3 431.8,600.3 432.2,600.3 432.7,600.3 433.1,600.2 433.6,599.7 434.0,598.1 434.5,594.4 434.9,589.2 435.4,585.2 435.8,585.5 436.3,590.0 436.7,595.1 437.2,598.4 437.6,599.8 438.1,600.2 438.5,600.3 439.0,600.3 439.4,600.3 439.9,600.3 440.3,600.3 440.8,600.3 441.2,600.3 441.7,600.3 442.1,600.3 442.6,600.3 443.0,600.3 443.5,600.3 443.9,600.3 444.4,600.3 444.8,600.3 445.3,600.3 445.7,600.3 446.2,600.3 446.6,600.3 447.1,600.3 447.5,600.3 448.0,600.3 448.4,600.3 448.9,600.3 449.3,600.3 449.8,600.3 450.2,600.3 450.7,600.3 451.1,600.3 451.6,600.3 452.0,600.2 452.5,599.7 452.9,597.9 453.4,593.1 453.8,585.0 454.3,577.1 454.7,575.1 455.2,580.6 455.6,589.3 456.1,595.9 456.5,599.0 457.0,600.0 457.4,600.3 457.9,600.3 458.3,600.3 458.8,600.3 459.2,600.3 459.7,600.3 460.1,600.3 460.6,600.3 461.0,600.3 461.5,600.3 461.9,600.3 462.4,600.3 462.8,600.3 463.3,600.3 463.7,600.3 464.2,600.3 464.6,600.3 465.1,600.3 465.5,600.3 466.0,600.3 466.4,600.3 466.9,600.3 467.3,600.3 467.8,600.3 468.2,600.3 468.7,600.3 469.1,600.3 469.6,600.3 470.0,600.3 470.5,600.3 470.9,600.3 471.4,600.3 471.8,600.3 472.3,600.3 472.7,600.3 473.2,600.3 473.6,600.3 474.1,600.3 474.5,600.3 475.0,600.3 475.4,600.3 475.9,600.3 476.3,600.3 476.8,600.3 477.2,600.3 477.7,600.3 478.1,600.3 478.6,600.3 479.0,600.3 479.5,600.3 479.9,600.3 480.4,600.3 480.8,600.3 481.3,600.3 481.7,600.3 482.2,600.3 482.6,600.3 483.1,600.3 483.5,600.3 484.0,600.3 484.4,600.3 484.9,600.3 485.3,600.3 485.8,600.3 486.2,600.3 486.7,600.3 487.1,600.3 487.6,600.3 488.0,600.3 488.5,600.3 488.9,600.3 489.4,600.3 489.8,600.3 490.3,600.2 490.7,599.6 491.2,597.7 491.6,593.4 492.1,587.3 492.5,582.6 493.0,583.1 493.4,588.3 493.9,594.3 494.3,598.1 494.8,599.7 495.2,600.2 495.7,600.3 496.1,600.3 496.6,600.3 497.0,600.3 497.5,600.3 497.9,600.1 498.4,599.3 498.8,596.6 499.3,590.7 499.7,582.5 500.2,576.7 500.6,577.8 501.1,584.9 501.5,592.7 502.0,597.2 502.4,597.8 502.9,594.5 503.3,588.1 503.8,581.4 504.2,579.2 504.7,583.5 505.1,590.7 505.6,596.4 506.0,599.1 506.5,600.1 506.9,600.3 507.4,600.3 507.8,600.3 508.3,600.3 508.7,600.3 509.2,600.3 509.6,600.3 510.1,600.3 510.5,600.3 511.0,600.3 511.4,600.3 511.9,600.3 512.3,600.3 512.8,600.3 513.2,600.3 513.7,600.3 514.1,600.3 514.6,600.3 515.0,600.3 515.5,600.3 515.9,600.3 516.4,600.3 516.8,600.2 517.3,599.7 517.7,598.1 518.2,593.8 518.6,586.9 519.1,580.4 519.5,579.1 520.0,584.1 520.4,591.4 520.9,596.6 521.3,598.2 521.8,596.2 522.2,590.7 522.7,583.7 523.1,579.7 523.6,581.9 524.0,588.5 524.5,594.9 524.9,598.5 525.4,599.9 525.8,600.2 526.3,600.3 526.7,600.3 527.2,600.3 527.6,600.3 528.1,600.3 528.5,600.3 529.0,600.3 529.4,600.3 529.9,600.3 530.3,600.3 530.8,600.3 531.2,600.3 531.7,600.3 532.1,600.3 532.6,600.3 533.0,600.3 533.5,600.3 533.9,600.3 534.4,600.3 534.8,600.3 535.3,600.3 535.7,600.3 536.2,600.3 536.6,600.3 537.1,600.3 537.5,600.3 538.0,600.3 538.4,600.3 538.9,600.3 539.3,600.3 539.8,600.3 540.2,600.3 540.7,600.3 541.2,600.3 541.6,600.3 542.1,600.3 542.5,600.3 543.0,600.3 543.4,600.3 543.9,600.3 544.3,600.3 544.8,600.3 545.2,600.3 545.7,600.3 546.1,600.3 546.6,600.3 547.0,600.3 547.5,600.3 547.9,600.3 548.4,600.3 548.8,600.3 549.3,600.3 549.7,600.3 550.2,600.3 550.6,600.3 551.1,600.3 551.5,600.3 552.0,600.3 552.4,600.3 552.9,600.3 553.3,600.3 553.8,600.3 554.2,600.3 554.7,600.3 555.1,600.3 555.6,600.3 556.0,600.3 556.5,600.3 556.9,600.3 557.4,600.3 557.8,600.3 558.3,600.3 558.7,600.3 559.2,600.3 559.6,600.3 560.1,600.3 560.5,600.3 561.0,600.3 561.4,600.3 561.9,600.3 562.3,600.3 562.8,600.1 563.2,599.2 563.7,596.5 564.1,590.7 564.6,582.9 565.0,577.7 565.5,579.2 565.9,586.2 566.4,593.6 566.8,598.0 567.3,599.7 567.7,600.2 568.2,600.3 568.6,600.3 569.1,600.3 569.5,600.3 570.0,600.3 570.4,600.2 570.9,599.6 571.3,598.0 571.8,594.7 572.2,590.4 572.7,587.7 573.1,588.8 573.6,592.8 574.0,596.8 574.5,599.1 574.9,600.0 575.4,600.3 575.8,600.3 576.3,600.3 576.7,600.3 577.2,600.3 577.6,600.3 578.1,600.3 578.5,600.3 579.0,600.3 579.4,600.3 579.9,600.3 580.3,600.3 580.8,600.3 581.2,600.3 581.7,600.3 582.1,600.3 582.6,600.3 583.0,600.3 583.5,600.3 583.9,600.3 584.4,600.3 584.8,600.3 585.3,600.3 585.7,600.3 586.2,600.3 586.6,600.3 587.1,600.3 587.5,600.3 588.0,600.3 588.4,600.3 588.9,600.3 589.3,600.3 589.8,600.3 590.2,600.3 590.7,600.3 591.1,600.3 591.6,600.3 592.0,600.3 592.5,600.3 592.9,600.3 593.4,600.3 593.8,600.3 594.3,600.3 594.7,600.3 595.2,600.3 595.6,600.3 596.1,600.3 596.5,600.3 597.0,600.3 597.4,600.3 597.9,600.3 598.3,600.3 598.8,600.3 599.2,600.3 599.7,600.3 600.1,600.3 600.6,600.3 601.0,600.3 601.5,600.3 601.9,600.3 602.4,600.3 602.8,600.3 603.3,600.3 603.7,600.3 604.2,600.3 604.6,600.3 605.1,600.3 605.5,600.3 606.0,600.3 606.4,600.3 606.9,600.3 607.3,600.3 607.8,600.3 608.2,600.2 608.7,600.0 609.1,599.0 609.6,596.3 610.0,591.4 610.5,586.2 610.9,584.2 611.4,587.2 611.8,592.6 612.3,597.1 612.7,599.3 613.2,600.1 613.6,600.3 614.1,600.3 614.5,600.3 615.0,600.3 615.4,600.3 615.9,600.3 616.3,600.1 616.8,599.3 617.2,597.3 617.7,593.9 618.1,590.3 618.6,589.2 619.0,591.4 619.5,595.2 619.9,598.2 620.4,599.7 620.8,600.2 621.3,600.3 621.7,600.3 622.2,600.3 622.6,600.3 623.1,600.3 623.5,600.3 624.0,600.3 624.4,600.3 624.9,600.3 625.3,600.3 625.8,600.3 626.2,600.3 626.7,600.3 627.1,600.3 627.6,600.3 628.0,600.3 628.5,600.3 628.9,600.3 629.4,600.3 629.8,600.3 630.3,600.3 630.7,600.3 631.2,600.3 631.6,600.3 632.1,600.3 632.5,600.3 633.0,600.3 633.4,600.3 633.9,600.3 634.3,600.3 634.8,600.3 635.2,600.3 635.7,600.3 636.1,600.3 636.6,600.3 637.0,600.3 637.5,600.3 637.9,600.3 638.4,600.3 638.8,600.3 639.3,600.3 639.7,600.3 640.2,600.3 640.6,600.3 641.1,600.3 641.5,600.3 642.0,600.3 642.4,600.2 642.9,600.0 643.3,598.8 643.8,595.2 644.2,588.3 644.7,579.9 645.1,575.5 645.6,578.7 646.0,586.8 646.5,594.1 646.9,597.6 647.4,596.9 647.8,592.2 648.3,584.4 648.7,577.7 649.2,577.3 649.6,583.5 650.1,591.5 650.5,597.0 651.0,599.4 651.4,600.1 651.9,600.3 652.3,600.3 652.8,600.3 653.2,600.3 653.7,600.3 654.1,600.3 654.6,600.3 655.0,600.3 655.5,600.3 655.9,600.3 656.4,600.3 656.8,600.3 657.3,600.3 657.7,600.3 658.2,600.1 658.6,599.3 659.1,597.2 659.5,593.4 660.0,589.0 660.4,587.2 660.9,589.4 661.3,593.8 661.8,597.5 662.2,599.4 662.7,600.1 663.1,600.3 663.6,600.3 664.0,600.3 664.5,600.3 664.9,600.3 665.4,600.3 665.8,600.3 666.3,600.3 666.7,600.3 667.2,600.3 667.6,600.3 668.1,600.3 668.5,600.3 669.0,600.3 669.4,600.3 669.9,600.3 670.3,600.3 670.8,600.3 671.2,600.3 671.7,600.3 672.1,600.3 672.6,600.3 673.0,600.2 673.5,599.9 673.9,598.5 674.4,594.7 674.8,588.3 675.3,581.6 675.7,579.5 676.2,583.7 676.6,590.8 677.1,596.2 677.5,598.2 678.0,596.8 678.4,592.0 678.9,585.4 679.3,580.9 679.8,582.2 680.2,588.2 680.7,594.5 681.1,598.3" fill="none" stroke="#5a60c6" stroke-width="0.75" stroke-linejoin="round"/>
<polyline points="399.4,600.3 399.9,600.3 400.3,600.3 400.8,600.3 401.2,600.3 401.6,600.3 402.1,600.3 402.5,600.3 403.0,600.3 403.4,600.3 403.9,600.3 404.3,600.3 404.8,600.3 405.2,600.3 405.7,600.3 406.1,600.3 406.6,600.3 407.0,600.3 407.5,600.3 407.9,600.3 408.4,600.3 408.8,600.3 409.3,600.3 409.7,600.3 410.2,600.2 410.6,599.6 411.1,597.7 411.5,592.8 412.0,585.2 412.4,578.4 412.9,577.4 413.3,583.2 413.8,591.2 414.2,596.8 414.7,599.3 415.1,600.1 415.6,600.3 416.0,600.3 416.5,600.3 416.9,600.3 417.4,600.3 417.8,600.3 418.3,600.3 418.7,600.3 419.2,600.3 419.6,600.3 420.1,600.3 420.5,600.3 421.0,600.3 421.4,600.3 421.9,600.3 422.3,600.3 422.8,600.3 423.2,600.3 423.7,600.3 424.1,600.3 424.6,600.3 425.0,600.3 425.5,600.3 425.9,600.3 426.4,600.3 426.8,600.3 427.3,600.3 427.7,600.3 428.2,600.3 428.6,600.3 429.1,600.3 429.5,600.3 430.0,600.3 430.4,600.3 430.9,600.3 431.3,600.3 431.8,600.3 432.2,600.3 432.7,600.3 433.1,600.3 433.6,600.3 434.0,600.3 434.5,600.3 434.9,600.3 435.4,600.3 435.8,600.3 436.3,600.3 436.7,600.2 437.2,599.8 437.6,598.3 438.1,594.1 438.5,586.6 439.0,578.6 439.4,575.6 439.9,580.1 440.3,588.5 440.8,595.3 441.2,598.8 441.7,600.0 442.1,600.3 442.6,600.3 443.0,600.3 443.5,600.3 443.9,600.3 444.4,600.3 444.8,600.3 445.3,600.3 445.7,600.3 446.2,600.3 446.6,600.3 447.1,600.3 447.5,600.3 448.0,600.3 448.4,600.3 448.9,600.3 449.3,600.3 449.8,600.3 450.2,600.3 450.7,600.3 451.1,600.3 451.6,600.3 452.0,600.3 452.5,600.3 452.9,600.3 453.4,600.3 453.8,600.3 454.3,600.3 454.7,600.3 455.2,600.3 455.6,600.3 456.1,600.3 456.5,600.3 457.0,600.3 457.4,600.3 457.9,600.3 458.3,600.3 458.8,600.3 459.2,600.3 459.7,600.3 460.1,600.3 460.6,600.3 461.0,600.3 461.5,600.3 461.9,600.3 462.4,600.3 462.8,600.3 463.3,600.3 463.7,600.3 464.2,600.3 464.6,600.3 465.1,600.3 465.5,600.3 466.0,600.3 466.4,600.3 466.9,600.3 467.3,600.3 467.8,600.3 468.2,600.3 468.7,600.3 469.1,600.3 469.6,600.3 470.0,600.3 470.5,600.3 470.9,600.3 471.4,600.3 471.8,600.3 472.3,600.3 472.7,600.3 473.2,600.3 473.6,600.3 474.1,600.3 474.5,600.3 475.0,600.3 475.4,600.3 475.9,600.3 476.3,600.3 476.8,600.3 477.2,600.3 477.7,600.3 478.1,600.3 478.6,600.3 479.0,600.3 479.5,600.3 479.9,600.3 480.4,600.3 480.8,600.3 481.3,600.3 481.7,600.3 482.2,600.3 482.6,600.3 483.1,600.3 483.5,600.3 484.0,600.3 484.4,600.3 484.9,600.3 485.3,600.3 485.8,600.3 486.2,600.3 486.7,600.3 487.1,600.3 487.6,600.3 488.0,600.3 488.5,600.3 488.9,600.3 489.4,600.3 489.8,600.3 490.3,600.3 490.7,600.3 491.2,600.3 491.6,600.3 492.1,600.3 492.5,600.3 493.0,600.3 493.4,600.3 493.9,600.3 494.3,600.3 494.8,600.3 495.2,600.3 495.7,600.3 496.1,600.3 496.6,600.3 497.0,600.3 497.5,600.3 497.9,600.3 498.4,600.3 498.8,600.3 499.3,600.3 499.7,600.3 500.2,600.3 500.6,600.3 501.1,600.3 501.5,600.3 502.0,600.3 502.4,600.3 502.9,600.3 503.3,600.3 503.8,600.3 504.2,600.3 504.7,600.3 505.1,600.3 505.6,600.3 506.0,600.3 506.5,600.3 506.9,600.3 507.4,600.3 507.8,600.3 508.3,600.3 508.7,600.3 509.2,600.2 509.6,599.7 510.1,597.7 510.5,592.8 511.0,584.3 511.4,576.0 511.9,573.9 512.3,579.7 512.8,588.8 513.2,595.7 513.7,599.0 514.1,600.0 514.6,600.3 515.0,600.3 515.5,600.3 515.9,600.3 516.4,600.3 516.8,600.3 517.3,600.3 517.7,600.3 518.2,600.3 518.6,600.3 519.1,600.3 519.5,600.3 520.0,600.3 520.4,600.3 520.9,600.3 521.3,600.3 521.8,600.3 522.2,600.3 522.7,600.3 523.1,600.3 523.6,600.3 524.0,600.3 524.5,600.3 524.9,600.3 525.4,600.3 525.8,600.3 526.3,600.3 526.7,600.3 527.2,600.3 527.6,600.3 528.1,600.3 528.5,600.3 529.0,600.3 529.4,600.3 529.9,600.3 530.3,600.3 530.8,600.3 531.2,600.3 531.7,600.3 532.1,600.3 532.6,600.0 533.0,599.3 533.5,597.6 533.9,595.0 534.4,592.7 534.8,592.6 535.3,594.6 535.7,597.3 536.2,599.2 536.6,600.0 537.1,600.2 537.5,600.3 538.0,600.3 538.4,600.3 538.9,600.3 539.3,600.3 539.8,600.3 540.2,600.3 540.7,600.3 541.2,600.3 541.6,600.3 542.1,600.3 542.5,600.3 543.0,600.3 543.4,600.3 543.9,600.1 544.3,599.6 544.8,598.1 545.2,595.4 545.7,592.4 546.1,591.1 546.6,592.6 547.0,595.7 547.5,598.3 547.9,599.7 548.4,600.2 548.8,600.3 549.3,600.3 549.7,600.3 550.2,600.3 550.6,600.3 551.1,600.3 551.5,600.1 552.0,599.4 552.4,597.6 552.9,594.4 553.3,590.9 553.8,589.6 554.2,591.6 554.7,595.2 555.1,598.0 555.6,598.9 556.0,597.5 556.5,593.5 556.9,587.7 557.4,583.6 557.8,584.3 558.3,589.4 558.7,595.0 559.2,598.4 559.6,599.8 560.1,600.2 560.5,600.3 561.0,600.3 561.4,600.3 561.9,600.3 562.3,600.3 562.8,600.3 563.2,600.3 563.7,600.3 564.1,600.3 564.6,600.3 565.0,600.3 565.5,600.3 565.9,600.3 566.4,600.2 566.8,599.7 567.3,597.9 567.7,593.1 568.2,585.0 568.6,577.1 569.1,575.1 569.5,580.6 570.0,589.3 570.4,595.9 570.9,599.0 571.3,600.0 571.8,600.3 572.2,600.3 572.7,600.3 573.1,600.3 573.6,600.3 574.0,600.2 574.5,599.5 574.9,597.1 575.4,591.0 575.8,581.0 576.3,571.6 576.7,569.7 577.2,576.9 577.6,587.5 578.1,595.3 578.5,598.9 579.0,600.0 579.4,600.3 579.9,600.3 580.3,600.3 580.8,600.3 581.2,600.3 581.7,600.2 582.1,599.5 582.6,597.1 583.0,591.1 583.5,581.7 583.9,573.3 584.4,572.2 584.8,579.3 585.3,589.0 585.7,595.8 586.2,598.1 586.6,596.6 587.1,592.0 587.5,586.3 588.0,583.2 588.4,585.4 588.9,591.0 589.3,596.1 589.8,599.0 590.2,600.0 590.7,600.2 591.1,600.3 591.6,600.3 592.0,600.3 592.5,600.3 592.9,600.3 593.4,600.3 593.8,600.3 594.3,600.3 594.7,600.3 595.2,600.3 595.6,600.3 596.1,600.3 596.5,600.3 597.0,600.3 597.4,600.3 597.9,600.3 598.3,600.3 598.8,600.3 599.2,600.3 599.7,600.3 600.1,600.3 600.6,600.3 601.0,600.3 601.5,600.3 601.9,600.3 602.4,600.3 602.8,600.3 603.3,600.3 603.7,600.3 604.2,600.3 604.6,600.3 605.1,600.3 605.5,600.3 606.0,600.3 606.4,600.3 606.9,600.3 607.3,600.3 607.8,600.3 608.2,600.3 608.7,600.3 609.1,600.3 609.6,600.3 610.0,600.3 610.5,600.3 610.9,600.3 611.4,600.3 611.8,600.3 612.3,600.1 612.7,599.1 613.2,596.0 613.6,589.3 614.1,579.9 614.5,573.2 615.0,574.4 615.4,582.6 615.9,591.6 616.3,597.3 616.8,599.5 617.2,600.2 617.7,600.3 618.1,600.3 618.6,600.3 619.0,600.3 619.5,600.3 619.9,600.1 620.4,599.1 620.8,596.2 621.3,589.8 621.7,581.3 622.2,575.5 622.6,577.2 623.1,584.9 623.5,592.8 624.0,597.4 624.4,598.1 624.9,595.6 625.3,590.6 625.8,585.7 626.2,584.4 626.7,587.9 627.1,593.3 627.6,597.5 628.0,599.5 628.5,600.1 628.9,600.3 629.4,600.3 629.8,600.3 630.3,600.3 630.7,600.3 631.2,600.3 631.6,600.3 632.1,600.3 632.5,600.3 633.0,600.3 633.4,600.3 633.9,600.3 634.3,600.3 634.8,600.3 635.2,600.1 635.7,599.2 636.1,596.5 636.6,591.1 637.0,584.3 637.5,580.4 637.9,582.5 638.4,588.9 638.8,595.1 639.3,598.6 639.7,599.9 640.2,600.2 640.6,600.3 641.1,600.3 641.5,600.3 642.0,600.3 642.4,600.3 642.9,600.3 643.3,600.3 643.8,600.3 644.2,600.3 644.7,600.3 645.1,600.3 645.6,600.3 646.0,600.3 646.5,600.3 646.9,600.3 647.4,600.3 647.8,600.3 648.3,600.3 648.7,600.3 649.2,600.3 649.6,600.3 650.1,600.3 650.5,600.3 651.0,600.3 651.4,600.3 651.9,600.3 652.3,600.3 652.8,600.3 653.2,600.3 653.7,600.3 654.1,600.1 654.6,599.5 655.0,597.2 655.5,591.8 655.9,583.8 656.4,577.4 656.8,577.5 657.3,584.0 657.7,592.0 658.2,597.2 658.6,599.5 659.1,600.1 659.5,600.3 660.0,600.3 660.4,600.3 660.9,600.3 661.3,600.3 661.8,600.3 662.2,600.3 662.7,600.3 663.1,600.3 663.6,600.3 664.0,600.3 664.5,600.3 664.9,600.3 665.4,600.2 665.8,599.9 666.3,598.5 666.7,594.6 667.2,587.7 667.6,580.2 668.1,577.4 668.5,581.7 669.0,589.4 669.4,595.7 669.9,598.9 670.3,600.0 670.8,600.3 671.2,600.3 671.7,600.3 672.1,600.3 672.6,600.3 673.0,600.3 673.5,600.3 673.9,600.3 674.4,600.3 674.8,600.3 675.3,600.3 675.7,600.3 676.2,600.3 676.6,600.3 677.1,600.3 677.5,600.3 678.0,600.3 678.4,600.3 678.9,600.3 679.3,600.3 679.8,600.3 680.2,600.3 680.7,600.3 681.1,600.3" fill="none" stroke="#3fc47c" stroke-width="0.75" stroke-linejoin="round"/>
<line x1="399.40" y1="600.50" x2="681.33" y2="600.50" stroke="#5ccf8e" stroke-width="0.8"/>
<text x="401.30" y="605.20" font-size="4.6" font-weight="bold" fill="#222" text-anchor="middle">G</text>
<text x="405.11" y="605.20" font-size="4.6" font-weight="bold" fill="#222" text-anchor="middle">G</text>
<text x="408.92" y="605.20" font-size="4.6" font-weight="bold" fill="#222" text-anchor="middle">C</text>
<text x="412.73" y="605.20" font-size="4.6" font-weight="bold" fill="#222" text-anchor="middle">T</text>
<text x="416.54" y="605.20" font-size="4.6" font-weight="bold" fill="#222" text-anchor="middle">G</text>
<text x="420.35" y="605.20" font-size="4.6" font-weight="bold" fill="#222" text-anchor="middle">G</text>
<text x="424.16" y="605.20" font-size="4.6" font-weight="bold" fill="#222" text-anchor="middle">A</text>
<text x="427.97" y="605.20" font-size="4.6" font-weight="bold" fill="#222" text-anchor="middle">A</text>
<text x="431.78" y="605.20" font-size="4.6" font-weight="bold" fill="#222" text-anchor="middle">G</text>
<text x="435.59" y="605.20" font-size="4.6" font-weight="bold" fill="#222" text-anchor="middle">C</text>
<text x="439.40" y="605.20" font-size="4.6" font-weight="bold" fill="#222" text-anchor="middle">T</text>
<text x="443.21" y="605.20" font-size="4.6" font-weight="bold" fill="#222" text-anchor="middle">G</text>
<text x="447.02" y="605.20" font-size="4.6" font-weight="bold" fill="#222" text-anchor="middle">G</text>
<text x="450.83" y="605.20" font-size="4.6" font-weight="bold" fill="#222" text-anchor="middle">A</text>
<text x="454.64" y="605.20" font-size="4.6" font-weight="bold" fill="#222" text-anchor="middle">C</text>
<text x="458.45" y="605.20" font-size="4.6" font-weight="bold" fill="#222" text-anchor="middle">A</text>
<text x="462.26" y="605.20" font-size="4.6" font-weight="bold" fill="#222" text-anchor="middle">G</text>
<text x="466.07" y="605.20" font-size="4.6" font-weight="bold" fill="#222" text-anchor="middle">G</text>
<text x="469.88" y="605.20" font-size="4.6" font-weight="bold" fill="#222" text-anchor="middle">A</text>
<text x="473.69" y="605.20" font-size="4.6" font-weight="bold" fill="#222" text-anchor="middle">A</text>
<text x="477.50" y="605.20" font-size="4.6" font-weight="bold" fill="#222" text-anchor="middle">G</text>
<text x="481.31" y="605.20" font-size="4.6" font-weight="bold" fill="#222" text-anchor="middle">G</text>
<text x="485.12" y="605.20" font-size="4.6" font-weight="bold" fill="#222" text-anchor="middle">A</text>
<text x="488.93" y="605.20" font-size="4.6" font-weight="bold" fill="#222" text-anchor="middle">G</text>
<text x="492.74" y="605.20" font-size="4.6" font-weight="bold" fill="#222" text-anchor="middle">C</text>
<text x="496.55" y="605.20" font-size="4.6" font-weight="bold" fill="#222" text-anchor="middle">A</text>
<text x="500.36" y="605.20" font-size="4.6" font-weight="bold" fill="#222" text-anchor="middle">C</text>
<text x="504.17" y="605.20" font-size="4.6" font-weight="bold" fill="#222" text-anchor="middle">C</text>
<text x="507.98" y="605.20" font-size="4.6" font-weight="bold" fill="#222" text-anchor="middle">A</text>
<text x="511.79" y="605.20" font-size="4.6" font-weight="bold" fill="#222" text-anchor="middle">T</text>
<text x="515.60" y="605.20" font-size="4.6" font-weight="bold" fill="#222" text-anchor="middle">G</text>
<text x="519.41" y="605.20" font-size="4.6" font-weight="bold" fill="#222" text-anchor="middle">C</text>
<text x="523.22" y="605.20" font-size="4.6" font-weight="bold" fill="#222" text-anchor="middle">C</text>
<text x="527.03" y="605.20" font-size="4.6" font-weight="bold" fill="#222" text-anchor="middle">G</text>
<text x="530.84" y="605.20" font-size="4.6" font-weight="bold" fill="#222" text-anchor="middle">G</text>
<text x="534.65" y="605.20" font-size="4.6" font-weight="bold" fill="#222" text-anchor="middle">T</text>
<text x="538.46" y="605.20" font-size="4.6" font-weight="bold" fill="#222" text-anchor="middle">G</text>
<text x="542.27" y="605.20" font-size="4.6" font-weight="bold" fill="#222" text-anchor="middle">G</text>
<text x="546.08" y="605.20" font-size="4.6" font-weight="bold" fill="#222" text-anchor="middle">T</text>
<text x="549.89" y="605.20" font-size="4.6" font-weight="bold" fill="#222" text-anchor="middle">G</text>
<text x="553.70" y="605.20" font-size="4.6" font-weight="bold" fill="#222" text-anchor="middle">T</text>
<text x="557.51" y="605.20" font-size="4.6" font-weight="bold" fill="#222" text-anchor="middle">T</text>
<text x="561.32" y="605.20" font-size="4.6" font-weight="bold" fill="#222" text-anchor="middle">A</text>
<text x="565.13" y="605.20" font-size="4.6" font-weight="bold" fill="#222" text-anchor="middle">C</text>
<text x="568.94" y="605.20" font-size="4.6" font-weight="bold" fill="#222" text-anchor="middle">T</text>
<text x="572.75" y="605.20" font-size="4.6" font-weight="bold" fill="#222" text-anchor="middle">C</text>
<text x="576.56" y="605.20" font-size="4.6" font-weight="bold" fill="#222" text-anchor="middle">T</text>
<text x="580.37" y="605.20" font-size="4.6" font-weight="bold" fill="#222" text-anchor="middle">A</text>
<text x="584.18" y="605.20" font-size="4.6" font-weight="bold" fill="#222" text-anchor="middle">T</text>
<text x="587.99" y="605.20" font-size="4.6" font-weight="bold" fill="#222" text-anchor="middle">T</text>
<text x="591.80" y="605.20" font-size="4.6" font-weight="bold" fill="#222" text-anchor="middle">G</text>
<text x="595.61" y="605.20" font-size="4.6" font-weight="bold" fill="#222" text-anchor="middle">G</text>
<text x="599.42" y="605.20" font-size="4.6" font-weight="bold" fill="#222" text-anchor="middle">A</text>
<text x="603.23" y="605.20" font-size="4.6" font-weight="bold" fill="#222" text-anchor="middle">A</text>
<text x="607.04" y="605.20" font-size="4.6" font-weight="bold" fill="#222" text-anchor="middle">G</text>
<text x="610.85" y="605.20" font-size="4.6" font-weight="bold" fill="#222" text-anchor="middle">C</text>
<text x="614.66" y="605.20" font-size="4.6" font-weight="bold" fill="#222" text-anchor="middle">T</text>
<text x="618.47" y="605.20" font-size="4.6" font-weight="bold" fill="#222" text-anchor="middle">C</text>
<text x="622.28" y="605.20" font-size="4.6" font-weight="bold" fill="#222" text-anchor="middle">T</text>
<text x="626.09" y="605.20" font-size="4.6" font-weight="bold" fill="#222" text-anchor="middle">T</text>
<text x="629.90" y="605.20" font-size="4.6" font-weight="bold" fill="#222" text-anchor="middle">G</text>
<text x="633.71" y="605.20" font-size="4.6" font-weight="bold" fill="#222" text-anchor="middle">A</text>
<text x="637.52" y="605.20" font-size="4.6" font-weight="bold" fill="#222" text-anchor="middle">T</text>
<text x="641.33" y="605.20" font-size="4.6" font-weight="bold" fill="#222" text-anchor="middle">A</text>
<text x="645.14" y="605.20" font-size="4.6" font-weight="bold" fill="#222" text-anchor="middle">C</text>
<text x="648.95" y="605.20" font-size="4.6" font-weight="bold" fill="#222" text-anchor="middle">C</text>
<text x="652.76" y="605.20" font-size="4.6" font-weight="bold" fill="#222" text-anchor="middle">A</text>
<text x="656.57" y="605.20" font-size="4.6" font-weight="bold" fill="#222" text-anchor="middle">T</text>
<text x="660.38" y="605.20" font-size="4.6" font-weight="bold" fill="#222" text-anchor="middle">C</text>
<text x="664.19" y="605.20" font-size="4.6" font-weight="bold" fill="#222" text-anchor="middle">A</text>
<text x="668.00" y="605.20" font-size="4.6" font-weight="bold" fill="#222" text-anchor="middle">T</text>
<text x="671.81" y="605.20" font-size="4.6" font-weight="bold" fill="#222" text-anchor="middle">G</text>
<text x="675.62" y="605.20" font-size="4.6" font-weight="bold" fill="#222" text-anchor="middle">C</text>
<text x="679.43" y="605.20" font-size="4.6" font-weight="bold" fill="#222" text-anchor="middle">C</text>
<polyline points="399.4,638.2 399.9,635.9 400.3,631.2 400.8,625.1 401.2,621.2 401.6,622.8 402.1,628.4 402.5,634.0 403.0,636.8 403.4,636.1 403.9,631.5 404.3,623.4 404.8,615.8 405.2,614.3 405.7,620.2 406.1,628.7 406.6,635.0 407.0,638.0 407.5,638.9 407.9,639.1 408.4,639.1 408.8,639.1 409.3,639.1 409.7,639.1 410.2,639.1 410.6,639.1 411.1,639.1 411.5,639.1 412.0,639.1 412.4,639.1 412.9,639.1 413.3,639.1 413.8,639.1 414.2,638.8 414.7,637.6 415.1,634.3 415.6,627.7 416.0,619.7 416.5,615.5 416.9,618.5 417.4,626.2 417.8,633.3 418.3,636.9 418.7,637.4 419.2,635.4 419.6,631.9 420.1,628.8 420.5,628.6 421.0,631.5 421.4,635.1 421.9,637.6 422.3,638.7 422.8,639.0 423.2,639.1 423.7,639.1 424.1,639.1 424.6,639.1 425.0,639.1 425.5,639.1 425.9,639.1 426.4,639.1 426.8,639.1 427.3,639.1 427.7,639.1 428.2,639.1 428.6,639.1 429.1,639.1 429.5,638.9 430.0,638.3 430.4,636.5 430.9,633.2 431.3,629.5 431.8,627.9 432.2,629.8 432.7,633.5 433.1,636.7 433.6,638.4 434.0,638.9 434.5,639.1 434.9,639.1 435.4,639.1 435.8,639.1 436.3,639.1 436.7,639.1 437.2,639.1 437.6,639.1 438.1,639.1 438.5,639.1 439.0,639.1 439.4,639.1 439.9,639.1 440.3,639.1 440.8,638.9 441.2,638.1 441.7,635.5 442.1,629.7 442.6,621.7 443.0,616.0 443.5,617.1 443.9,624.0 444.4,631.7 444.8,636.3 445.3,637.4 445.7,635.9 446.2,632.4 446.6,628.7 447.1,627.6 447.5,629.9 448.0,633.8 448.4,636.9 448.9,638.5 449.3,639.0 449.8,639.1 450.2,639.1 450.7,639.1 451.1,639.1 451.6,639.1 452.0,639.1 452.5,639.1 452.9,639.1 453.4,639.1 453.8,639.1 454.3,639.1 454.7,639.1 455.2,639.1 455.6,639.1 456.1,639.1 456.5,639.1 457.0,639.1 457.4,639.1 457.9,639.1 458.3,639.1 458.8,639.1 459.2,639.1 459.7,639.0 460.1,638.7 460.6,637.5 461.0,634.6 461.5,629.7 461.9,625.1 462.4,624.2 462.8,627.8 463.3,632.9 463.7,636.5 464.2,637.4 464.6,635.6 465.1,630.9 465.5,624.9 466.0,621.5 466.4,623.4 466.9,629.1 467.3,634.5 467.8,637.6 468.2,638.7 468.7,639.0 469.1,639.1 469.6,639.1 470.0,639.1 470.5,639.1 470.9,639.1 471.4,639.1 471.8,639.1 472.3,639.1 472.7,639.1 473.2,639.1 473.6,639.1 474.1,639.1 474.5,639.1 475.0,639.0 475.4,638.7 475.9,637.6 476.3,634.9 476.8,630.8 477.2,627.3 477.7,627.1 478.1,630.3 478.6,634.5 479.0,637.0 479.5,637.0 479.9,633.8 480.4,627.1 480.8,619.3 481.3,615.5 481.7,619.0 482.2,626.8 482.6,633.7 483.1,637.4 483.5,638.7 484.0,639.0 484.4,639.1 484.9,639.1 485.3,639.1 485.8,639.1 486.2,639.1 486.7,638.9 487.1,638.3 487.6,636.5 488.0,633.2 488.5,629.5 488.9,627.9 489.4,629.8 489.8,633.5 490.3,636.7 490.7,638.4 491.2,638.9 491.6,639.1 492.1,639.1 492.5,639.1 493.0,639.1 493.4,639.1 493.9,639.1 494.3,639.1 494.8,639.1 495.2,639.1 495.7,639.1 496.1,639.1 496.6,639.1 497.0,639.1 497.5,639.1 497.9,639.1 498.4,639.1 498.8,639.1 499.3,639.1 499.7,639.1 500.2,639.1 500.6,639.1 501.1,639.1 501.5,639.1 502.0,639.1" fill="none" stroke="#c9b86e" stroke-width="0.75" stroke-linejoin="round"/>
<polyline points="399.4,639.1 399.9,639.1 400.3,639.1 400.8,639.1 401.2,639.1 401.6,639.1 402.1,639.1 402.5,639.1 403.0,639.1 403.4,639.1 403.9,639.1 404.3,639.1 404.8,639.1 405.2,639.1 405.7,639.1 406.1,639.1 406.6,639.1 407.0,639.1 407.5,639.1 407.9,639.1 408.4,639.1 408.8,639.1 409.3,639.1 409.7,639.1 410.2,639.1 410.6,639.1 411.1,639.1 411.5,639.1 412.0,639.1 412.4,639.1 412.9,639.1 413.3,639.1 413.8,639.1 414.2,639.1 414.7,639.1 415.1,639.1 415.6,639.1 416.0,639.1 416.5,639.1 416.9,639.1 417.4,639.1 417.8,639.1 418.3,639.1 418.7,639.1 419.2,639.1 419.6,639.1 420.1,639.1 420.5,639.1 421.0,639.1 421.4,639.1 421.9,638.8 422.3,637.8 422.8,634.9 423.2,629.3 423.7,622.9 424.1,619.8 424.6,622.6 425.0,629.0 425.5,634.6 425.9,637.1 426.4,636.5 426.8,632.9 427.3,627.2 427.7,622.6 428.2,622.6 428.6,627.3 429.1,633.1 429.5,636.9 430.0,638.5 430.4,639.0 430.9,639.1 431.3,639.1 431.8,639.1 432.2,639.1 432.7,639.1 433.1,639.1 433.6,639.1 434.0,639.1 434.5,639.1 434.9,639.1 435.4,639.1 435.8,639.1 436.3,639.1 436.7,639.1 437.2,639.1 437.6,639.1 438.1,639.1 438.5,639.1 439.0,639.1 439.4,639.1 439.9,639.1 440.3,639.1 440.8,639.1 441.2,639.1 441.7,639.1 442.1,639.1 442.6,639.1 443.0,639.1 443.5,639.1 443.9,639.1 444.4,639.1 444.8,639.1 445.3,639.1 445.7,639.1 446.2,639.1 446.6,639.1 447.1,639.1 447.5,639.1 448.0,639.1 448.4,638.9 448.9,638.2 449.3,636.0 449.8,631.2 450.2,624.8 450.7,620.6 451.1,621.8 451.6,627.6 452.0,633.6 452.5,637.2 452.9,638.6 453.4,639.0 453.8,639.1 454.3,639.1 454.7,639.1 455.2,639.1 455.6,639.1 456.1,638.9 456.5,638.3 457.0,636.4 457.4,632.5 457.9,627.3 458.3,624.1 458.8,625.4 459.2,630.2 459.7,634.9 460.1,637.7 460.6,638.8 461.0,639.0 461.5,639.1 461.9,639.1 462.4,639.1 462.8,639.1 463.3,639.1 463.7,639.1 464.2,639.1 464.6,639.1 465.1,639.1 465.5,639.1 466.0,639.1 466.4,639.1 466.9,639.1 467.3,639.0 467.8,638.4 468.2,636.5 468.7,631.8 469.1,624.4 469.6,617.7 470.0,616.8 470.5,622.5 470.9,630.2 471.4,635.5 471.8,637.2 472.3,635.7 472.7,631.5 473.2,626.3 473.6,623.5 474.1,625.5 474.5,630.6 475.0,635.3 475.4,637.9 475.9,638.8 476.3,639.1 476.8,639.1 477.2,639.1 477.7,639.1 478.1,639.1 478.6,639.1 479.0,639.1 479.5,639.1 479.9,639.1 480.4,639.1 480.8,639.1 481.3,639.1 481.7,639.1 482.2,639.1 482.6,639.0 483.1,638.3 483.5,636.1 484.0,631.1 484.4,623.5 484.9,617.5 485.3,617.6 485.8,623.7 486.2,631.2 486.7,636.2 487.1,638.3 487.6,639.0 488.0,639.1 488.5,639.1 488.9,639.1 489.4,639.1 489.8,639.1 490.3,639.1 490.7,639.1 491.2,639.1 491.6,639.1 492.1,639.1 492.5,639.1 493.0,639.1 493.4,639.1 493.9,639.1 494.3,638.8 494.8,638.0 495.2,635.6 495.7,631.4 496.1,626.8 496.6,625.1 497.0,627.7 497.5,632.4 497.9,636.3 498.4,638.3 498.8,638.9 499.3,639.1 499.7,639.1 500.2,639.1 500.6,639.1 501.1,639.1 501.5,639.1 502.0,639.1" fill="none" stroke="#d9505f" stroke-width="0.75" stroke-linejoin="round"/>
<polyline points="399.4,639.1 399.9,639.1 400.3,639.1 400.8,639.1 401.2,639.1 401.6,639.1 402.1,639.1 402.5,639.1 403.0,639.1 403.4,639.1 403.9,639.1 404.3,639.1 404.8,639.1 405.2,639.1 405.7,639.1 406.1,639.1 406.6,638.9 407.0,638.1 407.5,635.7 407.9,630.9 408.4,624.9 408.8,621.5 409.3,623.4 409.7,629.1 410.2,634.5 410.6,637.6 411.1,638.7 411.5,639.0 412.0,639.1 412.4,639.1 412.9,639.1 413.3,639.1 413.8,639.1 414.2,639.1 414.7,639.1 415.1,639.1 415.6,639.1 416.0,639.1 416.5,639.1 416.9,639.1 417.4,639.1 417.8,639.1 418.3,639.1 418.7,639.1 419.2,639.1 419.6,639.1 420.1,639.1 420.5,639.1 421.0,639.1 421.4,639.1 421.9,639.1 422.3,639.1 422.8,639.1 423.2,639.1 423.7,639.1 424.1,639.1 424.6,639.1 425.0,639.1 425.5,639.1 425.9,639.1 426.4,639.1 426.8,639.1 427.3,639.1 427.7,639.1 428.2,639.1 428.6,639.1 429.1,639.1 429.5,639.1 430.0,639.1 430.4,639.1 430.9,639.1 431.3,639.1 431.8,639.1 432.2,639.1 432.7,639.1 433.1,639.0 433.6,638.4 434.0,636.4 434.5,632.0 434.9,625.7 435.4,620.8 435.8,621.3 436.3,626.7 436.7,632.9 437.2,636.9 437.6,638.5 438.1,639.0 438.5,639.1 439.0,639.1 439.4,639.1 439.9,639.1 440.3,639.1 440.8,639.1 441.2,639.1 441.7,639.1 442.1,639.1 442.6,639.1 443.0,639.1 443.5,639.1 443.9,639.1 444.4,639.1 444.8,639.1 445.3,639.1 445.7,639.1 446.2,639.1 446.6,639.1 447.1,639.1 447.5,639.1 448.0,639.1 448.4,639.1 448.9,639.1 449.3,639.1 449.8,639.1 450.2,639.1 450.7,639.1 451.1,639.1 451.6,639.1 452.0,639.0 452.5,638.4 452.9,636.1 453.4,630.3 453.8,620.4 454.3,610.7 454.7,608.2 455.2,615.0 455.6,625.6 456.1,633.7 456.5,637.5 457.0,638.8 457.4,639.1 457.9,639.1 458.3,639.1 458.8,639.1 459.2,639.1 459.7,639.1 460.1,639.1 460.6,639.1 461.0,639.1 461.5,639.1 461.9,639.1 462.4,639.1 462.8,639.1 463.3,639.1 463.7,639.1 464.2,639.1 464.6,639.1 465.1,639.1 465.5,639.1 466.0,639.1 466.4,639.1 466.9,639.1 467.3,639.1 467.8,639.1 468.2,639.1 468.7,639.1 469.1,639.1 469.6,639.1 470.0,639.1 470.5,639.1 470.9,639.1 471.4,639.1 471.8,639.1 472.3,639.1 472.7,639.1 473.2,639.1 473.6,639.1 474.1,639.1 474.5,639.1 475.0,639.1 475.4,639.1 475.9,639.1 476.3,639.1 476.8,639.1 477.2,639.1 477.7,639.1 478.1,639.1 478.6,639.1 479.0,639.1 479.5,639.1 479.9,639.1 480.4,639.1 480.8,639.1 481.3,639.1 481.7,639.1 482.2,639.1 482.6,639.1 483.1,639.1 483.5,639.1 484.0,639.1 484.4,639.1 484.9,639.1 485.3,639.1 485.8,639.1 486.2,639.1 486.7,639.1 487.1,639.1 487.6,639.1 488.0,639.1 488.5,639.1 488.9,639.1 489.4,639.1 489.8,639.1 490.3,638.9 490.7,638.3 491.2,636.1 491.6,631.1 492.1,624.0 492.5,618.5 493.0,619.0 493.4,625.1 493.9,632.1 494.3,636.6 494.8,638.5 495.2,639.0 495.7,639.1 496.1,639.1 496.6,639.1 497.0,639.1 497.5,639.1 497.9,638.9 498.4,638.0 498.8,635.2 499.3,629.1 499.7,620.5 500.2,614.4 500.6,615.6 501.1,623.0 501.5,631.2 502.0,636.3" fill="none" stroke="#5a60c6" stroke-width="0.75" stroke-linejoin="round"/>
<polyline points="399.4,639.1 399.9,639.1 400.3,639.1 400.8,639.1 401.2,639.1 401.6,639.1 402.1,639.1 402.5,639.1 403.0,639.1 403.4,639.1 403.9,639.1 404.3,639.1 404.8,639.1 405.2,639.1 405.7,639.1 406.1,639.1 406.6,639.1 407.0,639.1 407.5,639.1 407.9,639.1 408.4,639.1 408.8,639.1 409.3,639.1 409.7,639.1 410.2,639.0 410.6,638.4 411.1,636.2 411.5,630.9 412.0,622.5 412.4,615.0 412.9,614.0 413.3,620.4 413.8,629.1 414.2,635.3 414.7,638.0 415.1,638.9 415.6,639.1 416.0,639.1 416.5,639.1 416.9,639.1 417.4,639.1 417.8,639.1 418.3,639.1 418.7,639.1 419.2,639.1 419.6,639.1 420.1,639.1 420.5,639.1 421.0,639.1 421.4,639.1 421.9,639.1 422.3,639.1 422.8,639.1 423.2,639.1 423.7,639.1 424.1,639.1 424.6,639.1 425.0,639.1 425.5,639.1 425.9,639.1 426.4,639.1 426.8,639.1 427.3,639.1 427.7,639.1 428.2,639.1 428.6,639.1 429.1,639.1 429.5,639.1 430.0,639.1 430.4,639.1 430.9,639.1 431.3,639.1 431.8,639.1 432.2,639.1 432.7,639.1 433.1,639.1 433.6,639.1 434.0,639.1 434.5,639.1 434.9,639.1 435.4,639.1 435.8,639.1 436.3,639.1 436.7,639.0 437.2,638.6 437.6,637.0 438.1,632.7 438.5,624.9 439.0,616.6 439.4,613.5 439.9,618.2 440.3,626.9 440.8,634.0 441.2,637.6 441.7,638.8 442.1,639.0 442.6,639.1 443.0,639.1 443.5,639.1 443.9,639.1 444.4,639.1 444.8,639.1 445.3,639.1 445.7,639.1 446.2,639.1 446.6,639.1 447.1,639.1 447.5,639.1 448.0,639.1 448.4,639.1 448.9,639.1 449.3,639.1 449.8,639.1 450.2,639.1 450.7,639.1 451.1,639.1 451.6,639.1 452.0,639.1 452.5,639.1 452.9,639.1 453.4,639.1 453.8,639.1 454.3,639.1 454.7,639.1 455.2,639.1 455.6,639.1 456.1,639.1 456.5,639.1 457.0,639.1 457.4,639.1 457.9,639.1 458.3,639.1 458.8,639.1 459.2,639.1 459.7,639.1 460.1,639.1 460.6,639.1 461.0,639.1 461.5,639.1 461.9,639.1 462.4,639.1 462.8,639.1 463.3,639.1 463.7,639.1 464.2,639.1 464.6,639.1 465.1,639.1 465.5,639.1 466.0,639.1 466.4,639.1 466.9,639.1 467.3,639.1 467.8,639.1 468.2,639.1 468.7,639.1 469.1,639.1 469.6,639.1 470.0,639.1 470.5,639.1 470.9,639.1 471.4,639.1 471.8,639.1 472.3,639.1 472.7,639.1 473.2,639.1 473.6,639.1 474.1,639.1 474.5,639.1 475.0,639.1 475.4,639.1 475.9,639.1 476.3,639.1 476.8,639.1 477.2,639.1 477.7,639.1 478.1,639.1 478.6,639.1 479.0,639.1 479.5,639.1 479.9,639.1 480.4,639.1 480.8,639.1 481.3,639.1 481.7,639.1 482.2,639.1 482.6,639.1 483.1,639.1 483.5,639.1 484.0,639.1 484.4,639.1 484.9,639.1 485.3,639.1 485.8,639.1 486.2,639.1 486.7,639.1 487.1,639.1 487.6,639.1 488.0,639.1 488.5,639.1 488.9,639.1 489.4,639.1 489.8,639.1 490.3,639.1 490.7,639.1 491.2,639.1 491.6,639.1 492.1,639.1 492.5,639.1 493.0,639.1 493.4,639.1 493.9,639.1 494.3,639.1 494.8,639.1 495.2,639.1 495.7,639.1 496.1,639.1 496.6,639.1 497.0,639.1 497.5,639.1 497.9,639.1 498.4,639.1 498.8,639.1 499.3,639.1 499.7,639.1 500.2,639.1 500.6,639.1 501.1,639.1 501.5,639.1 502.0,639.1" fill="none" stroke="#3fc47c" stroke-width="0.75" stroke-linejoin="round"/>
<line x1="399.40" y1="639.30" x2="502.26" y2="639.30" stroke="#5ccf8e" stroke-width="0.8"/>
<polyline points="528.9,638.3 529.4,636.4 529.8,632.4 530.3,627.2 530.7,623.9 531.2,625.3 531.6,630.1 532.1,634.9 532.5,637.7 533.0,638.8 533.4,639.0 533.9,639.1 534.3,639.1 534.8,639.1 535.2,639.1 535.7,639.1 536.1,638.9 536.6,638.0 537.0,635.5 537.5,630.3 537.9,623.8 538.4,620.1 538.8,622.1 539.3,628.2 539.7,634.1 540.2,637.1 540.6,637.3 541.1,635.1 541.5,631.2 542.0,627.6 542.4,627.1 542.9,630.1 543.3,634.3 543.8,637.3 544.2,638.6 544.7,639.0 545.1,639.1 545.6,639.1 546.0,639.1 546.5,639.1 546.9,639.1 547.4,639.0 547.8,638.3 548.3,636.1 548.7,630.7 549.2,622.5 549.6,615.5 550.1,615.1 550.5,621.6 551.0,629.9 551.4,635.7 551.9,638.2 552.3,638.9 552.8,639.1 553.2,639.1 553.7,639.1 554.1,639.1 554.6,639.1 555.0,639.1 555.5,639.1 555.9,639.1 556.4,639.1 556.8,639.1 557.3,639.1 557.7,639.1 558.2,639.1 558.6,639.1 559.1,639.1 559.5,639.1 560.0,639.1 560.4,639.1 560.9,639.1 561.3,639.1 561.8,639.1 562.2,639.1 562.7,639.1 563.1,639.1 563.6,639.1 564.0,639.1 564.5,639.1 564.9,639.1 565.4,639.1 565.8,639.1 566.3,639.1 566.7,639.1 567.2,639.1 567.6,639.1 568.1,639.1 568.5,639.1 569.0,639.1 569.4,639.1 569.9,639.1 570.3,639.1 570.8,639.1 571.2,639.1 571.7,639.1 572.1,639.1 572.6,639.1 573.0,639.1 573.5,639.1 573.9,639.1 574.4,639.1 574.8,639.1 575.3,639.1 575.7,639.1 576.2,639.1 576.6,639.1 577.1,639.1 577.5,639.1 578.0,639.1 578.4,639.1 578.9,639.1 579.3,639.1 579.8,639.1 580.2,639.1 580.7,639.1 581.1,639.1 581.6,639.1 582.0,639.1 582.5,639.1 582.9,639.1 583.4,639.1 583.8,639.1 584.3,639.1 584.7,639.1 585.2,639.1 585.6,639.1 586.1,639.1 586.5,639.1 587.0,639.1 587.4,639.1 587.9,639.1 588.3,639.1 588.8,639.1 589.2,639.0 589.7,638.5 590.1,636.5 590.6,631.5 591.0,623.4 591.5,615.8 591.9,614.3 592.4,620.2 592.8,628.7 593.3,634.9 593.7,637.5 594.2,637.2 594.6,635.1 595.1,632.3 595.5,630.6 596.0,631.6 596.4,634.3 596.9,636.9 597.3,638.4 597.8,638.9 598.2,639.1 598.7,639.1 599.1,639.1 599.6,639.1 600.0,639.1 600.5,639.1 600.9,639.1 601.4,639.1 601.8,639.1 602.3,639.1 602.7,639.1 603.2,639.1 603.6,639.1 604.1,639.1 604.5,639.0 605.0,638.7 605.4,637.7 605.9,635.3 606.3,631.6 606.8,628.5 607.2,628.3 607.7,631.2 608.1,635.0 608.6,637.5 609.0,638.7 609.5,639.0 609.9,639.1 610.4,639.1 610.8,639.1 611.3,639.1 611.7,639.1 612.2,639.1 612.6,639.1 613.1,639.1 613.5,639.1 614.0,639.1 614.4,639.1 614.9,639.1 615.3,639.1 615.8,639.1 616.2,639.1 616.7,639.1 617.1,639.1 617.6,639.1 618.0,639.1 618.5,639.1 618.9,639.1 619.4,639.1 619.8,639.1 620.3,639.1 620.7,639.1 621.2,639.1 621.6,639.1 622.1,639.1 622.5,639.1 623.0,639.1 623.4,639.1 623.9,639.1 624.3,639.1 624.8,639.1 625.2,639.1 625.7,639.1 626.1,639.1 626.6,639.1 627.0,639.1 627.5,638.9 627.9,638.2 628.4,636.0 628.8,631.0 629.3,624.1 629.7,619.1 630.2,620.1 630.6,626.1 631.1,632.7 631.5,636.9 632.0,638.5 632.4,639.0 632.9,639.1 633.3,639.1 633.8,639.1 634.2,639.1 634.7,639.1 635.1,639.1 635.6,639.1 636.0,639.1 636.5,639.1 636.9,639.1 637.4,639.1 637.8,639.1 638.3,639.1 638.7,639.1 639.2,639.1 639.6,639.1 640.1,639.1 640.5,639.1 641.0,639.1 641.4,639.1 641.9,639.1 642.3,639.1 642.8,639.1 643.2,639.1 643.7,639.1 644.1,639.1 644.6,639.1 645.0,639.1 645.5,639.1 645.9,639.1 646.4,639.1 646.8,639.1 647.3,639.1 647.7,639.1 648.2,639.1 648.6,639.1 649.1,639.1 649.5,639.1 650.0,639.1 650.4,639.1 650.9,639.1 651.3,639.1 651.8,639.1 652.2,639.1 652.7,639.1 653.1,639.1 653.6,639.1 654.0,639.1 654.5,639.1 654.9,639.1 655.4,639.1 655.8,639.1 656.3,639.1 656.7,639.1 657.2,639.1 657.6,639.1 658.1,639.1 658.5,639.1 659.0,639.1 659.4,639.1 659.9,639.1 660.3,639.1 660.8,639.1 661.2,639.1 661.7,639.1 662.1,639.1 662.6,639.1 663.0,639.1 663.5,639.1 663.9,639.1 664.4,639.1 664.8,639.1 665.3,639.1 665.7,639.1 666.2,639.1 666.6,639.1 667.1,639.1 667.5,639.1 668.0,639.1 668.4,639.1 668.9,639.1 669.3,639.0 669.8,638.4 670.2,636.4 670.7,631.8 671.1,624.9 671.6,619.3 672.0,619.4 672.5,625.0 672.9,631.9 673.4,636.5 673.8,638.4 674.3,639.0 674.7,639.1 675.2,639.1 675.6,639.1 676.1,639.1 676.5,639.1 677.0,639.1 677.4,639.1 677.9,639.1 678.3,639.1 678.8,639.1 679.2,639.1 679.7,639.1 680.1,639.1 680.6,639.1 681.0,639.1" fill="none" stroke="#c9b86e" stroke-width="0.75" stroke-linejoin="round"/>
<polyline points="528.9,639.1 529.4,639.1 529.8,639.1 530.3,639.1 530.7,639.1 531.2,639.1 531.6,639.1 532.1,639.1 532.5,639.1 533.0,639.1 533.4,639.1 533.9,639.1 534.3,639.1 534.8,639.1 535.2,639.1 535.7,639.1 536.1,639.1 536.6,639.1 537.0,639.1 537.5,639.1 537.9,639.1 538.4,639.1 538.8,639.1 539.3,639.1 539.7,639.1 540.2,639.1 540.6,639.1 541.1,639.1 541.5,639.1 542.0,639.1 542.4,639.1 542.9,639.1 543.3,639.1 543.8,639.1 544.2,639.1 544.7,639.1 545.1,639.1 545.6,639.1 546.0,639.1 546.5,639.1 546.9,639.1 547.4,639.1 547.8,639.1 548.3,639.1 548.7,639.1 549.2,639.1 549.6,639.1 550.1,639.1 550.5,639.1 551.0,639.1 551.4,639.1 551.9,639.1 552.3,639.1 552.8,639.1 553.2,639.1 553.7,639.1 554.1,639.1 554.6,639.1 555.0,639.1 555.5,639.1 555.9,639.1 556.4,639.1 556.8,639.1 557.3,639.1 557.7,639.1 558.2,639.1 558.6,639.1 559.1,638.8 559.5,637.8 560.0,635.1 560.4,630.1 560.9,624.4 561.3,622.0 561.8,624.8 562.2,630.6 562.7,635.4 563.1,638.0 563.6,638.9 564.0,639.1 564.5,639.1 564.9,639.1 565.4,639.1 565.8,639.1 566.3,639.1 566.7,639.1 567.2,639.1 567.6,639.1 568.1,639.1 568.5,639.1 569.0,639.1 569.4,639.1 569.9,639.1 570.3,639.1 570.8,639.1 571.2,639.1 571.7,639.1 572.1,639.1 572.6,639.1 573.0,639.1 573.5,639.1 573.9,639.1 574.4,639.1 574.8,639.1 575.3,639.1 575.7,639.1 576.2,639.1 576.6,639.1 577.1,639.1 577.5,639.1 578.0,638.9 578.4,638.1 578.9,635.4 579.3,629.8 579.8,622.3 580.2,617.2 580.7,618.7 581.1,625.5 581.6,632.6 582.0,636.9 582.5,638.5 582.9,639.0 583.4,639.1 583.8,639.1 584.3,639.1 584.7,639.1 585.2,639.1 585.6,639.1 586.1,639.1 586.5,639.1 587.0,639.1 587.4,639.1 587.9,639.1 588.3,639.1 588.8,639.1 589.2,639.1 589.7,639.1 590.1,639.1 590.6,639.1 591.0,639.1 591.5,639.1 591.9,639.1 592.4,639.1 592.8,639.1 593.3,639.1 593.7,639.1 594.2,639.1 594.6,639.1 595.1,639.1 595.5,639.1 596.0,639.1 596.4,639.1 596.9,639.0 597.3,638.6 597.8,637.1 598.2,633.4 598.7,627.5 599.1,622.2 599.6,621.5 600.0,626.0 600.5,632.0 600.9,636.2 601.4,637.4 601.8,635.7 602.3,631.4 602.7,626.1 603.2,623.3 603.6,625.3 604.1,630.5 604.5,635.2 605.0,637.9 605.4,638.8 605.9,639.1 606.3,639.1 606.8,639.1 607.2,639.1 607.7,639.1 608.1,639.1 608.6,639.1 609.0,639.1 609.5,639.1 609.9,639.1 610.4,639.1 610.8,639.1 611.3,639.1 611.7,639.1 612.2,639.1 612.6,639.1 613.1,639.1 613.5,639.1 614.0,639.1 614.4,639.1 614.9,639.1 615.3,639.1 615.8,639.1 616.2,639.1 616.7,639.1 617.1,639.1 617.6,639.1 618.0,639.1 618.5,639.1 618.9,639.1 619.4,639.1 619.8,639.1 620.3,639.1 620.7,639.1 621.2,639.1 621.6,639.1 622.1,639.1 622.5,639.1 623.0,639.1 623.4,639.1 623.9,639.1 624.3,639.1 624.8,639.1 625.2,639.1 625.7,639.1 626.1,639.1 626.6,639.1 627.0,639.1 627.5,639.1 627.9,639.1 628.4,639.1 628.8,639.1 629.3,639.1 629.7,639.1 630.2,639.1 630.6,639.1 631.1,639.0 631.5,638.8 632.0,637.6 632.4,634.7 632.9,629.5 633.3,624.2 633.8,622.5 634.2,625.8 634.7,631.5 635.1,636.0 635.6,638.2 636.0,638.9 636.5,639.1 636.9,639.1 637.4,639.1 637.8,639.1 638.3,639.1 638.7,639.0 639.2,638.8 639.6,637.8 640.1,635.3 640.5,631.0 641.0,626.8 641.4,625.7 641.9,628.7 642.3,633.3 642.8,636.8 643.2,638.4 643.7,639.0 644.1,639.1 644.6,639.1 645.0,639.1 645.5,639.1 645.9,639.1 646.4,639.1 646.8,639.1 647.3,639.1 647.7,639.1 648.2,639.1 648.6,639.1 649.1,639.1 649.5,639.1 650.0,639.1 650.4,638.9 650.9,638.1 651.3,635.6 651.8,630.6 652.2,624.4 652.7,620.8 653.1,622.8 653.6,628.7 654.0,634.3 654.5,637.5 654.9,638.7 655.4,639.0 655.8,639.1 656.3,639.1 656.7,639.1 657.2,639.1 657.6,639.1 658.1,639.1 658.5,639.1 659.0,639.1 659.4,639.1 659.9,639.1 660.3,639.1 660.8,639.1 661.2,639.1 661.7,639.0 662.1,638.6 662.6,637.1 663.0,633.5 663.5,627.9 663.9,623.2 664.4,622.9 664.8,627.3 665.3,632.9 665.7,636.8 666.2,638.5 666.6,639.0 667.1,639.1 667.5,639.1 668.0,639.1 668.4,639.1 668.9,639.1 669.3,639.1 669.8,639.1 670.2,639.1 670.7,639.1 671.1,639.1 671.6,639.1 672.0,639.1 672.5,639.1 672.9,639.1 673.4,639.1 673.8,639.1 674.3,639.1 674.7,639.1 675.2,639.1 675.6,639.1 676.1,639.1 676.5,639.1 677.0,639.1 677.4,639.1 677.9,639.1 678.3,639.1 678.8,639.1 679.2,639.1 679.7,639.1 680.1,639.1 680.6,639.1 681.0,639.1" fill="none" stroke="#d9505f" stroke-width="0.75" stroke-linejoin="round"/>
<polyline points="528.9,639.1 529.4,639.1 529.8,639.1 530.3,639.1 530.7,639.1 531.2,639.1 531.6,639.1 532.1,639.1 532.5,639.1 533.0,639.1 533.4,639.1 533.9,639.1 534.3,639.1 534.8,639.1 535.2,639.1 535.7,639.1 536.1,639.1 536.6,639.1 537.0,639.1 537.5,639.1 537.9,639.1 538.4,639.1 538.8,639.1 539.3,639.1 539.7,639.1 540.2,639.1 540.6,639.1 541.1,639.1 541.5,639.1 542.0,639.1 542.4,639.1 542.9,639.1 543.3,639.1 543.8,639.1 544.2,639.1 544.7,639.1 545.1,639.1 545.6,639.1 546.0,639.1 546.5,639.1 546.9,639.1 547.4,639.1 547.8,639.1 548.3,639.1 548.7,639.1 549.2,639.1 549.6,639.1 550.1,639.1 550.5,639.1 551.0,639.1 551.4,639.1 551.9,639.1 552.3,639.1 552.8,639.1 553.2,639.1 553.7,639.1 554.1,639.1 554.6,639.1 555.0,639.1 555.5,639.1 555.9,639.1 556.4,639.1 556.8,639.1 557.3,639.1 557.7,639.1 558.2,639.1 558.6,639.1 559.1,639.1 559.5,639.1 560.0,639.1 560.4,639.1 560.9,639.1 561.3,639.1 561.8,639.1 562.2,639.1 562.7,638.9 563.1,638.0 563.6,635.1 564.0,628.6 564.5,619.2 564.9,612.0 565.4,612.7 565.8,620.7 566.3,629.9 566.7,635.8 567.2,638.2 567.6,638.9 568.1,639.1 568.5,639.1 569.0,639.1 569.4,639.1 569.9,639.1 570.3,639.0 570.8,638.4 571.2,636.7 571.7,632.8 572.1,627.5 572.6,623.6 573.0,624.4 573.5,629.0 573.9,634.2 574.4,637.4 574.8,638.7 575.3,639.0 575.7,639.1 576.2,639.1 576.6,639.1 577.1,639.1 577.5,639.1 578.0,639.1 578.4,639.1 578.9,639.1 579.3,639.1 579.8,639.1 580.2,639.1 580.7,639.1 581.1,639.1 581.6,639.1 582.0,639.1 582.5,639.1 582.9,639.1 583.4,639.1 583.8,639.1 584.3,639.1 584.7,639.1 585.2,639.1 585.6,639.1 586.1,639.1 586.5,639.1 587.0,639.1 587.4,639.1 587.9,639.1 588.3,639.1 588.8,639.1 589.2,639.1 589.7,639.1 590.1,639.1 590.6,639.1 591.0,639.1 591.5,639.1 591.9,639.1 592.4,639.1 592.8,639.1 593.3,639.1 593.7,639.1 594.2,639.1 594.6,639.1 595.1,639.1 595.5,639.1 596.0,639.1 596.4,639.1 596.9,639.1 597.3,639.1 597.8,639.1 598.2,639.1 598.7,639.1 599.1,639.1 599.6,639.1 600.0,639.1 600.5,639.1 600.9,639.1 601.4,639.1 601.8,639.1 602.3,639.1 602.7,639.1 603.2,639.1 603.6,639.1 604.1,639.1 604.5,639.1 605.0,639.1 605.4,639.1 605.9,639.1 606.3,639.1 606.8,639.1 607.2,639.1 607.7,639.1 608.1,639.1 608.6,638.8 609.0,637.9 609.5,635.4 609.9,630.4 610.4,624.7 610.8,622.0 611.3,624.5 611.7,630.2 612.2,635.2 612.6,637.9 613.1,638.8 613.5,639.1 614.0,639.1 614.4,639.1 614.9,639.1 615.3,639.1 615.8,639.1 616.2,638.9 616.7,638.1 617.1,635.9 617.6,632.0 618.0,627.5 618.5,625.6 618.9,627.8 619.4,632.4 619.8,636.2 620.3,638.2 620.7,638.9 621.2,639.1 621.6,639.1 622.1,639.1 622.5,639.1 623.0,639.1 623.4,639.1 623.9,639.1 624.3,639.1 624.8,639.1 625.2,639.1 625.7,639.1 626.1,639.1 626.6,639.1 627.0,639.1 627.5,639.1 627.9,639.1 628.4,639.1 628.8,639.1 629.3,639.1 629.7,639.1 630.2,639.1 630.6,639.1 631.1,639.1 631.5,639.1 632.0,639.1 632.4,639.1 632.9,639.1 633.3,639.1 633.8,639.1 634.2,639.1 634.7,639.1 635.1,639.1 635.6,639.1 636.0,639.1 636.5,639.1 636.9,639.1 637.4,639.1 637.8,639.1 638.3,639.1 638.7,639.1 639.2,639.1 639.6,639.1 640.1,639.1 640.5,639.1 641.0,639.1 641.4,639.1 641.9,639.1 642.3,639.1 642.8,638.8 643.2,637.7 643.7,634.1 644.1,626.8 644.6,617.3 645.0,611.3 645.5,613.8 645.9,622.5 646.4,631.2 646.8,635.8 647.3,635.8 647.7,631.2 648.2,623.0 648.6,615.2 649.1,613.6 649.5,619.6 650.0,628.5 650.4,634.9 650.9,637.9 651.3,638.9 651.8,639.1 652.2,639.1 652.7,639.1 653.1,639.1 653.6,639.1 654.0,639.1 654.5,639.1 654.9,639.1 655.4,639.1 655.8,639.1 656.3,639.1 656.7,639.1 657.2,639.1 657.6,639.1 658.1,638.9 658.5,638.2 659.0,636.0 659.4,631.8 659.9,626.7 660.3,624.0 660.8,625.9 661.2,630.9 661.7,635.4 662.1,637.9 662.6,638.8 663.0,639.1 663.5,639.1 663.9,639.1 664.4,639.1 664.8,639.1 665.3,639.1 665.7,639.1 666.2,639.1 666.6,639.1 667.1,639.1 667.5,639.1 668.0,639.1 668.4,639.1 668.9,639.1 669.3,639.1 669.8,639.1 670.2,639.1 670.7,639.1 671.1,639.1 671.6,639.1 672.0,639.1 672.5,639.1 672.9,639.0 673.4,638.7 673.8,637.4 674.3,633.7 674.7,626.9 675.2,619.3 675.6,616.1 676.1,619.9 676.5,627.6 677.0,634.0 677.4,636.7 677.9,635.6 678.3,630.6 678.8,623.2 679.2,617.5 679.7,618.0 680.1,624.4 680.6,631.7 681.0,636.5" fill="none" stroke="#5a60c6" stroke-width="0.75" stroke-linejoin="round"/>
<polyline points="528.9,639.1 529.4,639.1 529.8,639.1 530.3,639.1 530.7,639.1 531.2,639.1 531.6,639.1 532.1,639.1 532.5,638.8 533.0,638.0 533.4,635.8 533.9,632.3 534.3,629.0 534.8,628.4 535.2,630.9 535.7,634.6 536.1,637.3 536.6,638.6 537.0,639.0 537.5,639.1 537.9,639.1 538.4,639.1 538.8,639.1 539.3,639.1 539.7,639.1 540.2,639.1 540.6,639.1 541.1,639.1 541.5,639.1 542.0,639.1 542.4,639.1 542.9,639.1 543.3,639.1 543.8,639.0 544.2,638.5 544.7,637.2 545.1,634.6 545.6,631.5 546.0,629.9 546.5,631.1 546.9,634.1 547.4,636.9 547.8,638.4 548.3,638.9 548.7,639.1 549.2,639.1 549.6,639.1 550.1,639.1 550.5,639.1 551.0,639.1 551.4,639.0 551.9,638.5 552.3,637.0 552.8,634.3 553.2,631.2 553.7,629.7 554.1,631.1 554.6,634.2 555.0,636.8 555.5,637.7 555.9,636.2 556.4,631.6 556.8,624.6 557.3,619.0 557.7,619.1 558.2,624.8 558.6,631.8 559.1,636.4 559.5,638.4 560.0,639.0 560.4,639.1 560.9,639.1 561.3,639.1 561.8,639.1 562.2,639.1 562.7,639.1 563.1,639.1 563.6,639.1 564.0,639.1 564.5,639.1 564.9,639.1 565.4,639.1 565.8,639.1 566.3,639.0 566.7,638.6 567.2,637.1 567.6,632.9 568.1,625.3 568.5,617.2 569.0,614.2 569.4,618.7 569.9,627.2 570.3,634.1 570.8,637.6 571.2,638.8 571.7,639.1 572.1,639.1 572.6,639.1 573.0,639.1 573.5,639.1 573.9,639.0 574.4,638.6 574.8,636.9 575.3,632.6 575.7,625.0 576.2,617.2 576.6,614.7 577.1,619.7 577.5,628.0 578.0,634.5 578.4,637.8 578.9,638.8 579.3,639.1 579.8,639.1 580.2,639.1 580.7,639.1 581.1,639.1 581.6,639.0 582.0,638.5 582.5,636.7 582.9,632.1 583.4,624.3 583.8,616.5 584.3,614.5 584.7,619.9 585.2,628.3 585.6,634.6 586.1,636.9 586.5,635.6 587.0,631.1 587.4,625.0 587.9,621.1 588.3,622.7 588.8,628.4 589.2,634.1 589.7,637.4 590.1,638.7 590.6,639.0 591.0,639.1 591.5,639.1 591.9,639.1 592.4,639.1 592.8,639.1 593.3,639.1 593.7,639.1 594.2,639.1 594.6,639.1 595.1,639.1 595.5,639.1 596.0,639.1 596.4,639.1 596.9,639.1 597.3,639.1 597.8,639.1 598.2,639.1 598.7,639.1 599.1,639.1 599.6,639.1 600.0,639.1 600.5,639.1 600.9,639.1 601.4,639.1 601.8,639.1 602.3,639.1 602.7,639.1 603.2,639.1 603.6,639.1 604.1,639.1 604.5,639.1 605.0,639.1 605.4,639.1 605.9,639.1 606.3,639.1 606.8,639.1 607.2,639.1 607.7,639.1 608.1,639.1 608.6,639.1 609.0,639.1 609.5,639.1 609.9,639.1 610.4,639.1 610.8,639.1 611.3,639.1 611.7,639.1 612.2,638.9 612.6,638.3 613.1,635.9 613.5,630.5 614.0,622.5 614.4,616.0 614.9,616.1 615.3,622.7 615.8,630.7 616.2,636.0 616.7,638.3 617.1,638.9 617.6,639.1 618.0,639.1 618.5,639.1 618.9,639.1 619.4,639.1 619.8,638.9 620.3,638.2 620.7,635.7 621.2,630.2 621.6,622.2 622.1,616.1 622.5,616.7 623.0,623.4 623.4,631.2 623.9,636.0 624.3,637.1 624.8,634.9 625.2,630.0 625.7,624.7 626.1,622.7 626.6,625.7 627.0,631.3 627.5,635.8 627.9,638.1 628.4,638.9 628.8,639.1 629.3,639.1 629.7,639.1 630.2,639.1 630.6,639.1 631.1,639.1 631.5,639.1 632.0,639.1 632.4,639.1 632.9,639.1 633.3,639.1 633.8,639.1 634.2,639.1 634.7,639.1 635.1,638.9 635.6,638.2 636.0,635.8 636.5,630.9 636.9,624.2 637.4,619.7 637.8,621.0 638.3,627.0 638.7,633.3 639.2,637.1 639.6,638.6 640.1,639.0 640.5,639.1 641.0,639.1 641.4,639.1 641.9,639.1 642.3,639.1 642.8,639.1 643.2,639.1 643.7,639.1 644.1,639.1 644.6,639.1 645.0,639.1 645.5,639.1 645.9,639.1 646.4,639.1 646.8,639.1 647.3,639.1 647.7,639.1 648.2,639.1 648.6,639.1 649.1,639.1 649.5,639.1 650.0,639.1 650.4,639.1 650.9,639.1 651.3,639.1 651.8,639.1 652.2,639.1 652.7,639.1 653.1,639.1 653.6,639.1 654.0,639.0 654.5,638.4 654.9,636.5 655.4,631.8 655.8,624.3 656.3,617.5 656.7,616.6 657.2,622.3 657.6,630.1 658.1,635.7 658.5,638.2 659.0,638.9 659.4,639.1 659.9,639.1 660.3,639.1 660.8,639.1 661.2,639.1 661.7,639.1 662.1,639.1 662.6,639.1 663.0,639.1 663.5,639.1 663.9,639.1 664.4,639.1 664.8,639.1 665.3,639.0 665.7,638.8 666.2,637.5 666.6,634.1 667.1,627.5 667.5,619.8 668.0,616.1 668.4,619.5 668.9,627.1 669.3,633.8 669.8,637.4 670.2,638.7 670.7,639.0 671.1,639.1 671.6,639.1 672.0,639.1 672.5,639.1 672.9,639.1 673.4,639.1 673.8,639.1 674.3,639.1 674.7,639.1 675.2,639.1 675.6,639.1 676.1,639.1 676.5,639.1 677.0,639.1 677.4,639.1 677.9,639.1 678.3,639.1 678.8,639.1 679.2,639.1 679.7,639.1 680.1,639.1 680.6,639.1 681.0,639.1" fill="none" stroke="#3fc47c" stroke-width="0.75" stroke-linejoin="round"/>
<line x1="528.94" y1="639.30" x2="681.33" y2="639.30" stroke="#5ccf8e" stroke-width="0.8"/>
<text x="401.30" y="644.00" font-size="4.6" font-weight="bold" fill="#222" text-anchor="middle">G</text>
<text x="405.11" y="644.00" font-size="4.6" font-weight="bold" fill="#222" text-anchor="middle">G</text>
<text x="408.92" y="644.00" font-size="4.6" font-weight="bold" fill="#222" text-anchor="middle">C</text>
<text x="412.73" y="644.00" font-size="4.6" font-weight="bold" fill="#222" text-anchor="middle">T</text>
<text x="416.54" y="644.00" font-size="4.6" font-weight="bold" fill="#222" text-anchor="middle">G</text>
<text x="420.35" y="644.00" font-size="4.6" font-weight="bold" fill="#222" text-anchor="middle">G</text>
<text x="424.16" y="644.00" font-size="4.6" font-weight="bold" fill="#222" text-anchor="middle">A</text>
<text x="427.97" y="644.00" font-size="4.6" font-weight="bold" fill="#222" text-anchor="middle">A</text>
<text x="431.78" y="644.00" font-size="4.6" font-weight="bold" fill="#222" text-anchor="middle">G</text>
<text x="435.59" y="644.00" font-size="4.6" font-weight="bold" fill="#222" text-anchor="middle">C</text>
<text x="439.40" y="644.00" font-size="4.6" font-weight="bold" fill="#222" text-anchor="middle">T</text>
<text x="443.21" y="644.00" font-size="4.6" font-weight="bold" fill="#222" text-anchor="middle">G</text>
<text x="447.02" y="644.00" font-size="4.6" font-weight="bold" fill="#222" text-anchor="middle">G</text>
<text x="450.83" y="644.00" font-size="4.6" font-weight="bold" fill="#222" text-anchor="middle">A</text>
<text x="454.64" y="644.00" font-size="4.6" font-weight="bold" fill="#222" text-anchor="middle">C</text>
<text x="458.45" y="644.00" font-size="4.6" font-weight="bold" fill="#222" text-anchor="middle">A</text>
<text x="462.26" y="644.00" font-size="4.6" font-weight="bold" fill="#222" text-anchor="middle">G</text>
<text x="466.07" y="644.00" font-size="4.6" font-weight="bold" fill="#222" text-anchor="middle">G</text>
<text x="469.88" y="644.00" font-size="4.6" font-weight="bold" fill="#222" text-anchor="middle">A</text>
<text x="473.69" y="644.00" font-size="4.6" font-weight="bold" fill="#222" text-anchor="middle">A</text>
<text x="477.50" y="644.00" font-size="4.6" font-weight="bold" fill="#222" text-anchor="middle">G</text>
<text x="481.31" y="644.00" font-size="4.6" font-weight="bold" fill="#222" text-anchor="middle">G</text>
<text x="485.12" y="644.00" font-size="4.6" font-weight="bold" fill="#222" text-anchor="middle">A</text>
<text x="488.93" y="644.00" font-size="4.6" font-weight="bold" fill="#222" text-anchor="middle">G</text>
<text x="492.74" y="644.00" font-size="4.6" font-weight="bold" fill="#222" text-anchor="middle">C</text>
<text x="496.55" y="644.00" font-size="4.6" font-weight="bold" fill="#222" text-anchor="middle">A</text>
<text x="500.36" y="644.00" font-size="4.6" font-weight="bold" fill="#222" text-anchor="middle">C</text>
<text x="504.17" y="644.00" font-size="4.6" font-weight="bold" fill="#222" text-anchor="middle">-</text>
<text x="507.98" y="644.00" font-size="4.6" font-weight="bold" fill="#222" text-anchor="middle">-</text>
<text x="511.79" y="644.00" font-size="4.6" font-weight="bold" fill="#222" text-anchor="middle">-</text>
<text x="515.60" y="644.00" font-size="4.6" font-weight="bold" fill="#222" text-anchor="middle">-</text>
<text x="519.41" y="644.00" font-size="4.6" font-weight="bold" fill="#222" text-anchor="middle">-</text>
<text x="523.22" y="644.00" font-size="4.6" font-weight="bold" fill="#222" text-anchor="middle">-</text>
<text x="527.03" y="644.00" font-size="4.6" font-weight="bold" fill="#222" text-anchor="middle">-</text>
<text x="530.84" y="644.00" font-size="4.6" font-weight="bold" fill="#222" text-anchor="middle">G</text>
<text x="534.65" y="644.00" font-size="4.6" font-weight="bold" fill="#222" text-anchor="middle">T</text>
<text x="538.46" y="644.00" font-size="4.6" font-weight="bold" fill="#222" text-anchor="middle">G</text>
<text x="542.27" y="644.00" font-size="4.6" font-weight="bold" fill="#222" text-anchor="middle">G</text>
<text x="546.08" y="644.00" font-size="4.6" font-weight="bold" fill="#222" text-anchor="middle">T</text>
<text x="549.89" y="644.00" font-size="4.6" font-weight="bold" fill="#222" text-anchor="middle">G</text>
<text x="553.70" y="644.00" font-size="4.6" font-weight="bold" fill="#222" text-anchor="middle">T</text>
<text x="557.51" y="644.00" font-size="4.6" font-weight="bold" fill="#222" text-anchor="middle">T</text>
<text x="561.32" y="644.00" font-size="4.6" font-weight="bold" fill="#222" text-anchor="middle">A</text>
<text x="565.13" y="644.00" font-size="4.6" font-weight="bold" fill="#222" text-anchor="middle">C</text>
<text x="568.94" y="644.00" font-size="4.6" font-weight="bold" fill="#222" text-anchor="middle">T</text>
<text x="572.75" y="644.00" font-size="4.6" font-weight="bold" fill="#222" text-anchor="middle">C</text>
<text x="576.56" y="644.00" font-size="4.6" font-weight="bold" fill="#222" text-anchor="middle">T</text>
<text x="580.37" y="644.00" font-size="4.6" font-weight="bold" fill="#222" text-anchor="middle">A</text>
<text x="584.18" y="644.00" font-size="4.6" font-weight="bold" fill="#222" text-anchor="middle">T</text>
<text x="587.99" y="644.00" font-size="4.6" font-weight="bold" fill="#222" text-anchor="middle">T</text>
<text x="591.80" y="644.00" font-size="4.6" font-weight="bold" fill="#222" text-anchor="middle">G</text>
<text x="595.61" y="644.00" font-size="4.6" font-weight="bold" fill="#222" text-anchor="middle">G</text>
<text x="599.42" y="644.00" font-size="4.6" font-weight="bold" fill="#222" text-anchor="middle">A</text>
<text x="603.23" y="644.00" font-size="4.6" font-weight="bold" fill="#222" text-anchor="middle">A</text>
<text x="607.04" y="644.00" font-size="4.6" font-weight="bold" fill="#222" text-anchor="middle">G</text>
<text x="610.85" y="644.00" font-size="4.6" font-weight="bold" fill="#222" text-anchor="middle">C</text>
<text x="614.66" y="644.00" font-size="4.6" font-weight="bold" fill="#222" text-anchor="middle">T</text>
<text x="618.47" y="644.00" font-size="4.6" font-weight="bold" fill="#222" text-anchor="middle">C</text>
<text x="622.28" y="644.00" font-size="4.6" font-weight="bold" fill="#222" text-anchor="middle">T</text>
<text x="626.09" y="644.00" font-size="4.6" font-weight="bold" fill="#222" text-anchor="middle">T</text>
<text x="629.90" y="644.00" font-size="4.6" font-weight="bold" fill="#222" text-anchor="middle">G</text>
<text x="633.71" y="644.00" font-size="4.6" font-weight="bold" fill="#222" text-anchor="middle">A</text>
<text x="637.52" y="644.00" font-size="4.6" font-weight="bold" fill="#222" text-anchor="middle">T</text>
<text x="641.33" y="644.00" font-size="4.6" font-weight="bold" fill="#222" text-anchor="middle">A</text>
<text x="645.14" y="644.00" font-size="4.6" font-weight="bold" fill="#222" text-anchor="middle">C</text>
<text x="648.95" y="644.00" font-size="4.6" font-weight="bold" fill="#222" text-anchor="middle">C</text>
<text x="652.76" y="644.00" font-size="4.6" font-weight="bold" fill="#222" text-anchor="middle">A</text>
<text x="656.57" y="644.00" font-size="4.6" font-weight="bold" fill="#222" text-anchor="middle">T</text>
<text x="660.38" y="644.00" font-size="4.6" font-weight="bold" fill="#222" text-anchor="middle">C</text>
<text x="664.19" y="644.00" font-size="4.6" font-weight="bold" fill="#222" text-anchor="middle">A</text>
<text x="668.00" y="644.00" font-size="4.6" font-weight="bold" fill="#222" text-anchor="middle">T</text>
<text x="671.81" y="644.00" font-size="4.6" font-weight="bold" fill="#222" text-anchor="middle">G</text>
<text x="675.62" y="644.00" font-size="4.6" font-weight="bold" fill="#222" text-anchor="middle">C</text>
<text x="679.43" y="644.00" font-size="4.6" font-weight="bold" fill="#222" text-anchor="middle">C</text>
<text x="10.9" y="590.1" font-size="8.7" fill="#222"><tspan font-style="italic">depdc5</tspan> WT</text>
<text x="10.9" y="625.2" font-size="8.7" fill="#222"><tspan font-style="italic">depdc5</tspan> MUT</text>
<text x="352.7" y="590.2" font-size="8.7" fill="#222"><tspan font-style="italic">eef1a2</tspan> WT</text>
<text x="352.7" y="624.6" font-size="8.7" fill="#222"><tspan font-style="italic">eef1a2</tspan> MUT</text>
<text x="56.30" y="643.20" font-size="8.7" font-weight="normal" font-style="italic" fill="#222" text-anchor="end" >&#916; -14</text>
<text x="395.80" y="643.50" font-size="8.7" font-weight="normal" font-style="italic" fill="#222" text-anchor="end" >&#916; -7</text>
</svg>
</body></html>
